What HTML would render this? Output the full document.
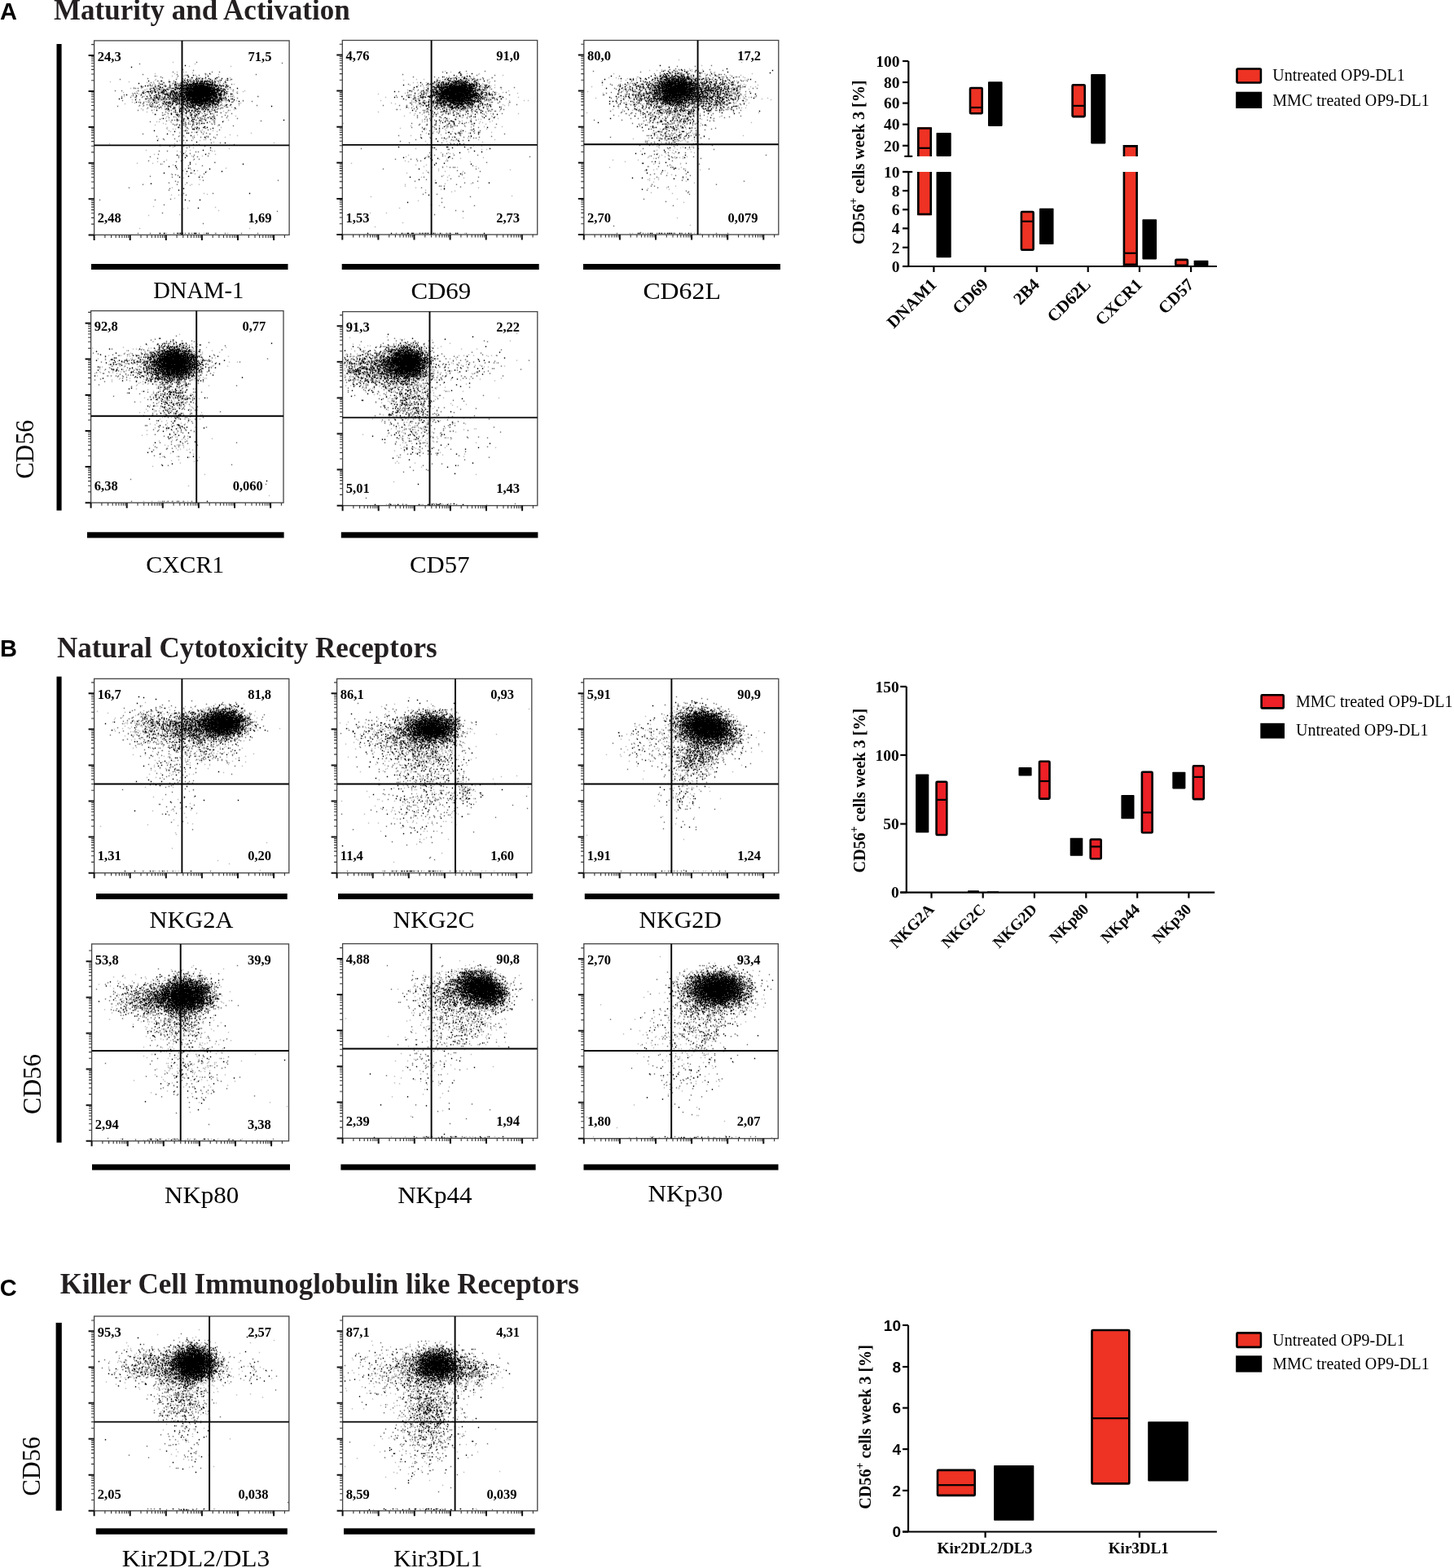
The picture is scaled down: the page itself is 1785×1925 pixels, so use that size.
<!DOCTYPE html>
<html><head><meta charset="utf-8"><title>NK cell phenotype</title>
<style>html,body{margin:0;padding:0;background:#fff;width:1785px;height:1925px;overflow:hidden}svg{display:block}</style>
</head><body>
<svg width="1785" height="1925" viewBox="0 0 1785 1925">
<rect width="1785" height="1925" fill="#fff"/>
<text x="0.0" y="24.1" font-family="'Liberation Sans', sans-serif" font-size="29" font-weight="bold" text-anchor="start" >A</text>
<text x="66.0" y="24.3" font-family="'Liberation Serif', serif" font-size="35" font-weight="bold" text-anchor="start" fill="#231F20">Maturity and Activation</text>
<rect x="69.5" y="54.0" width="6.1" height="572.7" fill="#000"/>
<text transform="translate(41.0,551.7) rotate(-90)" font-family="'Liberation Serif', serif" font-size="31.5" font-weight="normal" text-anchor="middle" textLength="72.2" lengthAdjust="spacingAndGlyphs">CD56</text>
<g transform="translate(116.5,50.5)" fill="none" stroke-linecap="square" stroke-width="1.4">
<path d="M96 26h0m27 2h0m-7 3h0m51 0h0m-66 7h0m8 0h0m3 0h0m8 1h0m-46 1h0m24 0h0m37 0h0m3 1h0m4 0h0m10 0h0m-42 1h0m13 0h1m-48 1h0m19 0h0m14 0h0m6 0h0m21 0h0m-22 1h0m-13 1h0m26 0h0m2 0h1m19 0h0m17 0h0m-49 1h0m16 0h0m2 0h0m27 0h0m-87 1h0m34 0h0m8 0h0m2 0h0m8 0h0m3 0h1m5 0h0m13 0h0m-75 1h0m17 0h0m34 0h0m2 0h0m22 0h0m17 0h0m-88 1h0m29 0h0m13 0h1m7 0h0m6 0h0m4 0h0m16 0h0m-135 1h0m23 0h0m30 0h0m39 0h0m17 0h0m2 0h0m9 0h0m4 0h2m9 0h0m-90 1h0m8 0h0m7 0h0m18 0h0m10 0h0m2 0h0m9 0h0m2 0h0m7 0h0m4 0h0m2 0h0m2 0h0m3 0h0m10 0h0m6 0h0m6 0h0m-93 1h0m6 0h0m22 0h0m7 0h0m2 0h0m4 0h0m2 0h1m6 0h1m4 0h0m5 0h0m7 0h0m17 0h2m-82 1h0m15 0h0m16 0h0m2 0h0m5 0h0m2 0h0m16 0h0m8 0h0m13 0h0m12 0h0m11 0h0m-105 1h0m5 0h0m24 0h0m7 0h0m2 0h0m36 0h0m-65 1h0m2 0h0m22 0h0m2 0h0m10 0h0m10 0h0m21 0h0m10 0h0m-84 1h0m7 0h0m3 0h0m23 0h0m9 0h1m33 0h0m7 0h0m9 0h0m-112 1h0m26 0h0m2 0h0m17 0h0m25 0h0m35 0h0m7 0h0m-116 1h0m13 0h0m11 0h1m13 0h0m2 0h0m9 0h0m4 0h0m3 0h0m46 0h0m6 0h0m4 0h0m5 0h0m-97 1h0m12 0h1m13 0h0m13 0h0m8 0h0m33 0h0m9 0h0m3 0h0m8 0h0m3 0h0m-106 1h1m14 0h0m2 0h0m15 0h1m7 0h0m2 0h0m12 0h0m3 0h0m34 0h0m5 0h0m-103 1h0m5 0h0m27 0h0m16 0h1m7 0h1m9 0h0m49 0h0m15 0h0m-133 1h0m18 0h1m9 0h0m2 0h0m15 0h0m5 0h0m2 0h0m2 0h0m5 0h0m4 0h0m35 0h0m3 0h0m12 0h0m6 0h0m5 0h0m7 0h0m-147 1h0m53 0h1m2 0h0m13 0h1m47 0h0m2 0h0m2 0h0m2 0h1m15 0h0m-128 1h0m13 0h0m7 0h0m14 0h2m20 0h0m6 0h0m41 0h0m12 0h0m6 0h0m-117 1h0m4 0h0m33 0h0m16 0h1m2 0h0m3 0h2m47 0h0m5 0h0m-101 1h0m7 0h0m9 0h0m8 0h0m6 0h0m3 0h0m53 0h0m2 0h1m6 0h0m10 0h0m-122 1h0m11 0h0m11 0h0m9 0h0m2 0h0m5 0h0m10 0h1m10 0h0m40 0h0m7 0h1m4 0h0m5 0h0m9 0h0m-134 1h0m25 0h0m18 0h0m3 0h0m17 0h0m2 0h1m9 0h0m31 0h0m3 0h0m7 0h0m6 0h0m43 0h0m-152 1h0m23 0h0m3 0h0m17 0h0m14 0h0m5 0h0m3 0h0m4 0h0m29 0h0m8 0h1m5 0h0m10 0h0m-120 1h0m17 0h0m22 0h0m5 0h0m8 0h0m15 0h0m28 0h0m5 0h0m-86 1h0m12 0h0m13 0h0m11 0h0m2 0h0m2 0h0m4 0h0m35 0h0m7 0h0m-105 1h0m37 0h0m6 0h0m2 0h0m52 0h1m14 0h0m3 0h0m-93 1h0m7 0h0m12 0h0m7 0h0m13 0h0m3 0h1m10 0h0m6 0h0m20 0h0m11 0h1m12 0h0m3 0h0m-112 1h0m2 0h0m3 0h0m10 0h0m3 0h0m3 0h0m7 0h0m3 0h0m7 0h0m2 0h3m6 0h0m6 0h0m23 0h0m2 0h0m40 0h0m-136 1h0m18 0h0m22 0h0m4 0h0m8 0h0m8 0h0m2 0h0m8 0h0m21 0h2m13 0h0m9 0h0m-112 1h0m52 0h0m5 0h1m8 0h0m15 0h0m13 0h1m3 0h0m3 0h0m29 0h0m-142 1h0m46 0h0m16 0h0m9 0h0m3 0h0m6 0h1m4 0h0m4 0h0m8 0h0m17 0h0m5 0h0m-70 1h0m15 0h0m4 0h0m7 0h0m3 0h1m23 0h0m21 0h0m-93 1h0m7 0h0m19 0h0m6 0h1m4 0h0m2 0h0m30 0h0m20 0h1m20 0h0m-123 1h0m5 0h0m15 0h0m23 0h0m6 0h0m16 0h0m5 0h0m7 0h0m9 0h0m11 0h0m-62 1h0m10 0h0m15 0h1m23 0h0m6 0h0m17 0h0m7 0h0m-92 1h0m10 0h0m13 0h0m4 0h0m2 0h0m4 0h0m14 0h1m9 0h0m8 0h0m10 0h0m5 0h0m-99 1h0m7 0h0m12 0h0m6 0h0m38 0h0m2 0h0m7 0h0m11 0h0m3 0h0m9 0h0m-93 1h0m14 0h0m13 0h0m12 0h0m9 0h0m6 0h0m2 0h0m9 0h0m3 0h1m15 0h0m28 0h0m-112 1h0m30 0h0m3 0h0m22 0h0m8 0h0m2 0h0m8 0h0m6 0h0m2 0h0m8 0h0m18 0h0m-45 1h0m5 0h0m32 0h0m-94 1h0m45 0h0m6 0h0m23 0h1m24 0h0m-92 1h0m18 0h0m5 0h0m5 0h0m11 0h1m10 0h0m10 0h0m23 0h0m-61 1h0m26 0h0m13 0h0m14 0h0m-71 1h0m29 0h0m14 0h0m6 0h0m3 0h0m10 0h0m5 0h0m-32 1h0m13 0h0m4 0h0m7 0h0m-44 1h0m14 0h0m12 0h0m10 0h0m19 0h0m28 0h0m-85 1h0m11 0h0m6 0h0m8 0h1m12 0h0m5 0h0m-31 1h0m13 0h0m17 0h0m12 0h0m4 0h0m-64 1h0m5 0h0m22 0h0m28 0h0m-27 1h0m4 0h0m18 0h0m16 0h0m-57 1h0m3 0h0m18 0h0m3 0h0m10 0h0m19 0h0m20 0h0m-70 1h0m8 0h0m14 0h0m20 0h0m22 0h0m-82 1h0m3 0h0m14 0h0m18 0h0m6 0h0m15 0h0m-38 1h0m12 0h0m6 0h0m11 0h0m23 0h0m-62 1h0m24 0h0m12 0h0m23 0h0m-56 1h0m42 0h0m-55 1h0m38 0h0m10 0h0m6 0h0m-21 1h0m5 0h0m39 0h0m-48 1h1m21 0h0m-36 1h0m18 0h0m12 0h0m36 0h0m-67 1h0m17 0h0m30 0h0m-46 1h0m7 0h0m3 0h0m13 0h0m3 0h0m7 1h0m5 0h1m4 0h0m-41 1h0m18 0h0m21 0h0m15 0h0m-52 1h0m33 0h0m4 0h0m4 0h0m16 0h0m-46 1h0m19 0h0m11 0h0m-30 1h0m88 0h0m-50 1h0m-16 1h0m40 0h0m-62 1h0m18 0h0m53 0h0m-66 1h0m11 0h0m-9 1h0m9 0h0m40 0h0m-40 1h0m-42 1h0m43 0h0m13 1h0m2 0h0m-32 1h0m25 0h0m17 2h0m-35 1h0m109 0h0m-202 1h0m80 0h0m27 1h0m-15 1h0m-14 2h0m25 1h0m44 1h0m-102 2h0m54 0h0m-16 1h0m11 0h0m32 0h0m3 0h0m-42 1h0m6 1h0m-38 2h0m75 0h0m-40 1h0m11 1h0m13 0h0m-44 5h0m20 0h0m13 0h0m-44 2h0m71 1h0m-96 1h0m19 0h0m12 1h0m41 0h0m-28 1h0m65 4h0m-50 1h0m7 1h0m8 1h0m11 1h0m-17 2h0m-26 1h0m18 0h0m11 0h0m6 2h0m-20 3h0m20 2h0m-18 6h0m8 0h0m9 0h0m-11 1h0m-22 3h0m39 7h0m4 1h0m-44 1h0m9 0h0m-5 4h0m-26 10h0m76 1h0m-34 1h0m-5 1h0m43 2h0m-48 5h0m-38 1h0m-11 16h0m135 0h0m-111 6h0m9 0h0m18 0h0m19 0h0m9 0h0m15 0h0m14 0h0" stroke="#bdbdbd"/>
<path d="M125 26h0m105 1h0m-175 1h0m53 7h0m13 1h0m-25 2h0m48 0h0m9 0h0m-17 2h0m-77 1h0m42 0h0m35 0h0m62 0h0m-86 1h0m16 0h0m-54 1h0m28 0h0m-21 1h0m44 0h0m27 0h0m-69 1h0m37 0h0m-55 1h0m43 0h0m3 0h0m-80 1h0m69 0h0m14 0h0m12 0h0m6 0h0m35 0h1m-55 1h0m3 0h2m3 0h0m11 0h0m6 0h0m3 0h0m3 0h0m3 0h0m6 0h0m8 0h0m-84 1h0m4 0h0m16 0h0m11 0h0m3 0h0m6 0h0m7 0h0m7 0h0m6 0h0m4 0h0m10 0h0m-42 1h0m11 0h1m5 0h0m3 0h0m5 0h0m4 0h0m2 0h0m2 0h0m10 0h0m-83 1h0m15 0h1m14 0h0m9 0h0m24 0h0m29 0h0m-82 1h0m17 0h0m3 0h0m2 0h0m4 0h1m8 0h0m2 0h0m31 0h0m11 0h0m-66 1h0m6 0h0m5 0h0m5 0h0m17 0h0m6 0h1m36 0h0m-94 1h0m5 0h0m28 0h1m2 0h0m4 0h0m14 0h0m26 0h0m3 0h0m4 0h0m-104 1h0m13 0h0m15 0h1m7 0h0m11 0h0m2 0h0m2 0h0m5 0h0m4 0h0m20 0h0m2 0h0m2 0h0m4 0h0m6 0h0m3 0h0m2 0h1m5 0h0m2 0h0m-105 1h0m28 0h0m11 0h0m2 0h0m20 0h0m7 0h0m21 0h0m4 0h0m3 0h0m-97 1h0m14 0h0m9 0h0m9 0h0m12 0h0m8 0h1m33 0h0m17 0h0m-113 1h0m2 0h0m3 0h0m17 0h0m6 0h0m2 0h0m16 0h1m9 0h0m3 0h0m47 0h0m-80 1h0m6 0h0m5 0h0m3 0h0m3 0h0m10 0h0m5 0h1m9 0h0m27 0h0m4 0h0m3 0h0m4 0h1m2 0h0m6 0h0m-89 1h0m6 0h0m2 0h0m3 0h0m2 0h0m3 0h0m64 0h0m16 0h0m-145 1h0m8 0h0m20 0h0m18 0h0m6 0h0m17 0h0m12 0h0m45 0h0m-91 1h0m11 0h0m4 0h0m7 0h0m6 0h0m5 0h0m2 0h0m5 0h0m9 0h0m37 0h0m2 0h0m-86 1h0m4 0h0m3 0h0m2 0h0m4 0h0m6 0h0m3 0h1m8 0h0m2 0h1m6 0h0m49 0h0m-102 1h0m3 0h0m6 0h0m21 0h0m9 0h0m2 0h0m2 0h0m3 0h0m14 0h0m4 0h0m62 0h0m-128 1h0m20 0h0m16 0h0m2 0h0m7 0h0m5 0h0m4 0h0m7 0h0m39 0h0m9 0h0m3 0h0m2 0h0m7 0h1m-133 1h0m40 0h0m15 0h0m62 0h0m5 0h0m-111 1h0m58 0h0m45 0h0m8 0h0m-125 1h0m18 0h0m8 0h0m17 0h0m4 0h0m16 0h2m5 0h0m12 0h0m29 0h0m11 0h0m9 0h0m3 0h0m2 0h0m31 0h0m-156 1h0m6 0h0m8 0h0m15 0h0m4 0h0m2 0h0m4 0h0m2 0h1m3 0h0m2 0h0m11 0h0m6 0h0m16 0h0m16 0h0m11 0h0m2 0h0m-88 1h0m4 0h0m12 0h0m3 0h0m10 0h0m8 0h0m2 0h0m31 0h0m26 0h0m14 0h0m-113 1h0m5 0h0m2 0h0m2 0h0m7 0h0m7 0h0m6 0h0m4 0h0m2 0h0m2 0h0m48 0h0m2 0h0m3 0h0m7 0h0m8 0h1m-113 1h0m16 0h0m2 0h1m6 0h0m5 0h0m2 0h0m10 0h1m2 0h1m2 0h1m6 0h0m2 0h0m5 0h0m32 0h1m-116 1h0m32 0h0m7 0h0m22 0h1m6 0h1m9 0h0m28 0h0m9 0h0m4 0h0m8 0h0m2 0h0m19 0h0m-107 1h0m17 0h0m52 0h0m3 0h0m4 0h0m3 0h0m16 0h0m23 0h0m-139 1h0m2 0h0m4 0h0m6 0h0m4 0h0m8 0h0m9 0h0m2 0h0m6 0h0m5 0h0m3 0h0m7 0h0m5 0h0m3 0h0m14 0h0m18 0h0m3 0h0m2 0h0m13 0h1m-113 1h0m4 0h0m8 0h0m6 0h0m9 0h0m4 0h0m4 0h0m13 0h0m7 0h1m4 0h0m18 0h0m5 0h0m10 0h0m2 0h0m-92 1h0m26 0h0m5 0h0m6 0h0m6 0h0m13 0h0m6 0h0m6 0h0m9 0h0m3 0h0m6 0h0m3 0h0m29 0h0m-113 1h0m3 0h0m2 0h0m10 0h0m28 0h1m2 0h0m3 0h0m12 0h0m2 0h0m2 0h1m4 0h0m4 0h0m7 0h0m2 0h0m8 0h0m-100 1h0m5 0h0m11 0h0m12 0h0m11 0h0m13 0h0m10 0h1m4 0h0m9 0h0m3 0h0m13 0h1m3 0h0m3 0h0m12 0h0m33 0h0m-171 1h0m40 0h0m3 0h0m15 0h0m18 0h0m3 0h0m16 0h0m10 0h0m2 0h0m4 0h0m13 0h0m7 0h0m-89 1h0m3 0h0m2 0h0m22 0h0m10 0h2m4 0h0m5 0h0m13 0h2m2 0h0m6 0h1m5 0h1m14 0h1m-98 1h0m25 0h0m14 0h0m6 0h0m4 0h0m7 0h0m7 0h0m2 0h2m16 0h0m7 0h0m2 0h0m-59 1h0m8 0h0m3 0h0m6 0h0m9 0h2m8 0h2m2 0h0m13 0h0m3 0h0m19 0h0m-86 1h0m4 0h0m15 0h0m3 0h0m7 0h0m15 0h0m7 0h0m2 0h0m4 0h0m3 0h0m3 0h0m-97 1h0m17 0h0m24 0h0m26 0h0m19 0h0m6 0h0m19 0h0m-73 1h0m18 0h0m4 0h0m3 0h0m13 0h0m5 0h0m7 0h0m2 0h0m-56 1h0m10 0h0m37 0h0m-51 1h0m18 0h0m17 0h0m37 0h0m6 0h0m-71 1h0m33 0h0m12 0h0m9 0h0m24 0h0m-82 1h0m22 0h0m9 0h0m21 0h0m-55 1h1m18 0h0m2 0h0m18 0h0m2 0h1m21 0h0m4 0h0m10 0h0m-58 1h0m10 0h0m6 0h1m5 0h0m11 0h0m28 0h0m-66 1h0m6 0h0m20 0h0m18 0h0m3 0h3m9 0h0m-65 1h0m30 0h0m2 0h0m3 0h0m3 0h0m6 0h0m27 0h0m-52 1h0m17 0h0m3 0h0m2 0h0m10 0h0m33 0h0m-95 1h0m51 0h0m3 0h1m10 0h0m-50 1h0m3 0h0m5 0h0m16 0h0m2 0h0m3 0h0m-36 1h0m13 0h0m5 0h0m22 0h0m2 0h1m15 0h1m57 0h0m-136 1h0m52 0h0m21 0h0m-30 1h0m4 0h0m10 0h0m3 0h0m19 0h0m-38 1h0m2 0h0m4 0h0m6 0h0m5 0h0m2 0h0m4 0h0m-36 1h0m5 0h0m11 0h0m3 0h0m2 0h0m4 0h0m23 0h0m3 0h0m-49 1h0m2 0h0m9 0h0m2 0h0m41 0h1m17 1h0m-59 1h0m8 0h0m-17 1h0m11 0h0m10 0h0m10 0h0m-19 1h0m22 0h0m-11 1h0m17 0h0m-3 1h0m14 0h0m-40 1h0m6 2h0m12 0h0m6 1h0m-78 1h0m74 0h0m8 0h0m-45 1h0m54 0h0m-41 1h0m-33 1h0m27 0h0m34 0h0m2 0h0m-17 1h0m8 0h0m9 0h0m7 0h0m-10 1h0m12 0h0m-64 1h0m14 0h0m-13 1h0m57 0h0m-33 1h0m10 0h0m-18 1h0m42 2h0m11 0h0m-33 2h0m7 0h0m43 0h0m-79 2h0m6 0h0m11 0h0m26 0h0m-19 1h0m-3 1h0m29 3h0m-63 1h0m10 0h0m35 1h0m3 0h0m-10 2h0m23 0h0m-62 1h0m34 1h0m10 0h0m-19 1h0m4 0h0m32 0h0m-71 1h0m53 0h0m5 0h0m-23 1h0m-26 1h0m45 1h0m6 0h0m-62 2h0m40 0h0m-21 1h0m15 0h0m47 1h0m-66 2h0m34 2h0m17 0h0m-15 3h0m-16 1h0m7 2h0m26 4h0m-39 1h0m4 0h0m3 1h0m-34 1h0m27 1h0m37 0h0m1 4h0m92 0h0m-126 1h0m3 1h0m-11 1h0m22 0h0m-54 2h0m42 0h0m-59 4h0m50 1h0m-1 2h0m18 4h0m36 0h0m-33 2h0m-19 5h0m-87 1h0m68 0h0m42 1h0m-31 5h0m139 8h0m-141 2h0m50 13h0m-80 12h0m15 0h0m18 0h0m11 0h0m4 0h0m3 0h0m4 0h0m3 0h0m4 0h1m3 0h0m9 0h0m20 0h0m12 0h0m20 0h0m20 0h0" stroke="#707070"/>
<path d="M111 30h0m-66 2h0m96 8h0m-27 2h0m7 0h0m18 1h0m-24 1h0m4 1h0m17 0h0m14 0h0m-25 1h0m3 0h0m4 0h0m8 0h0m8 0h0m8 0h0m7 0h0m-39 1h0m18 0h0m-32 1h0m4 0h0m41 0h0m8 0h0m-97 1h0m16 0h0m40 0h0m3 0h0m2 0h0m3 0h0m2 0h0m3 0h1m3 0h0m5 0h0m-53 1h1m7 0h0m9 0h0m6 0h1m3 0h0m13 0h1m3 0h0m2 0h0m4 0h0m6 0h1m12 0h0m-54 1h0m4 0h0m2 0h0m9 0h1m3 0h1m3 0h1m4 0h0m8 0h0m2 0h1m-91 1h0m59 0h0m7 0h1m2 0h3m2 0h5m2 0h0m2 0h2m5 0h0m-63 1h0m2 0h0m16 0h0m8 0h0m6 0h1m2 0h3m2 0h3m2 0h0m2 0h0m2 0h0m3 0h1m2 0h9m2 0h0m-79 1h0m30 0h0m2 0h0m5 0h1m3 0h0m2 0h2m2 0h6m2 0h2m2 0h0m2 0h5m4 0h1m2 0h3m3 0h1m2 0h0m3 0h0m9 0h0m-100 1h0m3 0h0m13 0h0m9 0h0m5 0h0m11 0h0m4 0h0m3 0h0m2 0h0m3 0h0m3 0h0m2 0h0m2 0h14m2 0h0m2 0h0m4 0h0m2 0h0m2 0h2m5 0h0m3 0h0m-101 1h0m17 0h0m6 0h0m26 0h0m2 0h1m3 0h0m2 0h0m2 0h3m2 0h5m2 0h11m2 0h0m2 0h0m6 0h0m12 0h0m2 0h0m-83 1h0m3 0h0m9 0h0m7 0h1m5 0h0m2 0h0m6 0h2m2 0h0m2 0h0m2 0h22m2 0h2m5 0h0m14 0h0m-94 1h0m24 0h0m5 0h2m2 0h1m2 0h37m2 0h0m3 0h1m4 0h0m20 0h0m-107 1h0m5 0h0m6 0h0m10 0h0m9 0h1m5 0h0m5 0h0m3 0h3m2 0h25m3 0h1m2 0h1m2 0h1m6 0h1m-75 1h0m2 0h0m13 0h0m7 0h2m2 0h4m2 0h1m2 0h32m2 0h0m7 0h0m-91 1h0m4 0h0m11 0h0m3 0h0m8 0h2m8 0h0m2 0h0m2 0h0m4 0h6m2 0h26m3 0h0m2 0h1m2 0h3m-94 1h2m2 0h0m6 0h0m9 0h0m2 0h0m9 0h0m3 0h0m7 0h0m7 0h2m2 0h30m2 0h0m3 0h1m5 0h0m3 0h0m3 0h0m-103 1h0m15 0h0m4 0h0m4 0h1m11 0h0m3 0h1m2 0h1m5 0h0m2 0h33m2 0h7m5 0h0m5 0h0m-100 1h0m10 0h0m14 0h0m9 0h0m5 0h2m4 0h3m3 0h2m2 0h34m4 0h0m2 0h0m5 0h0m3 0h0m-84 1h0m8 0h0m2 0h1m4 0h0m2 0h0m3 0h0m2 0h0m2 0h0m3 0h0m2 0h0m5 0h34m2 0h2m2 0h3m12 0h0m-128 1h0m18 0h0m18 0h0m12 0h0m2 0h1m3 0h0m3 0h0m3 0h0m4 0h0m2 0h4m2 0h36m2 0h0m3 0h0m2 0h1m4 0h0m-108 1h0m17 0h0m5 0h0m6 0h1m10 0h0m2 0h0m4 0h1m2 0h0m2 0h0m2 0h0m3 0h1m3 0h0m2 0h31m2 0h4m4 0h2m-91 1h0m11 0h0m11 0h0m6 0h0m8 0h0m4 0h6m2 0h2m2 0h25m2 0h0m3 0h4m-81 1h0m7 0h0m14 0h0m3 0h0m3 0h0m2 0h0m3 0h0m3 0h0m3 0h0m2 0h1m3 0h0m2 0h2m2 0h4m2 0h9m2 0h3m2 0h4m3 0h2m4 0h0m6 0h0m-127 1h0m40 0h0m2 0h0m2 0h0m2 0h0m7 0h0m10 0h0m3 0h2m6 0h0m2 0h0m2 0h6m2 0h15m2 0h9m2 0h0m2 0h1m3 0h1m2 0h0m2 0h0m-128 1h0m33 0h0m21 0h0m4 0h0m4 0h0m2 0h0m2 0h0m2 0h0m2 0h0m2 0h0m2 0h0m2 0h2m2 0h1m3 0h17m2 0h9m3 0h1m2 0h0m6 0h2m5 0h0m8 0h0m-119 1h0m22 0h0m6 0h0m4 0h0m20 0h0m4 0h0m2 0h1m2 0h0m2 0h3m2 0h24m3 0h2m4 0h2m2 0h1m8 0h0m7 0h0m-99 1h0m25 0h0m2 0h1m4 0h0m2 0h0m2 0h0m5 0h4m2 0h1m2 0h4m2 0h11m2 0h5m2 0h0m3 0h1m4 0h0m9 0h0m-80 1h0m11 0h2m11 0h1m2 0h1m5 0h21m2 0h0m2 0h0m2 0h1m2 0h2m2 0h0m13 0h0m12 0h0m-126 1h0m22 0h0m12 0h0m3 0h0m3 0h1m7 0h0m2 0h0m3 0h0m3 0h0m2 0h0m4 0h1m3 0h0m2 0h12m2 0h0m2 0h1m4 0h6m5 0h0m-75 1h0m14 0h0m3 0h0m3 0h0m12 0h0m6 0h0m4 0h11m2 0h2m2 0h3m2 0h0m5 0h1m6 0h0m-81 1h0m13 0h0m3 0h0m5 0h0m3 0h0m6 0h0m2 0h1m2 0h0m3 0h0m4 0h1m2 0h0m3 0h0m5 0h1m3 0h5m2 0h0m2 0h1m3 0h1m2 0h0m2 0h1m2 0h0m-61 1h0m7 0h0m5 0h0m6 0h0m3 0h0m2 0h0m6 0h0m3 0h1m2 0h1m2 0h0m5 0h1m3 0h0m5 0h2m6 0h0m2 0h1m11 0h0m5 0h0m-77 1h0m21 0h0m3 0h0m5 0h2m2 0h0m3 0h4m5 0h0m2 0h0m2 0h0m2 0h0m3 0h0m17 0h0m-92 1h0m8 0h0m13 0h0m2 0h0m16 0h0m4 0h1m2 0h0m2 0h0m3 0h1m7 0h2m4 0h0m7 0h0m4 0h0m72 0h0m-136 1h0m12 0h0m23 0h1m2 0h2m2 0h0m11 0h0m2 0h0m3 0h0m10 0h0m-70 1h0m18 0h1m8 0h0m2 0h0m5 0h0m5 0h0m4 0h0m5 0h0m7 0h0m3 0h0m8 0h0m27 0h0m-84 1h0m2 0h0m6 0h0m9 0h0m6 0h0m12 0h0m5 0h0m4 0h0m-42 1h0m14 0h0m7 0h0m14 0h1m7 0h0m3 0h0m3 0h0m-63 1h0m23 0h0m5 0h0m8 0h0m4 0h0m3 0h0m4 0h0m24 0h0m-43 1h2m9 0h0m4 0h0m5 0h0m3 0h0m8 0h0m-36 1h0m5 0h0m9 0h0m9 0h0m4 0h0m3 0h0m12 0h0m7 0h0m2 0h0m-43 1h0m5 0h0m5 0h0m-23 1h0m12 0h0m6 0h0m15 0h1m14 0h0m-68 1h0m20 0h0m6 0h0m2 0h0m17 0h0m6 0h0m-24 1h0m17 0h0m18 0h0m-13 1h0m10 0h0m-26 2h0m7 0h0m5 0h0m20 0h0m-55 1h0m30 0h1m28 0h0m4 0h0m-46 1h0m8 0h0m11 0h0m2 0h0m-21 1h0m28 0h0m7 0h0m96 0h0m-123 1h0m10 0h0m-12 1h0m14 0h0m36 0h0m-19 1h0m-7 1h0m3 0h0m-9 1h0m-21 1h0m16 0h0m15 2h0m-32 1h0m23 0h0m8 0h0m4 0h0m-13 1h0m3 0h0m17 0h0m-25 1h2m-49 2h0m38 0h0m-13 1h0m27 1h0m-12 1h0m2 0h0m-26 1h0m29 2h0m17 2h0m-58 4h0m36 0h0m12 2h0m35 1h0m-80 3h0m62 3h0m-9 3h0m-24 4h0m27 1h0m-35 1h0m12 1h0m-2 2h0m6 6h0m0 2h0m65 0h0m-83 2h0m-8 1h0m9 1h0m15 1h0m26 1h0m-19 2h0m-9 1h0m43 0h0m-20 1h0m-51 1h0m33 0h0m-3 4h0m-11 1h0m24 0h0m-59 8h0m40 6h0m-6 2h0m87 4h0m-83 2h0m4 6h0m18 0h0m-2 10h0m-47 31h0m5 0h0m17 0h0m3 0h0m2 0h0m15 0h2m13 0h0m2 0h0" stroke="#000"/>
</g>
<rect x="115.6" y="49.9" width="239.5" height="238.5" fill="none" stroke="#444" stroke-width="1.3"/>
<path d="M223.5 49.9V288.4M115.6 178.4H355.1" stroke="#000" stroke-width="1.9" fill="none"/>
<path d="M108.6 288.4H115.6M108.6 244.3H115.6M108.6 200.2H115.6M108.6 156.1H115.6M108.6 112.0H115.6M108.6 67.9H115.6M115.6 288.4V294.9M159.7 288.4V294.9M203.8 288.4V294.9M247.9 288.4V294.9M292.0 288.4V294.9M336.1 288.4V294.9" stroke="#111" stroke-width="2" fill="none"/>
<path d="M112.1 275.1H115.6M112.1 267.4H115.6M112.1 261.8H115.6M112.1 257.6H115.6M112.1 254.1H115.6M112.1 251.1H115.6M112.1 248.6H115.6M112.1 246.3H115.6M112.1 231.0H115.6M112.1 223.3H115.6M112.1 217.7H115.6M112.1 213.5H115.6M112.1 210.0H115.6M112.1 207.0H115.6M112.1 204.5H115.6M112.1 202.2H115.6M112.1 186.9H115.6M112.1 179.2H115.6M112.1 173.6H115.6M112.1 169.4H115.6M112.1 165.9H115.6M112.1 162.9H115.6M112.1 160.4H115.6M112.1 158.1H115.6M112.1 142.8H115.6M112.1 135.1H115.6M112.1 129.5H115.6M112.1 125.3H115.6M112.1 121.8H115.6M112.1 118.8H115.6M112.1 116.3H115.6M112.1 114.0H115.6M112.1 98.7H115.6M112.1 91.0H115.6M112.1 85.4H115.6M112.1 81.2H115.6M112.1 77.7H115.6M112.1 74.7H115.6M112.1 72.2H115.6M112.1 69.9H115.6M112.1 54.6H115.6M128.9 288.4V291.9M136.6 288.4V291.9M142.2 288.4V291.9M146.4 288.4V291.9M149.9 288.4V291.9M152.9 288.4V291.9M155.4 288.4V291.9M157.7 288.4V291.9M173.0 288.4V291.9M180.7 288.4V291.9M186.3 288.4V291.9M190.5 288.4V291.9M194.0 288.4V291.9M197.0 288.4V291.9M199.5 288.4V291.9M201.8 288.4V291.9M217.1 288.4V291.9M224.8 288.4V291.9M230.4 288.4V291.9M234.6 288.4V291.9M238.1 288.4V291.9M241.1 288.4V291.9M243.6 288.4V291.9M245.9 288.4V291.9M261.2 288.4V291.9M268.9 288.4V291.9M274.5 288.4V291.9M278.7 288.4V291.9M282.2 288.4V291.9M285.2 288.4V291.9M287.7 288.4V291.9M290.0 288.4V291.9M305.3 288.4V291.9M313.0 288.4V291.9M318.6 288.4V291.9M322.8 288.4V291.9M326.3 288.4V291.9M329.3 288.4V291.9M331.8 288.4V291.9M334.1 288.4V291.9M349.4 288.4V291.9" stroke="#333" stroke-width="1.1" fill="none"/>
<text x="119.8" y="74.7" font-family="'Liberation Serif', serif" font-size="16.5" font-weight="bold" text-anchor="start" >24,3</text>
<text x="333.4" y="74.7" font-family="'Liberation Serif', serif" font-size="16.5" font-weight="bold" text-anchor="end" >71,5</text>
<text x="119.8" y="273.1" font-family="'Liberation Serif', serif" font-size="16.5" font-weight="bold" text-anchor="start" >2,48</text>
<text x="333.4" y="273.1" font-family="'Liberation Serif', serif" font-size="16.5" font-weight="bold" text-anchor="end" >1,69</text>
<g transform="translate(420.5,50.5)" fill="none" stroke-linecap="square" stroke-width="1.4">
<path d="M126 37h0m7 1h0m20 2h0m15 0h0m-1 1h0m30 1h0m-66 1h0m10 1h0m8 0h0m4 0h0m8 0h0m-26 1h0m11 0h0m37 0h0m-56 1h0m7 0h1m19 0h0m2 0h0m-65 1h0m9 0h0m23 0h0m10 0h0m15 0h0m3 0h0m12 0h0m7 0h0m10 0h0m-105 1h0m45 0h0m5 0h0m3 0h0m8 0h0m31 0h0m-47 1h0m7 0h0m7 0h1m2 0h0m3 0h0m12 0h0m4 0h0m-41 1h0m6 0h0m4 0h1m3 0h0m8 0h1m16 0h1m3 0h0m5 0h0m2 0h0m2 0h0m11 0h0m3 0h0m-94 1h0m5 0h0m11 0h0m9 0h0m2 0h0m2 0h0m18 0h2m6 0h0m2 0h1m6 0h0m7 0h0m22 0h0m-68 1h1m10 0h0m6 0h0m2 0h0m12 0h0m10 0h0m10 0h0m9 0h0m8 0h0m-68 1h0m3 0h1m15 0h1m5 0h0m18 0h0m9 0h0m9 0h0m-90 1h0m10 0h0m13 0h0m6 0h0m4 0h0m13 0h1m9 0h0m2 0h0m30 0h0m16 0h0m-88 1h0m6 0h0m15 0h0m33 0h1m3 0h0m2 0h0m8 0h0m3 0h0m5 0h0m7 0h0m-77 1h0m17 0h0m3 0h0m29 0h0m9 0h0m8 0h1m2 0h0m-74 1h0m3 0h0m57 0h0m3 0h0m8 0h1m15 0h0m-75 1h0m2 0h0m12 0h0m26 0h0m13 0h0m-65 1h0m17 0h1m46 0h0m5 0h0m12 0h0m14 0h0m-115 1h0m8 0h0m22 0h0m2 0h0m4 0h0m2 0h0m14 0h0m30 0h0m13 0h0m2 0h0m-85 1h0m8 0h0m65 0h0m2 0h0m2 0h0m11 0h0m24 0h0m-103 1h0m2 0h0m2 0h0m13 0h0m46 0h0m4 0h2m8 0h0m-74 1h0m3 0h0m4 0h0m7 0h0m40 0h0m8 0h0m9 0h0m14 0h0m8 0h0m-120 1h0m17 0h0m3 0h0m8 0h0m55 0h0m9 0h0m15 0h0m31 0h0m-171 1h0m36 0h0m13 0h0m6 0h0m10 0h1m7 0h0m22 0h0m26 0h0m3 0h0m4 0h0m4 0h0m3 0h0m8 0h0m5 0h0m-103 1h0m9 0h0m10 0h1m46 0h0m12 0h0m4 0h0m-73 1h0m8 0h0m20 0h0m46 0h1m5 0h0m-89 1h0m24 0h1m16 0h0m21 0h0m4 0h0m9 0h0m6 0h0m8 0h0m18 0h0m-143 1h0m31 0h0m6 0h0m23 0h0m7 0h0m54 0h0m3 0h0m6 0h0m9 0h0m24 0h0m-122 1h0m22 0h0m2 0h0m43 0h0m2 0h0m3 0h0m13 0h0m2 0h0m6 0h0m3 0h0m5 0h0m-104 1h0m4 0h0m3 0h0m12 0h0m5 0h0m3 0h0m33 0h0m9 0h2m2 0h0m6 0h0m6 0h0m5 0h0m13 0h0m7 0h0m-107 1h0m25 0h0m4 0h2m28 0h0m3 0h0m5 0h0m-114 1h0m38 0h0m14 0h0m9 0h0m2 0h0m40 0h0m15 0h0m11 0h1m28 0h0m18 0h0m5 0h0m-143 1h0m15 0h0m13 0h0m5 0h0m20 0h0m16 0h0m3 0h0m17 0h0m5 0h0m-92 1h0m2 0h0m5 0h0m7 0h0m18 0h0m10 0h1m11 0h1m15 0h1m5 0h0m18 0h0m25 0h0m-146 1h0m25 0h0m5 0h0m35 0h1m4 0h0m10 0h0m8 0h0m25 0h0m-108 1h0m20 0h0m24 0h0m17 0h0m2 0h2m4 0h0m8 0h0m8 0h0m8 0h0m3 0h0m43 0h0m-111 1h0m23 0h0m11 0h0m3 0h0m4 0h0m16 0h0m4 0h0m2 0h0m8 0h0m14 0h1m4 0h0m14 0h0m-106 1h0m11 0h0m16 0h0m4 0h1m4 0h0m30 0h0m5 0h0m4 0h0m4 0h0m29 0h0m5 0h0m-126 1h0m9 0h0m8 0h1m14 0h1m5 0h1m15 0h0m12 0h0m13 0h1m-62 1h0m11 0h0m7 0h0m3 0h0m5 0h0m4 0h0m11 0h0m20 0h0m5 0h0m2 0h0m2 0h0m8 0h0m8 0h0m-104 1h0m3 0h0m33 0h0m12 0h0m5 0h0m8 0h1m7 0h0m7 0h0m12 0h0m11 0h0m2 0h0m-67 1h0m15 0h0m5 0h0m2 0h0m7 0h0m5 0h0m12 0h0m3 0h0m-95 1h0m5 0h0m20 0h0m12 0h0m2 0h1m17 0h0m17 0h1m8 0h0m5 0h0m-49 1h0m31 0h0m4 0h0m11 0h0m10 0h0m-61 1h0m22 0h0m5 0h0m25 0h0m28 0h0m13 0h0m-149 1h0m57 0h0m12 0h0m4 0h0m13 0h0m14 0h0m-61 1h0m23 0h0m35 0h0m24 0h0m-76 1h0m35 0h0m20 0h0m16 0h0m6 0h0m11 0h0m5 0h0m34 0h0m-118 1h0m39 0h0m5 0h0m16 0h0m-70 1h0m4 0h0m-16 1h0m25 0h0m42 0h0m11 0h0m17 0h0m12 0h0m-44 1h0m6 0h0m3 0h0m9 0h0m27 0h0m-82 1h0m45 0h0m-23 1h0m7 0h0m11 0h0m11 0h0m5 0h0m23 0h0m10 0h0m-24 1h0m3 0h0m-72 1h0m26 0h0m15 0h0m-12 1h0m8 0h0m8 0h0m4 0h0m37 0h0m-86 1h0m3 0h0m8 0h0m60 0h0m12 0h0m-66 1h0m40 0h0m17 0h0m-171 1h0m119 0h0m12 0h0m29 0h0m7 0h0m-40 1h0m21 0h0m9 0h0m3 0h0m15 0h0m-92 2h0m52 0h0m4 0h0m-10 1h0m3 0h1m17 0h0m7 0h0m16 0h0m22 0h0m-68 1h0m7 0h0m23 0h0m29 0h1m-117 1h0m27 0h0m30 0h0m-25 1h0m10 0h0m13 0h0m10 0h0m41 0h0m-76 1h0m45 0h0m11 0h1m-31 1h0m18 0h0m14 0h0m-47 1h0m4 0h0m19 0h0m11 0h0m5 0h0m-35 1h0m3 0h0m23 0h0m27 0h0m14 0h0m-80 1h0m43 0h1m8 0h0m-34 2h0m-37 1h0m53 1h0m-30 1h0m22 1h0m25 0h0m3 0h0m-14 1h0m24 1h0m20 0h0m-63 1h0m9 0h0m5 0h0m-36 1h0m26 0h0m44 1h0m-40 1h0m-28 1h0m25 0h0m1 1h0m51 0h0m-61 1h0m41 1h0m10 0h0m-41 1h0m-40 2h0m39 1h0m42 0h0m6 0h0m-22 3h0m-34 1h0m9 0h0m2 1h0m4 0h0m-55 2h0m24 0h0m3 0h0m18 1h0m-48 1h0m26 0h0m69 1h0m-28 1h0m-26 1h0m9 0h0m-51 2h0m50 0h0m-46 1h0m76 0h0m-146 2h0m102 1h0m-23 1h0m13 0h0m-3 2h0m23 0h0m5 0h0m36 0h0m-54 1h0m31 0h0m26 1h0m-49 1h0m88 1h0m-103 1h0m15 0h0m8 1h0m22 0h0m-69 2h0m20 0h0m7 0h0m41 0h0m-23 3h0m7 0h0m-34 2h0m32 0h0m20 1h0m-35 3h0m15 0h0m-3 4h0m32 0h0m-81 1h0m0 2h0m13 2h0m77 0h0m-46 2h0m-19 1h0m36 1h0m-4 1h0m74 5h0m-173 1h0m58 5h0m26 6h0m-49 3h0m-36 6h0m20 0h0m94 6h0m-74 6h0m-34 5h0m35 8h0m2 0h0m2 0h0m10 0h0m2 0h0m2 0h0m10 0h1m7 0h0m6 0h0m5 0h0m5 0h0m3 0h0m3 0h0m9 0h0m8 0h0" stroke="#bdbdbd"/>
<path d="M152 37h0m23 0h0m-52 1h0m-49 3h0m72 0h0m0 1h0m19 0h0m22 0h0m-47 1h0m-53 1h0m26 0h0m12 0h0m22 0h0m3 0h0m7 0h0m-39 1h0m10 0h0m3 0h0m6 0h0m6 0h0m6 0h0m23 0h0m12 0h0m-47 1h0m21 0h0m3 0h1m11 0h0m-57 1h0m37 0h0m13 0h0m3 0h0m4 0h0m-56 1h0m15 0h0m5 0h0m11 0h0m4 0h0m7 0h0m3 0h0m16 0h0m-59 1h0m14 0h0m14 0h1m2 0h0m3 0h0m34 0h0m-63 1h0m10 0h0m27 0h0m-48 1h0m14 0h1m18 0h1m3 0h0m4 0h1m10 0h0m-56 1h0m7 0h0m5 0h0m7 0h0m6 0h0m7 0h0m21 0h0m5 0h0m-86 1h0m17 0h0m6 0h1m2 0h1m12 0h0m5 0h0m28 0h0m10 0h0m-60 1h0m7 0h0m8 0h0m7 0h0m2 0h0m13 0h0m3 0h0m9 0h0m6 0h0m2 0h0m5 0h0m-69 1h0m27 0h0m2 0h0m3 0h1m7 0h0m40 0h0m-84 1h0m21 0h0m5 0h1m15 0h0m14 0h0m14 0h0m3 0h0m-55 1h0m4 0h0m40 0h0m15 0h0m5 0h1m2 0h0m4 0h0m13 0h1m16 0h0m-86 1h0m37 0h0m6 0h0m9 0h0m-90 1h0m24 0h0m3 0h1m9 0h1m33 0h0m4 0h0m4 0h1m5 0h0m11 0h0m-90 1h0m21 0h0m9 0h0m44 0h1m3 0h0m5 0h0m-94 1h0m3 0h0m12 0h0m7 0h1m3 0h0m4 0h0m3 0h0m5 0h0m2 0h0m41 0h0m-94 1h0m16 0h0m12 0h0m13 0h0m3 0h0m40 0h0m6 0h1m12 0h0m13 0h0m-105 1h0m16 0h0m13 0h1m34 0h0m29 0h1m6 0h0m21 0h0m-99 1h1m10 0h1m34 0h0m11 0h0m3 0h0m-50 1h0m51 0h0m3 0h0m11 0h0m4 0h0m2 0h0m5 0h0m-106 1h0m2 0h0m15 0h0m4 0h0m7 0h1m6 0h0m33 0h0m30 0h0m2 0h0m5 0h0m18 0h0m-139 1h0m13 0h0m2 0h0m7 0h0m7 0h0m22 0h0m2 0h1m5 0h0m4 0h1m28 0h0m2 0h0m16 0h0m8 0h0m-91 1h0m8 0h0m8 0h0m2 0h0m6 0h0m2 0h0m37 0h0m9 0h0m-98 1h0m21 0h0m9 0h0m2 0h1m8 0h0m10 0h0m5 0h0m3 0h0m20 0h0m2 0h0m17 0h1m7 0h0m12 0h0m-87 1h1m18 0h0m2 0h0m5 0h0m34 0h2m8 0h1m4 0h0m4 0h0m-84 1h0m30 0h0m22 0h0m8 0h0m5 0h1m6 0h1m23 0h0m-111 1h0m11 0h0m17 0h1m6 0h0m13 0h0m14 0h0m9 0h0m17 0h1m3 0h0m9 0h1m7 0h0m-92 1h0m5 0h1m11 0h0m3 0h0m2 0h0m13 0h0m39 0h0m6 0h0m5 0h0m-89 1h0m23 0h0m7 0h0m3 0h0m5 0h0m5 0h0m6 0h0m12 0h0m3 0h0m7 0h0m2 0h0m5 0h0m24 0h0m-90 1h0m2 0h0m4 0h0m7 0h1m3 0h2m9 0h0m22 0h0m12 0h0m5 0h0m13 0h1m9 0h0m12 0h0m-122 1h1m10 0h0m2 0h0m3 0h1m11 0h0m7 0h0m26 0h0m3 0h0m6 0h0m5 0h0m3 0h1m7 0h0m22 0h0m-85 1h0m4 0h0m8 0h0m6 0h0m3 0h0m24 0h0m-66 1h0m12 0h0m15 0h0m5 0h0m3 0h0m2 0h0m6 0h0m13 0h0m6 0h0m6 0h0m8 0h0m6 0h0m10 0h0m37 0h0m-164 1h0m20 0h0m9 0h0m27 0h0m5 0h0m4 0h0m4 0h0m5 0h1m4 0h0m2 0h0m4 0h1m2 0h0m2 0h0m8 0h0m6 0h0m13 0h0m5 0h0m-51 1h0m2 0h0m2 0h0m4 0h2m17 0h0m2 0h1m5 0h0m4 0h0m6 0h0m3 0h0m8 0h0m2 0h0m-70 1h0m7 0h0m5 0h0m3 0h0m6 0h1m11 0h1m6 0h2m2 0h0m3 0h0m11 0h0m6 0h0m22 0h0m-110 1h0m34 0h0m9 0h0m5 0h0m3 0h0m13 0h0m6 0h0m4 0h0m-71 1h0m4 0h0m13 0h0m12 0h0m19 0h0m6 0h1m2 0h0m4 0h0m2 0h0m2 0h0m25 0h0m17 0h0m-128 1h0m49 0h0m4 0h0m11 0h0m19 0h0m14 0h1m13 0h0m5 0h1m10 0h0m4 0h0m-99 1h0m2 0h0m31 0h0m9 0h0m3 0h0m4 0h0m5 0h0m5 0h0m22 0h0m-90 1h0m14 0h0m5 0h0m2 0h0m14 0h1m10 0h2m7 0h0m14 0h0m20 0h0m3 0h0m5 0h1m-85 1h0m2 0h0m18 0h0m3 0h0m2 0h0m4 0h0m27 0h0m11 0h0m6 0h0m-81 1h0m5 0h0m10 0h0m17 0h0m13 0h0m-30 1h0m7 0h0m10 0h0m5 0h0m40 0h0m13 0h0m11 0h0m-90 1h0m6 0h0m11 0h0m7 0h0m10 0h0m11 0h0m23 0h0m11 0h0m-63 1h0m14 0h0m8 0h0m-52 1h0m19 0h0m4 0h0m-12 1h0m8 0h0m8 0h1m20 0h0m16 0h0m5 0h0m11 0h0m15 0h0m-95 1h0m29 0h0m32 0h0m-46 1h0m-6 1h0m3 0h0m34 0h0m-30 1h0m5 0h0m14 0h0m2 0h0m29 0h0m6 0h0m-60 1h0m17 0h0m8 0h0m28 0h0m-42 1h0m5 0h0m11 0h0m4 0h0m2 0h0m7 0h0m-7 1h0m15 0h0m-67 1h0m30 0h0m28 0h0m7 0h0m-55 1h0m9 0h0m10 0h0m16 0h0m29 0h0m30 0h0m-95 1h0m9 0h1m9 0h2m14 0h0m4 0h0m5 0h0m-19 1h0m8 0h0m6 0h0m5 0h0m3 0h0m9 0h0m11 0h0m-50 1h0m18 0h0m6 0h0m-50 1h0m13 0h0m15 0h0m20 0h0m34 0h0m-66 1h0m22 0h0m-4 2h0m40 0h0m-52 1h0m55 0h0m7 0h0m-71 1h0m21 0h0m26 0h0m16 0h0m-18 1h0m25 0h0m-57 1h0m7 0h0m9 0h0m11 0h0m4 0h1m19 0h0m-53 1h0m36 0h0m54 0h0m-103 1h0m48 0h0m-75 1h0m76 0h0m13 0h0m-27 1h0m24 0h0m28 0h0m-87 1h0m35 0h0m4 0h0m14 0h0m19 0h0m-60 1h0m14 0h0m39 0h0m3 0h0m-37 1h0m13 0h0m-50 1h0m44 0h0m6 0h0m-4 1h0m12 0h0m-77 1h0m11 2h0m40 0h0m11 1h0m4 0h0m4 0h0m8 0h0m-8 2h0m-31 2h0m1 1h0m46 0h1m-135 1h0m92 1h0m15 0h1m23 0h0m-47 4h0m21 1h0m-5 1h0m-14 1h0m4 0h0m24 0h0m29 0h0m-43 1h0m9 1h0m98 0h0m-128 1h0m6 1h0m27 0h0m-70 1h0m19 0h0m7 0h0m1 2h0m4 0h0m33 0h0m48 2h0m-17 4h0m-37 2h0m9 0h0m4 0h0m2 0h0m-88 2h0m114 0h0m-23 2h0m28 1h0m-64 1h0m45 1h0m-3 2h0m-25 2h0m21 0h0m-43 1h0m67 0h0m-34 2h0m-30 1h0m-14 2h0m77 0h0m-52 2h0m36 0h0m10 0h0m-20 2h0m-21 2h0m2 0h0m4 0h0m20 1h0m-48 1h0m28 2h0m-23 4h0m-3 2h0m17 0h0m41 3h0m-35 2h0m0 5h0m-13 3h0m53 1h0m-37 2h0m14 4h0m9 1h0m-35 4h0m-47 23h0m34 0h0m14 0h0m14 0h0m24 0h0" stroke="#707070"/>
<path d="M144 38h0m-16 1h0m15 0h0m2 1h0m14 0h0m-22 2h0m8 0h0m8 1h0m3 0h0m-33 1h0m16 1h0m11 0h0m-20 1h0m3 0h0m7 0h0m9 0h1m2 0h0m-26 1h0m3 0h0m11 0h0m5 0h0m15 0h0m-30 1h0m13 0h0m2 0h1m9 0h0m10 0h0m-49 1h0m15 0h1m6 0h1m2 0h2m8 0h0m12 0h0m11 0h0m-61 1h0m10 0h0m12 0h1m3 0h3m2 0h2m2 0h0m2 0h1m2 0h0m9 0h0m-66 1h0m22 0h1m3 0h0m2 0h0m6 0h1m6 0h3m3 0h0m5 0h1m3 0h1m11 0h0m-59 1h0m6 0h0m13 0h0m3 0h0m3 0h0m3 0h0m3 0h0m2 0h0m2 0h0m2 0h0m2 0h3m2 0h2m5 0h0m3 0h0m6 0h0m-56 1h0m9 0h0m4 0h0m2 0h0m2 0h4m3 0h2m3 0h2m2 0h0m2 0h0m2 0h2m2 0h2m4 0h5m4 0h0m3 0h0m-93 1h0m40 0h0m2 0h0m4 0h0m3 0h0m4 0h0m3 0h3m2 0h2m6 0h0m2 0h5m2 0h4m4 0h1m2 0h0m11 0h0m2 0h0m-60 1h2m3 0h0m4 0h0m5 0h4m2 0h15m3 0h1m2 0h0m2 0h2m3 0h0m4 0h0m11 0h0m-89 1h0m20 0h1m4 0h1m4 0h0m3 0h0m2 0h7m2 0h12m2 0h4m2 0h4m2 0h0m7 0h0m8 0h0m3 0h0m-91 1h0m25 0h0m2 0h0m2 0h12m2 0h22m2 0h4m5 0h0m14 0h0m-73 1h0m10 0h0m4 0h0m2 0h3m4 0h23m2 0h8m2 0h0m12 0h0m-70 1h0m8 0h0m6 0h1m2 0h1m3 0h28m2 0h1m2 0h1m8 0h0m-65 1h0m8 0h0m4 0h0m4 0h3m3 0h6m2 0h26m4 0h1m2 0h0m3 0h0m4 0h1m-91 1h0m16 0h0m10 0h0m7 0h1m4 0h0m2 0h39m4 0h0m-102 1h0m47 0h1m3 0h2m2 0h0m2 0h31m2 0h4m3 0h0m2 0h0m8 0h0m-71 1h0m12 0h0m2 0h3m4 0h22m2 0h12m2 0h2m3 0h0m7 0h0m5 0h0m11 0h0m-98 1h0m23 0h0m3 0h0m2 0h30m2 0h8m4 0h0m2 0h3m4 0h0m2 0h0m5 0h0m3 0h0m-83 1h0m3 0h0m15 0h1m2 0h2m2 0h16m2 0h18m2 0h2m2 0h0m3 0h0m4 0h0m9 0h0m-68 1h2m2 0h0m2 0h31m2 0h3m2 0h9m3 0h0m2 0h0m5 0h0m2 0h0m4 0h0m3 0h0m-88 1h0m12 0h0m2 0h1m2 0h0m8 0h3m3 0h1m3 0h26m2 0h0m2 0h5m2 0h0m-95 1h0m26 0h0m6 0h2m8 0h1m2 0h0m2 0h9m2 0h19m2 0h2m3 0h5m5 0h0m2 0h0m3 0h0m21 0h1m-130 1h0m17 0h1m14 0h0m2 0h0m4 0h0m5 0h0m2 0h1m5 0h1m3 0h0m2 0h1m2 0h1m3 0h17m2 0h0m2 0h11m3 0h1m3 0h0m3 0h1m4 0h0m22 0h0m-108 1h0m20 0h0m5 0h0m6 0h3m2 0h32m5 0h0m2 0h1m6 0h0m13 0h0m2 0h0m-111 1h0m12 0h0m29 0h0m3 0h3m2 0h20m2 0h4m2 0h0m2 0h3m10 0h0m2 0h0m3 0h0m2 0h0m21 0h0m-79 1h2m2 0h1m7 0h3m2 0h0m2 0h4m2 0h7m2 0h2m2 0h1m2 0h2m4 0h0m14 0h0m5 0h0m8 0h0m-100 1h0m4 0h0m22 0h0m2 0h3m2 0h3m2 0h1m2 0h18m2 0h11m4 0h0m2 0h0m-62 1h0m3 0h0m2 0h1m5 0h0m2 0h0m4 0h0m2 0h0m2 0h0m3 0h3m2 0h2m2 0h0m2 0h9m3 0h0m5 0h0m2 0h1m2 0h0m2 0h2m3 0h0m-71 1h0m7 0h0m5 0h0m4 0h0m8 0h1m2 0h2m5 0h5m2 0h0m3 0h1m2 0h2m2 0h1m3 0h2m3 0h0m3 0h0m5 0h0m-66 1h0m11 0h0m2 0h0m2 0h1m2 0h3m2 0h0m3 0h0m5 0h7m2 0h2m2 0h1m4 0h2m2 0h3m2 0h0m12 0h0m-76 1h0m6 0h0m15 0h0m4 0h1m4 0h0m7 0h0m4 0h1m2 0h2m2 0h6m3 0h1m2 0h0m2 0h0m2 0h1m9 0h0m3 0h0m6 0h0m-72 1h0m18 0h2m3 0h0m2 0h2m4 0h2m3 0h1m2 0h1m2 0h0m7 0h0m2 0h1m2 0h0m12 0h0m3 0h0m6 0h0m-82 1h0m4 0h0m2 0h0m11 0h0m5 0h0m5 0h0m4 0h0m2 0h0m9 0h2m4 0h0m6 0h0m6 0h0m22 0h0m-78 1h0m12 0h0m7 0h0m12 0h1m5 0h1m4 0h1m3 0h0m6 0h0m8 0h0m4 0h0m15 0h0m-103 1h0m12 0h0m15 0h0m7 0h0m19 0h3m3 0h3m4 0h0m3 0h0m11 0h0m34 0h0m-75 1h0m7 0h0m9 0h1m2 0h0m5 0h1m7 0h1m6 0h0m10 0h0m6 0h0m-69 1h0m10 0h0m9 0h0m12 0h0m4 0h0m8 0h1m-20 1h0m6 0h0m12 0h0m13 0h0m9 0h0m-82 1h0m22 0h0m17 0h0m45 0h0m-46 1h0m4 0h0m26 0h0m9 0h0m9 0h0m-51 1h0m31 0h0m13 0h0m-52 1h0m23 0h0m34 0h0m-40 1h0m12 0h0m12 0h0m-39 1h0m48 0h0m27 0h0m-53 1h0m11 0h0m-4 1h0m14 0h0m18 0h0m-13 1h0m-37 1h0m48 0h0m12 0h0m-58 1h0m11 1h0m41 0h0m-61 1h0m-4 1h0m18 0h1m-8 1h0m10 0h0m22 0h0m-35 1h0m8 1h0m6 0h0m10 0h0m15 0h0m-25 1h0m-12 3h0m53 1h0m-59 1h0m-19 1h0m15 0h0m46 0h0m-13 2h0m-18 2h1m36 0h0m-23 1h0m13 0h0m-51 1h0m27 0h0m6 0h0m28 0h0m-9 3h0m-20 1h0m-41 1h0m28 0h0m-10 1h0m27 2h0m13 0h0m-38 1h0m26 0h0m1 3h0m-75 4h0m59 0h1m21 0h0m-37 1h0m22 0h0m46 1h0m-19 3h0m9 1h0m-27 1h0m-38 5h0m25 0h0m-56 1h0m55 0h0m-29 1h0m16 0h0m-7 2h0m5 4h0m10 0h0m33 1h0m-45 1h0m-19 5h0m51 6h0m-62 4h0m11 3h0m21 4h0m65 0h0m-55 7h0m-19 8h0m-26 9h0m-49 38h0m29 0h0m13 0h0m7 0h1m4 0h2m8 0h0m3 0h0m4 0h0m3 0h0m4 0h0m3 0h0m8 0h0m12 0h0m7 0h0m2 0h0m33 0h0" stroke="#000"/>
</g>
<rect x="420.3" y="49.5" width="239.4" height="238.5" fill="none" stroke="#444" stroke-width="1.3"/>
<path d="M529.6 49.5V288.0M420.3 177.9H659.7" stroke="#000" stroke-width="1.9" fill="none"/>
<path d="M413.3 288.0H420.3M413.3 243.9H420.3M413.3 199.8H420.3M413.3 155.7H420.3M413.3 111.6H420.3M413.3 67.5H420.3M420.3 288.0V294.5M464.4 288.0V294.5M508.5 288.0V294.5M552.6 288.0V294.5M596.7 288.0V294.5M640.8 288.0V294.5" stroke="#111" stroke-width="2" fill="none"/>
<path d="M416.8 274.7H420.3M416.8 267.0H420.3M416.8 261.4H420.3M416.8 257.2H420.3M416.8 253.7H420.3M416.8 250.7H420.3M416.8 248.2H420.3M416.8 245.9H420.3M416.8 230.6H420.3M416.8 222.9H420.3M416.8 217.3H420.3M416.8 213.1H420.3M416.8 209.6H420.3M416.8 206.6H420.3M416.8 204.1H420.3M416.8 201.8H420.3M416.8 186.5H420.3M416.8 178.8H420.3M416.8 173.2H420.3M416.8 169.0H420.3M416.8 165.5H420.3M416.8 162.5H420.3M416.8 160.0H420.3M416.8 157.7H420.3M416.8 142.4H420.3M416.8 134.7H420.3M416.8 129.1H420.3M416.8 124.9H420.3M416.8 121.4H420.3M416.8 118.4H420.3M416.8 115.9H420.3M416.8 113.6H420.3M416.8 98.3H420.3M416.8 90.6H420.3M416.8 85.0H420.3M416.8 80.8H420.3M416.8 77.3H420.3M416.8 74.3H420.3M416.8 71.8H420.3M416.8 69.5H420.3M416.8 54.2H420.3M433.6 288.0V291.5M441.3 288.0V291.5M446.9 288.0V291.5M451.1 288.0V291.5M454.6 288.0V291.5M457.6 288.0V291.5M460.1 288.0V291.5M462.4 288.0V291.5M477.7 288.0V291.5M485.4 288.0V291.5M491.0 288.0V291.5M495.2 288.0V291.5M498.7 288.0V291.5M501.7 288.0V291.5M504.2 288.0V291.5M506.5 288.0V291.5M521.8 288.0V291.5M529.5 288.0V291.5M535.1 288.0V291.5M539.3 288.0V291.5M542.8 288.0V291.5M545.8 288.0V291.5M548.3 288.0V291.5M550.6 288.0V291.5M565.9 288.0V291.5M573.6 288.0V291.5M579.2 288.0V291.5M583.4 288.0V291.5M586.9 288.0V291.5M589.9 288.0V291.5M592.4 288.0V291.5M594.7 288.0V291.5M610.0 288.0V291.5M617.7 288.0V291.5M623.3 288.0V291.5M627.5 288.0V291.5M631.0 288.0V291.5M634.0 288.0V291.5M636.5 288.0V291.5M638.8 288.0V291.5M654.1 288.0V291.5" stroke="#333" stroke-width="1.1" fill="none"/>
<text x="424.5" y="74.3" font-family="'Liberation Serif', serif" font-size="16.5" font-weight="bold" text-anchor="start" >4,76</text>
<text x="638.0" y="74.3" font-family="'Liberation Serif', serif" font-size="16.5" font-weight="bold" text-anchor="end" >91,0</text>
<text x="424.5" y="272.7" font-family="'Liberation Serif', serif" font-size="16.5" font-weight="bold" text-anchor="start" >1,53</text>
<text x="638.0" y="272.7" font-family="'Liberation Serif', serif" font-size="16.5" font-weight="bold" text-anchor="end" >2,73</text>
<g transform="translate(717.5,50.5)" fill="none" stroke-linecap="square" stroke-width="1.4">
<path d="M116 23h0m77 3h0m-49 4h0m-15 4h0m-34 1h0m9 0h0m28 0h0m13 0h0m-65 1h0m9 0h0m9 0h0m14 0h0m5 0h0m15 1h0m-22 1h0m50 0h0m-54 1h0m10 0h0m4 0h0m39 0h1m-124 1h0m69 0h0m3 0h0m12 0h0m4 0h0m2 0h0m22 0h0m58 0h0m-113 1h0m2 0h1m6 0h0m4 0h0m12 0h0m3 0h0m12 0h0m24 0h0m-53 1h0m18 0h1m26 0h0m11 0h0m19 0h0m13 0h0m-100 1h0m6 0h0m9 0h0m10 0h1m10 0h0m21 0h0m6 0h0m5 0h0m-95 1h1m22 0h2m4 0h0m8 0h0m4 0h0m12 0h1m6 0h0m7 0h0m11 0h0m23 0h0m19 0h1m9 0h0m-165 1h0m9 0h0m64 0h1m5 0h0m2 0h0m13 0h0m5 0h0m4 0h2m2 0h0m4 0h0m9 0h0m29 0h0m18 0h0m-155 1h0m11 0h0m3 0h0m8 0h0m24 0h0m8 0h0m19 0h0m7 0h0m2 0h0m10 0h0m8 0h0m3 0h0m2 0h0m-78 1h0m5 0h0m12 0h0m11 0h0m4 0h0m10 0h0m15 0h0m6 0h0m5 0h0m5 0h0m9 0h0m5 0h0m4 0h0m17 0h0m-126 1h0m13 0h0m22 0h0m16 0h0m5 0h0m4 0h0m15 0h1m6 0h0m2 0h0m5 0h0m2 0h0m16 0h0m9 0h0m6 0h0m3 0h0m21 0h0m2 0h0m-177 1h0m23 0h0m41 0h0m3 0h1m8 0h0m4 0h0m23 0h1m12 0h0m6 0h0m14 0h0m14 0h0m7 0h0m8 0h0m-110 1h0m6 0h0m8 0h0m18 0h0m29 0h1m3 0h2m25 0h1m9 0h1m-123 1h0m17 0h0m5 0h0m11 0h0m3 0h1m3 0h0m42 0h0m10 0h0m13 0h0m10 0h0m8 0h0m-126 1h0m2 0h0m15 0h0m9 0h0m6 0h0m5 0h0m6 0h0m3 0h0m45 0h0m8 0h0m20 0h1m14 0h0m-134 1h0m14 0h0m23 0h0m2 0h0m42 0h0m5 0h0m7 0h0m10 0h0m7 0h0m8 0h0m20 0h0m4 0h0m-174 1h0m25 0h0m8 0h0m7 0h0m4 0h0m3 0h0m4 0h0m12 0h0m13 0h0m11 0h1m29 0h1m3 0h0m11 0h0m3 0h1m11 0h0m3 0h0m3 0h0m23 0h0m15 0h0m-172 1h0m10 0h0m18 0h0m4 0h0m14 0h0m9 0h0m46 0h0m2 0h0m4 0h0m11 0h0m13 0h0m22 0h0m-185 1h0m48 0h0m6 0h0m3 0h1m16 0h1m4 0h0m6 0h0m5 0h0m34 0h0m11 0h1m3 0h0m3 0h0m13 0h0m2 0h0m8 0h1m2 0h0m9 0h0m2 0h0m16 0h0m6 0h0m-160 1h0m3 0h0m2 0h0m15 0h0m10 0h0m2 0h0m6 0h1m5 0h0m3 0h0m31 0h0m16 0h0m7 0h0m5 0h0m3 0h0m14 0h0m2 0h0m8 0h0m3 0h0m8 0h0m-139 1h0m16 0h1m7 0h0m3 0h0m7 0h0m50 0h0m21 0h0m11 0h0m5 0h0m9 0h0m-137 1h0m17 0h0m13 0h0m10 0h0m2 0h0m8 0h0m4 0h0m45 0h0m55 0h0m-127 1h0m7 0h1m2 0h0m6 0h0m35 0h0m23 0h0m12 0h0m9 0h0m4 0h0m17 0h0m-143 1h0m4 0h0m4 0h0m4 0h0m16 0h0m7 0h0m11 0h0m34 0h0m5 0h0m10 0h0m12 0h0m11 0h0m2 0h1m14 0h0m6 0h0m-185 1h0m59 0h0m5 0h0m20 0h0m2 0h0m2 0h0m60 0h1m18 0h0m15 0h1m4 0h0m-148 1h0m37 0h0m2 0h0m2 0h0m7 0h0m2 0h0m45 0h0m5 0h0m8 0h1m8 0h0m16 0h2m2 0h1m2 0h2m4 0h0m-166 1h0m41 0h0m8 0h0m3 0h0m16 0h0m3 0h2m18 0h0m3 0h0m10 0h0m19 0h0m3 0h0m8 0h0m8 0h0m3 0h0m6 0h1m3 0h0m3 0h0m3 0h0m-134 1h0m3 0h0m6 0h0m2 0h0m4 0h0m5 0h2m2 0h1m2 0h0m4 0h0m4 0h0m5 0h0m2 0h0m38 0h0m2 0h0m7 0h0m5 0h0m9 0h0m12 0h0m4 0h0m11 0h0m2 0h0m2 0h0m3 0h0m4 0h0m7 0h0m-134 1h0m6 0h0m8 0h0m2 0h0m7 0h0m4 0h0m5 0h0m11 0h0m28 0h0m5 0h0m3 0h2m4 0h0m5 0h0m5 0h1m4 0h0m9 0h1m12 0h0m6 0h1m4 0h0m-153 1h0m6 0h1m23 0h0m16 0h3m27 0h0m2 0h0m14 0h0m4 0h0m2 0h0m7 0h0m3 0h0m8 0h0m14 0h1m14 0h0m2 0h0m-149 1h0m27 0h0m8 0h0m17 0h0m18 0h0m11 0h1m16 0h0m12 0h0m26 0h0m6 0h0m11 0h0m14 0h0m2 0h0m-171 1h0m9 0h0m31 0h1m9 0h0m31 0h0m18 0h0m6 0h0m14 0h0m11 0h0m2 0h0m30 0h0m8 0h0m-196 1h0m26 0h0m5 0h0m5 0h0m8 0h0m7 0h0m2 0h0m10 0h0m2 0h0m3 0h0m33 0h0m6 0h0m13 0h1m11 0h0m3 0h0m4 0h1m7 0h0m30 0h0m34 0h0m-169 1h0m9 0h0m16 0h0m3 0h0m11 0h0m3 0h0m20 0h0m14 0h0m9 0h0m4 0h0m9 0h0m18 0h0m9 0h0m17 0h0m20 0h0m-170 1h1m16 0h1m8 0h0m10 0h0m7 0h0m5 0h0m6 0h0m3 0h0m4 0h0m24 0h0m3 0h0m20 0h1m14 0h0m14 0h0m14 0h1m29 0h0m-175 1h0m31 0h0m5 0h0m24 0h0m7 0h0m6 0h0m10 0h1m5 0h1m30 0h0m9 0h0m-118 1h0m12 0h0m9 0h0m3 0h0m6 0h1m7 0h0m18 0h0m3 0h1m3 0h0m2 0h0m9 0h0m2 0h0m4 0h0m7 0h0m3 0h0m7 0h0m11 0h0m14 0h0m11 0h0m-158 1h0m11 0h0m35 0h0m7 0h0m2 0h0m29 0h0m7 0h0m3 0h0m16 0h0m21 0h0m6 0h0m19 0h0m-148 1h0m4 0h0m32 0h0m2 0h0m7 0h0m15 0h1m12 0h0m7 0h0m12 0h0m3 0h0m3 0h0m7 0h0m2 0h0m3 0h1m9 0h0m12 0h0m4 0h0m2 0h0m16 0h0m-151 1h0m4 0h0m5 0h0m6 0h0m7 0h0m3 0h0m4 0h0m7 0h1m2 0h0m8 0h1m12 0h1m16 0h0m6 0h0m9 0h1m13 0h0m4 0h0m5 0h0m17 0h1m-113 1h0m6 0h1m5 0h0m6 0h1m12 0h0m4 0h0m4 0h2m6 0h0m10 0h0m9 0h0m5 0h0m7 0h0m13 0h0m3 0h0m7 0h0m-115 1h0m3 0h0m19 0h0m11 0h0m12 0h0m6 0h0m2 0h0m4 0h0m5 0h0m7 0h0m5 0h0m7 0h1m3 0h0m2 0h0m43 0h0m2 0h0m10 0h0m-132 1h0m20 0h0m3 0h1m3 0h1m6 0h0m14 0h0m10 0h0m3 0h1m2 0h0m8 0h0m7 0h1m3 0h0m2 0h0m6 0h0m7 0h0m21 0h0m3 0h0m-118 1h0m21 0h1m6 0h0m6 0h0m9 0h0m32 0h0m6 0h0m5 0h1m2 0h0m12 0h0m-130 1h0m19 0h0m4 0h0m20 0h0m4 0h0m6 0h0m10 0h0m7 0h0m5 0h0m15 0h0m2 0h0m2 0h1m3 0h0m11 0h0m21 0h0m21 0h0m5 0h0m-102 1h0m4 0h0m3 0h0m7 0h0m5 0h0m8 0h0m13 0h0m5 0h0m20 0h0m8 0h1m8 0h0m-143 1h0m12 0h0m14 0h0m6 0h0m36 0h0m3 0h0m5 0h0m11 0h0m7 0h0m22 0h0m-104 1h0m12 0h0m5 0h0m3 0h1m16 0h0m5 0h0m2 0h0m4 0h0m7 0h0m5 0h0m12 0h0m5 0h0m9 0h0m30 0h0m7 0h0m-93 1h0m6 0h0m4 0h0m4 0h0m8 0h0m4 0h0m6 0h0m6 0h0m14 0h0m8 0h0m18 0h0m-77 1h0m11 0h0m10 0h0m13 0h0m2 0h0m41 0h0m-152 1h0m56 0h0m21 0h0m16 0h0m12 0h0m7 0h1m3 0h0m2 0h0m3 0h1m9 0h0m4 0h0m15 0h0m61 0h0m-162 1h0m17 0h0m11 0h0m34 0h0m8 0h1m13 0h0m3 0h0m3 0h0m-32 1h0m10 0h0m10 0h0m4 0h0m-65 1h0m24 0h0m9 0h0m7 0h0m7 0h0m8 0h0m-82 1h0m36 0h0m24 0h0m10 0h0m3 0h0m8 0h0m3 0h0m2 0h0m4 0h0m36 0h1m-56 1h0m22 0h0m16 0h0m15 0h0m-91 1h0m15 0h0m10 0h0m2 0h0m7 0h0m2 0h0m3 0h0m11 0h0m-38 1h1m24 0h0m5 0h0m3 0h1m3 0h1m-40 1h0m2 0h0m13 0h0m29 0h0m3 0h0m12 0h0m-61 1h0m29 0h0m7 0h0m5 0h0m15 0h0m19 0h0m-78 1h0m13 0h0m12 0h0m5 0h0m13 0h0m8 0h0m-41 1h0m16 0h1m12 0h0m2 0h0m5 0h0m-48 1h0m10 0h0m4 0h0m11 0h0m4 0h0m7 0h0m2 0h2m87 0h0m-133 1h0m26 0h0m2 0h0m17 0h0m19 0h0m7 0h0m-53 1h0m18 0h0m21 0h0m-17 1h0m-12 1h0m14 0h0m5 0h0m23 0h0m8 0h0m-69 1h1m23 0h0m-6 1h0m7 0h0m6 0h0m2 0h0m15 0h0m10 0h0m-54 1h0m19 0h0m11 0h0m4 0h0m-26 1h0m5 0h0m13 0h0m3 0h2m9 0h0m-24 1h1m7 0h0m2 1h0m6 0h0m15 0h0m-19 1h0m3 1h0m9 0h0m-41 1h0m9 0h0m40 0h0m-35 1h0m37 0h0m4 0h0m-50 1h0m10 0h0m8 0h0m12 0h0m15 0h0m-37 1h0m8 0h0m9 0h1m32 0h0m48 0h0m-105 1h0m6 0h0m22 0h0m11 0h0m-23 1h0m-27 1h0m5 0h0m7 0h0m18 0h0m7 0h0m22 0h0m-78 1h0m42 0h0m11 0h0m22 0h0m-34 1h0m14 0h0m7 0h0m13 0h0m-60 1h0m4 0h0m12 0h0m29 0h0m4 0h0m8 0h0m-57 1h0m38 0h0m2 0h0m3 0h0m18 0h0m-42 1h0m31 0h0m-30 1h0m6 0h0m-14 1h0m29 0h0m-36 1h0m4 1h0m7 0h0m21 0h0m20 0h0m-43 1h0m45 0h0m-43 1h0m30 0h0m11 0h0m-40 1h0m19 0h0m7 0h0m-4 2h0m13 0h0m3 0h0m-41 1h0m16 0h0m4 0h0m-40 1h0m16 0h0m46 1h0m-23 1h0m27 0h0m-45 1h0m10 0h0m10 0h0m5 0h0m-20 2h0m-15 1h0m12 0h0m-13 1h0m20 0h0m12 0h0m10 0h0m5 0h0m-48 1h0m32 0h0m4 0h0m3 0h0m-32 1h0m18 0h0m9 0h0m9 0h0m-86 2h0m31 0h0m-16 2h0m42 0h0m-5 2h0m31 0h0m-33 1h0m33 0h0m-11 2h0m-28 1h0m-48 1h0m88 0h0m-30 2h0m27 0h0m8 0h0m-47 1h0m8 0h0m57 0h0m-68 1h0m25 0h0m3 3h0m5 2h0m18 3h0m-34 1h0m-11 1h0m6 0h0m35 0h0m6 0h0m-49 1h0m13 0h0m-11 1h0m45 1h0m-40 1h0m50 1h0m-23 4h0m-11 2h0m-23 1h0m26 1h0m-22 4h0m26 1h0m6 7h0m8 4h0m-8 19h0m16 9h0m-74 10h0m3 0h0m16 0h0m16 0h0m2 0h1m15 0h0m21 0h0m5 0h0m7 0h0" stroke="#bdbdbd"/>
<path d="M156 30h0m-42 1h0m22 0h0m-24 3h0m-7 1h0m11 0h0m7 0h0m31 0h0m-55 1h0m31 0h0m40 0h0m-159 1h0m84 0h0m17 0h0m2 0h0m13 0h0m9 0h0m4 0h0m-71 1h0m35 0h0m8 0h0m14 0h0m10 0h0m19 0h0m-62 1h0m11 0h0m13 0h0m2 0h0m22 0h0m3 0h0m-58 1h0m20 0h0m5 0h0m3 0h0m4 0h1m9 0h1m13 0h0m-25 1h0m2 0h1m31 0h0m9 0h0m5 0h1m2 0h0m4 0h0m-79 1h1m13 0h0m6 0h0m7 0h0m11 0h0m19 0h0m4 0h0m-111 1h0m51 0h0m3 0h0m2 0h1m10 0h0m2 0h1m7 0h0m11 0h0m10 0h1m20 0h0m2 0h0m10 0h0m7 0h0m-88 1h0m35 0h1m40 0h0m2 0h0m16 0h0m3 0h0m-122 1h0m18 0h1m2 0h0m8 0h0m5 0h0m16 0h0m7 0h1m5 0h0m18 0h0m3 0h0m6 0h0m-98 1h0m35 0h0m8 0h0m3 0h1m6 0h1m11 0h0m5 0h0m3 0h0m16 0h0m4 0h0m17 0h0m-45 1h0m2 0h0m2 0h1m4 0h1m10 0h0m4 0h1m7 0h0m12 0h0m7 0h0m25 0h0m-141 1h0m27 0h0m10 0h0m3 0h0m6 0h0m3 0h0m3 0h0m4 0h1m12 0h0m9 0h0m10 0h0m2 0h0m3 0h0m9 0h1m7 0h0m22 0h0m-134 1h0m14 0h0m23 0h2m2 0h1m9 0h0m5 0h0m10 0h0m5 0h0m30 0h0m15 0h0m10 0h0m9 0h0m2 0h0m5 0h0m-127 1h0m12 0h0m7 0h0m8 0h0m7 0h0m4 0h0m12 0h0m6 0h0m6 0h0m15 0h0m3 0h1m7 0h0m28 0h0m21 0h0m-146 1h0m27 0h0m8 0h0m28 0h1m7 0h0m2 0h0m3 0h0m13 0h0m24 0h0m6 0h0m5 0h1m-130 1h0m2 0h1m15 0h0m6 0h0m4 0h0m2 0h1m11 0h0m40 0h0m5 0h0m14 0h1m8 0h0m9 0h0m-146 1h0m12 0h0m26 0h0m15 0h0m28 0h1m18 0h1m6 0h0m16 0h0m13 0h0m2 0h0m5 0h0m5 0h0m3 0h0m-149 1h0m8 0h0m2 0h0m8 0h0m8 0h1m16 0h0m3 0h0m7 0h0m10 0h0m31 0h0m2 0h0m5 0h0m9 0h0m7 0h0m9 0h0m10 0h0m12 0h1m2 0h0m-120 1h0m7 0h0m19 0h0m3 0h0m30 0h0m2 0h2m11 0h0m6 0h0m18 0h1m9 0h0m-130 1h1m49 0h0m9 0h0m22 0h0m10 0h1m3 0h0m12 0h0m4 0h0m6 0h1m15 0h0m13 0h0m6 0h0m-148 1h0m12 0h0m12 0h0m5 0h0m5 0h0m2 0h0m2 0h0m28 0h0m27 0h0m3 0h0m2 0h0m7 0h0m9 0h1m12 0h0m8 0h0m6 0h0m3 0h1m-155 1h0m47 0h0m2 0h1m4 0h0m43 0h0m2 0h0m4 0h1m4 0h2m3 0h0m4 0h0m15 0h0m11 0h0m4 0h0m23 0h0m5 0h0m-173 1h0m44 0h0m6 0h0m8 0h0m48 0h0m3 0h0m7 0h0m6 0h0m4 0h0m13 0h0m3 0h0m4 0h0m3 0h0m3 0h0m-148 1h0m11 0h0m3 0h0m5 0h0m5 0h0m4 0h0m9 0h1m9 0h0m2 0h0m4 0h0m38 0h0m7 0h0m6 0h0m36 0h1m-133 1h0m8 0h0m11 0h0m5 0h0m10 0h0m3 0h0m37 0h0m11 0h0m17 0h0m3 0h0m7 0h0m18 0h0m7 0h0m-142 1h0m7 0h0m11 0h0m16 0h0m2 0h0m9 0h0m44 0h0m7 0h0m6 0h0m10 0h1m6 0h0m3 0h0m5 0h0m6 0h1m18 0h0m5 0h0m-170 1h0m9 0h0m3 0h0m7 0h0m14 0h0m10 0h0m3 0h0m4 0h0m11 0h0m4 0h0m3 0h0m27 0h0m17 0h1m8 0h0m13 0h0m6 0h1m16 0h0m-163 1h0m51 0h1m5 0h0m49 0h0m15 0h0m2 0h0m3 0h0m5 0h0m18 0h0m7 0h0m2 0h0m4 0h0m-147 1h0m10 0h0m8 0h0m7 0h2m14 0h0m15 0h0m27 0h0m12 0h0m11 0h0m2 0h2m2 0h0m6 0h0m6 0h0m9 0h0m3 0h0m7 0h0m7 0h0m-169 1h1m27 0h0m10 0h0m7 0h0m4 0h0m4 0h0m7 0h0m55 0h0m8 0h0m6 0h0m6 0h0m3 0h0m19 0h0m7 0h0m-132 1h0m5 0h0m9 0h3m24 0h0m58 0h1m17 0h1m14 0h0m24 0h0m-163 1h0m19 0h0m18 0h0m2 0h0m6 0h0m2 0h0m4 0h0m7 0h0m13 0h0m7 0h0m3 0h0m6 0h0m4 0h0m6 0h0m8 0h1m10 0h0m25 0h0m9 0h0m-156 1h0m23 0h0m2 0h0m2 0h0m27 0h0m10 0h0m30 0h0m8 0h0m5 0h0m4 0h0m12 0h0m8 0h0m2 0h0m2 0h0m8 0h1m19 0h0m-172 1h0m22 0h1m5 0h0m8 0h0m12 0h0m2 0h0m8 0h0m19 0h0m4 0h0m11 0h0m3 0h0m5 0h0m5 0h0m5 0h0m26 0h0m8 0h0m19 0h0m-156 1h0m21 0h0m7 0h0m3 0h1m2 0h0m3 0h0m3 0h0m3 0h0m4 0h0m2 0h0m16 0h0m7 0h0m12 0h0m3 0h0m9 0h1m6 0h0m13 0h0m8 0h0m22 0h0m-119 1h0m3 0h0m9 0h0m38 0h0m2 0h0m8 0h0m8 0h0m11 0h0m7 0h0m29 0h0m-143 1h0m27 0h0m11 0h0m16 0h0m2 0h2m14 0h0m21 0h0m4 0h0m6 0h0m5 0h0m9 0h0m4 0h1m6 0h0m11 0h0m10 0h0m6 0h0m-135 1h0m9 0h0m10 0h0m4 0h0m11 0h0m11 0h0m2 0h1m4 0h0m20 0h0m7 0h0m4 0h0m12 0h0m2 0h1m4 0h0m5 0h0m3 0h0m2 0h0m4 0h0m-130 1h0m15 0h1m3 0h0m3 0h0m21 0h0m2 0h0m8 0h0m9 0h0m5 0h0m30 0h0m4 0h0m14 0h1m2 0h0m6 0h0m14 0h0m-143 1h0m9 0h0m16 0h0m17 0h0m14 0h0m3 0h0m11 0h0m2 0h1m7 0h0m5 0h0m5 0h0m6 0h0m11 0h0m3 0h0m4 0h0m7 0h0m-99 1h0m7 0h0m16 0h0m12 0h0m16 0h1m3 0h0m2 0h0m2 0h0m19 0h0m10 0h0m12 0h0m2 0h0m7 0h1m3 0h0m2 0h0m14 0h0m-149 1h0m10 0h0m5 0h0m5 0h0m2 0h0m24 0h0m7 0h0m25 0h0m15 0h1m2 0h0m3 0h0m12 0h0m16 0h0m4 0h0m19 0h0m-121 1h0m5 0h0m18 0h0m3 0h0m14 0h0m5 0h1m3 0h0m7 0h0m8 0h0m6 0h0m6 0h0m12 0h1m7 0h1m7 0h0m-134 1h1m40 0h0m14 0h0m4 0h0m3 0h0m8 0h0m2 0h0m3 0h0m3 0h0m15 0h0m6 0h0m13 0h0m9 0h0m8 0h0m-90 1h0m24 0h0m14 0h0m15 0h0m2 0h0m9 0h0m9 0h1m13 0h0m10 0h0m-124 1h0m19 0h0m16 0h0m5 0h0m22 0h0m5 0h0m25 0h0m13 0h0m10 0h0m8 0h0m5 0h0m9 0h0m-115 1h0m5 0h0m6 0h0m25 0h1m36 0h0m4 0h0m16 0h0m12 0h0m7 0h0m-124 1h0m5 0h0m5 0h0m11 0h0m12 0h0m2 0h0m21 0h1m4 0h0m4 0h0m3 0h1m15 0h0m5 0h0m4 0h0m10 0h0m3 0h0m5 0h0m2 0h0m4 0h1m-115 1h0m27 0h0m11 0h1m17 0h0m18 0h0m21 0h1m6 0h0m3 0h0m21 0h0m-160 1h0m17 0h0m18 0h0m23 0h0m7 0h0m8 0h0m8 0h1m10 0h0m7 0h0m2 0h0m18 0h0m-105 1h0m54 0h1m7 0h0m2 0h0m8 0h0m15 0h1m32 0h0m17 0h0m-138 1h0m13 0h0m11 0h0m12 0h1m9 0h0m7 0h0m14 0h0m18 0h0m60 0h0m-139 1h0m6 0h0m6 0h0m18 0h0m8 0h0m6 0h1m9 0h0m10 0h0m14 0h0m3 0h2m24 0h0m-74 1h0m7 0h0m17 0h0m3 0h0m3 0h0m3 0h0m-81 1h0m19 0h0m20 0h0m6 0h0m2 0h0m12 0h0m9 0h0m10 0h0m20 0h0m8 0h0m5 0h0m9 0h0m-71 1h0m2 0h0m24 0h0m3 0h0m15 0h0m13 0h0m50 0h0m-109 1h0m5 0h0m11 0h0m3 0h0m7 0h1m6 0h0m15 0h0m47 0h0m-106 1h0m10 0h0m26 0h0m64 0h0m-115 1h0m9 0h0m15 0h0m10 0h0m5 0h0m17 0h0m10 0h0m4 0h0m15 0h0m17 0h0m-79 1h0m29 0h0m13 0h0m-110 1h0m34 0h0m30 0h0m9 0h0m9 0h0m4 0h1m18 0h0m6 0h0m7 0h0m21 0h0m-78 1h0m12 0h0m10 0h0m16 0h0m3 0h0m10 0h0m3 0h0m27 0h0m5 0h0m-66 1h0m23 0h1m17 0h0m6 0h0m-60 1h0m30 0h0m12 0h0m11 0h0m-74 1h0m44 0h0m5 0h0m2 0h0m13 0h0m3 0h0m7 0h0m5 0h0m-71 1h0m3 0h0m28 0h0m6 0h0m2 0h0m9 0h0m6 0h0m5 0h0m10 0h0m-59 1h0m25 0h0m13 0h0m18 0h0m12 0h0m4 0h0m-81 1h0m16 0h0m28 0h0m3 0h0m3 0h0m5 0h0m-22 1h0m2 0h0m15 0h0m2 0h0m-34 1h0m14 0h0m2 0h1m4 0h0m2 0h0m4 0h0m11 0h0m8 0h0m-33 1h0m9 0h1m12 0h0m9 0h0m2 0h0m4 0h0m25 0h0m-79 1h0m18 0h1m55 0h0m-60 1h0m15 0h0m37 0h0m-76 1h0m13 0h0m23 0h0m23 0h0m6 0h0m-47 1h0m2 0h1m2 0h0m6 0h0m-13 1h0m7 0h0m5 0h0m17 0h0m13 0h0m-44 1h0m21 0h0m4 0h0m17 0h0m9 0h0m-37 1h0m3 0h0m6 0h0m10 0h0m-33 1h0m19 0h0m8 0h0m5 0h0m23 0h0m-64 1h0m2 0h0m7 0h0m10 0h0m4 0h0m8 0h0m23 0h0m6 0h0m-36 1h1m2 0h1m18 0h1m-92 1h0m86 0h0m10 0h0m-39 1h0m4 0h0m24 0h1m4 0h0m5 0h0m16 0h0m-50 1h0m11 0h1m18 0h0m30 0h0m-54 1h0m15 0h0m-13 1h0m15 0h0m-39 1h0m-2 1h0m11 0h0m18 0h0m5 0h0m18 0h0m-50 1h0m5 0h0m18 0h0m4 0h0m3 0h0m-21 1h0m18 0h0m11 0h0m19 0h0m10 0h0m-5 1h0m-71 1h0m12 0h0m12 0h0m22 0h0m43 0h0m-47 1h0m19 1h0m-27 1h0m27 0h0m5 0h0m-62 1h0m31 0h0m37 0h0m19 1h0m-73 2h0m26 1h0m-9 1h0m21 0h0m-38 2h0m17 1h0m120 0h0m-141 1h0m22 0h0m3 1h0m27 0h0m-43 1h0m17 0h0m5 0h0m-25 1h0m55 0h0m-35 3h0m-25 1h0m-12 2h0m21 0h0m33 0h0m16 1h0m-36 1h0m-3 1h0m-24 1h0m13 0h0m15 1h0m2 0h1m2 1h0m11 1h0m31 0h0m-77 2h0m48 0h0m-29 2h0m-9 2h0m8 0h0m31 0h0m-44 1h0m20 1h0m11 0h0m18 0h0m-41 2h0m31 4h0m76 1h0m-113 4h0m79 0h0m-80 2h0m4 0h0m17 1h0m-13 1h0m-13 3h0m48 1h0m3 1h0m-1 1h0m2 2h0m-56 6h0m27 3h0m9 5h0m-73 25h0m33 8h0m-29 1h0m32 0h0m6 0h0m11 0h0m9 0h1m6 0h1m4 0h1m8 0h1m4 0h0m7 0h0m8 0h0m23 0h0m14 0h0" stroke="#707070"/>
<path d="M93 30h0m11 2h0m71 2h0m-56 1h0m-9 1h0m10 0h0m17 0h0m94 0h0m-134 1h0m6 0h0m20 0h0m23 0h0m-38 1h0m17 0h0m51 0h0m-71 1h0m10 0h0m11 0h0m16 0h0m86 0h0m-130 1h0m3 0h1m10 0h0m3 0h0m41 0h0m-57 1h0m23 0h0m5 0h0m-40 1h0m10 0h0m3 0h0m3 0h0m5 0h0m4 0h0m7 0h0m15 0h0m27 0h0m-128 1h0m49 0h0m11 0h0m8 0h0m3 0h0m7 0h0m3 0h1m4 0h0m2 0h1m5 0h0m7 0h0m-38 1h0m2 0h3m6 0h3m5 0h2m3 0h0m3 0h0m3 0h1m-48 1h0m16 0h0m5 0h1m4 0h1m6 0h0m3 0h0m2 0h0m3 0h0m2 0h1m4 0h1m37 0h1m9 0h0m8 0h0m-138 1h0m24 0h0m6 0h0m12 0h0m3 0h0m3 0h1m7 0h1m2 0h0m4 0h3m5 0h0m2 0h1m2 0h0m2 0h0m3 0h3m8 0h0m2 0h0m7 0h0m-121 1h0m31 0h1m3 0h0m16 0h0m8 0h0m9 0h0m2 0h0m3 0h2m2 0h0m2 0h0m3 0h3m2 0h4m2 0h0m2 0h2m2 0h0m4 0h0m3 0h0m5 0h0m5 0h0m3 0h0m10 0h0m7 0h0m6 0h0m37 0h0m-121 1h0m7 0h0m9 0h0m2 0h0m2 0h2m3 0h0m2 0h0m3 0h2m3 0h2m2 0h3m6 0h1m4 0h0m42 0h0m-109 1h0m22 0h0m2 0h1m7 0h0m2 0h2m2 0h1m2 0h3m2 0h1m2 0h5m9 0h0m4 0h1m13 0h0m20 0h0m3 0h0m-98 1h0m5 0h0m14 0h1m2 0h1m4 0h4m2 0h0m2 0h0m2 0h7m2 0h1m2 0h2m2 0h0m2 0h2m2 0h0m13 0h0m4 0h0m4 0h1m6 0h0m20 0h0m-160 1h0m31 0h0m12 0h0m12 0h0m10 0h0m2 0h0m3 0h0m3 0h1m2 0h0m2 0h12m3 0h11m3 0h2m3 0h0m9 0h0m2 0h0m5 0h0m6 0h0m11 0h0m3 0h0m11 0h0m-100 1h0m11 0h1m2 0h1m2 0h1m3 0h0m2 0h13m2 0h7m2 0h8m2 0h1m5 0h0m3 0h2m5 0h0m8 0h0m4 0h0m6 0h0m-122 1h0m13 0h0m8 0h1m4 0h0m3 0h0m4 0h0m9 0h0m2 0h0m2 0h16m3 0h16m5 0h2m7 0h0m14 0h1m9 0h0m2 0h0m11 0h0m-119 1h0m16 0h0m5 0h0m4 0h0m2 0h1m3 0h2m3 0h9m3 0h16m2 0h0m2 0h3m3 0h0m4 0h0m5 0h0m2 0h0m4 0h0m3 0h0m6 0h0m6 0h0m14 0h0m-137 1h0m22 0h1m11 0h0m4 0h0m3 0h1m3 0h0m3 0h0m3 0h0m2 0h10m2 0h14m2 0h0m4 0h1m2 0h1m2 0h2m4 0h0m9 0h0m2 0h0m8 0h0m5 0h0m12 0h0m12 0h0m2 0h0m-141 1h0m6 0h0m8 0h0m5 0h0m3 0h0m6 0h0m9 0h0m3 0h2m3 0h3m2 0h1m2 0h20m2 0h5m7 0h0m9 0h0m6 0h0m3 0h0m8 0h0m9 0h0m25 0h0m-129 1h0m5 0h0m5 0h1m7 0h1m3 0h1m2 0h0m2 0h1m2 0h5m2 0h7m2 0h13m2 0h0m2 0h5m2 0h0m3 0h1m7 0h1m3 0h0m5 0h0m6 0h2m2 0h0m9 0h0m-150 1h0m19 0h0m13 0h0m5 0h0m9 0h0m8 0h0m7 0h0m4 0h6m2 0h26m2 0h5m2 0h0m2 0h1m5 0h0m5 0h1m3 0h0m4 0h1m2 0h0m2 0h0m5 0h0m6 0h0m5 0h0m10 0h0m-144 1h0m7 0h1m5 0h0m12 0h0m7 0h0m5 0h0m11 0h1m4 0h0m3 0h2m2 0h32m2 0h0m2 0h0m3 0h2m5 0h0m3 0h1m10 0h1m4 0h0m5 0h0m2 0h1m7 0h1m-125 1h0m25 0h0m2 0h3m4 0h0m2 0h0m2 0h28m2 0h6m2 0h1m2 0h2m3 0h1m6 0h2m2 0h3m2 0h0m3 0h0m5 0h1m3 0h0m16 0h0m-145 1h0m27 0h0m15 0h0m2 0h0m3 0h0m2 0h2m2 0h29m2 0h1m2 0h3m2 0h1m3 0h0m6 0h0m3 0h2m2 0h1m2 0h0m3 0h1m3 0h0m9 0h0m6 0h0m11 0h0m-127 1h0m2 0h0m14 0h0m10 0h0m3 0h0m4 0h0m2 0h38m5 0h0m2 0h0m3 0h3m9 0h0m6 0h0m2 0h1m3 0h0m7 0h0m3 0h0m-109 1h0m13 0h0m5 0h2m2 0h0m2 0h0m3 0h1m3 0h1m2 0h25m2 0h2m2 0h4m2 0h2m3 0h0m4 0h2m6 0h0m7 0h0m-96 1h0m6 0h0m3 0h1m3 0h0m2 0h0m4 0h4m2 0h1m4 0h16m2 0h1m2 0h8m2 0h4m2 0h0m2 0h0m2 0h2m4 0h1m6 0h0m5 0h0m3 0h1m3 0h1m3 0h0m3 0h1m17 0h0m16 0h0m-163 1h0m14 0h0m23 0h0m8 0h2m3 0h0m3 0h0m2 0h1m2 0h3m2 0h20m2 0h3m2 0h0m2 0h3m2 0h0m2 0h0m2 0h1m2 0h1m13 0h0m4 0h0m9 0h0m2 0h0m36 0h0m-151 1h0m4 0h0m3 0h0m7 0h0m11 0h1m4 0h1m2 0h1m5 0h1m2 0h5m2 0h21m2 0h1m4 0h0m5 0h1m9 0h0m12 0h0m2 0h0m2 0h0m8 0h1m-131 1h0m18 0h0m3 0h0m7 0h0m7 0h0m7 0h0m2 0h0m5 0h0m3 0h22m2 0h0m2 0h12m2 0h0m2 0h0m2 0h0m4 0h1m2 0h0m3 0h0m8 0h0m6 0h0m13 0h1m2 0h0m9 0h0m-151 1h0m12 0h0m3 0h0m9 0h0m7 0h0m9 0h0m5 0h0m2 0h0m2 0h0m2 0h0m2 0h0m4 0h2m2 0h5m2 0h4m2 0h1m2 0h2m2 0h2m3 0h0m2 0h0m3 0h0m3 0h1m2 0h2m3 0h3m3 0h0m2 0h1m7 0h1m3 0h0m2 0h0m2 0h0m6 0h0m-140 1h0m24 0h0m8 0h0m11 0h0m2 0h0m3 0h0m6 0h1m6 0h0m3 0h0m2 0h8m2 0h13m2 0h1m2 0h7m2 0h0m3 0h0m4 0h1m4 0h2m2 0h0m4 0h3m6 0h0m3 0h1m2 0h0m5 0h0m15 0h0m-115 1h0m4 0h0m7 0h0m2 0h0m3 0h0m3 0h2m2 0h5m2 0h5m2 0h2m3 0h2m2 0h0m2 0h2m2 0h0m3 0h0m3 0h0m5 0h0m2 0h2m4 0h0m6 0h0m4 0h1m7 0h1m3 0h0m8 0h0m5 0h0m28 0h0m-160 1h0m16 0h0m5 0h1m12 0h0m3 0h1m2 0h0m2 0h4m2 0h1m2 0h5m2 0h1m2 0h0m2 0h0m2 0h4m2 0h1m2 0h1m3 0h0m2 0h3m2 0h0m2 0h0m4 0h1m2 0h0m5 0h0m2 0h2m2 0h0m4 0h0m4 0h0m5 0h0m3 0h2m9 0h0m2 0h0m3 0h0m4 0h0m-128 1h0m19 0h0m9 0h0m4 0h2m2 0h4m2 0h1m2 0h2m2 0h5m3 0h0m2 0h5m3 0h1m2 0h1m2 0h0m3 0h3m3 0h1m14 0h0m8 0h0m4 0h0m7 0h0m6 0h0m-138 1h0m23 0h0m2 0h0m5 0h0m4 0h0m3 0h0m4 0h0m2 0h0m4 0h0m6 0h12m2 0h1m3 0h2m2 0h0m3 0h3m2 0h0m5 0h0m6 0h0m2 0h0m9 0h0m4 0h0m8 0h1m6 0h0m6 0h0m20 0h0m-164 1h0m4 0h0m4 0h0m18 0h0m19 0h0m5 0h0m2 0h2m3 0h0m2 0h0m7 0h1m2 0h2m3 0h0m3 0h2m2 0h0m2 0h6m3 0h0m3 0h0m7 0h0m2 0h2m3 0h0m3 0h1m2 0h0m2 0h0m2 0h1m13 0h0m4 0h0m-89 1h0m4 0h0m13 0h0m3 0h1m2 0h0m2 0h1m3 0h1m2 0h0m2 0h3m2 0h3m4 0h0m3 0h0m4 0h1m7 0h0m16 0h0m6 0h0m3 0h0m7 0h0m-105 1h0m10 0h0m13 0h0m4 0h0m3 0h0m4 0h5m5 0h0m3 0h5m3 0h2m3 0h0m2 0h0m5 0h1m9 0h0m8 0h0m10 0h0m4 0h1m3 0h1m7 0h1m-148 1h0m13 0h0m33 0h0m2 0h0m10 0h0m6 0h1m4 0h0m2 0h0m2 0h2m2 0h0m2 0h0m5 0h0m7 0h0m9 0h2m9 0h0m4 0h0m3 0h0m4 0h1m42 0h0m-145 1h0m10 0h0m20 0h1m17 0h1m4 0h1m2 0h0m2 0h0m4 0h1m2 0h1m2 0h0m5 0h0m5 0h0m10 0h0m17 0h0m3 0h0m2 0h0m2 0h0m4 0h0m8 0h0m-93 1h0m4 0h0m20 0h0m3 0h0m3 0h0m3 0h0m6 0h1m2 0h0m4 0h0m12 0h0m6 0h0m17 0h0m-127 1h0m26 0h0m10 0h0m17 0h0m3 0h0m16 0h0m14 0h0m2 0h0m20 0h1m4 0h0m5 0h1m28 0h0m2 0h0m2 0h0m-136 1h0m25 0h0m9 0h0m3 0h0m3 0h0m3 0h0m19 0h0m4 0h0m2 0h0m5 0h0m2 0h1m9 0h0m2 0h0m33 0h0m10 0h0m-110 1h0m8 0h0m13 0h0m12 0h0m7 0h0m11 0h0m11 0h0m19 0h0m10 0h0m5 0h0m-105 1h0m42 0h0m3 0h0m6 0h0m6 0h0m3 0h0m18 0h0m6 0h0m3 0h0m7 0h0m-102 1h0m10 0h0m30 0h0m8 0h0m10 0h0m6 0h0m16 0h0m6 0h0m-50 1h0m2 0h0m8 0h0m10 0h0m4 0h0m3 0h0m3 0h0m3 0h0m3 0h0m5 0h0m4 0h0m15 0h0m2 0h0m2 0h1m11 0h0m17 0h0m-114 1h0m23 0h0m14 0h0m5 0h1m6 0h0m3 0h1m6 0h0m6 0h0m19 0h0m62 0h0m-138 1h0m16 0h0m9 0h0m2 0h0m7 0h0m17 0h1m2 0h0m16 0h0m-75 1h0m14 0h0m7 0h2m11 0h0m22 0h0m41 0h0m-95 1h0m27 0h0m3 0h0m23 0h1m2 0h0m22 0h0m32 0h0m-112 1h0m7 0h0m37 0h0m12 0h0m11 0h0m-21 1h0m-56 1h0m59 0h0m3 0h0m10 0h0m-59 1h0m12 0h0m5 0h0m38 0h0m-49 1h0m35 0h0m11 0h0m28 0h0m-123 1h0m54 0h0m14 0h0m9 0h0m17 0h0m-40 1h0m33 0h0m7 0h0m7 0h0m-25 1h0m6 0h0m14 0h0m-47 1h0m13 0h0m6 0h0m6 0h0m12 0h0m4 0h0m12 0h0m-40 1h1m27 0h0m2 0h0m-107 1h0m67 0h0m6 0h0m12 0h0m28 0h0m0 1h0m-34 1h0m4 0h0m-25 1h0m73 0h0m-83 2h0m19 0h0m16 0h0m6 0h0m3 0h0m-38 1h0m13 0h0m4 0h0m13 0h0m19 0h1m-11 1h0m19 0h0m-50 1h0m18 0h0m13 0h0m3 1h0m-9 1h0m-13 1h0m29 0h2m-23 2h0m-13 1h0m40 0h0m-32 1h0m23 0h0m20 0h0m-55 1h0m34 0h0m9 0h0m3 0h0m-28 1h0m16 0h0m31 0h0m-36 1h0m2 0h0m22 0h0m-52 1h0m16 0h0m8 0h0m3 0h0m-15 1h0m8 0h0m4 0h0m4 1h0m-19 1h0m17 0h0m30 1h0m-28 1h0m-21 2h0m23 0h0m24 0h0m-30 1h0m-2 4h0m19 0h0m-26 3h0m1 2h0m17 1h0m-53 1h0m11 0h0m-3 1h0m18 0h0m35 1h0m-1 3h0m-19 2h0m-17 3h0m13 1h0m-28 1h0m40 6h0m-2 1h0m-34 1h0m20 1h0m31 2h0m-50 1h0m44 5h0m-62 1h0m12 0h0m39 1h0m17 1h0m-56 12h0m-5 54h0m2 0h0m13 0h0m2 0h0m9 0h0m3 0h0m7 0h0m2 0h0m3 0h0m10 0h0m11 0h0" stroke="#000"/>
</g>
<rect x="716.8" y="49.5" width="239.0" height="238.5" fill="none" stroke="#444" stroke-width="1.3"/>
<path d="M856.6 49.5V288.0M716.8 177.2H955.8" stroke="#000" stroke-width="1.9" fill="none"/>
<path d="M709.8 288.0H716.8M709.8 243.9H716.8M709.8 199.8H716.8M709.8 155.7H716.8M709.8 111.6H716.8M709.8 67.5H716.8M716.8 288.0V294.5M760.9 288.0V294.5M805.0 288.0V294.5M849.1 288.0V294.5M893.2 288.0V294.5M937.3 288.0V294.5" stroke="#111" stroke-width="2" fill="none"/>
<path d="M713.3 274.7H716.8M713.3 267.0H716.8M713.3 261.4H716.8M713.3 257.2H716.8M713.3 253.7H716.8M713.3 250.7H716.8M713.3 248.2H716.8M713.3 245.9H716.8M713.3 230.6H716.8M713.3 222.9H716.8M713.3 217.3H716.8M713.3 213.1H716.8M713.3 209.6H716.8M713.3 206.6H716.8M713.3 204.1H716.8M713.3 201.8H716.8M713.3 186.5H716.8M713.3 178.8H716.8M713.3 173.2H716.8M713.3 169.0H716.8M713.3 165.5H716.8M713.3 162.5H716.8M713.3 160.0H716.8M713.3 157.7H716.8M713.3 142.4H716.8M713.3 134.7H716.8M713.3 129.1H716.8M713.3 124.9H716.8M713.3 121.4H716.8M713.3 118.4H716.8M713.3 115.9H716.8M713.3 113.6H716.8M713.3 98.3H716.8M713.3 90.6H716.8M713.3 85.0H716.8M713.3 80.8H716.8M713.3 77.3H716.8M713.3 74.3H716.8M713.3 71.8H716.8M713.3 69.5H716.8M713.3 54.2H716.8M730.1 288.0V291.5M737.8 288.0V291.5M743.4 288.0V291.5M747.6 288.0V291.5M751.1 288.0V291.5M754.1 288.0V291.5M756.6 288.0V291.5M758.9 288.0V291.5M774.2 288.0V291.5M781.9 288.0V291.5M787.5 288.0V291.5M791.7 288.0V291.5M795.2 288.0V291.5M798.2 288.0V291.5M800.7 288.0V291.5M803.0 288.0V291.5M818.3 288.0V291.5M826.0 288.0V291.5M831.6 288.0V291.5M835.8 288.0V291.5M839.3 288.0V291.5M842.3 288.0V291.5M844.8 288.0V291.5M847.1 288.0V291.5M862.4 288.0V291.5M870.1 288.0V291.5M875.7 288.0V291.5M879.9 288.0V291.5M883.4 288.0V291.5M886.4 288.0V291.5M888.9 288.0V291.5M891.2 288.0V291.5M906.5 288.0V291.5M914.2 288.0V291.5M919.8 288.0V291.5M924.0 288.0V291.5M927.5 288.0V291.5M930.5 288.0V291.5M933.0 288.0V291.5M935.3 288.0V291.5M950.6 288.0V291.5" stroke="#333" stroke-width="1.1" fill="none"/>
<text x="721.0" y="74.3" font-family="'Liberation Serif', serif" font-size="16.5" font-weight="bold" text-anchor="start" >80,0</text>
<text x="934.1" y="74.3" font-family="'Liberation Serif', serif" font-size="16.5" font-weight="bold" text-anchor="end" >17,2</text>
<text x="721.0" y="272.7" font-family="'Liberation Serif', serif" font-size="16.5" font-weight="bold" text-anchor="start" >2,70</text>
<text x="930.6" y="272.7" font-family="'Liberation Serif', serif" font-size="16.5" font-weight="bold" text-anchor="end" >0,079</text>
<rect x="112.0" y="324.0" width="241.5" height="7.0" fill="#000"/>
<rect x="419.7" y="324.0" width="242.0" height="7.0" fill="#000"/>
<rect x="716.0" y="324.0" width="242.0" height="7.0" fill="#000"/>
<text x="188.2" y="366.3" font-family="'Liberation Serif', serif" font-size="29.5" font-weight="normal" text-anchor="start"  textLength="111.0" lengthAdjust="spacingAndGlyphs">DNAM-1</text>
<text x="504.4" y="367.0" font-family="'Liberation Serif', serif" font-size="29.5" font-weight="normal" text-anchor="start"  textLength="73.9" lengthAdjust="spacingAndGlyphs">CD69</text>
<text x="789.4" y="367.0" font-family="'Liberation Serif', serif" font-size="29.5" font-weight="normal" text-anchor="start"  textLength="95.5" lengthAdjust="spacingAndGlyphs">CD62L</text>
<g transform="translate(112.5,382.5)" fill="none" stroke-linecap="square" stroke-width="1.4">
<path d="M108 28h0m-11 7h0m4 0h0m-9 1h0m-17 1h1m27 0h0m-7 2h0m-1 1h0m2 0h0m11 0h0m15 0h0m7 0h0m-62 1h0m12 0h1m19 0h0m14 0h1m5 0h0m-16 1h0m2 0h0m3 0h0m-49 1h0m25 0h0m16 0h0m16 0h0m6 0h0m7 0h0m-91 1h0m48 0h0m5 0h0m8 0h0m10 0h0m7 0h0m6 0h0m6 0h0m12 0h0m24 0h0m-164 1h0m69 0h0m3 0h0m21 0h0m3 0h0m2 0h0m7 0h2m2 0h0m9 0h0m6 0h0m-74 1h0m4 0h0m7 0h0m16 0h0m6 0h0m7 0h0m6 0h0m6 0h0m12 0h0m10 0h0m-67 1h0m11 0h0m12 0h0m4 0h0m7 0h0m10 0h0m4 0h0m2 0h0m5 0h0m9 0h1m-80 1h0m28 0h0m12 0h0m9 0h0m5 0h0m6 0h0m19 0h0m2 0h0m4 0h0m20 0h0m-83 1h1m12 0h0m3 0h0m3 0h0m4 0h1m19 0h0m5 0h0m5 0h0m7 0h0m6 0h0m-70 1h0m19 0h0m3 0h0m3 0h0m23 0h0m6 0h0m5 0h0m2 0h0m2 0h0m9 0h0m3 0h0m21 0h0m-116 1h0m7 0h0m23 0h2m2 0h0m4 0h0m6 0h1m22 0h1m13 0h0m8 0h0m-84 1h0m20 0h0m6 0h0m10 0h0m42 0h1m2 0h1m8 0h0m-90 1h0m8 0h0m7 0h0m9 0h0m18 0h1m13 0h0m19 0h0m2 0h0m3 0h1m-106 1h0m15 0h0m29 0h0m10 0h0m42 0h0m13 0h0m2 0h0m2 0h0m-90 1h0m3 0h0m12 0h0m36 0h0m21 0h0m6 0h0m9 0h0m37 0h0m-90 1h0m2 0h2m2 0h0m-67 1h0m33 0h0m10 0h0m25 0h0m36 0h0m31 0h0m-144 1h0m17 0h0m18 0h0m5 0h0m18 0h0m5 0h0m3 0h0m5 0h0m21 0h0m20 0h0m16 0h0m-82 1h0m5 0h0m3 0h0m13 0h0m42 0h0m3 0h0m14 0h0m-77 1h0m12 0h0m6 0h0m44 0h0m5 0h0m3 0h0m20 0h0m-125 1h0m10 0h0m27 0h0m2 0h0m10 0h1m6 0h0m44 0h0m9 0h0m3 0h0m4 0h0m-100 1h0m17 0h0m2 0h0m12 0h0m7 0h0m10 0h1m82 0h0m10 0h0m-153 1h0m18 0h0m20 0h0m14 0h0m-46 1h1m3 0h0m5 0h2m7 0h0m6 0h0m5 0h1m7 0h0m7 0h2m13 0h0m34 0h0m7 0h0m8 0h0m-119 1h0m10 0h0m5 0h0m10 0h0m15 0h0m23 0h0m32 0h0m2 0h0m13 0h0m2 0h0m4 0h0m-103 1h0m35 0h0m11 0h0m36 0h0m2 0h0m32 0h0m-124 1h0m9 0h0m32 0h0m6 0h1m48 0h0m6 0h0m4 0h0m16 0h1m18 0h0m-154 1h0m27 0h0m17 0h0m21 0h0m54 0h0m4 0h0m9 0h0m2 0h0m-80 1h0m5 0h0m2 0h0m5 0h0m12 0h0m26 0h1m10 0h0m-74 1h0m9 0h0m22 0h0m14 0h0m13 0h0m11 0h0m-113 1h0m16 0h0m13 0h0m18 0h0m10 0h0m4 0h0m48 0h0m10 0h0m-113 1h0m17 0h0m10 0h0m16 0h0m27 0h0m4 0h1m26 0h0m2 0h0m2 0h0m4 0h0m4 0h0m-103 1h0m13 0h0m3 0h0m19 0h0m4 0h1m15 0h0m2 0h0m4 0h0m8 0h0m8 0h0m16 0h0m3 0h1m-113 1h0m26 0h0m24 0h0m2 0h0m7 0h0m3 0h0m9 0h0m2 0h1m7 0h0m6 0h0m15 0h0m8 0h0m10 0h0m6 0h0m-125 1h0m11 0h0m4 0h0m27 0h0m14 0h1m6 0h0m3 0h0m9 0h0m34 0h0m2 0h0m2 0h0m8 0h1m17 0h0m-146 1h0m27 0h0m11 0h0m55 0h0m10 0h0m17 0h0m3 0h0m9 0h0m-64 1h0m2 0h0m6 0h0m23 0h0m11 0h0m4 0h0m-62 1h1m8 0h0m9 0h0m12 0h0m13 0h0m8 0h0m2 0h0m2 0h0m2 0h0m11 0h0m6 0h0m-123 1h0m12 0h0m24 0h0m24 0h0m21 0h0m5 0h0m3 0h0m5 0h0m12 0h0m4 0h1m7 0h0m6 0h0m-52 1h0m2 0h0m6 0h0m6 0h0m5 0h0m2 0h0m6 0h0m18 0h0m4 0h0m3 0h0m-49 1h0m8 0h0m7 0h0m2 0h0m7 0h0m15 0h0m4 0h0m8 0h0m4 0h0m-102 1h0m12 0h0m29 0h0m25 0h0m10 0h0m3 0h0m2 0h0m23 0h0m2 0h0m-107 1h0m30 0h0m16 0h0m8 0h0m15 0h0m4 0h0m17 0h0m-99 1h0m56 0h0m5 0h0m7 0h0m28 0h0m5 0h0m-79 1h0m30 0h0m19 0h0m5 0h0m2 0h0m4 0h0m2 0h0m11 0h0m-95 1h0m38 0h0m6 0h0m10 0h0m11 0h0m2 0h0m8 0h1m9 0h0m2 0h1m-53 1h0m17 0h0m35 0h0m2 0h1m-57 1h0m8 0h0m4 0h0m18 0h0m5 0h0m4 0h0m2 0h0m5 0h0m4 0h0m6 0h0m5 0h0m-56 1h0m6 0h0m10 0h0m6 0h0m4 0h0m8 0h0m18 0h0m-59 1h0m23 0h1m16 0h0m2 0h0m-43 1h0m33 0h0m56 0h0m-61 1h0m7 0h0m5 0h1m8 0h0m11 0h0m-32 1h0m4 0h0m9 0h0m4 0h0m15 0h1m-36 1h0m11 0h0m14 0h0m2 0h0m-52 1h0m29 0h0m6 0h0m18 0h0m19 0h0m-58 1h0m15 0h0m9 1h0m4 0h0m6 0h0m3 0h0m-44 1h0m14 0h0m23 0h1m7 0h0m-8 1h0m10 0h1m6 0h0m-17 1h0m6 0h0m-4 1h1m2 0h0m3 0h1m14 0h0m-48 1h0m5 0h0m3 0h0m5 0h0m4 0h0m3 0h0m15 0h0m-18 1h0m18 0h1m5 0h0m-43 1h0m11 0h0m15 0h1m4 0h0m19 0h0m3 0h0m1 1h0m-61 1h0m11 1h0m9 0h0m16 0h0m6 0h0m2 0h0m7 0h0m4 0h0m12 0h0m-51 1h0m20 0h0m9 0h0m-29 1h0m4 0h0m4 0h2m17 0h0m5 0h0m-11 1h0m8 0h0m-50 1h0m23 0h0m7 0h0m3 0h0m6 0h0m6 0h0m5 0h0m11 0h0m-39 1h0m9 0h0m21 0h0m-20 1h0m11 0h0m13 0h0m-13 1h0m8 0h0m17 0h0m-56 1h0m5 0h0m29 0h0m-27 1h0m2 0h0m5 0h0m20 0h0m3 0h0m12 0h0m-36 1h0m3 0h0m20 0h0m2 0h0m13 0h0m-31 1h0m3 0h0m5 0h0m2 0h0m5 0h0m17 0h0m-40 1h0m14 0h0m27 0h0m-58 1h0m26 0h0m27 0h0m-43 1h0m12 0h0m3 0h0m4 0h0m-27 1h0m14 0h0m11 0h0m5 0h0m-22 1h0m44 0h0m-62 1h0m6 0h0m19 0h0m6 0h0m11 0h0m5 0h0m29 0h0m-46 2h0m12 0h0m9 0h0m-19 1h0m43 0h0m2 0h0m-45 1h0m5 0h0m4 0h0m7 0h0m-2 1h0m7 0h0m-25 1h0m11 0h0m-14 2h0m20 0h0m3 0h0m7 0h1m18 0h0m-30 1h0m18 0h0m7 0h0m-36 1h0m-6 1h0m15 0h0m17 1h0m-38 1h0m13 0h0m17 0h0m-38 1h0m43 0h0m-37 1h0m20 0h0m-31 1h0m26 1h0m6 1h0m28 0h0m-49 1h0m28 0h0m-12 1h0m-11 1h0m33 0h0m-48 1h0m24 0h0m7 0h0m6 0h0m21 2h0m-25 1h0m4 0h0m-3 1h0m-34 1h0m-6 1h0m39 0h0m17 1h0m-15 1h0m2 0h0m9 0h0m4 2h0m30 0h0m-37 1h0m4 0h0m-16 1h0m-16 1h0m26 0h0m2 2h0m-35 3h0m14 0h0m15 0h0m3 0h1m3 0h0m-18 1h0m19 0h0m-10 1h0m10 1h0m-21 1h0m12 0h0m5 1h0m11 0h0m-14 1h0m11 0h0m7 0h0m-39 4h0m12 0h0m28 1h0m-38 3h0m18 0h0m-21 1h0m36 0h0m12 0h0m-25 3h0m-9 1h0m28 1h0m-17 2h0m-34 4h0m64 10h0m-20 14h0m99 12h0m-154 7h0m10 0h0m8 0h0m2 0h0m9 0h0m7 0h0m6 0h0m6 0h0m6 0h0m-26 1h0" stroke="#bdbdbd"/>
<path d="M104 30h0m-21 3h0m-5 1h0m-5 1h0m38 1h0m12 0h0m-31 1h0m8 0h0m26 0h0m18 1h0m-53 1h1m3 0h0m-13 1h0m8 0h0m4 0h0m10 0h0m8 0h0m-3 1h0m8 0h0m17 0h0m-39 1h0m10 0h0m6 0h0m9 0h0m44 0h0m-76 1h0m4 0h0m8 0h0m2 0h0m26 0h0m-44 1h0m2 0h0m8 0h0m7 0h0m4 0h1m5 0h0m13 0h0m-41 1h0m4 0h0m31 0h0m-93 1h0m67 0h0m9 0h1m-41 1h0m3 0h0m18 0h1m5 0h0m22 0h0m7 0h0m4 0h0m39 0h0m-115 1h0m24 0h0m9 0h0m6 0h0m21 0h1m4 0h0m5 0h0m-30 1h0m20 0h0m9 0h0m7 0h0m5 0h0m7 0h0m-15 1h0m5 0h0m-121 1h0m59 0h0m5 0h0m18 0h0m8 0h1m14 0h0m4 0h0m7 0h0m2 0h0m-112 1h0m32 0h0m10 0h0m18 0h0m6 0h0m11 0h0m2 0h0m27 0h0m3 0h0m3 0h2m4 0h0m-100 1h0m18 0h0m23 0h0m2 0h0m40 0h0m11 0h0m14 0h0m16 0h0m-117 1h1m22 0h2m11 0h0m3 0h0m15 0h1m10 0h0m30 0h0m23 0h0m-96 1h0m14 0h0m4 0h0m2 0h0m4 0h0m6 0h0m41 0h1m2 0h1m-69 1h0m6 0h1m8 0h1m2 0h0m7 0h0m37 0h0m3 0h0m2 0h0m5 0h0m-76 1h0m13 0h1m7 0h0m2 0h1m5 0h0m38 0h0m2 0h0m3 0h0m7 0h0m12 0h0m-71 1h0m3 0h0m34 0h0m7 0h0m6 0h0m2 0h0m87 0h0m-199 1h0m9 0h0m17 0h0m7 0h0m13 0h0m13 0h0m4 0h0m28 0h0m19 0h0m17 0h0m-98 1h0m3 0h0m11 0h0m5 0h0m6 0h1m16 0h0m43 0h0m10 0h0m2 0h0m2 0h0m-81 1h0m9 0h0m44 0h0m9 0h0m6 0h0m11 0h0m-131 1h0m25 0h0m27 0h0m2 0h0m52 0h0m4 0h0m9 0h0m4 0h0m13 0h0m34 0h0m-113 1h0m10 0h0m8 0h0m4 0h0m38 0h0m24 0h0m-119 1h0m11 0h1m5 0h0m14 0h1m17 0h0m45 0h0m13 0h0m-117 1h0m11 0h0m21 0h0m8 0h0m15 0h0m6 0h0m13 0h0m15 0h0m16 0h0m11 0h0m3 0h0m14 0h0m-93 1h0m17 0h0m44 0h0m-100 1h0m16 0h0m18 0h0m9 0h0m3 0h0m4 0h0m5 0h0m47 0h0m2 0h1m-120 1h0m50 0h1m8 0h0m5 0h0m3 0h0m2 0h2m5 0h0m37 0h0m-113 1h0m12 0h0m10 0h0m12 0h0m24 0h1m2 0h0m5 0h0m48 0h0m7 0h0m16 0h0m-123 1h0m26 0h0m14 0h0m3 0h0m54 0h0m14 0h0m2 0h0m-120 1h0m38 0h1m3 0h0m9 0h0m2 0h0m3 0h1m11 0h0m11 0h0m25 0h0m23 0h0m-117 1h0m19 0h0m6 0h0m4 0h0m13 0h0m2 0h0m3 0h0m6 0h0m17 0h0m18 0h0m18 0h0m11 0h0m-111 1h0m31 0h0m3 0h1m5 0h0m3 0h0m21 0h0m23 0h1m3 0h0m8 0h0m-111 1h0m19 0h0m26 0h0m5 0h0m8 0h0m11 0h0m19 0h0m12 0h0m2 0h0m3 0h0m8 0h0m8 0h0m-136 1h0m42 0h0m7 0h0m4 0h0m6 0h1m6 0h0m9 0h0m3 0h0m8 0h0m5 0h0m22 0h0m10 0h1m5 0h0m-121 1h1m53 0h0m6 0h0m17 0h0m10 0h0m8 0h0m14 0h0m2 0h0m21 0h0m-111 1h0m7 0h0m39 0h2m5 0h0m14 0h0m11 0h0m-68 1h0m3 0h0m19 0h0m18 0h0m4 0h0m9 0h0m19 0h0m24 0h0m-121 1h0m4 0h0m6 0h0m3 0h0m5 0h0m23 0h0m9 0h0m3 0h0m2 0h0m12 0h0m3 0h0m2 0h0m3 0h0m3 0h0m9 0h0m4 0h0m12 0h0m9 0h0m-100 1h0m7 0h0m20 0h0m24 0h0m6 0h0m14 0h0m7 0h0m2 0h3m2 0h0m-74 1h0m10 0h0m15 0h0m5 0h1m2 0h0m4 0h0m15 0h0m3 0h0m4 0h0m12 0h0m-76 1h0m33 0h0m9 0h0m17 0h0m3 0h0m2 0h0m8 0h0m2 0h0m8 0h1m6 0h0m-116 1h0m58 0h0m6 0h0m11 0h0m5 0h0m10 0h1m30 0h0m-128 1h0m39 0h0m25 0h0m28 0h0m19 0h0m8 0h0m7 0h0m-75 1h0m17 0h0m6 0h0m9 0h0m3 0h0m7 0h0m11 0h0m6 0h0m7 0h0m-105 1h0m64 0h0m6 0h0m8 0h0m12 0h2m7 0h0m22 0h0m-50 1h1m14 0h0m3 0h0m3 0h0m-14 1h0m12 0h0m3 0h0m22 0h0m-45 1h0m5 0h0m2 0h0m15 0h0m13 0h0m-112 1h0m75 0h0m3 0h0m18 0h0m2 0h0m6 0h0m2 0h0m-20 1h1m82 0h0m-129 1h0m33 0h0m7 0h0m9 0h0m10 0h0m2 0h0m8 0h0m-11 1h1m-19 1h0m23 0h0m-17 1h0m16 0h0m14 0h0m-26 1h0m-11 1h0m22 0h0m6 0h0m-32 1h0m11 0h0m6 0h0m2 0h0m9 0h0m-43 1h0m31 0h0m8 0h0m4 0h0m13 0h0m2 0h0m8 0h0m-91 1h0m32 0h0m4 0h0m32 0h0m-53 1h0m26 0h0m2 0h0m-9 1h0m2 0h0m10 0h0m10 0h0m24 0h0m-46 1h0m23 0h0m20 0h0m-94 1h0m82 0h0m2 0h0m2 0h0m4 0h0m11 0h0m-56 1h0m4 0h0m7 0h0m9 0h0m11 0h0m5 0h0m4 0h0m-36 1h0m14 0h0m10 0h0m5 0h0m6 0h0m5 0h0m2 0h0m2 0h0m4 0h0m18 0h0m-61 1h0m5 0h0m6 0h0m14 0h0m8 0h0m7 0h0m-52 1h0m10 0h0m14 0h0m31 0h0m-31 1h0m2 0h0m3 0h0m26 0h0m-71 2h0m35 0h1m9 0h0m19 0h0m-41 1h0m14 0h0m6 0h0m9 0h0m6 0h0m4 0h0m10 0h0m-45 1h0m20 0h1m3 0h0m24 0h0m-8 1h0m-26 1h0m11 0h0m5 0h0m-33 1h0m8 0h0m12 0h0m17 0h0m-43 1h0m59 0h0m-17 1h0m-23 1h0m22 0h0m-18 1h0m8 0h1m8 0h0m3 0h0m8 1h0m5 0h0m-48 1h0m19 0h0m-3 1h0m63 0h0m-69 1h0m5 0h0m-19 1h0m26 0h0m3 0h0m8 0h0m10 0h1m-43 1h0m11 0h0m12 0h0m5 0h0m13 0h0m-46 1h0m17 0h0m21 0h0m-39 1h0m19 0h0m30 0h0m-16 1h0m14 0h0m-27 1h0m8 0h0m5 0h0m8 0h0m2 0h0m20 0h0m-30 1h0m12 1h0m8 0h0m-47 2h0m18 1h0m4 0h0m21 0h0m1 2h0m-33 2h0m14 0h0m9 0h0m-48 1h0m2 0h0m33 0h0m7 0h0m-26 1h0m27 0h0m-26 1h0m5 0h0m20 0h0m4 0h0m29 0h0m-49 2h0m-16 1h0m34 0h0m5 0h0m-33 1h0m28 0h0m6 0h0m6 0h0m-41 1h0m25 0h0m20 0h0m-25 1h0m9 0h0m2 1h0m-16 1h0m-18 1h0m11 2h0m25 0h0m-15 1h0m21 0h0m-7 1h0m-8 2h0m-1 1h0m13 1h0m-19 1h0m17 0h0m-31 1h0m94 0h0m-66 1h0m6 0h0m-20 1h0m9 1h0m23 0h0m-28 1h0m-24 1h0m29 0h0m-27 1h0m-9 1h0m22 0h0m6 0h0m-7 1h0m-16 1h0m45 3h0m-44 4h0m12 1h0m18 0h0m-17 1h0m40 4h0m-44 5h0m86 0h0m-78 1h0m-46 17h0m166 6h0m-17 1h0m-148 20h0m38 0h0m2 0h0m5 0h0m5 0h0m6 0h0m2 0h0m6 0h0m10 0h0" stroke="#707070"/>
<path d="M84 33h0m16 2h0m-3 2h0m7 1h0m-15 1h0m12 0h0m10 0h1m4 0h0m105 0h0m-154 1h0m14 0h0m6 0h0m14 0h0m8 0h0m-1 1h0m25 0h0m-50 1h0m3 0h0m4 0h0m4 0h0m19 0h0m-24 1h0m5 0h0m3 0h0m2 0h0m5 0h1m3 0h0m8 0h0m-33 1h0m10 0h0m3 0h0m2 0h0m4 0h0m2 0h0m8 0h1m7 0h0m-43 1h0m11 0h0m5 0h0m2 0h0m6 0h1m11 0h0m2 0h0m-93 1h0m37 0h0m24 0h0m12 0h1m3 0h0m6 0h3m3 0h0m6 0h0m-28 1h1m6 0h5m2 0h2m2 0h0m13 0h0m13 0h0m-47 1h1m2 0h0m4 0h1m2 0h0m2 0h1m2 0h1m2 0h0m3 0h2m3 0h0m2 0h0m2 0h0m3 0h1m-114 1h0m74 0h0m3 0h0m4 0h0m3 0h7m3 0h2m2 0h0m2 0h1m2 0h0m2 0h1m3 0h2m2 0h1m2 0h0m10 0h0m-60 1h0m2 0h0m2 0h0m6 0h0m6 0h0m2 0h4m2 0h3m2 0h6m6 0h1m14 0h0m-98 1h0m47 0h0m4 0h0m2 0h0m4 0h1m2 0h0m4 0h1m2 0h1m2 0h6m4 0h0m2 0h0m2 0h2m3 0h0m-57 1h0m11 0h0m4 0h1m8 0h0m2 0h19m2 0h2m2 0h0m2 0h1m2 0h1m4 0h0m-112 1h0m54 0h0m10 0h0m4 0h0m2 0h1m2 0h3m3 0h0m2 0h9m2 0h5m2 0h1m2 0h2m2 0h1m4 0h0m2 0h0m4 0h0m-77 1h0m4 0h0m19 0h0m3 0h0m2 0h0m3 0h1m2 0h0m4 0h1m2 0h5m2 0h17m2 0h0m2 0h1m2 0h0m2 0h1m-109 1h0m57 0h0m2 0h1m3 0h0m3 0h1m2 0h8m2 0h17m2 0h0m2 0h1m2 0h0m3 0h2m7 0h0m13 0h0m10 0h0m-91 1h0m2 0h0m4 0h0m2 0h0m3 0h0m8 0h0m2 0h0m2 0h0m2 0h21m2 0h7m2 0h1m2 0h1m2 0h0m3 0h0m5 0h0m-107 1h0m2 0h0m28 0h0m11 0h0m3 0h1m3 0h0m6 0h0m2 0h0m3 0h28m2 0h3m2 0h1m2 0h0m2 0h0m-58 1h0m4 0h0m8 0h18m2 0h12m2 0h4m3 0h1m2 0h0m-101 1h1m35 0h0m11 0h2m4 0h1m3 0h0m2 0h24m2 0h7m2 0h1m2 0h2m2 0h1m2 0h0m9 0h0m-131 1h0m22 0h0m6 0h0m7 0h0m2 0h0m9 0h0m25 0h1m2 0h1m2 0h4m2 0h29m2 0h2m3 0h1m2 0h0m8 0h1m2 0h0m24 0h0m-126 1h0m7 0h0m12 0h0m11 0h0m2 0h0m6 0h2m2 0h1m2 0h34m2 0h3m2 0h0m4 0h0m3 0h0m15 0h0m-116 1h0m11 0h0m12 0h0m4 0h0m2 0h0m2 0h0m5 0h0m3 0h0m4 0h3m2 0h8m3 0h29m2 0h0m2 0h0m2 0h1m2 0h0m10 0h0m-118 1h0m9 0h0m22 0h0m4 0h0m10 0h0m5 0h0m4 0h0m4 0h1m3 0h1m2 0h3m2 0h2m2 0h29m3 0h1m2 0h1m4 0h0m3 0h0m-67 1h0m6 0h0m5 0h1m2 0h0m3 0h5m2 0h26m2 0h3m3 0h0m3 0h1m3 0h0m19 0h0m5 0h0m-134 1h0m4 0h0m3 0h0m36 0h0m5 0h0m3 0h4m2 0h3m3 0h11m2 0h2m2 0h9m2 0h1m2 0h0m2 0h3m2 0h4m6 0h0m2 0h0m-99 1h0m28 0h1m8 0h0m3 0h0m2 0h0m3 0h3m2 0h28m2 0h0m2 0h2m2 0h1m2 0h0m4 0h2m5 0h0m-67 1h0m2 0h0m4 0h2m3 0h40m2 0h1m2 0h0m-118 1h0m59 0h0m16 0h2m2 0h31m2 0h2m2 0h0m2 0h1m2 0h0m5 0h0m6 0h0m-90 1h0m14 0h0m6 0h0m3 0h0m7 0h1m2 0h5m2 0h0m2 0h24m3 0h2m2 0h0m2 0h2m17 0h0m8 0h0m-105 1h0m21 0h0m3 0h0m2 0h3m2 0h1m2 0h2m3 0h0m2 0h10m2 0h11m2 0h7m2 0h0m5 0h0m2 0h0m2 0h0m5 0h0m-111 1h0m2 0h0m4 0h0m6 0h0m27 0h0m12 0h0m2 0h1m3 0h2m2 0h1m2 0h6m2 0h11m2 0h8m2 0h0m2 0h1m2 0h1m4 0h0m4 0h0m-126 1h0m23 0h0m37 0h0m9 0h2m3 0h1m2 0h0m2 0h2m3 0h4m2 0h16m2 0h0m2 0h0m2 0h0m2 0h0m2 0h0m8 0h0m-102 1h0m48 0h2m2 0h0m2 0h0m2 0h0m2 0h1m2 0h3m2 0h0m2 0h4m2 0h14m8 0h0m9 0h0m9 0h0m-95 1h0m2 0h0m7 0h0m7 0h0m9 0h0m2 0h0m9 0h4m3 0h4m2 0h10m2 0h1m2 0h0m2 0h2m2 0h0m3 0h0m10 0h0m-83 1h0m11 0h1m8 0h0m2 0h0m5 0h0m2 0h2m2 0h1m4 0h0m2 0h2m2 0h3m2 0h4m2 0h3m2 0h9m3 0h0m2 0h0m3 0h0m2 0h0m-71 1h0m12 0h0m4 0h0m7 0h2m2 0h1m2 0h3m3 0h3m2 0h2m2 0h4m2 0h0m2 0h0m2 0h1m2 0h0m2 0h0m2 0h2m-62 1h0m10 0h0m6 0h0m2 0h2m8 0h0m2 0h0m2 0h10m3 0h8m3 0h1m3 0h1m5 0h0m-74 1h0m24 0h0m4 0h0m2 0h1m5 0h1m2 0h7m4 0h0m2 0h3m2 0h0m2 0h0m2 0h0m2 0h0m2 0h0m3 0h1m2 0h0m3 0h0m9 0h0m15 0h0m-145 1h0m58 0h1m17 0h1m13 0h0m3 0h0m2 0h1m2 0h0m3 0h1m3 0h1m2 0h0m8 0h0m4 0h0m2 0h0m-72 1h0m10 0h0m10 0h0m8 0h0m3 0h0m3 0h0m2 0h2m2 0h1m6 0h1m2 0h1m2 0h0m2 0h0m2 0h0m5 0h0m3 0h0m4 0h0m-67 1h0m4 0h0m19 0h0m4 0h0m3 0h1m6 0h0m3 0h0m4 0h1m3 0h1m2 0h1m2 0h0m2 0h0m4 0h1m2 0h0m66 0h0m-171 1h0m54 0h0m10 0h1m2 0h1m2 0h0m5 0h1m3 0h0m2 0h1m2 0h0m9 0h1m5 0h0m6 0h0m-47 1h0m2 0h0m4 0h0m3 0h0m2 0h0m2 0h0m2 0h0m3 0h0m5 0h1m3 0h0m6 0h0m3 0h1m2 0h0m3 0h0m2 0h0m-49 1h0m6 0h0m9 0h0m7 0h1m2 0h0m5 0h0m2 0h0m2 0h0m5 0h1m3 0h0m27 0h0m-99 1h0m32 0h0m3 0h0m20 0h0m2 0h0m4 0h0m6 0h0m26 0h0m3 0h0m-79 1h0m18 0h0m5 0h0m17 0h0m3 0h0m-32 1h0m18 0h0m7 0h2m4 0h0m7 0h0m3 0h0m-20 1h0m29 0h0m-41 1h0m24 0h0m7 0h0m13 0h0m-30 1h0m27 0h1m-6 1h0m5 0h0m-19 1h0m8 0h0m-20 1h0m5 0h0m3 0h0m2 0h0m-46 1h0m33 0h0m-36 1h0m45 0h0m2 0h0m10 0h0m-14 1h0m14 0h0m14 0h0m-13 1h0m5 0h0m-45 1h0m24 0h0m8 0h0m-14 1h0m13 0h0m2 0h1m3 0h0m2 0h0m12 0h0m-69 1h0m44 0h0m7 0h0m7 0h0m2 0h1m2 0h0m2 0h0m-18 1h0m3 0h0m-7 1h0m7 0h1m4 0h0m-22 1h0m6 0h0m19 0h0m3 0h0m6 0h0m9 0h0m-34 1h0m7 0h0m11 0h0m-27 1h0m9 0h0m5 0h0m3 0h0m10 0h0m3 0h0m-26 1h0m10 0h0m3 0h0m7 0h0m36 0h0m-46 1h0m18 0h1m6 0h0m8 0h0m-53 1h0m7 0h0m7 0h0m28 0h0m2 0h0m-10 1h0m-21 1h0m5 1h0m21 0h0m10 0h0m-30 1h0m6 0h0m9 0h0m3 0h0m-24 1h0m7 0h0m12 0h0m-15 1h0m10 0h0m8 0h0m5 0h0m-18 1h0m6 0h0m7 0h0m-39 1h0m7 0h0m11 1h0m3 0h0m9 0h0m-10 1h0m7 1h0m12 0h0m-33 1h0m25 0h0m-9 1h0m28 0h0m10 0h0m-41 1h0m5 0h0m12 0h0m-1 1h0m-7 1h0m-12 1h0m10 0h0m8 0h0m7 0h0m-3 2h0m2 0h0m-45 1h0m28 0h0m12 0h0m-14 1h0m15 1h0m-2 1h0m-32 1h0m38 0h0m-27 2h0m20 0h0m17 0h0m-19 3h0m6 2h1m-23 1h0m23 0h0m-8 1h0m12 0h0m6 1h0m-25 1h0m2 0h1m14 0h0m5 0h0m24 0h0m-34 1h0m-6 1h0m-10 2h0m31 2h0m-23 2h0m7 0h0m4 1h0m-13 2h0m27 0h0m-24 1h0m-2 1h0m14 4h0m18 0h0m-49 1h0m-4 11h0m26 0h0m-31 1h0m15 2h0m41 3h0m-7 1h0m-19 8h0m-12 2h0m128 19h0m-73 25h0" stroke="#000"/>
</g>
<rect x="111.6" y="381.6" width="236.4" height="235.6" fill="none" stroke="#444" stroke-width="1.3"/>
<path d="M241.2 381.6V617.2M111.6 510.7H348.0" stroke="#000" stroke-width="1.9" fill="none"/>
<path d="M104.6 617.2H111.6M104.6 573.1H111.6M104.6 529.0H111.6M104.6 484.9H111.6M104.6 440.8H111.6M104.6 396.7H111.6M111.6 617.2V623.7M155.7 617.2V623.7M199.8 617.2V623.7M243.9 617.2V623.7M288.0 617.2V623.7M332.1 617.2V623.7" stroke="#111" stroke-width="2" fill="none"/>
<path d="M108.1 603.9H111.6M108.1 596.2H111.6M108.1 590.6H111.6M108.1 586.4H111.6M108.1 582.9H111.6M108.1 579.9H111.6M108.1 577.4H111.6M108.1 575.1H111.6M108.1 559.8H111.6M108.1 552.1H111.6M108.1 546.5H111.6M108.1 542.3H111.6M108.1 538.8H111.6M108.1 535.8H111.6M108.1 533.3H111.6M108.1 531.0H111.6M108.1 515.7H111.6M108.1 508.0H111.6M108.1 502.4H111.6M108.1 498.2H111.6M108.1 494.7H111.6M108.1 491.7H111.6M108.1 489.2H111.6M108.1 486.9H111.6M108.1 471.6H111.6M108.1 463.9H111.6M108.1 458.3H111.6M108.1 454.1H111.6M108.1 450.6H111.6M108.1 447.6H111.6M108.1 445.1H111.6M108.1 442.8H111.6M108.1 427.5H111.6M108.1 419.8H111.6M108.1 414.2H111.6M108.1 410.0H111.6M108.1 406.5H111.6M108.1 403.5H111.6M108.1 401.0H111.6M108.1 398.7H111.6M108.1 383.4H111.6M124.9 617.2V620.7M132.6 617.2V620.7M138.2 617.2V620.7M142.4 617.2V620.7M145.9 617.2V620.7M148.9 617.2V620.7M151.4 617.2V620.7M153.7 617.2V620.7M169.0 617.2V620.7M176.7 617.2V620.7M182.3 617.2V620.7M186.5 617.2V620.7M190.0 617.2V620.7M193.0 617.2V620.7M195.5 617.2V620.7M197.8 617.2V620.7M213.1 617.2V620.7M220.8 617.2V620.7M226.4 617.2V620.7M230.6 617.2V620.7M234.1 617.2V620.7M237.1 617.2V620.7M239.6 617.2V620.7M241.9 617.2V620.7M257.2 617.2V620.7M264.9 617.2V620.7M270.5 617.2V620.7M274.7 617.2V620.7M278.2 617.2V620.7M281.2 617.2V620.7M283.7 617.2V620.7M286.0 617.2V620.7M301.3 617.2V620.7M309.0 617.2V620.7M314.6 617.2V620.7M318.8 617.2V620.7M322.3 617.2V620.7M325.3 617.2V620.7M327.8 617.2V620.7M330.1 617.2V620.7M345.4 617.2V620.7" stroke="#333" stroke-width="1.1" fill="none"/>
<text x="115.8" y="406.4" font-family="'Liberation Serif', serif" font-size="16.5" font-weight="bold" text-anchor="start" >92,8</text>
<text x="326.3" y="406.4" font-family="'Liberation Serif', serif" font-size="16.5" font-weight="bold" text-anchor="end" >0,77</text>
<text x="115.8" y="601.9" font-family="'Liberation Serif', serif" font-size="16.5" font-weight="bold" text-anchor="start" >6,38</text>
<text x="322.8" y="601.9" font-family="'Liberation Serif', serif" font-size="16.5" font-weight="bold" text-anchor="end" >0,060</text>
<g transform="translate(421.5,383.5)" fill="none" stroke-linecap="square" stroke-width="1.4">
<path d="M213 26h0m-159 4h0m-46 1h0m62 2h0m5 0h0m34 1h0m96 1h0m-133 1h0m-2 1h0m4 0h0m5 0h0m11 0h0m-25 1h0m19 0h0m16 0h0m31 0h0m-119 1h0m58 0h1m9 0h0m5 0h0m-65 1h0m45 0h0m7 0h0m2 0h0m4 0h0m10 0h0m-58 1h0m3 0h0m54 0h0m12 0h0m5 0h0m8 0h0m-71 1h0m29 0h1m17 0h0m3 0h0m4 0h0m25 0h0m-94 1h0m37 0h0m4 0h0m3 0h0m27 0h0m11 0h0m-48 1h0m7 0h0m7 0h0m3 0h0m18 0h0m4 0h0m17 0h0m-106 1h0m45 0h0m9 0h0m4 0h0m11 0h1m15 0h0m4 0h0m46 0h0m19 0h0m-126 1h0m17 0h0m21 0h0m-62 1h0m13 0h0m5 0h0m17 0h1m6 0h0m20 0h0m2 0h0m3 0h0m3 0h0m6 0h0m2 0h0m5 0h0m2 0h0m2 0h1m-88 1h0m26 0h0m10 0h0m11 0h0m6 0h0m4 0h0m25 0h1m3 0h1m-61 1h0m12 0h0m2 0h0m10 0h0m3 0h0m15 0h0m8 0h0m6 0h0m8 0h0m-66 1h0m2 0h0m3 0h0m10 0h0m6 0h0m12 0h0m15 0h0m6 0h0m10 0h0m-98 1h0m13 0h0m25 0h1m12 0h0m4 0h1m2 0h1m19 0h0m3 0h1m9 0h0m8 0h0m4 0h0m-104 1h0m6 0h0m21 0h0m13 0h0m3 0h0m2 0h0m6 0h0m16 0h0m4 0h0m27 0h0m53 0h0m-135 1h0m15 0h0m10 0h0m5 0h0m6 0h0m2 0h0m3 0h0m3 0h0m29 0h1m8 0h1m40 0h0m6 0h0m12 0h0m16 0h0m6 0h0m7 0h0m-181 1h0m3 0h0m7 0h0m9 0h0m10 0h0m14 0h0m5 0h0m3 0h0m4 0h1m38 0h0m13 0h0m63 0h0m-177 1h0m7 0h0m9 0h0m3 0h0m18 0h0m2 0h0m4 0h0m2 0h1m4 0h0m45 0h0m13 0h0m-97 1h0m126 0h0m-127 1h1m11 0h0m2 0h0m4 0h0m9 0h0m2 0h2m6 0h0m7 0h0m7 0h0m10 0h0m29 0h0m9 0h0m5 0h0m16 0h0m34 0h0m-164 1h0m8 0h0m2 0h0m6 0h0m10 0h0m3 0h0m9 0h1m2 0h1m49 0h0m14 0h0m33 0h0m-133 1h0m8 0h0m18 0h0m2 0h0m5 0h0m19 0h0m46 0h0m9 0h0m100 0h0m-198 1h0m7 0h0m7 0h1m10 0h0m6 0h0m6 0h0m6 0h0m11 0h0m25 0h0m2 0h0m12 0h0m2 0h0m43 0h0m-133 1h0m6 0h0m7 0h0m6 0h0m5 0h0m52 0h0m55 0h0m-145 1h1m7 0h0m14 0h0m5 0h0m8 0h0m3 0h0m13 0h0m76 0h0m55 0h0m-166 1h0m8 0h0m5 0h0m7 0h1m10 0h0m7 0h0m40 0h0m6 0h0m29 0h0m-130 1h0m2 0h0m4 0h0m7 0h1m9 0h0m3 0h0m3 0h0m9 0h0m19 0h0m28 0h0m12 0h0m6 0h0m31 0h0m12 0h0m-149 1h0m7 0h1m9 0h1m15 0h0m2 0h0m13 0h0m5 0h0m8 0h1m33 0h0m4 0h0m2 0h1m4 0h0m17 0h0m20 0h0m17 0h0m6 0h0m-160 1h0m9 0h0m5 0h0m9 0h0m10 0h0m4 0h0m3 0h0m7 0h2m3 0h0m9 0h0m25 0h0m6 0h1m5 0h0m92 0h0m-185 1h0m17 0h0m3 0h0m2 0h0m2 0h2m12 0h0m12 0h0m2 0h0m2 0h0m22 0h0m17 0h0m2 0h0m11 0h0m33 0h0m21 0h0m5 0h0m-164 1h0m5 0h0m8 0h0m2 0h0m16 0h0m-43 1h0m20 0h0m10 0h0m15 0h0m4 0h0m8 0h0m4 0h0m46 0h0m-104 1h0m4 0h0m13 0h0m4 0h0m5 0h0m6 0h0m2 0h0m2 0h0m11 0h0m5 0h0m2 0h0m11 0h0m23 0h0m9 0h1m4 0h1m3 0h0m-110 1h0m9 0h0m35 0h0m6 0h0m2 0h0m42 0h0m6 0h0m8 0h0m3 0h0m41 0h0m-150 1h0m4 0h0m3 0h0m15 0h0m4 0h0m6 0h0m72 0h0m4 0h0m5 0h0m12 0h0m5 0h0m-116 1h1m2 0h0m22 0h0m10 0h1m43 0h0m6 0h0m8 0h1m-99 1h0m5 0h1m7 0h0m2 0h0m7 0h0m5 0h0m11 0h0m12 0h0m12 0h0m2 0h0m4 0h0m8 0h0m11 0h0m21 0h0m6 0h0m5 0h0m10 0h0m22 0h0m-153 1h0m9 0h0m8 0h2m9 0h1m21 0h0m6 0h0m18 0h0m11 0h0m5 0h1m57 0h0m-152 1h0m7 0h0m2 0h0m8 0h0m10 0h0m2 0h0m3 0h0m5 0h0m5 0h0m5 0h0m9 0h0m2 0h0m3 0h0m22 0h0m4 0h0m4 0h0m30 0h0m32 0h0m-157 1h0m7 0h0m7 0h0m3 0h0m4 0h0m2 0h0m22 0h0m2 0h0m7 0h0m4 0h1m3 0h0m3 0h0m2 0h0m5 0h0m3 0h0m7 0h0m10 0h0m6 0h0m7 0h0m4 0h0m-109 1h0m13 0h0m10 0h0m17 0h0m3 0h0m4 0h0m6 0h0m21 0h0m3 0h0m3 0h1m6 0h0m27 0h0m-113 1h0m7 0h0m7 0h0m5 0h0m11 0h0m12 0h0m8 0h0m20 0h0m9 0h0m6 0h0m2 0h0m14 0h1m45 0h0m-136 1h0m11 0h0m7 0h0m3 0h0m8 0h1m6 0h0m2 0h0m2 0h0m6 0h1m12 0h1m22 0h0m2 0h0m6 0h0m6 0h0m-102 1h0m13 0h0m10 0h0m3 0h0m2 0h1m6 0h0m4 0h0m3 0h0m37 0h0m2 0h0m2 0h0m5 0h1m3 0h0m3 0h0m6 0h1m84 0h0m-187 1h0m8 0h0m3 0h0m10 0h0m12 0h0m4 0h0m5 0h0m4 0h3m5 0h0m3 0h1m4 0h0m5 0h2m8 0h0m3 0h0m7 0h0m5 0h0m3 0h0m5 0h0m48 0h0m13 0h0m-162 1h0m10 0h0m16 0h0m3 0h0m2 0h0m2 0h0m7 0h0m3 0h0m4 0h1m9 0h0m3 0h0m9 0h0m13 0h0m8 0h0m8 0h0m8 0h0m2 0h0m7 0h0m11 0h0m12 0h0m-136 1h1m17 0h0m43 0h0m5 0h0m4 0h0m2 0h0m8 0h0m3 0h0m5 0h0m90 0h0m-148 1h1m20 0h0m18 0h0m-39 1h0m2 0h0m17 0h0m5 0h0m10 0h1m7 0h0m10 0h0m13 0h0m-58 1h0m2 0h0m19 0h0m9 0h0m13 0h0m3 0h0m9 0h0m23 0h0m-93 1h0m24 0h0m3 0h0m13 0h0m21 0h0m3 0h0m5 0h0m52 0h0m-129 1h0m3 0h0m26 0h1m15 0h0m5 0h0m17 0h0m3 0h0m4 0h0m-93 1h0m6 0h0m6 0h0m15 0h0m15 0h0m5 0h0m11 0h0m2 0h0m2 0h0m2 0h0m12 0h0m8 0h0m5 0h1m3 0h0m3 0h0m-75 1h0m20 0h0m10 0h1m2 0h0m9 0h0m4 0h0m4 0h0m11 0h0m16 0h0m-51 1h0m5 0h0m27 0h0m14 0h1m2 0h0m16 0h0m10 0h0m-102 1h0m3 0h0m10 0h0m11 0h0m11 0h0m6 0h0m10 0h0m6 0h0m9 0h0m10 0h0m4 0h0m3 0h0m-73 1h0m5 0h0m15 0h0m2 0h0m25 0h0m2 0h0m32 0h0m-38 1h0m11 0h0m16 0h0m3 0h0m-51 1h0m2 0h0m2 0h0m4 0h0m15 0h0m3 0h0m7 0h0m13 0h0m6 0h0m3 0h0m14 0h0m-68 1h0m6 0h0m66 0h0m2 0h0m17 0h0m-119 1h0m15 0h1m9 0h0m8 0h0m12 0h0m10 0h1m7 0h0m-38 1h0m16 0h0m22 0h0m10 0h0m10 0h0m-15 1h0m-58 1h0m38 0h0m9 0h2m14 0h0m2 0h0m-58 1h0m17 0h0m20 0h0m16 0h0m6 0h0m7 0h0m-42 1h0m2 0h0m5 0h0m8 0h0m29 0h0m-43 1h0m4 0h0m7 0h1m8 0h0m8 0h0m17 0h0m-58 1h0m6 0h0m14 0h0m4 0h0m14 0h0m28 0h0m68 0h0m-136 1h0m7 0h0m17 0h0m12 0h0m7 0h0m-36 1h0m3 0h0m10 0h0m6 0h0m21 0h1m10 0h0m-41 1h0m22 0h0m-39 1h0m17 0h0m21 0h0m-36 1h0m5 0h0m10 0h0m24 0h0m4 0h1m8 0h0m-69 1h0m7 0h0m17 0h0m17 0h0m18 0h0m-38 1h0m13 0h1m57 0h0m-62 1h0m13 0h0m7 0h0m9 0h0m52 0h0m-102 1h0m2 0h0m18 0h0m10 0h0m2 0h0m5 0h0m5 0h1m4 0h0m38 0h0m-73 1h0m21 0h0m16 0h0m7 0h0m-36 1h0m18 0h0m5 0h0m20 0h0m28 0h0m-33 1h0m-28 1h0m8 0h0m4 0h0m19 0h0m-23 1h0m2 0h0m14 0h0m-48 1h0m30 0h0m15 0h0m-35 1h1m7 0h0m6 0h0m10 0h0m6 0h0m11 0h0m-1 1h0m-15 1h0m5 1h0m5 0h0m16 0h0m-33 1h0m3 0h0m-37 1h0m17 0h0m4 0h0m16 0h0m-30 1h0m5 0h0m24 0h0m19 0h0m-38 1h0m4 0h0m13 0h0m3 0h0m3 0h0m3 0h0m8 0h0m-27 1h0m39 0h0m-12 1h0m48 0h0m8 0h0m-120 1h0m40 0h0m4 0h0m8 0h0m6 0h0m15 0h0m-46 1h0m16 0h0m15 0h0m9 0h0m3 0h0m-2 1h0m15 0h0m-72 1h0m53 0h0m34 0h0m-59 1h0m3 0h0m14 0h0m22 0h0m-56 1h0m16 0h0m10 0h0m18 0h0m4 0h0m29 0h0m2 0h0m-70 1h0m14 0h0m69 0h0m-93 1h0m5 0h0m40 0h1m-35 1h0m8 0h0m4 0h0m2 0h0m6 0h0m2 0h0m11 1h0m-36 1h0m23 0h1m3 0h0m6 0h1m31 0h0m-61 1h0m6 0h0m9 0h0m9 0h0m12 0h0m20 0h0m-66 1h0m6 0h0m15 0h0m18 0h0m2 0h0m61 0h0m2 0h0m-86 1h0m9 0h0m2 0h0m14 0h0m46 0h0m-75 1h0m31 0h0m31 0h0m-37 1h0m34 0h0m-60 1h0m15 0h0m22 0h0m29 0h0m-64 1h0m2 0h0m43 0h0m-64 1h0m36 0h0m28 0h0m-95 1h0m66 0h0m-27 1h0m19 0h0m38 0h0m-66 1h0m39 0h0m13 0h0m2 0h0m-38 1h0m20 0h0m25 0h0m-43 1h0m7 0h0m18 0h0m14 0h0m16 0h0m2 0h0m-26 1h0m13 0h0m17 0h0m-61 1h0m19 0h0m41 0h0m-37 1h0m6 0h0m-27 1h0m36 0h0m-7 1h0m8 0h0m-38 1h0m3 0h1m86 0h0m-79 1h0m14 0h0m-8 1h0m4 0h0m12 0h0m-36 1h0m34 1h0m23 0h0m-52 1h0m29 0h0m-30 1h0m2 0h0m11 0h0m38 0h0m62 0h0m-116 1h0m18 0h0m3 1h0m-29 2h0m12 1h0m20 0h0m10 0h0m14 1h0m-30 1h0m60 1h0m-27 1h0m-56 1h0m82 1h0m-78 1h0m-4 5h0m-2 2h0m4 0h0m20 0h0m8 5h0m67 9h0m-101 9h0m11 27h0m48 0h0m8 0h0m6 0h0m-82 1h0m6 0h0m3 0h0m2 0h0m4 0h0m10 0h0m17 0h0m2 0h1m7 0h1m15 0h0m2 0h0m3 0h0m5 0h0m45 0h0" stroke="#bdbdbd"/>
<path d="M202 24h0m-139 8h0m-8 2h0m10 1h0m23 0h0m17 0h0m68 0h0m-151 1h0m57 0h0m9 0h0m89 0h0m-85 1h0m18 0h0m-61 1h0m28 0h1m5 0h0m-21 1h0m24 0h0m-40 1h0m30 0h0m-20 1h0m6 0h0m6 0h0m9 0h0m7 0h1m-36 1h0m2 0h0m7 0h0m2 0h0m4 0h0m3 0h0m6 0h0m9 0h0m18 0h0m-82 1h0m27 0h0m9 0h2m6 0h0m10 0h1m13 0h0m2 0h0m5 0h0m12 0h0m-85 1h0m35 0h0m10 0h0m10 0h0m13 0h0m6 0h0m-73 1h0m38 0h1m5 0h0m4 0h1m2 0h0m2 0h1m2 0h0m9 0h0m20 0h0m-55 1h0m5 0h0m2 0h1m5 0h2m4 0h0m7 0h0m3 0h0m26 0h0m88 0h0m-169 1h0m14 0h0m16 0h0m2 0h0m3 0h0m10 0h0m18 0h0m8 0h0m4 0h0m5 0h0m4 0h0m-86 1h0m2 0h0m26 0h0m5 0h0m4 0h0m2 0h1m17 0h0m3 0h0m-58 1h0m5 0h0m19 0h0m6 0h0m8 0h0m9 0h0m6 0h0m11 0h0m2 0h0m7 0h0m3 0h0m10 0h0m47 0h0m-130 1h0m13 0h0m4 0h0m3 0h0m3 0h0m25 0h0m28 0h0m65 0h0m-160 1h0m18 0h0m6 0h0m16 0h0m26 0h0m19 0h0m3 0h0m3 0h0m4 0h0m2 0h0m15 0h0m-116 1h0m18 0h0m8 0h0m3 0h0m7 0h0m3 0h0m15 0h0m27 0h0m20 0h0m65 0h0m-153 1h0m2 0h0m10 0h0m12 0h1m15 0h0m38 0h0m10 0h0m82 0h0m-179 1h0m4 0h0m26 0h0m9 0h1m13 0h0m31 0h0m3 0h0m7 0h0m9 0h0m12 0h0m12 0h0m-120 1h0m13 0h0m10 0h0m6 0h0m5 0h0m7 0h0m4 0h0m36 0h0m4 0h0m39 0h0m-116 1h0m12 0h0m9 0h0m2 0h0m49 0h0m3 0h0m8 0h1m2 0h0m-100 1h0m11 0h0m14 0h0m10 0h0m50 0h0m5 0h0m4 0h0m9 0h0m3 0h0m10 0h0m-120 1h0m20 0h0m15 0h0m4 0h1m2 0h0m3 0h0m8 0h0m35 0h0m7 0h0m7 0h0m42 0h0m-130 1h0m15 0h0m3 0h0m13 0h0m2 0h0m4 0h0m49 0h0m2 0h0m27 0h0m9 0h0m84 0h0m-224 1h0m2 0h0m3 0h0m9 0h0m19 0h0m6 0h0m6 0h0m55 0h0m14 0h1m16 0h0m17 0h0m34 0h0m-184 1h0m17 0h0m10 0h0m7 0h0m7 0h0m10 0h0m4 0h0m3 0h0m35 0h0m7 0h0m2 0h1m24 0h0m31 0h0m-155 1h0m16 0h0m9 0h0m12 0h0m5 0h0m2 0h0m4 0h1m42 0h0m5 0h0m2 0h0m4 0h0m35 0h0m13 0h0m19 0h0m11 0h0m5 0h0m-189 1h0m9 0h0m6 0h0m3 0h1m3 0h0m3 0h0m7 0h1m3 0h1m9 0h0m3 0h0m2 0h0m12 0h0m35 0h0m2 0h0m10 0h0m12 0h0m-113 1h0m6 0h0m32 0h0m4 0h0m3 0h0m2 0h0m38 0h1m3 0h2m4 0h0m17 0h0m8 0h0m10 0h0m-136 1h0m10 0h0m28 0h0m11 0h0m39 0h0m4 0h0m45 0h0m-131 1h0m4 0h0m26 0h0m6 0h0m5 0h1m2 0h0m4 0h0m6 0h0m32 0h0m7 0h0m44 0h0m23 0h0m24 0h0m-190 1h0m10 0h0m7 0h0m2 0h0m41 0h0m32 0h1m4 0h0m3 0h0m3 0h0m11 0h0m43 0h0m-138 1h3m7 0h2m3 0h0m3 0h1m5 0h0m2 0h1m7 0h0m4 0h0m29 0h0m8 0h0m8 0h0m8 0h0m10 0h0m5 0h0m11 0h0m13 0h0m-146 1h0m4 0h0m15 0h1m3 0h0m3 0h0m15 0h0m5 0h0m34 0h1m14 0h0m43 0h0m38 0h0m2 0h0m-173 1h0m8 0h0m10 0h0m15 0h1m3 0h0m5 0h1m43 0h0m120 0h0m-210 1h0m3 0h0m2 0h0m2 0h1m13 0h0m3 0h1m4 0h1m3 0h0m3 0h0m5 0h0m49 0h0m4 0h0m5 0h0m33 0h0m-127 1h0m5 0h0m15 0h0m6 0h0m8 0h0m5 0h0m4 0h0m3 0h0m16 0h0m9 0h0m47 0h0m47 0h0m-171 1h0m3 0h0m9 0h0m2 0h0m6 0h0m13 0h0m4 0h0m36 0h0m12 0h0m7 0h0m5 0h0m60 0h1m8 0h0m-162 1h0m12 0h0m5 0h0m9 0h1m4 0h1m11 0h1m2 0h0m2 0h1m21 0h0m3 0h0m8 0h0m4 0h2m18 0h0m49 0h0m-161 1h0m11 0h0m18 0h0m8 0h0m5 0h0m2 0h0m5 0h1m3 0h0m5 0h0m7 0h0m16 0h0m8 0h0m3 0h0m7 0h0m4 0h1m3 0h0m20 0h0m30 0h0m19 0h0m-155 1h1m2 0h0m28 0h0m4 0h1m7 0h0m4 0h0m6 0h0m12 0h0m2 0h0m6 0h2m7 0h0m12 0h0m-102 1h0m22 0h0m2 0h1m20 0h0m10 0h0m9 0h0m14 0h1m2 0h0m3 0h0m2 0h1m2 0h0m-90 1h0m12 0h0m5 0h0m11 0h0m3 0h0m4 0h0m9 0h0m14 0h0m11 0h0m2 0h1m5 0h0m15 0h0m14 0h0m23 0h0m19 0h0m32 0h0m-188 1h0m4 0h0m17 0h0m7 0h0m18 0h0m6 0h0m2 0h0m2 0h0m2 0h0m2 0h0m6 0h0m7 0h0m10 0h0m3 0h0m3 0h0m12 0h0m16 0h0m24 0h0m8 0h0m-155 1h0m22 0h0m5 0h0m5 0h0m3 0h1m4 0h0m5 0h0m6 0h0m6 0h0m5 0h0m16 0h0m2 0h0m6 0h0m2 0h1m4 0h0m16 0h0m4 0h0m5 0h0m-107 1h0m9 0h0m2 0h0m3 0h0m15 0h0m3 0h0m13 0h0m2 0h0m20 0h0m14 0h0m26 0h0m13 0h0m14 0h0m4 0h0m8 0h0m-137 1h0m24 0h0m22 0h0m3 0h0m12 0h0m38 0h0m-118 1h0m11 0h0m4 0h0m43 0h0m8 0h0m2 0h0m2 0h0m5 0h0m6 0h0m3 0h0m6 0h0m-53 1h1m3 0h0m11 0h0m8 0h0m10 0h0m14 0h0m15 0h0m-89 1h0m10 0h0m3 0h0m9 0h1m4 0h0m2 0h0m19 0h1m14 0h0m5 0h0m-77 1h0m8 0h0m7 0h1m25 0h0m14 0h0m10 0h0m8 0h0m8 0h0m7 0h0m15 0h0m-67 1h0m21 0h0m2 0h0m15 0h0m3 0h0m6 0h0m11 0h0m3 0h0m-85 1h0m12 0h0m22 0h0m5 0h0m7 0h0m4 0h0m11 0h0m3 0h0m24 0h0m-74 1h0m20 0h0m15 0h0m9 0h0m4 0h0m10 0h0m2 0h0m29 0h0m-98 1h0m7 0h0m23 0h0m6 0h0m34 0h0m4 0h0m7 0h0m-64 1h0m13 0h1m27 0h0m2 0h0m5 0h0m9 0h0m-71 1h0m4 0h0m35 0h0m5 0h1m3 0h0m18 0h0m2 0h0m63 0h0m-149 1h0m22 0h0m25 0h0m7 0h0m2 0h0m5 0h0m6 0h0m40 0h0m-56 1h1m9 0h0m20 0h0m5 0h0m7 0h0m-74 1h0m7 0h0m18 0h0m33 0h0m14 0h0m7 0h0m-98 1h0m21 0h0m16 1h0m14 0h0m13 0h1m16 0h1m38 0h0m-120 1h0m31 0h0m27 0h0m5 0h0m21 0h0m7 0h0m10 0h0m-30 1h0m11 0h0m10 0h0m-56 1h0m8 0h0m21 0h0m12 0h0m7 0h0m-38 1h0m31 0h0m-69 1h0m44 0h0m12 0h0m3 0h0m18 0h0m27 0h1m53 0h0m-119 1h0m12 0h0m8 0h0m5 0h0m16 0h0m-9 1h1m3 0h0m3 0h0m3 0h0m8 0h0m-39 1h0m9 0h0m7 0h0m2 0h0m4 0h0m3 0h0m9 0h0m6 0h0m2 0h0m-62 1h0m5 0h0m11 0h0m20 0h1m3 0h0m2 0h0m3 0h0m3 0h0m8 0h0m2 0h0m3 0h0m11 0h0m-39 1h0m11 0h0m6 0h0m5 0h0m-39 1h0m10 0h0m36 0h1m28 0h0m-75 1h0m22 0h0m23 0h0m6 0h0m37 0h0m-108 1h0m25 0h0m5 0h0m3 0h0m17 0h1m4 0h0m4 0h0m6 0h0m-23 1h0m7 0h1m-14 1h0m11 0h0m18 0h0m-32 1h0m3 0h0m4 0h0m18 0h0m-32 1h0m6 0h0m4 0h0m8 0h0m13 0h0m2 0h0m-48 1h0m28 0h0m-33 1h0m18 0h0m6 0h0m6 0h0m22 0h0m-43 1h0m19 0h0m12 0h0m14 0h0m17 0h0m7 0h0m-54 1h0m3 0h0m2 0h1m2 0h0m14 0h0m4 0h0m67 0h0m-110 1h0m16 0h0m7 0h0m8 0h0m13 0h0m47 0h0m-78 1h0m2 0h0m4 0h0m3 0h0m5 0h0m2 0h0m9 0h0m2 0h0m22 0h0m-45 1h0m4 0h0m2 0h0m14 0h0m9 0h0m16 0h0m-41 1h0m11 0h0m8 0h0m5 0h0m6 0h0m16 0h0m-56 1h0m5 0h0m14 0h0m53 0h0m-63 1h0m7 0h0m3 0h0m4 0h0m2 0h1m22 0h0m-67 1h0m11 0h0m5 0h0m26 0h0m6 0h0m8 0h0m9 0h0m4 0h0m-34 1h0m5 0h0m12 0h0m-58 1h0m18 0h0m8 0h0m26 0h0m7 0h0m17 0h0m46 0h0m-86 1h0m5 0h0m4 0h0m9 0h0m8 0h0m33 0h0m-72 1h0m10 0h0m-1 1h0m6 0h0m25 0h0m-39 1h0m23 0h0m21 0h0m72 0h0m-131 1h0m8 0h0m16 0h0m21 0h0m18 0h1m16 0h0m-34 1h0m13 0h0m9 0h0m-65 1h0m34 0h0m25 0h0m31 0h0m-83 1h0m24 0h0m22 0h0m9 0h0m-62 1h0m16 0h0m22 0h0m4 0h0m55 0h0m-56 1h0m42 0h0m-72 2h0m29 0h0m17 0h0m21 0h0m8 0h0m-37 1h0m24 0h0m-39 1h0m2 0h0m16 0h0m28 0h0m54 0h0m-90 1h0m-18 1h0m5 0h0m14 0h0m16 0h0m11 0h0m-48 1h0m7 0h0m3 0h0m15 0h0m-8 1h0m31 0h0m30 0h0m-86 1h0m2 0h0m37 0h0m25 0h0m4 0h0m-46 1h0m17 0h0m87 0h0m-137 1h0m12 0h0m21 0h0m7 0h0m9 0h0m6 0h0m9 0h0m-44 1h0m9 0h0m18 0h0m-17 1h0m-27 1h0m40 0h0m-26 1h0m15 0h0m32 0h0m-27 1h0m14 0h0m3 0h0m42 0h0m14 0h0m-56 1h0m15 0h0m7 0h0m21 0h0m24 0h0m-109 1h0m5 0h0m8 0h0m6 1h0m-14 1h0m10 1h0m10 0h0m-28 1h0m50 0h0m-64 1h0m43 0h0m4 0h0m2 0h0m-36 1h0m30 0h1m8 0h0m-39 1h0m14 1h0m23 1h0m76 1h0m-99 1h0m33 0h0m-27 1h0m13 0h0m35 1h0m-38 1h0m23 0h0m-10 2h0m43 0h0m-57 1h1m-3 1h0m7 0h0m16 0h0m-35 1h0m25 0h0m4 0h0m-38 1h0m45 0h0m-21 1h0m48 0h0m-74 2h0m111 0h0m-30 3h0m-40 5h0m12 0h0m-23 2h0m43 0h0m-59 2h0m20 3h0m-16 1h0m18 0h0m-30 2h0m-46 32h0m29 7h0m52 0h0m2 0h0m3 0h0m18 0h0m79 0h0m-155 1h0m17 0h0m4 0h0m35 0h0m6 0h0m21 0h0" stroke="#707070"/>
<path d="M55 27h0m104 3h0m-74 2h0m40 1h0m-53 1h0m4 3h0m10 0h0m-16 1h0m19 0h0m2 1h0m8 0h0m-44 1h0m13 0h0m12 0h2m-11 1h0m3 0h0m16 0h0m2 0h0m-80 1h0m34 0h0m17 0h0m12 0h0m3 0h1m5 0h0m3 0h0m88 0h0m-135 1h0m13 0h0m18 0h0m3 0h0m2 0h3m2 0h0m6 0h0m3 0h0m6 0h0m-27 1h0m3 0h1m3 0h0m3 0h0m3 0h1m10 0h0m3 0h0m6 0h0m8 0h0m-58 1h0m4 0h0m10 0h0m12 0h0m4 0h0m11 0h0m-72 1h0m39 0h3m5 0h0m3 0h0m2 0h2m4 0h0m2 0h4m2 0h0m3 0h0m4 0h0m2 0h0m-94 1h0m31 0h0m20 0h0m6 0h0m5 0h0m3 0h2m2 0h3m3 0h0m2 0h1m2 0h1m2 0h0m6 0h0m-60 1h0m15 0h0m9 0h0m2 0h2m9 0h2m4 0h0m2 0h3m5 0h0m2 0h0m2 0h0m2 0h0m2 0h1m2 0h0m12 0h0m-62 1h0m13 0h1m6 0h1m2 0h0m2 0h1m2 0h0m2 0h2m2 0h2m2 0h0m2 0h2m5 0h0m5 0h0m5 0h0m90 0h0m-153 1h0m22 0h9m2 0h0m2 0h1m2 0h0m2 0h3m2 0h1m3 0h3m2 0h0m2 0h3m-68 1h0m11 0h0m3 0h0m7 0h0m5 0h1m7 0h6m2 0h0m2 0h0m2 0h2m2 0h1m2 0h1m3 0h1m2 0h3m5 0h0m-74 1h0m36 0h0m2 0h7m2 0h2m2 0h10m2 0h5m2 0h1m2 0h0m3 0h0m3 0h0m-82 1h0m15 0h0m5 0h0m6 0h0m3 0h0m9 0h0m3 0h0m2 0h27m4 0h0m2 0h0m3 0h0m4 0h0m12 0h0m-111 1h0m23 0h0m18 0h0m4 0h0m4 0h1m6 0h0m4 0h2m2 0h23m2 0h1m57 0h0m-120 1h0m9 0h0m8 0h0m5 0h2m3 0h1m3 0h2m3 0h2m2 0h12m2 0h0m2 0h6m6 0h0m2 0h0m6 0h0m-106 1h0m24 0h0m7 0h0m6 0h0m7 0h0m6 0h1m3 0h2m2 0h33m2 0h0m3 0h0m2 0h1m2 0h0m95 0h0m-181 1h0m3 0h0m6 0h1m7 0h0m16 0h0m4 0h0m3 0h0m2 0h2m2 0h8m2 0h21m2 0h0m3 0h0m4 0h0m2 0h0m7 0h0m-109 1h0m10 0h0m7 0h0m4 0h0m25 0h1m2 0h0m3 0h2m3 0h31m2 0h0m2 0h2m2 0h1m2 0h1m63 0h0m-161 1h0m18 0h0m17 0h0m2 0h0m2 0h0m3 0h0m2 0h1m4 0h2m3 0h41m3 0h0m7 0h0m63 0h0m-157 1h0m7 0h0m2 0h0m6 0h0m4 0h0m6 0h0m4 0h0m2 0h0m3 0h1m2 0h0m2 0h2m3 0h8m2 0h23m2 0h0m2 0h0m2 0h2m6 0h0m60 0h0m-159 1h0m16 0h1m7 0h0m3 0h0m3 0h0m7 0h1m3 0h0m2 0h1m2 0h2m2 0h1m2 0h33m3 0h0m2 0h2m2 0h0m5 0h0m71 0h0m-177 1h0m6 0h0m2 0h0m12 0h0m3 0h0m2 0h0m8 0h0m4 0h0m9 0h0m2 0h0m2 0h0m3 0h1m2 0h36m3 0h3m4 0h0m-96 1h0m3 0h0m2 0h1m7 0h0m18 0h2m7 0h0m6 0h1m2 0h2m2 0h2m2 0h31m6 0h1m4 0h1m-87 1h0m8 0h1m8 0h1m5 0h0m2 0h1m3 0h1m2 0h1m2 0h0m2 0h3m2 0h26m2 0h3m3 0h1m16 0h0m12 0h0m28 0h0m-120 1h0m6 0h0m4 0h0m2 0h3m2 0h1m2 0h0m2 0h0m2 0h4m3 0h26m2 0h2m3 0h2m17 0h0m-94 1h0m13 0h0m6 0h2m9 0h0m6 0h0m2 0h2m2 0h3m2 0h6m2 0h15m4 0h2m3 0h0m3 0h0m-98 1h0m4 0h0m14 0h1m2 0h0m6 0h0m2 0h0m6 0h0m3 0h0m4 0h1m2 0h0m2 0h8m6 0h20m2 0h4m4 0h0m2 0h0m10 0h0m3 0h0m12 0h0m-105 1h1m16 0h0m9 0h0m5 0h0m5 0h0m2 0h0m2 0h0m2 0h0m2 0h25m3 0h5m2 0h1m3 0h0m41 0h0m-136 1h0m2 0h0m8 0h0m5 0h2m3 0h1m6 0h0m2 0h1m4 0h0m2 0h0m5 0h0m3 0h0m2 0h0m2 0h2m2 0h0m2 0h0m2 0h0m2 0h20m3 0h10m66 0h0m6 0h0m-156 1h0m2 0h1m10 0h1m3 0h1m2 0h0m8 0h1m7 0h0m2 0h0m3 0h0m2 0h0m2 0h0m2 0h7m2 0h20m3 0h1m5 0h0m-94 1h0m11 0h0m2 0h0m2 0h0m15 0h0m3 0h0m4 0h0m7 0h0m4 0h40m3 0h0m28 0h0m12 0h0m-129 1h0m4 0h0m2 0h0m2 0h1m2 0h0m2 0h0m13 0h0m6 0h0m3 0h0m2 0h0m5 0h1m2 0h0m4 0h1m2 0h1m2 0h4m2 0h4m3 0h7m2 0h10m2 0h1m4 0h0m28 0h0m21 0h0m16 0h0m-161 1h0m9 0h1m10 0h0m3 0h0m7 0h0m7 0h0m5 0h0m3 0h0m3 0h1m2 0h2m5 0h15m2 0h3m2 0h0m2 0h1m2 0h0m2 0h2m6 0h0m42 0h0m-135 1h1m4 0h0m6 0h0m5 0h0m6 0h0m3 0h0m3 0h0m11 0h1m5 0h0m3 0h0m5 0h0m2 0h3m2 0h0m2 0h3m2 0h0m2 0h2m3 0h0m3 0h2m2 0h2m2 0h1m6 0h0m2 0h0m-97 1h0m15 0h1m4 0h0m11 0h0m7 0h0m2 0h0m2 0h0m2 0h0m2 0h0m7 0h1m2 0h0m2 0h2m2 0h1m2 0h8m2 0h3m3 0h0m2 0h2m2 0h0m2 0h0m4 0h0m11 0h0m-95 1h0m2 0h0m3 0h1m10 0h1m14 0h0m2 0h0m2 0h1m2 0h0m2 0h0m4 0h1m4 0h0m2 0h1m3 0h2m2 0h1m2 0h0m3 0h3m2 0h4m3 0h0m3 0h1m6 0h0m70 0h0m-140 1h1m6 0h0m2 0h0m13 0h0m2 0h0m3 0h0m7 0h1m2 0h0m3 0h0m4 0h0m3 0h1m3 0h1m2 0h5m3 0h0m-64 1h0m3 0h0m4 0h0m10 0h0m8 0h0m2 0h0m2 0h1m4 0h0m2 0h1m2 0h0m2 0h3m2 0h0m2 0h1m2 0h1m3 0h0m2 0h0m4 0h1m4 0h0m3 0h0m3 0h1m8 0h0m16 0h0m-108 1h0m14 0h0m6 0h1m8 0h0m3 0h0m9 0h0m4 0h0m2 0h0m4 0h0m3 0h0m4 0h4m3 0h4m2 0h0m6 0h0m4 0h1m-81 1h0m3 0h0m17 0h0m12 0h0m4 0h0m7 0h1m5 0h0m7 0h4m55 0h0m-120 1h0m9 0h0m12 0h0m6 0h0m5 0h0m5 0h1m2 0h0m3 0h0m2 0h0m3 0h0m3 0h2m3 0h0m4 0h5m2 0h0m5 0h0m4 0h0m2 0h1m-66 1h0m9 0h0m15 0h0m12 0h0m4 0h0m14 0h0m10 0h1m17 0h0m31 0h0m-131 1h0m3 0h0m17 0h1m4 0h0m21 0h0m12 0h0m10 0h0m3 0h1m5 0h0m12 0h0m10 0h0m10 0h0m-111 1h0m14 0h0m6 0h1m8 0h0m13 0h0m4 0h0m6 0h0m7 0h1m9 0h0m5 0h0m8 0h0m-59 1h1m22 0h0m5 0h0m2 0h0m3 0h0m4 0h1m3 0h4m4 0h0m10 0h0m-58 1h0m4 0h0m2 0h0m7 0h0m7 0h0m3 0h0m11 0h0m19 0h0m2 0h0m29 0h0m9 0h0m-103 1h0m4 0h0m14 0h0m17 0h0m9 0h0m5 0h0m2 0h0m4 0h0m27 0h0m52 0h0m-143 1h0m5 0h0m30 0h1m10 0h0m3 0h0m10 0h0m3 0h0m4 0h1m5 0h0m21 0h0m-92 1h0m27 0h1m32 0h0m4 0h0m5 0h0m2 0h0m55 0h0m-83 1h0m-43 1h0m7 0h0m29 0h0m95 0h0m-106 1h0m14 0h0m12 0h0m15 0h0m30 0h0m-57 1h0m34 0h0m14 0h0m-40 1h0m31 0h0m-32 1h0m9 0h0m4 0h0m5 0h0m5 0h0m-71 1h0m20 0h0m4 0h0m21 0h0m23 0h1m7 0h0m5 0h0m41 0h0m-54 1h0m4 0h0m11 0h0m9 0h0m-67 1h0m23 0h0m41 0h1m-35 1h0m5 0h0m11 0h0m-52 1h0m39 0h0m3 0h0m4 0h1m27 0h0m-34 1h0m9 0h0m-16 1h0m18 0h0m12 0h0m10 0h0m-93 1h0m69 0h0m9 0h0m4 0h0m12 0h0m-51 1h0m34 0h0m-21 1h0m8 0h0m2 0h0m9 0h0m-20 1h0m12 0h0m19 0h1m49 0h0m-99 1h0m31 0h0m15 0h0m-70 1h1m47 0h0m2 0h0m2 0h1m-14 1h0m38 0h0m8 0h0m-31 1h0m10 0h0m-15 1h0m6 0h0m29 0h0m-48 1h0m13 0h1m11 0h0m8 0h0m4 0h0m3 0h0m-36 1h0m3 0h0m9 0h0m3 0h0m10 0h0m4 0h0m3 0h0m-24 1h0m6 0h0m5 0h0m-32 1h0m54 0h0m3 0h0m-42 1h0m-14 1h0m30 0h0m7 0h0m2 0h0m2 0h0m-31 1h0m3 0h0m3 0h0m13 0h0m6 0h0m3 0h0m12 1h0m-11 1h0m7 0h0m-30 1h0m-6 1h0m6 0h0m24 0h1m4 0h0m7 0h0m29 0h0m-67 1h1m12 0h0m10 0h0m10 0h0m-38 1h0m32 0h0m-35 1h0m20 0h0m4 0h0m17 0h0m-42 1h0m2 0h1m44 0h0m14 0h0m-47 1h0m11 0h0m7 1h0m6 0h0m-5 1h0m40 0h0m-36 1h0m-29 2h0m9 0h0m23 0h0m3 1h0m-16 1h0m34 0h0m-20 1h1m36 0h0m-75 2h0m45 0h0m-29 1h0m56 0h0m-66 2h0m7 1h0m29 0h0m-46 4h0m47 0h0m-19 1h0m1 1h0m16 0h0m-35 1h0m-2 2h0m19 0h0m39 0h0m3 0h0m-55 1h0m11 0h0m7 0h0m-51 1h0m62 0h0m-32 2h0m24 0h0m2 1h0m-44 1h0m3 0h0m38 0h0m-8 2h0m9 3h0m90 0h0m-51 1h0m-9 1h0m-35 2h0m9 0h0m72 1h0m-88 1h0m31 0h0m-31 1h0m7 0h0m65 0h0m-75 1h0m29 1h0m-19 2h0m31 1h0m-33 1h0m8 0h0m48 0h0m-78 5h0m20 2h0m78 4h0m-21 3h0m-10 2h0m9 8h0m-45 13h0m27 24h0m17 0h0m-97 1h0m19 0h0m9 0h0m26 0h0m11 0h0m5 0h0m6 0h0m2 0h0m11 0h0m19 0h0" stroke="#000"/>
</g>
<rect x="420.6" y="382.6" width="239.2" height="238.1" fill="none" stroke="#444" stroke-width="1.3"/>
<path d="M527.5 382.6V620.7M420.6 512.6H659.8" stroke="#000" stroke-width="1.9" fill="none"/>
<path d="M413.6 620.7H420.6M413.6 576.6H420.6M413.6 532.5H420.6M413.6 488.4H420.6M413.6 444.3H420.6M413.6 400.2H420.6M420.6 620.7V627.2M464.7 620.7V627.2M508.8 620.7V627.2M552.9 620.7V627.2M597.0 620.7V627.2M641.1 620.7V627.2" stroke="#111" stroke-width="2" fill="none"/>
<path d="M417.1 607.4H420.6M417.1 599.7H420.6M417.1 594.1H420.6M417.1 589.9H420.6M417.1 586.4H420.6M417.1 583.4H420.6M417.1 580.9H420.6M417.1 578.6H420.6M417.1 563.3H420.6M417.1 555.6H420.6M417.1 550.0H420.6M417.1 545.8H420.6M417.1 542.3H420.6M417.1 539.3H420.6M417.1 536.8H420.6M417.1 534.5H420.6M417.1 519.2H420.6M417.1 511.5H420.6M417.1 505.9H420.6M417.1 501.7H420.6M417.1 498.2H420.6M417.1 495.2H420.6M417.1 492.7H420.6M417.1 490.4H420.6M417.1 475.1H420.6M417.1 467.4H420.6M417.1 461.8H420.6M417.1 457.6H420.6M417.1 454.1H420.6M417.1 451.1H420.6M417.1 448.6H420.6M417.1 446.3H420.6M417.1 431.0H420.6M417.1 423.3H420.6M417.1 417.7H420.6M417.1 413.5H420.6M417.1 410.0H420.6M417.1 407.0H420.6M417.1 404.5H420.6M417.1 402.2H420.6M417.1 386.9H420.6M433.9 620.7V624.2M441.6 620.7V624.2M447.2 620.7V624.2M451.4 620.7V624.2M454.9 620.7V624.2M457.9 620.7V624.2M460.4 620.7V624.2M462.7 620.7V624.2M478.0 620.7V624.2M485.7 620.7V624.2M491.3 620.7V624.2M495.5 620.7V624.2M499.0 620.7V624.2M502.0 620.7V624.2M504.5 620.7V624.2M506.8 620.7V624.2M522.1 620.7V624.2M529.8 620.7V624.2M535.4 620.7V624.2M539.6 620.7V624.2M543.1 620.7V624.2M546.1 620.7V624.2M548.6 620.7V624.2M550.9 620.7V624.2M566.2 620.7V624.2M573.9 620.7V624.2M579.5 620.7V624.2M583.7 620.7V624.2M587.2 620.7V624.2M590.2 620.7V624.2M592.7 620.7V624.2M595.0 620.7V624.2M610.3 620.7V624.2M618.0 620.7V624.2M623.6 620.7V624.2M627.8 620.7V624.2M631.3 620.7V624.2M634.3 620.7V624.2M636.8 620.7V624.2M639.1 620.7V624.2M654.4 620.7V624.2" stroke="#333" stroke-width="1.1" fill="none"/>
<text x="424.8" y="407.4" font-family="'Liberation Serif', serif" font-size="16.5" font-weight="bold" text-anchor="start" >91,3</text>
<text x="638.1" y="407.4" font-family="'Liberation Serif', serif" font-size="16.5" font-weight="bold" text-anchor="end" >2,22</text>
<text x="424.8" y="605.4" font-family="'Liberation Serif', serif" font-size="16.5" font-weight="bold" text-anchor="start" >5,01</text>
<text x="638.1" y="605.4" font-family="'Liberation Serif', serif" font-size="16.5" font-weight="bold" text-anchor="end" >1,43</text>
<rect x="107.0" y="653.3" width="241.6" height="7.1" fill="#000"/>
<rect x="418.8" y="653.3" width="241.6" height="7.1" fill="#000"/>
<text x="179.2" y="703.0" font-family="'Liberation Serif', serif" font-size="29.5" font-weight="normal" text-anchor="start"  textLength="96.1" lengthAdjust="spacingAndGlyphs">CXCR1</text>
<text x="503.1" y="703.0" font-family="'Liberation Serif', serif" font-size="29.5" font-weight="normal" text-anchor="start"  textLength="73.4" lengthAdjust="spacingAndGlyphs">CD57</text>
<path d="M1115.3 75.0L1115.3 191.9" stroke="#000" stroke-width="2.2" fill="none"/>
<path d="M1110.3 191.9L1120.2 191.9" stroke="#000" stroke-width="2.2" fill="none"/>
<path d="M1115.3 211.0L1115.3 327.0" stroke="#000" stroke-width="2.2" fill="none"/>
<path d="M1108.0 211.0L1120.2 211.0" stroke="#000" stroke-width="2.2" fill="none"/>
<path d="M1108.0 327.0L1493.9 327.0" stroke="#000" stroke-width="2.2" fill="none"/>
<path d="M1108.0 75.0L1115.3 75.0" stroke="#000" stroke-width="2.2" fill="none"/>
<text x="1104.5" y="81.7" font-family="'Liberation Serif', serif" font-size="19.5" font-weight="bold" text-anchor="end" >100</text>
<path d="M1108.0 101.0L1115.3 101.0" stroke="#000" stroke-width="2.2" fill="none"/>
<text x="1104.5" y="107.7" font-family="'Liberation Serif', serif" font-size="19.5" font-weight="bold" text-anchor="end" >80</text>
<path d="M1108.0 126.6L1115.3 126.6" stroke="#000" stroke-width="2.2" fill="none"/>
<text x="1104.5" y="133.3" font-family="'Liberation Serif', serif" font-size="19.5" font-weight="bold" text-anchor="end" >60</text>
<path d="M1108.0 152.7L1115.3 152.7" stroke="#000" stroke-width="2.2" fill="none"/>
<text x="1104.5" y="159.4" font-family="'Liberation Serif', serif" font-size="19.5" font-weight="bold" text-anchor="end" >40</text>
<path d="M1108.0 178.8L1115.3 178.8" stroke="#000" stroke-width="2.2" fill="none"/>
<text x="1104.5" y="185.5" font-family="'Liberation Serif', serif" font-size="19.5" font-weight="bold" text-anchor="end" >20</text>
<path d="M1108.0 211.0L1115.3 211.0" stroke="#000" stroke-width="2.2" fill="none"/>
<text x="1104.5" y="217.7" font-family="'Liberation Serif', serif" font-size="19.5" font-weight="bold" text-anchor="end" >10</text>
<path d="M1108.0 234.2L1115.3 234.2" stroke="#000" stroke-width="2.2" fill="none"/>
<text x="1104.5" y="240.9" font-family="'Liberation Serif', serif" font-size="19.5" font-weight="bold" text-anchor="end" >8</text>
<path d="M1108.0 257.3L1115.3 257.3" stroke="#000" stroke-width="2.2" fill="none"/>
<text x="1104.5" y="264.0" font-family="'Liberation Serif', serif" font-size="19.5" font-weight="bold" text-anchor="end" >6</text>
<path d="M1108.0 280.4L1115.3 280.4" stroke="#000" stroke-width="2.2" fill="none"/>
<text x="1104.5" y="287.1" font-family="'Liberation Serif', serif" font-size="19.5" font-weight="bold" text-anchor="end" >4</text>
<path d="M1108.0 303.8L1115.3 303.8" stroke="#000" stroke-width="2.2" fill="none"/>
<text x="1104.5" y="310.5" font-family="'Liberation Serif', serif" font-size="19.5" font-weight="bold" text-anchor="end" >2</text>
<path d="M1108.0 327.0L1115.3 327.0" stroke="#000" stroke-width="2.2" fill="none"/>
<text x="1104.5" y="333.7" font-family="'Liberation Serif', serif" font-size="19.5" font-weight="bold" text-anchor="end" >0</text>
<path d="M1146.4 327.0L1146.4 334.0" stroke="#000" stroke-width="2.2" fill="none"/>
<text transform="translate(1150.9,350.5) rotate(-45)" font-family="'Liberation Serif', serif" font-size="21" font-weight="bold" text-anchor="end" >DNAM1</text>
<path d="M1209.6 327.0L1209.6 334.0" stroke="#000" stroke-width="2.2" fill="none"/>
<text transform="translate(1214.1,350.5) rotate(-45)" font-family="'Liberation Serif', serif" font-size="21" font-weight="bold" text-anchor="end" >CD69</text>
<path d="M1272.8 327.0L1272.8 334.0" stroke="#000" stroke-width="2.2" fill="none"/>
<text transform="translate(1277.3,350.5) rotate(-45)" font-family="'Liberation Serif', serif" font-size="21" font-weight="bold" text-anchor="end" >2B4</text>
<path d="M1335.7 327.0L1335.7 334.0" stroke="#000" stroke-width="2.2" fill="none"/>
<text transform="translate(1340.2,350.5) rotate(-45)" font-family="'Liberation Serif', serif" font-size="21" font-weight="bold" text-anchor="end" >CD62L</text>
<path d="M1398.9 327.0L1398.9 334.0" stroke="#000" stroke-width="2.2" fill="none"/>
<text transform="translate(1403.4,350.5) rotate(-45)" font-family="'Liberation Serif', serif" font-size="21" font-weight="bold" text-anchor="end" >CXCR1</text>
<path d="M1462.1 327.0L1462.1 334.0" stroke="#000" stroke-width="2.2" fill="none"/>
<text transform="translate(1466.6,350.5) rotate(-45)" font-family="'Liberation Serif', serif" font-size="21" font-weight="bold" text-anchor="end" >CD57</text>
<text transform="translate(1060.5,300.0) rotate(-90)" font-family="'Liberation Serif', serif" font-size="22" font-weight="bold" textLength="201.6" lengthAdjust="spacingAndGlyphs">CD56<tspan dy="-8.8" font-size="15.4">+</tspan><tspan dy="8.8"> cells week 3 [%]</tspan></text>
<rect x="1127.3" y="156.2" width="15.4" height="35.7" fill="#EE3224" />
<path d="M1127.3 191.9V157.5H1142.7V191.9" fill="none" stroke="#000" stroke-width="2.6"/>
<rect x="1127.0" y="180.7" width="16.0" height="2.2" fill="#000" />
<rect x="1127.3" y="211.0" width="15.4" height="53.3" fill="#EE3224" />
<path d="M1127.3 211.0V263.0H1142.7V211.0" fill="none" stroke="#000" stroke-width="2.6"/>
<rect x="1149.5" y="163.0" width="18.2" height="28.9" fill="#000" rx="0.8"/>
<rect x="1149.5" y="211.0" width="18.2" height="105.2" fill="#000" rx="0.8"/>
<rect x="1191.0" y="108.0" width="14.7" height="31.3" fill="#EE3224" stroke="#000" stroke-width="2.6" rx="1"/>
<rect x="1190.7" y="130.9" width="15.3" height="2.2" fill="#000" />
<rect x="1213.0" y="100.3" width="17.6" height="54.6" fill="#000" rx="0.8"/>
<rect x="1253.9" y="260.0" width="14.7" height="46.8" fill="#EE3224" stroke="#000" stroke-width="2.6" rx="1"/>
<rect x="1253.6" y="270.7" width="15.3" height="2.2" fill="#000" />
<rect x="1276.0" y="255.7" width="17.5" height="44.3" fill="#000" rx="0.8"/>
<rect x="1316.6" y="104.3" width="15.1" height="38.8" fill="#EE3224" stroke="#000" stroke-width="2.6" rx="1"/>
<rect x="1316.3" y="128.8" width="15.7" height="2.2" fill="#000" />
<rect x="1339.2" y="91.1" width="18.1" height="85.3" fill="#000" rx="0.8"/>
<rect x="1379.9" y="178.1" width="15.7" height="13.8" fill="#EE3224" />
<path d="M1379.9 191.9V179.4H1395.6V191.9" fill="none" stroke="#000" stroke-width="2.6"/>
<rect x="1379.9" y="211.0" width="15.7" height="115.2" fill="#EE3224" />
<path d="M1379.9 211.0V324.9H1395.6V211.0" fill="none" stroke="#000" stroke-width="2.6"/>
<rect x="1379.6" y="309.7" width="16.3" height="2.2" fill="#000" />
<rect x="1402.4" y="269.2" width="17.6" height="49.2" fill="#000" rx="0.8"/>
<rect x="1443.3" y="318.9" width="14.6" height="6.8" fill="#EE3224" stroke="#000" stroke-width="2.6" rx="1"/>
<rect x="1465.6" y="319.7" width="17.8" height="7.3" fill="#000" rx="0.8"/>
<rect x="1518.5" y="84.5" width="29.4" height="17.0" fill="#EE3224" stroke="#000" stroke-width="2.6" rx="1"/>
<rect x="1517.2" y="112.7" width="32.0" height="20.3" fill="#000" />
<text x="1562.3" y="99.4" font-family="'Liberation Serif', serif" font-size="21" font-weight="normal" text-anchor="start"  textLength="162.5" lengthAdjust="spacingAndGlyphs">Untreated OP9-DL1</text>
<text x="1562.3" y="129.5" font-family="'Liberation Serif', serif" font-size="21" font-weight="normal" text-anchor="start"  textLength="192.4" lengthAdjust="spacingAndGlyphs">MMC treated OP9-DL1</text>
<text x="0.0" y="806.0" font-family="'Liberation Sans', sans-serif" font-size="29" font-weight="bold" text-anchor="start" >B</text>
<text x="70.0" y="806.6" font-family="'Liberation Serif', serif" font-size="35" font-weight="bold" text-anchor="start" fill="#231F20">Natural Cytotoxicity Receptors</text>
<rect x="69.5" y="830.6" width="6.1" height="572.1" fill="#000"/>
<text transform="translate(49.5,1331.0) rotate(-90)" font-family="'Liberation Serif', serif" font-size="31.5" font-weight="normal" text-anchor="middle" textLength="74" lengthAdjust="spacingAndGlyphs">CD56</text>
<g transform="translate(116.5,833.5)" fill="none" stroke-linecap="square" stroke-width="1.4">
<path d="M62 29h0m86 2h0m35 0h0m-28 1h0m5 0h0m-102 1h0m66 0h0m37 0h0m16 0h0m-66 1h0m32 0h0m17 0h1m-70 1h0m47 0h0m28 0h0m4 0h0m-90 1h0m5 0h0m51 0h0m5 0h0m15 0h0m2 0h0m4 0h0m5 0h0m15 0h0m-74 1h0m2 0h0m10 0h0m13 0h0m12 0h0m27 0h1m-81 1h0m42 0h0m2 0h0m2 0h0m4 0h0m42 0h0m-124 1h0m50 0h0m8 0h0m11 0h0m3 0h0m2 0h0m11 0h0m3 0h0m6 0h1m5 0h1m2 0h0m4 0h0m5 0h0m6 0h0m5 0h0m-180 1h0m68 0h0m12 0h0m51 0h0m10 0h0m7 0h0m2 0h0m10 0h0m21 0h0m13 0h0m-160 1h0m100 0h0m15 0h0m3 0h0m2 0h0m3 0h1m14 0h0m7 0h0m-166 1h0m43 0h0m32 0h0m33 0h0m11 0h0m9 0h2m3 0h0m7 0h0m5 0h0m8 0h0m6 0h0m2 0h1m-115 1h0m16 0h0m6 0h0m9 0h0m2 0h0m6 0h0m13 0h0m7 0h0m28 0h0m9 0h0m14 0h1m2 0h0m-111 1h0m17 0h0m8 0h0m11 0h0m4 0h1m14 0h0m16 0h0m26 0h0m3 0h1m21 0h0m-137 1h0m13 0h0m16 0h0m3 0h0m12 0h0m10 0h0m26 0h0m36 0h0m5 0h0m2 0h0m3 0h0m4 0h0m7 0h1m8 0h0m-86 1h0m4 0h0m23 0h0m27 0h0m4 0h0m2 0h0m2 0h0m3 0h0m11 0h1m-153 1h0m22 0h0m3 0h0m4 0h0m2 0h0m31 0h1m6 0h0m4 0h1m2 0h0m4 0h0m9 0h0m4 0h0m8 0h1m4 0h0m14 0h0m17 0h0m5 0h0m6 0h0m5 0h0m-162 1h0m20 0h0m31 0h0m2 0h0m20 0h0m3 0h0m9 0h0m2 0h0m4 0h0m2 0h0m10 0h0m8 0h0m3 0h0m44 0h1m4 0h0m11 0h0m-126 1h0m10 0h0m8 0h0m17 0h0m10 0h0m7 0h0m3 0h0m3 0h0m3 0h0m3 0h0m4 0h0m34 0h0m7 0h0m4 0h0m-162 1h0m37 0h0m11 0h0m6 0h1m23 0h1m3 0h1m3 0h0m20 0h0m50 0h0m5 0h0m4 0h0m4 0h0m-128 1h0m2 0h0m25 0h0m2 0h0m5 0h2m20 0h0m6 0h0m52 0h0m5 0h1m-136 1h0m33 0h0m27 0h0m6 0h0m6 0h0m5 0h0m15 0h0m43 0h0m12 0h0m-174 1h0m18 0h0m22 0h0m4 0h0m7 0h0m6 0h0m19 0h0m5 0h0m8 0h0m3 0h0m2 0h0m3 0h0m18 0h0m44 0h0m9 0h0m-152 1h0m11 0h0m3 0h0m2 0h0m10 0h0m7 0h0m2 0h0m12 0h0m2 0h0m7 0h0m3 0h1m6 0h1m3 0h1m2 0h0m21 0h0m6 0h0m13 0h0m32 0h1m2 0h0m6 0h0m-156 1h0m4 0h0m15 0h0m5 0h0m3 0h0m6 0h0m3 0h2m2 0h0m4 0h0m9 0h0m15 0h0m10 0h1m8 0h0m4 0h0m52 0h0m-114 1h0m3 0h0m17 0h1m15 0h1m5 0h0m5 0h2m5 0h0m6 0h0m12 0h1m4 0h0m38 0h0m16 0h0m-144 1h0m6 0h0m7 0h0m5 0h0m12 0h0m6 0h0m8 0h0m5 0h0m4 0h0m5 0h0m4 0h0m7 0h0m11 0h0m47 0h0m7 0h0m7 0h0m5 0h0m-161 1h0m19 0h0m15 0h0m5 0h0m6 0h0m8 0h0m5 0h0m7 0h0m22 0h0m9 0h0m9 0h0m39 0h0m6 0h0m7 0h0m-149 1h0m13 0h0m4 0h0m2 0h0m4 0h0m13 0h0m9 0h0m5 0h0m6 0h0m7 0h0m3 0h0m11 0h0m14 0h0m39 0h0m8 0h0m-142 1h0m35 0h1m4 0h0m4 0h0m10 0h0m2 0h0m3 0h0m13 0h1m6 0h2m4 0h1m2 0h1m2 0h0m2 0h0m6 0h0m31 0h0m14 0h0m4 0h0m3 0h0m4 0h0m6 0h0m-168 1h0m9 0h0m25 0h0m3 0h1m15 0h0m4 0h0m10 0h0m6 0h0m7 0h0m6 0h0m4 0h0m3 0h0m2 0h0m4 0h0m27 0h0m6 0h0m21 0h0m2 0h0m38 0h0m-203 1h0m44 0h0m9 0h0m2 0h0m3 0h0m9 0h0m13 0h0m13 0h1m3 0h0m12 0h0m8 0h0m27 0h1m17 0h0m7 0h0m-140 1h0m6 0h0m24 0h0m5 0h0m3 0h0m11 0h0m26 0h0m3 0h0m4 0h0m19 0h0m12 0h0m9 0h0m14 0h0m11 0h0m-175 1h0m30 0h0m11 0h0m13 0h0m16 0h0m2 0h0m6 0h0m4 0h0m13 0h0m6 0h0m6 0h0m11 0h0m25 0h0m17 0h0m3 0h0m-144 1h0m3 0h0m3 0h0m16 0h0m4 0h0m2 0h0m25 0h0m10 0h1m2 0h0m8 0h1m2 0h1m5 0h1m6 0h0m20 0h0m18 0h0m5 0h0m7 0h0m-135 1h1m24 0h0m4 0h0m11 0h0m4 0h0m2 0h0m3 0h0m11 0h0m8 0h0m2 0h0m4 0h0m9 0h0m9 0h0m3 0h0m21 0h0m6 0h0m2 0h0m4 0h0m3 0h0m-124 1h0m6 0h0m4 0h0m11 0h0m9 0h0m8 0h0m6 0h0m2 0h1m8 0h0m4 0h0m10 0h0m13 0h0m12 0h0m5 0h0m10 0h0m9 0h0m15 0h0m-148 1h0m10 0h0m9 0h0m16 0h0m9 0h0m18 0h1m3 0h0m4 0h0m3 0h0m2 0h0m5 0h0m14 0h1m2 0h0m19 0h0m3 0h0m14 0h0m-126 1h0m7 0h0m15 0h0m9 0h0m6 0h1m3 0h0m7 0h0m13 0h1m7 0h0m14 0h1m3 0h1m3 0h0m20 0h1m2 0h0m5 0h0m19 0h0m-149 1h0m9 0h0m32 0h0m5 0h0m8 0h0m13 0h0m14 0h0m5 0h0m2 0h0m7 0h0m11 0h0m7 0h0m3 0h0m4 0h1m6 0h0m17 0h0m-95 1h0m6 0h0m2 0h0m2 0h1m12 0h1m2 0h0m14 0h0m11 0h0m23 0h0m3 0h1m4 0h1m10 0h0m-120 1h0m5 0h0m35 0h0m13 0h0m8 0h0m17 0h0m15 0h0m2 0h0m6 0h3m5 0h0m4 0h0m2 0h0m2 0h0m-122 1h0m19 0h0m3 0h0m15 0h0m8 0h0m12 0h0m2 0h0m11 0h0m5 0h0m3 0h0m2 0h0m5 0h1m2 0h1m4 0h0m9 0h0m3 0h0m4 0h0m3 0h0m-117 1h0m7 0h0m4 0h0m26 0h0m7 0h0m16 0h0m23 0h0m5 0h0m5 0h0m-108 1h0m11 0h0m45 0h0m10 0h0m28 0h1m11 0h0m11 0h0m3 0h0m-37 1h0m2 0h0m7 0h0m4 0h0m9 0h0m3 0h0m3 0h0m4 0h0m2 0h1m2 0h0m5 0h1m3 0h1m5 0h0m14 0h0m-119 1h0m14 0h0m3 0h0m19 0h0m16 0h0m8 0h0m-59 1h0m51 0h0m8 0h0m12 0h0m-76 1h0m5 0h0m2 0h0m13 0h0m11 0h0m7 0h0m31 0h0m7 0h0m6 0h0m7 0h0m-31 1h0m-22 1h0m7 0h0m2 0h0m8 0h1m31 0h0m5 0h0m10 0h0m4 0h0m-32 1h0m10 0h0m-58 1h0m14 0h0m17 0h0m2 0h0m10 0h0m3 0h0m9 0h0m7 0h0m15 0h0m-110 1h0m17 0h0m58 0h0m19 0h0m3 0h0m6 0h0m5 0h0m-112 1h0m21 0h0m10 0h0m54 0h0m4 0h0m45 0h0m-62 1h1m8 0h0m6 0h0m-36 1h1m2 0h1m8 0h0m3 0h0m14 0h0m50 0h0m-95 1h0m25 0h0m24 0h0m5 0h0m9 0h0m-74 1h0m34 0h0m20 0h0m4 0h0m15 0h0m7 0h0m17 0h0m-56 1h0m20 0h0m27 0h0m-81 1h0m35 0h0m3 0h1m29 0h0m12 0h0m6 0h0m7 0h0m-95 1h0m36 0h1m4 0h0m13 0h0m20 0h0m7 0h0m14 0h0m24 0h0m-148 1h0m15 0h0m31 0h0m20 0h0m11 0h0m11 0h0m9 0h0m-38 1h0m12 0h0m-33 1h0m6 0h0m17 0h0m9 0h0m8 0h0m4 0h0m56 0h0m-95 1h0m14 0h0m45 0h0m13 0h0m-83 1h0m66 0h0m-51 1h0m17 0h0m33 0h1m28 0h0m-67 1h0m8 0h0m2 0h0m11 0h0m13 0h0m-66 1h0m37 0h0m13 0h0m37 0h0m-65 1h0m2 0h0m71 0h0m-86 1h0m8 0h0m40 0h0m54 0h0m-109 1h0m41 0h0m45 0h0m3 0h0m-75 1h0m25 1h0m20 0h0m6 0h0m23 0h0m-91 1h0m44 0h0m24 0h0m40 1h0m-108 1h0m22 0h0m-2 1h0m-13 1h0m7 0h0m52 0h0m-51 1h0m-19 1h0m5 1h0m14 0h0m3 0h0m8 2h0m59 0h0m-77 1h0m11 0h0m-25 1h0m29 0h0m20 0h0m5 0h0m-27 1h0m-30 3h0m11 0h0m8 0h0m22 0h0m2 2h0m8 5h0m-58 1h0m25 1h0m-20 3h0m34 0h0m25 4h0m-5 1h0m-44 7h0m50 0h0m-39 3h0m19 0h0m15 5h0m-10 3h0m10 1h0m-12 2h0m-11 2h0m24 0h0m-47 1h0m26 0h0m13 3h0m15 0h0m-13 5h0m-15 3h0m17 4h0m6 1h0m-55 1h0m37 1h0m-95 1h0m92 8h0m1 2h0m111 10h0m-116 7h0m56 15h0m14 4h0m38 8h0m-143 1h0m14 0h0m21 0h0m4 0h0m4 0h0" stroke="#bdbdbd"/>
<path d="M91 27h0m28 0h0m38 2h0m16 0h0m-36 2h0m28 0h0m-82 1h0m75 0h0m9 0h0m-111 1h0m38 0h0m52 0h0m20 0h0m-110 1h0m24 0h0m43 0h0m29 0h0m-77 1h0m7 0h0m17 0h0m19 0h0m22 0h0m12 0h0m8 0h0m15 0h0m-139 1h0m39 0h0m34 0h0m36 0h0m3 0h0m15 0h0m5 0h0m-26 1h0m4 0h0m14 0h1m10 0h0m9 0h0m-131 1h0m26 0h0m51 0h0m4 0h0m9 0h0m4 0h0m6 0h0m5 0h1m2 0h0m4 0h0m5 0h0m3 0h0m2 0h0m-125 1h0m24 0h0m6 0h0m22 0h0m33 0h0m8 0h0m2 0h0m8 0h0m3 0h0m4 0h1m8 0h0m10 0h0m9 0h0m-118 1h0m3 0h0m58 0h0m22 0h0m10 0h0m9 0h0m2 0h0m6 0h0m5 0h0m-125 1h0m21 0h0m2 0h0m2 0h0m22 0h0m8 0h0m4 0h0m4 0h0m3 0h0m11 0h2m16 0h0m15 0h1m12 0h1m-77 1h1m8 0h0m5 0h0m4 0h0m2 0h0m6 0h0m2 0h0m7 0h0m5 0h0m10 0h0m10 0h0m17 0h2m8 0h0m-136 1h0m3 0h0m3 0h0m9 0h0m29 0h0m9 0h0m3 0h0m14 0h0m3 0h1m3 0h0m3 0h0m5 0h2m4 0h0m2 0h0m17 0h0m8 0h0m18 0h0m2 0h0m-139 1h0m6 0h0m20 0h0m29 0h0m5 0h0m9 0h0m11 0h1m8 0h0m3 0h0m4 0h0m10 0h0m8 0h0m24 0h0m17 0h0m-173 1h0m31 0h0m7 0h0m34 0h0m6 0h0m19 0h0m2 0h0m7 0h1m2 0h0m2 0h1m4 0h0m2 0h1m-97 1h0m6 0h0m5 0h0m5 0h0m4 0h1m21 0h0m9 0h1m15 0h0m8 0h0m10 0h0m8 0h0m13 0h0m6 0h0m13 0h0m8 0h0m-143 1h0m11 0h0m11 0h0m2 0h0m12 0h0m39 0h0m10 0h1m10 0h0m6 0h0m40 0h0m17 0h0m-174 1h0m14 0h0m60 0h0m11 0h0m13 0h0m10 0h0m2 0h0m18 0h0m20 0h1m9 0h0m-148 1h0m20 0h0m17 0h0m21 0h0m3 0h0m18 0h0m5 0h0m9 0h0m35 0h1m13 0h0m-90 1h0m10 0h0m16 0h0m12 0h0m8 0h0m30 0h1m8 0h0m2 0h0m9 0h0m15 0h0m-165 1h0m7 0h0m7 0h0m4 0h1m12 0h0m19 0h0m21 0h0m18 0h1m14 0h1m42 0h0m2 0h0m-154 1h0m18 0h0m4 0h0m15 0h0m12 0h0m3 0h1m4 0h0m2 0h0m5 0h0m12 0h2m7 0h0m22 0h0m4 0h0m4 0h0m23 0h0m-103 1h0m5 0h0m14 0h0m4 0h0m6 0h0m3 0h0m10 0h0m10 0h1m7 0h2m48 0h0m15 0h0m3 0h0m-154 1h1m14 0h0m17 0h0m12 0h0m7 0h1m16 0h0m4 0h0m3 0h0m5 0h0m7 0h0m6 0h0m43 0h0m2 0h0m11 0h0m-159 1h0m17 0h0m19 0h0m28 0h0m21 0h1m9 0h1m10 0h0m41 0h1m9 0h0m-139 1h0m2 0h0m13 0h0m7 0h0m5 0h0m8 0h0m6 0h0m6 0h1m8 0h0m9 0h0m3 0h0m6 0h0m9 0h0m35 0h0m19 0h0m2 0h0m9 0h0m-150 1h0m7 0h0m17 0h0m6 0h0m3 0h1m8 0h0m3 0h0m16 0h0m2 0h0m3 0h0m2 0h0m4 0h0m4 0h0m20 0h0m32 0h0m2 0h0m2 0h0m7 0h0m-127 1h0m7 0h0m5 0h1m12 0h0m6 0h0m4 0h0m9 0h1m3 0h1m2 0h0m2 0h0m2 0h0m5 0h0m24 0h0m5 0h0m27 0h1m3 0h0m25 0h0m-156 1h0m12 0h0m3 0h0m18 0h0m15 0h1m16 0h0m4 0h1m16 0h0m47 0h0m-156 1h0m39 0h0m7 0h0m4 0h0m4 0h0m14 0h0m7 0h0m3 0h1m17 0h1m17 0h0m9 0h0m22 0h0m3 0h1m6 0h0m3 0h0m12 0h0m-129 1h0m12 0h1m6 0h0m10 0h0m5 0h1m26 0h1m4 0h0m3 0h0m31 0h0m6 0h0m4 0h1m5 0h0m-135 1h0m11 0h1m2 0h0m7 0h0m12 0h0m5 0h2m2 0h0m2 0h0m8 0h0m11 0h0m7 0h0m2 0h0m6 0h0m42 0h0m7 0h0m2 0h0m2 0h0m-114 1h0m3 0h0m20 0h0m2 0h0m4 0h0m11 0h0m2 0h0m4 0h0m3 0h1m6 0h1m5 0h0m11 0h0m24 0h0m7 0h0m2 0h0m6 0h0m5 0h0m-149 1h0m14 0h0m10 0h0m43 0h0m6 0h0m2 0h0m4 0h0m4 0h0m9 0h0m33 0h0m4 0h0m5 0h0m5 0h0m3 0h0m10 0h0m25 0h0m-161 1h0m8 0h1m13 0h0m10 0h0m6 0h0m6 0h0m5 0h0m2 0h0m9 0h0m9 0h0m16 0h0m3 0h0m4 0h0m3 0h1m4 0h0m18 0h2m8 0h0m2 0h0m4 0h0m3 0h0m-158 1h0m23 0h0m8 0h0m4 0h0m35 0h1m2 0h0m9 0h0m10 0h0m5 0h0m3 0h0m4 0h0m2 0h2m2 0h0m2 0h0m16 0h0m14 0h0m3 0h0m3 0h0m8 0h0m-145 1h0m31 0h0m11 0h0m9 0h0m3 0h1m5 0h0m6 0h1m2 0h0m2 0h0m5 0h0m2 0h0m15 0h0m2 0h0m8 0h1m12 0h0m4 0h0m7 0h0m-97 1h0m7 0h0m9 0h0m11 0h0m3 0h1m7 0h1m8 0h0m4 0h0m5 0h0m2 0h1m2 0h0m14 0h0m2 0h0m4 0h0m12 0h0m2 0h0m10 0h0m2 0h0m10 0h0m-169 1h0m33 0h0m19 0h0m30 0h0m5 0h0m5 0h1m13 0h0m4 0h0m5 0h0m8 0h0m2 0h0m8 0h0m9 0h0m4 0h0m3 0h0m9 0h0m4 0h0m-117 1h0m3 0h0m9 0h0m20 0h1m8 0h0m2 0h0m2 0h1m12 0h0m2 0h0m3 0h0m6 0h0m21 0h0m9 0h0m17 0h0m-133 1h0m17 0h0m25 0h0m9 0h0m5 0h0m2 0h1m8 0h0m6 0h1m3 0h0m10 0h0m7 0h1m8 0h0m4 0h0m3 0h0m2 0h0m6 0h0m13 0h0m3 0h0m-124 1h1m23 0h0m16 0h0m4 0h1m2 0h0m7 0h0m6 0h0m7 0h0m3 0h0m6 0h0m34 0h0m18 0h0m8 0h0m-138 1h0m17 0h0m3 0h0m18 0h0m15 0h0m12 0h0m5 0h0m10 0h0m25 0h0m9 0h0m6 0h0m-135 1h0m43 0h0m20 0h0m13 0h0m13 0h0m2 0h0m3 0h0m9 0h0m12 0h0m4 0h0m6 0h0m9 0h0m-139 1h0m26 0h0m16 0h0m8 0h0m13 0h0m7 0h0m2 0h0m12 0h0m8 0h0m4 0h2m2 0h0m4 0h0m20 0h0m2 0h0m10 0h0m6 0h0m13 0h0m-125 1h0m76 0h0m3 0h0m9 0h0m4 0h0m4 0h0m18 0h0m-119 1h0m8 0h0m5 0h0m9 0h0m21 0h0m18 0h1m5 0h1m4 0h0m21 0h0m14 0h0m-95 1h0m3 0h0m19 0h1m3 0h0m3 0h0m24 0h0m4 0h0m35 0h0m11 0h0m-118 1h0m26 0h0m6 0h0m22 0h0m17 0h0m4 0h0m-89 1h0m10 0h0m2 0h0m21 0h0m2 0h0m4 0h0m43 0h1m13 0h0m7 0h0m14 0h0m-102 1h0m26 0h1m10 0h0m3 0h0m6 0h0m22 0h0m3 0h0m5 0h0m18 0h0m17 0h0m5 0h0m-124 1h0m41 0h0m21 0h0m8 0h1m2 0h0m27 0h0m26 0h0m-77 1h0m10 0h0m11 0h0m4 0h0m19 0h0m2 0h0m-55 1h1m5 0h0m11 0h0m27 0h0m-63 1h0m9 0h0m19 0h0m9 0h0m8 0h0m3 0h0m15 0h0m3 0h0m29 0h0m-94 1h0m66 0h0m16 0h0m-93 1h0m47 0h0m7 0h0m27 0h0m3 0h0m24 0h0m9 0h0m-95 1h0m31 0h1m-24 1h0m9 0h0m18 0h0m14 0h0m3 0h1m31 0h0m-89 1h0m22 0h0m2 0h0m21 1h0m20 0h0m11 0h0m-63 1h0m20 0h0m11 0h0m12 0h0m2 0h1m4 0h0m-64 1h0m59 0h0m4 0h0m29 0h0m-87 1h0m31 0h0m4 0h0m14 0h0m14 0h0m24 0h0m-113 1h0m15 0h0m57 0h0m14 0h0m-50 1h0m42 0h1m5 0h0m6 0h0m8 0h0m-87 1h0m25 0h0m13 0h0m28 0h0m15 0h0m29 0h0m-46 1h0m2 0h0m3 0h0m15 0h0m-26 1h0m9 0h0m22 0h0m-54 1h0m27 0h0m22 0h0m5 0h0m-77 1h0m35 0h0m48 0h0m-50 1h0m-24 1h0m75 0h0m-86 1h0m-11 1h0m34 0h1m3 0h0m9 0h0m-24 1h0m9 0h0m-5 1h0m79 0h0m-76 1h0m9 0h0m-25 1h0m12 0h0m-23 1h0m30 0h0m25 0h0m-13 1h0m-23 1h0m10 1h0m7 0h0m-9 1h0m15 0h0m-8 1h0m21 0h0m-48 1h0m92 1h0m-60 1h0m-17 1h0m22 0h0m-25 1h0m-8 2h0m5 1h0m16 1h0m3 1h0m17 0h0m-10 1h0m5 0h0m-14 1h0m-10 1h0m6 0h0m16 0h0m6 0h0m-41 1h0m-11 1h0m28 0h0m-2 1h0m-3 1h0m-4 1h0m24 2h0m-77 1h0m87 0h0m-26 3h0m-8 3h0m23 4h0m-16 6h0m-15 2h1m42 1h0m-34 2h0m10 0h0m9 1h0m-11 2h0m-7 3h0m11 2h0m-17 1h0m8 1h0m17 8h0m-14 1h0m26 9h0m-61 51h0m12 0h1m7 0h0m6 0h0m4 0h0m7 0h0m46 0h0" stroke="#707070"/>
<path d="M54 22h0m6 1h0m15 2h0m-23 5h0m104 1h0m18 0h0m-21 1h0m13 0h0m-13 1h0m18 0h0m5 0h0m-8 1h0m5 0h0m3 0h0m-25 1h0m-65 1h0m60 0h0m3 0h0m2 0h0m10 0h0m4 0h0m15 0h1m-41 1h0m10 0h0m7 0h1m5 0h0m2 0h1m-97 1h0m77 0h0m6 0h0m4 0h0m3 0h1m14 0h0m-47 1h0m15 0h0m8 0h0m19 0h1m3 0h0m-57 1h0m15 0h1m10 0h0m3 0h0m2 0h0m5 0h0m2 0h1m2 0h1m2 0h1m4 0h0m2 0h0m4 0h2m-130 1h0m21 0h0m14 0h0m11 0h0m31 0h1m20 0h3m2 0h0m2 0h1m4 0h1m4 0h1m3 0h3m3 0h3m2 0h1m-93 1h0m17 0h2m18 0h0m18 0h0m3 0h0m8 0h1m2 0h2m2 0h1m2 0h1m4 0h0m2 0h4m2 0h0m2 0h0m-64 1h1m11 0h0m3 0h0m12 0h0m3 0h0m5 0h0m3 0h0m2 0h1m2 0h0m2 0h5m2 0h3m3 0h1m3 0h1m6 0h0m-115 1h0m57 0h0m9 0h0m3 0h0m4 0h0m3 0h1m2 0h0m2 0h1m2 0h0m2 0h0m2 0h6m2 0h0m2 0h1m2 0h1m4 0h4m4 0h0m3 0h1m-102 1h0m15 0h0m16 0h0m17 0h0m2 0h0m9 0h2m6 0h0m3 0h2m2 0h0m3 0h10m2 0h3m2 0h0m2 0h0m3 0h2m5 0h0m-83 1h0m3 0h0m3 0h0m4 0h0m2 0h0m2 0h0m6 0h0m5 0h0m2 0h0m5 0h2m3 0h2m3 0h6m2 0h11m3 0h2m4 0h0m2 0h0m3 0h2m2 0h1m-120 1h1m30 0h0m6 0h0m14 0h0m7 0h0m7 0h0m5 0h0m6 0h0m2 0h0m2 0h1m2 0h4m2 0h3m2 0h15m3 0h2m3 0h3m4 0h0m-103 1h0m3 0h0m18 0h0m2 0h0m4 0h0m5 0h0m8 0h0m2 0h0m2 0h0m8 0h1m2 0h1m5 0h3m2 0h11m2 0h14m2 0h2m8 0h0m2 0h0m-130 1h0m2 0h0m3 0h0m5 0h0m16 0h0m3 0h0m21 0h1m4 0h1m2 0h0m3 0h0m2 0h0m8 0h0m2 0h0m4 0h0m2 0h2m2 0h27m3 0h2m2 0h1m2 0h0m2 0h0m2 0h0m2 0h0m3 0h0m-118 1h1m9 0h0m5 0h0m6 0h0m17 0h0m3 0h2m3 0h2m4 0h1m5 0h1m2 0h0m2 0h6m2 0h20m2 0h6m3 0h6m4 0h2m7 0h0m-123 1h0m39 0h0m11 0h0m2 0h0m4 0h2m5 0h6m2 0h4m3 0h32m2 0h1m2 0h0m-137 1h0m6 0h0m11 0h0m3 0h0m10 0h0m3 0h0m14 0h0m2 0h0m2 0h1m9 0h0m3 0h0m4 0h0m2 0h0m3 0h0m4 0h0m2 0h0m2 0h1m2 0h0m3 0h4m2 0h1m3 0h2m2 0h2m2 0h21m2 0h9m2 0h0m2 0h0m-163 1h0m45 0h0m2 0h0m6 0h0m7 0h0m16 0h0m4 0h1m5 0h0m3 0h0m7 0h0m6 0h3m4 0h1m2 0h0m2 0h40m13 0h0m2 0h0m-132 1h0m4 0h0m4 0h0m9 0h0m14 0h1m6 0h0m2 0h0m2 0h0m3 0h1m7 0h0m3 0h1m3 0h0m2 0h0m3 0h3m4 0h2m4 0h11m2 0h26m7 0h0m3 0h0m-175 1h0m58 0h0m6 0h0m2 0h0m5 0h0m2 0h0m7 0h0m3 0h0m3 0h1m2 0h0m5 0h0m2 0h0m3 0h1m11 0h0m4 0h0m4 0h7m2 0h30m2 0h2m2 0h0m8 0h0m5 0h0m-130 1h0m23 0h0m6 0h0m3 0h0m6 0h0m8 0h0m3 0h0m2 0h0m5 0h0m2 0h0m5 0h1m3 0h6m3 0h0m3 0h2m2 0h26m2 0h7m4 0h0m6 0h0m-117 1h1m7 0h0m10 0h1m7 0h0m2 0h0m4 0h1m8 0h0m3 0h0m2 0h0m3 0h0m3 0h1m4 0h2m3 0h12m2 0h23m2 0h5m4 0h0m4 0h0m2 0h0m10 0h0m-127 1h0m14 0h0m7 0h1m4 0h0m4 0h0m3 0h1m4 0h1m3 0h0m6 0h1m2 0h0m2 0h0m4 0h5m2 0h7m2 0h2m2 0h3m2 0h25m3 0h0m4 0h0m14 0h0m-116 1h0m22 0h0m2 0h0m12 0h1m5 0h1m3 0h0m3 0h2m2 0h0m3 0h36m2 0h1m2 0h0m2 0h1m-133 1h0m24 0h0m11 0h0m4 0h0m4 0h0m7 0h0m2 0h0m8 0h0m2 0h1m3 0h4m9 0h0m3 0h0m2 0h0m2 0h3m3 0h0m2 0h7m2 0h18m2 0h0m2 0h1m3 0h1m3 0h0m21 0h0m-141 1h0m22 0h0m25 0h3m3 0h1m2 0h1m4 0h0m2 0h1m2 0h0m8 0h1m2 0h9m2 0h9m2 0h4m2 0h1m2 0h4m2 0h1m4 0h1m9 0h0m-107 1h1m10 0h0m4 0h1m5 0h3m2 0h0m2 0h0m2 0h1m4 0h0m4 0h2m2 0h0m2 0h0m3 0h0m2 0h6m2 0h25m4 0h0m2 0h1m2 0h0m4 0h0m2 0h0m2 0h0m-163 1h0m55 0h0m10 0h0m12 0h0m3 0h0m4 0h0m5 0h1m4 0h0m3 0h1m3 0h0m3 0h2m3 0h0m3 0h0m3 0h3m2 0h1m2 0h0m2 0h7m2 0h1m2 0h5m2 0h0m2 0h3m2 0h0m2 0h0m2 0h1m3 0h1m10 0h0m4 0h0m14 0h0m-147 1h0m6 0h0m2 0h0m3 0h0m13 0h0m4 0h0m3 0h0m8 0h0m10 0h0m2 0h0m3 0h0m5 0h1m2 0h1m3 0h0m2 0h1m3 0h0m3 0h0m2 0h1m2 0h0m2 0h15m2 0h2m2 0h2m4 0h2m3 0h0m8 0h0m12 0h0m-134 1h1m6 0h0m19 0h0m13 0h0m3 0h0m2 0h0m11 0h0m7 0h1m4 0h0m2 0h0m2 0h0m4 0h1m2 0h2m2 0h1m3 0h2m2 0h1m2 0h4m2 0h2m2 0h3m5 0h2m3 0h0m-115 1h0m34 0h0m8 0h0m6 0h0m4 0h0m3 0h0m6 0h0m9 0h0m10 0h0m3 0h0m2 0h0m2 0h7m2 0h1m2 0h2m2 0h4m6 0h0m3 0h0m-101 1h0m11 0h0m8 0h0m2 0h0m5 0h0m10 0h0m2 0h0m5 0h1m7 0h0m2 0h1m5 0h0m3 0h0m2 0h0m5 0h2m2 0h3m2 0h0m2 0h0m2 0h0m2 0h2m2 0h1m2 0h0m2 0h1m4 0h3m5 0h0m-117 1h0m5 0h0m2 0h0m26 0h0m8 0h0m12 0h0m5 0h0m3 0h0m11 0h0m2 0h0m4 0h0m6 0h0m2 0h1m2 0h0m2 0h1m2 0h2m2 0h0m5 0h1m4 0h0m6 0h0m-136 1h0m36 0h0m3 0h0m10 0h0m5 0h0m3 0h0m3 0h0m11 0h0m2 0h0m2 0h4m4 0h0m9 0h1m3 0h0m2 0h0m2 0h1m2 0h1m2 0h0m2 0h0m2 0h3m6 0h0m2 0h0m5 0h0m-117 1h0m11 0h0m17 0h0m3 0h0m4 0h0m4 0h0m6 0h0m4 0h0m12 0h1m3 0h0m2 0h0m5 0h0m9 0h0m3 0h0m2 0h2m3 0h0m2 0h1m3 0h1m8 0h0m2 0h0m8 0h1m5 0h0m-89 1h0m20 0h0m6 0h0m4 0h0m8 0h0m3 0h0m2 0h0m6 0h0m4 0h0m3 0h2m6 0h0m10 0h1m4 0h0m11 0h0m14 0h0m-124 1h0m5 0h0m24 0h0m26 0h0m4 0h0m2 0h0m11 0h0m4 0h0m2 0h1m2 0h1m8 0h0m9 0h0m-96 1h0m4 0h0m11 0h0m24 0h0m10 0h0m3 0h1m5 0h0m5 0h0m5 0h0m8 0h0m12 0h0m3 0h0m7 0h0m-76 1h0m12 0h0m4 0h0m2 0h1m13 0h0m22 0h0m2 0h1m3 0h0m4 0h0m6 0h0m2 0h0m8 0h0m-102 1h0m17 0h0m17 0h0m17 0h0m5 0h0m4 0h0m4 0h0m12 0h0m16 0h0m-96 1h0m40 0h0m9 0h1m12 0h0m7 0h0m20 0h0m12 0h0m5 0h0m-123 1h0m3 0h0m36 0h0m4 0h0m4 0h0m8 0h0m5 0h0m21 0h0m16 0h0m3 0h0m11 0h0m-98 1h0m38 0h0m4 0h0m17 0h0m10 0h0m4 0h0m8 0h0m12 0h0m-45 1h0m11 0h1m5 0h0m3 0h0m24 0h0m3 1h0m16 0h0m-74 1h0m33 0h0m11 0h0m-47 1h0m8 1h0m7 0h0m27 0h0m-72 1h0m28 0h0m10 0h0m5 0h0m4 0h0m15 0h0m-54 1h0m18 0h0m10 0h1m61 0h0m-67 1h0m6 0h1m35 0h0m18 0h0m-60 1h0m32 0h0m12 0h0m5 0h0m-48 1h0m3 0h0m71 0h0m-42 1h0m7 0h0m-26 1h0m23 0h0m-72 1h0m112 0h0m-18 1h0m6 1h0m-93 1h0m54 1h0m26 0h0m-33 1h0m23 0h0m-40 1h0m2 0h0m-7 3h0m37 0h0m10 0h0m36 0h0m-91 1h0m-5 2h0m45 1h0m-33 1h0m-11 1h0m-22 1h0m18 0h0m32 2h0m7 0h0m-19 2h0m-7 1h0m10 0h0m2 0h0m49 2h0m-69 4h0m17 0h0m11 3h0m-15 2h0m-30 1h0m-15 2h0m18 0h0m13 0h0m-10 3h0m3 1h0m5 1h0m33 1h0m10 12h0m-13 1h0m24 4h0m42 0h0m-83 2h0m12 1h0m7 5h0m7 2h0m-70 3h0m38 4h0m-50 70h0m12 0h0m19 0h0m15 0h0m35 0h0" stroke="#000"/>
</g>
<rect x="115.6" y="833.3" width="239.2" height="238.4" fill="none" stroke="#444" stroke-width="1.3"/>
<path d="M223.4 833.3V1071.7M115.6 962.5H354.8" stroke="#000" stroke-width="1.9" fill="none"/>
<path d="M108.6 1071.7H115.6M108.6 1027.6H115.6M108.6 983.5H115.6M108.6 939.4H115.6M108.6 895.3H115.6M108.6 851.2H115.6M115.6 1071.7V1078.2M159.7 1071.7V1078.2M203.8 1071.7V1078.2M247.9 1071.7V1078.2M292.0 1071.7V1078.2M336.1 1071.7V1078.2" stroke="#111" stroke-width="2" fill="none"/>
<path d="M112.1 1058.4H115.6M112.1 1050.7H115.6M112.1 1045.1H115.6M112.1 1040.9H115.6M112.1 1037.4H115.6M112.1 1034.4H115.6M112.1 1031.9H115.6M112.1 1029.6H115.6M112.1 1014.3H115.6M112.1 1006.6H115.6M112.1 1001.0H115.6M112.1 996.8H115.6M112.1 993.3H115.6M112.1 990.3H115.6M112.1 987.8H115.6M112.1 985.5H115.6M112.1 970.2H115.6M112.1 962.5H115.6M112.1 956.9H115.6M112.1 952.7H115.6M112.1 949.2H115.6M112.1 946.2H115.6M112.1 943.7H115.6M112.1 941.4H115.6M112.1 926.1H115.6M112.1 918.4H115.6M112.1 912.8H115.6M112.1 908.6H115.6M112.1 905.1H115.6M112.1 902.1H115.6M112.1 899.6H115.6M112.1 897.3H115.6M112.1 882.0H115.6M112.1 874.3H115.6M112.1 868.7H115.6M112.1 864.5H115.6M112.1 861.0H115.6M112.1 858.0H115.6M112.1 855.5H115.6M112.1 853.2H115.6M112.1 837.9H115.6M128.9 1071.7V1075.2M136.6 1071.7V1075.2M142.2 1071.7V1075.2M146.4 1071.7V1075.2M149.9 1071.7V1075.2M152.9 1071.7V1075.2M155.4 1071.7V1075.2M157.7 1071.7V1075.2M173.0 1071.7V1075.2M180.7 1071.7V1075.2M186.3 1071.7V1075.2M190.5 1071.7V1075.2M194.0 1071.7V1075.2M197.0 1071.7V1075.2M199.5 1071.7V1075.2M201.8 1071.7V1075.2M217.1 1071.7V1075.2M224.8 1071.7V1075.2M230.4 1071.7V1075.2M234.6 1071.7V1075.2M238.1 1071.7V1075.2M241.1 1071.7V1075.2M243.6 1071.7V1075.2M245.9 1071.7V1075.2M261.2 1071.7V1075.2M268.9 1071.7V1075.2M274.5 1071.7V1075.2M278.7 1071.7V1075.2M282.2 1071.7V1075.2M285.2 1071.7V1075.2M287.7 1071.7V1075.2M290.0 1071.7V1075.2M305.3 1071.7V1075.2M313.0 1071.7V1075.2M318.6 1071.7V1075.2M322.8 1071.7V1075.2M326.3 1071.7V1075.2M329.3 1071.7V1075.2M331.8 1071.7V1075.2M334.1 1071.7V1075.2M349.4 1071.7V1075.2" stroke="#333" stroke-width="1.1" fill="none"/>
<text x="119.8" y="858.1" font-family="'Liberation Serif', serif" font-size="16.5" font-weight="bold" text-anchor="start" >16,7</text>
<text x="333.1" y="858.1" font-family="'Liberation Serif', serif" font-size="16.5" font-weight="bold" text-anchor="end" >81,8</text>
<text x="119.8" y="1056.4" font-family="'Liberation Serif', serif" font-size="16.5" font-weight="bold" text-anchor="start" >1,31</text>
<text x="333.1" y="1056.4" font-family="'Liberation Serif', serif" font-size="16.5" font-weight="bold" text-anchor="end" >0,20</text>
<g transform="translate(414.5,833.5)" fill="none" stroke-linecap="square" stroke-width="1.4">
<path d="M88 23h0m-18 8h0m45 0h0m-61 3h0m65 0h0m-33 1h0m25 0h0m-11 1h0m13 1h0m5 0h0m117 0h0m-144 1h0m20 0h0m5 0h0m23 0h0m-29 1h1m16 0h1m12 0h0m-77 1h0m41 0h0m6 0h0m3 0h0m10 0h0m7 0h0m-14 1h0m-45 1h0m31 0h0m13 0h0m33 0h0m-89 1h0m38 0h0m16 0h0m8 0h2m18 0h0m-83 1h0m36 0h0m4 0h0m12 0h0m13 0h0m7 0h0m-70 1h0m34 0h0m30 0h2m12 0h0m-56 1h0m4 0h0m3 0h0m2 0h0m25 0h0m5 0h0m6 0h0m10 0h0m-52 1h0m12 0h0m10 0h0m3 0h0m8 0h0m5 0h2m16 0h0m7 0h0m-87 1h0m26 0h0m9 0h0m2 0h1m7 0h0m5 0h0m2 0h0m4 0h0m8 0h0m6 0h0m3 0h0m-84 1h0m42 0h0m4 0h1m2 0h0m6 0h0m4 0h0m8 0h0m2 0h0m3 0h0m6 0h0m5 0h0m3 0h0m3 0h0m-65 1h1m19 0h0m3 0h1m17 0h0m3 0h0m31 0h0m-110 1h0m21 0h0m38 0h0m28 0h0m9 0h0m11 0h0m-76 1h0m12 0h0m5 0h0m4 0h0m41 0h0m14 0h0m-133 1h0m58 0h0m4 0h0m8 0h0m8 0h0m23 0h0m15 0h0m8 0h1m3 0h0m5 0h0m3 0h0m15 0h0m-161 1h0m31 0h0m44 0h0m2 0h0m18 0h1m10 0h0m16 0h0m20 0h2m-59 1h0m2 0h0m36 0h1m13 0h0m6 0h0m9 0h0m-144 1h0m38 0h0m15 0h1m9 0h0m2 0h0m6 0h0m30 0h0m8 0h0m16 0h0m3 0h0m-45 1h0m10 0h0m5 0h0m15 0h0m14 0h0m6 0h0m-120 1h0m2 0h0m5 0h0m17 0h0m31 0h0m15 0h0m28 0h1m15 0h0m3 0h0m-107 1h0m21 0h0m28 0h0m48 0h0m6 0h0m8 0h0m5 0h0m-115 1h0m18 0h0m14 0h0m13 0h0m2 0h0m10 0h0m43 0h0m3 0h0m2 0h0m8 0h0m-135 1h0m29 0h0m11 0h0m5 0h0m10 0h0m15 0h0m5 0h1m54 0h0m17 0h0m-108 1h0m14 0h0m18 0h0m6 0h0m5 0h0m34 0h0m7 0h0m3 0h0m26 0h0m-120 1h0m4 0h0m13 0h0m2 0h0m5 0h0m2 0h0m7 0h0m11 0h1m2 0h2m2 0h1m21 0h0m23 0h0m4 0h0m6 0h0m-96 1h0m14 0h0m6 0h0m4 0h0m14 0h0m5 0h0m6 0h0m-60 1h0m2 0h0m20 0h0m18 0h0m5 0h0m8 0h0m2 0h0m32 0h0m14 0h0m14 0h0m4 0h0m-131 1h0m6 0h0m14 0h0m13 0h0m2 0h0m21 0h0m5 0h0m41 0h0m15 0h0m-112 1h0m35 0h0m12 0h0m7 0h0m6 0h0m30 0h0m7 0h0m4 0h0m6 0h0m2 0h0m22 0h0m-140 1h0m33 0h0m15 0h0m21 0h0m6 0h0m15 0h0m2 0h0m17 0h0m9 0h0m6 0h0m43 0h0m-129 1h0m11 0h0m2 0h0m2 0h0m11 0h0m6 0h0m28 0h0m4 0h0m2 0h1m4 0h0m3 0h0m2 0h0m2 0h0m-123 1h0m24 0h0m21 0h0m10 0h0m4 0h0m5 0h0m19 0h0m23 0h0m17 0h0m-83 1h0m5 0h0m10 0h1m19 0h0m2 0h0m3 0h0m2 0h0m2 0h0m18 0h0m5 0h0m5 0h0m3 0h0m2 0h0m4 0h0m4 0h0m3 0h1m3 0h0m-87 1h0m2 0h0m10 0h0m18 0h1m8 0h0m19 0h1m3 0h0m17 0h0m2 0h0m-116 1h0m9 0h0m14 0h0m16 0h0m14 0h0m4 0h0m4 0h0m4 0h0m6 0h0m2 0h1m14 0h0m6 0h0m7 0h0m4 0h0m7 0h0m-120 1h0m30 0h0m5 0h0m4 0h0m2 0h0m7 0h0m16 0h0m6 0h0m5 0h1m3 0h0m4 0h1m10 0h0m2 0h0m5 0h0m5 0h1m3 0h0m5 0h0m2 0h0m4 0h0m-119 1h0m26 0h0m32 0h0m9 0h0m21 0h0m6 0h0m3 0h0m7 0h0m5 0h0m8 0h0m-94 1h0m15 0h0m9 0h0m9 0h0m7 0h1m4 0h0m2 0h0m4 0h0m3 0h0m14 0h1m6 0h1m3 0h0m5 0h1m17 0h0m-87 1h0m3 0h0m7 0h0m7 0h0m3 0h0m4 0h0m2 0h0m8 0h0m11 0h0m2 0h1m9 0h0m2 0h0m6 0h0m-108 1h0m31 0h0m2 0h0m29 0h0m6 0h0m5 0h1m11 0h0m9 0h0m3 0h0m11 0h0m3 0h1m-78 1h0m20 0h0m3 0h0m10 0h0m2 0h0m20 0h0m4 0h0m5 0h0m3 0h0m9 0h1m8 0h0m17 0h0m-146 1h0m29 0h0m4 0h0m37 0h0m3 0h1m10 0h0m2 0h0m11 0h0m23 0h1m4 0h0m3 0h0m9 0h0m3 0h0m-94 1h0m12 0h0m3 0h0m12 0h0m6 0h0m5 0h1m16 0h0m4 0h1m3 0h0m4 0h0m8 0h0m20 0h0m-117 1h0m22 0h0m2 0h0m19 0h2m11 0h3m5 0h0m2 0h0m9 0h0m4 0h0m5 0h0m8 0h0m8 0h0m2 0h0m-109 1h0m27 0h0m13 0h0m9 0h0m5 0h0m21 0h0m2 0h0m9 0h0m7 0h0m8 0h0m42 0h0m-120 1h0m34 0h0m24 0h0m3 0h0m9 0h0m20 0h0m13 0h0m-107 1h0m10 0h0m30 0h0m9 0h0m2 0h0m26 0h0m9 0h0m-110 1h0m20 0h0m17 0h0m7 0h0m7 0h0m20 0h0m3 0h0m4 0h0m16 0h0m13 0h0m13 0h0m-80 1h0m12 0h0m23 0h0m15 0h0m7 0h0m10 0h0m-88 1h0m24 0h0m14 0h0m2 0h0m22 0h0m8 0h0m6 0h0m8 0h0m3 0h0m4 0h0m4 0h0m5 0h0m-99 1h0m23 0h2m18 0h0m5 0h0m8 0h0m7 0h0m13 0h0m5 0h0m5 0h0m9 0h0m-92 1h0m29 0h0m30 0h0m3 0h0m12 0h0m4 0h0m-24 1h0m15 0h0m15 0h0m-60 1h1m9 0h0m8 0h0m8 0h0m12 0h0m5 0h0m10 0h2m5 0h0m6 0h0m6 0h0m-80 1h0m15 0h0m23 0h0m15 0h0m11 0h1m-67 1h0m15 0h0m2 0h1m5 0h1m9 0h0m11 0h0m5 0h0m2 0h0m5 0h0m7 0h0m13 0h0m3 0h0m5 0h0m6 0h0m-78 1h0m28 0h0m2 0h0m5 0h0m18 0h0m-111 1h0m65 0h0m2 0h0m13 0h0m30 0h0m2 0h1m29 0h0m-54 1h0m2 0h0m12 0h0m8 0h0m47 0h0m-111 1h1m27 0h1m16 0h0m17 0h0m-48 1h0m5 0h0m10 0h0m5 0h0m3 0h0m3 0h0m5 0h0m2 0h0m5 0h0m37 0h0m16 0h0m-64 1h0m7 0h0m11 0h0m8 0h1m4 0h0m-73 1h0m5 0h0m30 0h0m20 0h0m5 0h0m-70 1h0m51 0h0m9 0h0m4 0h0m3 0h0m3 0h0m2 0h1m8 0h0m8 0h0m7 0h0m8 0h0m-57 1h0m17 0h0m-39 1h0m29 0h1m11 0h0m13 0h0m-80 1h0m29 0h0m6 0h0m72 0h0m-96 1h0m21 0h0m6 0h1m21 0h1m17 0h0m34 0h0m-70 1h0m10 0h0m19 0h0m-30 1h1m6 0h0m9 0h0m7 0h0m-38 1h0m25 0h0m41 0h0m-78 1h0m21 0h0m-23 1h0m38 0h0m31 0h0m9 0h0m7 0h0m-60 1h0m23 0h0m13 0h0m-64 1h0m17 0h0m10 0h0m6 0h0m2 0h0m24 0h0m40 0h0m-127 1h0m44 0h0m6 0h0m4 0h0m57 0h0m3 0h0m-60 1h0m8 0h0m26 0h0m-18 1h0m57 0h0m-69 1h0m15 0h0m8 0h0m13 0h0m-37 1h0m43 0h0m22 0h0m-73 1h0m8 0h0m25 0h0m5 0h0m11 0h0m94 0h0m-118 1h0m6 0h0m8 0h0m4 0h0m16 0h0m65 0h0m-124 1h0m14 0h0m20 0h0m12 0h0m4 0h1m-38 1h0m13 0h0m51 0h0m-71 1h0m28 0h0m38 0h0m42 0h0m-140 1h0m51 0h0m14 1h0m-39 1h0m17 0h1m52 0h0m3 0h0m2 0h0m6 0h0m-81 1h0m7 0h0m52 0h0m10 0h0m8 0h0m-62 1h0m24 0h0m30 1h0m-66 1h0m5 0h0m33 0h1m25 0h0m10 0h0m-73 1h0m11 0h0m77 0h0m-52 1h0m10 0h0m26 0h0m2 0h0m4 0h0m-47 1h0m3 0h0m37 0h0m7 0h0m75 0h0m-165 1h0m13 0h0m68 0h0m5 0h0m7 0h1m-10 1h0m-58 1h0m2 0h0m21 0h0m36 0h0m10 0h0m-73 1h0m75 0h0m-130 1h0m72 0h0m61 0h0m-50 1h0m34 0h0m2 0h0m2 0h0m-41 1h0m18 0h0m6 0h0m20 0h0m-63 1h0m20 0h0m4 0h0m5 0h0m15 0h0m3 0h0m-20 1h0m34 0h0m-2 1h0m5 0h0m3 0h0m-7 1h0m-118 1h0m53 0h0m4 0h0m12 0h0m11 0h0m6 0h0m19 0h0m15 0h0m-82 1h0m14 0h0m8 0h0m4 0h0m9 0h0m5 0h0m22 0h0m15 0h0m-56 1h0m69 0h0m-118 1h0m2 0h0m50 0h0m56 0h0m-66 1h0m31 0h1m29 0h1m2 0h0m-150 1h0m50 0h0m15 0h0m38 0h0m35 0h0m-61 1h0m88 0h0m-45 1h0m16 0h0m-58 1h0m27 0h0m-30 2h0m17 0h0m10 0h0m18 0h0m-79 1h0m31 1h0m11 0h0m10 0h0m23 0h0m10 0h0m-32 1h0m14 0h0m-60 1h0m90 0h0m-22 1h0m-61 1h0m7 0h0m3 1h0m27 0h0m-31 1h0m9 0h0m66 0h0m-46 1h0m2 0h0m43 1h0m-107 1h0m61 0h0m17 0h0m37 0h0m14 0h0m-80 1h0m28 0h0m42 2h0m-59 1h0m47 0h0m-71 1h0m29 0h0m-25 1h0m39 0h0m-7 1h0m-20 1h0m8 0h0m0 1h0m23 0h0m14 0h0m3 0h0m-47 1h0m6 0h0m48 0h0m-102 1h0m12 0h0m16 0h0m31 0h0m14 0h0m6 2h0m-37 3h0m-2 1h0m-25 4h0m53 0h0m4 0h0m12 0h0m-13 8h0m6 0h0m-14 2h0m5 0h0m30 0h0m-33 4h0m-6 2h0m31 11h0m-59 11h0m-14 11h2m17 0h0m6 0h0m8 0h0m7 0h0m2 0h0m9 0h0m10 0h0m5 0h0m6 0h0m2 0h0m48 0h0m5 0h0m10 0h0" stroke="#bdbdbd"/>
<path d="M110 27h0m87 0h0m-172 3h0m35 2h0m57 1h0m-59 3h0m86 0h0m-85 1h0m9 0h0m58 0h0m14 0h0m-68 1h0m36 0h0m2 0h0m15 0h0m9 0h0m-47 1h0m6 0h0m20 0h0m-43 1h0m22 0h0m13 0h0m12 0h0m16 0h0m-93 1h0m43 0h0m8 0h0m5 0h0m6 0h0m11 0h0m16 0h0m4 0h1m12 0h0m-51 1h0m2 0h0m17 0h0m5 0h0m10 0h0m-33 1h0m4 0h0m2 0h0m2 0h0m6 0h0m18 0h0m7 0h0m3 0h0m-37 1h0m4 0h0m4 0h0m6 0h0m13 0h0m11 0h0m-52 1h0m18 0h0m5 0h0m4 0h0m15 0h0m-44 1h0m13 0h1m3 0h0m2 0h0m11 0h0m3 0h0m11 0h1m8 0h1m-91 1h0m10 0h0m20 0h0m11 0h1m3 0h0m2 0h0m8 0h0m2 0h0m3 0h0m5 0h0m3 0h0m5 0h1m28 0h0m-77 1h0m4 0h0m2 0h0m2 0h0m4 0h0m4 0h0m4 0h0m7 0h0m10 0h0m29 0h0m10 0h0m-128 1h0m66 0h0m2 0h0m2 0h0m11 0h0m5 0h0m30 0h0m-102 1h0m45 0h0m9 0h0m12 0h0m8 0h0m3 0h0m9 0h0m3 0h0m4 0h2m3 0h0m4 0h0m11 0h0m-110 1h0m4 0h0m22 0h0m10 0h0m9 0h0m11 0h1m21 0h0m14 0h1m5 0h0m2 0h0m18 0h0m-108 1h0m36 0h0m11 0h0m3 0h1m18 0h0m8 0h0m3 0h1m7 0h0m8 0h0m3 0h0m2 0h0m-123 1h0m53 0h0m5 0h0m3 0h0m6 0h0m7 0h0m2 0h1m14 0h0m2 0h1m7 0h0m20 0h0m-65 1h0m12 0h0m16 0h0m12 0h0m21 0h0m22 0h0m-120 1h0m31 0h0m3 0h0m3 0h0m7 0h0m8 0h0m27 0h0m5 0h0m12 0h0m3 0h0m5 0h1m-112 1h0m4 0h0m3 0h0m12 0h0m21 0h0m6 0h0m6 0h0m19 0h0m40 0h0m3 0h0m18 0h0m-120 1h0m22 0h0m13 0h0m3 0h0m2 0h0m13 0h0m4 0h0m21 0h0m9 0h0m4 0h1m9 0h0m-102 1h0m32 0h0m12 0h0m5 0h1m3 0h0m3 0h0m9 0h0m14 0h0m8 0h0m7 0h0m8 0h0m-124 1h0m4 0h0m36 0h0m2 0h0m4 0h0m19 0h0m4 0h0m6 0h0m24 0h0m15 0h0m2 0h0m4 0h0m-109 1h0m4 0h0m31 0h0m13 0h0m56 0h0m7 0h0m-109 1h0m3 0h0m31 0h0m24 0h0m42 0h0m5 0h0m18 0h0m-121 1h0m13 0h1m18 0h1m2 0h0m22 0h0m-85 1h0m37 0h0m30 0h0m3 0h0m4 0h0m50 0h1m-106 1h0m25 0h0m14 0h0m2 0h0m58 0h0m-79 1h0m18 0h1m2 0h0m7 0h0m10 0h0m3 0h0m2 0h0m36 0h0m3 0h0m6 0h0m-93 1h0m16 0h0m7 0h0m3 0h0m3 0h0m4 0h0m2 0h0m7 0h1m48 0h0m4 0h1m12 0h0m-152 1h0m44 0h0m17 0h0m12 0h0m6 0h0m9 0h0m2 0h0m8 0h0m31 0h0m21 0h0m5 0h0m-116 1h0m3 0h0m10 0h0m36 0h0m12 0h0m3 0h0m32 0h0m4 0h0m4 0h1m-99 1h0m20 0h0m15 0h0m3 0h0m6 0h0m7 0h0m6 0h0m4 0h0m17 0h0m11 0h0m-109 1h0m20 0h0m11 0h0m7 0h0m6 0h0m4 0h0m5 0h0m2 0h0m15 0h0m6 0h0m19 0h0m2 0h0m7 0h0m9 0h0m10 0h1m-132 1h0m13 0h0m6 0h0m5 0h0m4 0h0m23 0h0m7 0h0m5 0h0m7 0h1m12 0h0m9 0h0m18 0h0m26 0h0m-123 1h0m6 0h0m10 0h0m13 0h1m6 0h0m2 0h0m5 0h0m8 0h0m6 0h0m4 0h0m11 0h0m11 0h0m6 0h0m8 0h0m3 0h0m3 0h0m11 0h0m-107 1h0m8 0h0m17 0h0m5 0h0m5 0h0m5 0h0m8 0h0m4 0h0m5 0h0m9 0h0m6 0h0m3 0h0m2 0h0m6 0h0m2 0h0m2 0h0m6 0h0m3 0h0m-64 1h0m15 0h1m3 0h0m49 0h0m-71 1h0m16 0h0m3 0h0m6 0h0m7 0h1m6 0h0m11 0h1m6 0h0m12 0h0m-70 1h0m4 0h0m9 0h0m12 0h0m3 0h0m6 0h0m41 0h0m2 0h0m-105 1h0m16 0h0m13 0h0m7 0h0m24 0h1m2 0h0m9 0h0m8 0h0m8 0h0m3 0h0m19 0h0m-91 1h0m6 0h0m4 0h1m2 0h0m3 0h1m12 0h0m8 0h0m6 0h0m4 0h0m3 0h0m5 0h0m5 0h0m9 0h0m5 0h0m8 0h0m3 0h0m9 0h0m-121 1h0m6 0h0m12 0h0m17 0h2m22 0h0m2 0h0m21 0h0m5 0h0m9 0h0m-102 1h0m20 0h0m13 0h0m17 0h0m8 0h0m2 0h0m8 0h0m8 0h1m12 0h0m4 0h0m-80 1h0m30 0h0m6 0h0m11 0h0m3 0h0m8 0h0m3 0h1m3 0h0m4 0h0m3 0h0m9 0h1m19 0h0m2 0h0m7 0h0m-93 1h0m3 0h0m6 0h0m4 0h0m3 0h0m12 0h0m3 0h0m15 0h1m3 0h0m9 0h0m14 0h1m4 0h0m10 0h1m6 0h0m-91 1h0m2 0h0m2 0h0m24 0h0m7 0h0m4 0h0m23 0h0m8 0h0m-103 1h0m31 0h0m29 0h0m3 0h0m11 0h0m2 0h0m2 0h0m7 0h0m5 0h0m10 0h0m6 0h1m-43 1h0m11 0h0m18 0h0m40 0h0m-108 1h0m12 0h0m27 0h0m2 0h0m11 0h0m3 0h0m9 0h1m9 0h0m35 0h0m-85 1h0m25 0h0m9 0h0m10 0h0m17 0h0m-96 1h0m38 0h0m12 0h2m20 0h0m2 0h0m4 0h0m19 0h0m15 0h0m2 0h0m-99 1h0m32 0h0m13 0h0m51 0h0m-78 1h0m12 0h0m5 0h0m4 0h0m4 0h0m5 0h0m10 0h1m17 0h0m7 0h0m-56 1h0m11 0h0m21 0h2m39 0h0m-121 1h0m7 0h0m33 0h0m23 0h1m3 0h0m-39 1h0m5 0h0m8 0h0m4 0h0m4 0h0m22 0h0m-14 1h0m2 0h0m5 0h0m6 0h0m-14 1h0m4 0h0m25 0h0m5 0h0m2 0h0m3 0h0m7 0h0m-115 1h0m51 0h0m22 0h0m7 0h0m3 0h0m13 0h0m2 0h0m11 0h0m-72 1h0m18 0h0m15 0h0m5 0h0m4 0h0m8 0h0m2 0h0m5 0h0m3 0h0m17 0h0m-82 1h0m10 0h0m7 0h0m10 0h1m29 0h0m2 0h0m26 0h0m-66 1h0m15 0h0m35 0h0m11 0h0m11 0h0m-62 1h0m8 0h0m21 0h0m26 0h0m-38 1h0m21 0h0m6 0h0m2 0h0m2 0h0m-57 1h0m26 0h0m5 0h0m26 0h0m4 0h0m-87 1h0m51 0h0m10 0h0m48 0h0m-102 1h0m14 0h0m20 0h0m9 0h0m7 0h0m35 0h0m-47 1h0m2 0h0m4 0h0m16 0h1m19 0h0m-68 1h0m9 0h0m13 0h1m10 0h0m33 0h0m19 0h0m-91 1h0m29 0h0m13 0h0m3 0h0m16 0h0m6 0h0m11 0h0m8 0h0m-124 1h0m43 0h0m27 0h0m-15 1h2m12 0h0m13 0h0m9 0h0m-43 1h0m19 0h0m4 0h0m9 0h0m10 0h0m14 0h1m-78 1h0m62 0h0m5 0h0m23 0h0m-55 1h0m18 0h0m-30 1h0m63 0h0m-86 1h0m7 0h0m36 0h0m20 0h0m10 0h0m31 0h0m-78 2h0m9 0h0m29 0h0m4 0h0m20 0h0m10 0h0m-50 1h0m25 0h0m-51 1h0m14 0h0m23 0h0m23 0h0m2 0h1m-55 1h0m20 0h0m4 0h0m49 0h0m-56 1h0m13 0h0m8 0h0m3 1h0m36 0h0m-73 1h0m20 0h0m5 0h0m13 0h0m25 0h0m-74 1h0m18 0h0m9 0h0m20 0h0m9 0h0m17 0h0m14 0h0m-65 1h0m8 0h0m11 0h0m3 0h0m36 0h0m7 0h0m-75 1h0m3 0h0m8 0h0m10 0h0m30 0h0m8 0h0m-64 1h0m31 0h0m2 0h0m3 0h0m15 0h0m-59 1h0m2 0h0m21 0h0m11 0h0m19 0h0m6 0h0m-25 1h0m6 0h0m8 0h0m26 0h0m-97 1h0m2 0h0m32 0h0m38 0h0m35 0h0m-106 1h0m74 0h0m21 0h0m-60 1h0m16 0h0m2 0h0m2 0h0m8 0h1m-19 1h0m34 0h0m19 0h0m-62 1h0m4 0h0m4 0h0m39 0h0m19 0h0m-51 1h0m-24 1h0m13 0h0m65 0h0m4 0h0m-103 1h0m93 0h0m5 0h0m12 0h0m-60 1h0m7 0h1m11 0h0m2 0h0m2 0h0m23 0h0m8 0h0m-55 1h0m3 0h0m46 0h0m4 0h0m-32 1h0m10 0h0m8 0h0m-9 1h0m7 0h0m33 0h0m-120 1h0m35 0h0m-33 1h0m5 0h0m53 0h0m17 0h0m21 0h0m22 0h0m-108 1h0m35 0h0m6 0h0m38 0h0m10 0h0m-59 1h0m44 0h0m12 0h0m78 0h0m-139 1h0m9 0h1m14 0h0m36 0h0m-75 1h0m11 0h0m37 0h0m4 0h0m11 0h0m17 0h1m-77 1h0m38 0h0m7 0h0m8 0h0m11 0h0m4 0h0m19 0h0m-107 1h0m15 0h0m8 0h0m37 0h0m2 0h0m16 0h0m20 0h0m-77 1h0m11 0h0m16 0h0m3 0h0m6 0h1m16 0h0m7 0h0m-29 1h0m6 0h0m34 0h0m-74 1h0m6 0h0m16 0h0m8 0h0m4 0h0m-26 1h0m10 0h0m9 1h0m8 0h0m47 0h0m-36 1h0m41 0h0m-74 1h0m2 0h0m34 0h0m86 0h0m-129 1h0m2 0h0m71 0h0m-69 1h0m-22 1h0m17 0h0m62 0h0m17 0h0m-79 1h0m24 0h0m12 0h0m112 0h0m-178 1h0m31 0h0m-45 1h0m47 0h0m11 0h0m5 0h0m31 0h0m-43 1h0m31 0h0m20 0h0m-95 1h0m28 1h0m8 0h0m15 0h0m32 0h0m3 0h0m-129 2h0m66 0h0m8 0h0m5 0h0m43 0h0m33 0h0m-24 1h0m2 0h0m-44 1h0m9 0h0m15 0h0m13 0h0m-23 1h0m11 0h0m7 0h0m-36 1h0m23 0h0m6 0h0m75 0h0m-104 1h0m-13 1h0m0 5h0m39 0h0m6 0h0m-56 1h0m4 0h0m75 1h0m-85 2h0m21 0h0m46 0h0m-38 1h0m2 1h0m11 1h0m5 0h0m-88 1h0m76 1h0m23 1h0m49 1h0m-39 1h0m-26 2h0m13 3h0m-48 6h0m34 0h0m15 1h0m-31 3h0m29 15h0m-1 1h0m6 2h0m-107 14h0m46 0h0m11 0h0m9 0h0m15 0h1m9 0h0m11 0h0m6 0h0m3 0h0m3 0h0m12 0h0m6 0h2m4 0h0m4 0h0m9 0h1" stroke="#707070"/>
<path d="M98 26h0m-11 1h0m14 3h0m42 0h0m-38 7h0m-5 1h0m29 0h0m3 0h0m-24 1h0m12 0h0m5 0h0m-27 1h0m20 0h0m2 0h0m-12 1h1m2 0h0m11 0h0m5 0h0m-37 1h0m22 0h0m5 0h0m8 0h0m-108 1h0m82 0h0m2 0h0m8 0h0m2 0h1m3 0h0m19 0h0m10 0h0m-62 1h0m20 0h1m4 0h0m6 0h0m8 0h0m10 0h0m2 0h0m-70 1h0m29 0h0m14 0h0m7 0h0m3 0h0m2 0h0m3 0h1m8 0h0m10 0h0m-79 1h0m33 0h0m3 0h0m6 0h0m2 0h0m3 0h1m3 0h2m3 0h0m3 0h0m2 0h0m2 0h0m4 0h0m3 0h0m10 0h0m-68 1h0m10 0h0m3 0h1m17 0h0m2 0h0m9 0h0m2 0h0m2 0h0m7 0h0m2 0h0m3 0h0m7 0h0m2 0h0m-43 1h0m4 0h0m2 0h0m2 0h0m2 0h0m2 0h0m5 0h2m2 0h3m3 0h0m2 0h2m2 0h0m2 0h0m5 0h0m5 0h0m3 0h0m-77 1h0m15 0h0m3 0h0m17 0h1m4 0h0m2 0h1m2 0h3m2 0h0m2 0h1m2 0h4m2 0h0m5 0h0m13 0h0m-79 1h0m3 0h0m15 0h0m5 0h0m2 0h0m2 0h0m4 0h1m4 0h4m3 0h0m2 0h1m3 0h0m2 0h1m3 0h0m2 0h2m4 0h1m2 0h2m2 0h2m2 0h0m4 0h0m-75 1h0m15 0h1m3 0h1m5 0h1m5 0h1m2 0h5m2 0h3m2 0h7m3 0h2m3 0h0m2 0h0m5 0h1m4 0h0m6 0h0m-67 1h0m2 0h0m4 0h0m4 0h0m4 0h0m3 0h4m2 0h3m2 0h0m2 0h3m2 0h6m2 0h0m7 0h2m2 0h1m2 0h0m3 0h0m5 0h0m-78 1h0m22 0h0m3 0h4m2 0h0m3 0h0m3 0h6m2 0h1m2 0h0m3 0h4m3 0h0m3 0h0m2 0h2m7 0h0m3 0h0m25 0h0m-117 1h1m16 0h0m6 0h0m11 0h1m2 0h0m2 0h0m4 0h0m4 0h8m3 0h10m2 0h1m2 0h6m2 0h3m2 0h0m2 0h1m-84 1h0m27 0h0m8 0h1m2 0h0m2 0h6m2 0h17m2 0h0m3 0h0m3 0h3m2 0h1m2 0h0m3 0h0m6 0h0m-125 1h0m40 0h0m14 0h0m6 0h0m3 0h1m2 0h0m3 0h6m2 0h8m2 0h1m2 0h6m2 0h9m2 0h2m3 0h1m2 0h1m2 0h0m3 0h0m-104 1h0m11 0h0m33 0h0m5 0h1m3 0h7m3 0h1m2 0h0m2 0h13m2 0h2m2 0h1m2 0h2m2 0h0m10 0h0m-87 1h0m5 0h0m20 0h1m2 0h0m3 0h0m2 0h0m4 0h1m3 0h1m2 0h1m2 0h7m2 0h6m3 0h3m2 0h6m2 0h0m2 0h1m9 0h0m5 0h0m-94 1h0m15 0h0m12 0h0m2 0h2m3 0h0m3 0h4m2 0h22m2 0h3m2 0h4m2 0h2m-115 1h0m37 0h0m3 0h0m7 0h0m6 0h0m5 0h1m4 0h0m2 0h1m2 0h2m2 0h37m2 0h1m6 0h1m-133 1h0m59 0h1m4 0h2m5 0h0m4 0h1m3 0h0m3 0h4m2 0h1m2 0h29m2 0h6m2 0h0m6 0h0m3 0h0m-77 1h0m5 0h0m3 0h0m4 0h0m2 0h1m3 0h0m2 0h1m3 0h1m2 0h27m3 0h5m2 0h0m3 0h1m2 0h0m5 0h0m-74 1h0m2 0h0m3 0h0m6 0h2m4 0h0m4 0h0m3 0h3m2 0h14m2 0h13m3 0h2m5 0h1m-124 1h0m19 0h1m14 0h0m28 0h0m5 0h0m2 0h1m3 0h0m2 0h3m2 0h4m2 0h26m2 0h1m3 0h0m2 0h2m3 0h0m2 0h0m-127 1h0m16 0h0m19 0h0m25 0h0m3 0h1m7 0h0m2 0h1m2 0h0m3 0h0m2 0h30m3 0h1m2 0h1m2 0h0m5 0h0m3 0h0m7 0h0m-104 1h0m28 0h0m2 0h0m4 0h0m5 0h0m5 0h9m2 0h28m3 0h0m2 0h0m2 0h1m-120 1h0m53 0h0m4 0h0m3 0h0m6 0h0m3 0h0m3 0h0m2 0h0m3 0h3m2 0h23m2 0h4m3 0h1m3 0h0m-107 1h0m27 0h0m15 0h0m8 0h0m2 0h0m2 0h0m2 0h2m3 0h3m2 0h4m3 0h1m2 0h9m2 0h0m2 0h15m4 0h0m5 0h0m-98 1h0m7 0h0m8 0h0m6 0h0m8 0h0m4 0h0m3 0h0m5 0h1m2 0h0m3 0h3m2 0h0m2 0h1m2 0h1m2 0h0m2 0h0m2 0h14m4 0h0m2 0h0m4 0h1m7 0h0m5 0h0m-118 1h0m39 0h0m12 0h0m5 0h1m5 0h1m2 0h0m2 0h1m2 0h1m2 0h0m3 0h3m2 0h1m2 0h2m2 0h5m2 0h0m3 0h4m2 0h0m3 0h0m2 0h0m2 0h0m2 0h0m-84 1h0m6 0h0m4 0h1m18 0h0m5 0h0m9 0h0m5 0h5m2 0h8m2 0h3m2 0h1m2 0h0m12 0h1m2 0h0m-74 1h0m3 0h0m14 0h0m3 0h1m4 0h3m3 0h0m3 0h1m2 0h5m4 0h3m7 0h1m3 0h0m6 0h0m4 0h0m-114 1h0m32 0h1m2 0h0m4 0h0m5 0h0m2 0h0m11 0h0m4 0h0m4 0h1m2 0h0m9 0h0m2 0h2m2 0h0m2 0h0m6 0h3m4 0h0m2 0h0m4 0h0m2 0h0m-92 1h0m16 0h0m35 0h3m3 0h0m3 0h2m3 0h2m2 0h3m5 0h0m5 0h0m6 0h0m3 0h1m2 0h0m-69 1h0m3 0h0m17 0h0m2 0h0m3 0h0m3 0h1m4 0h0m3 0h1m3 0h0m3 0h1m4 0h2m8 0h0m2 0h0m5 0h0m4 0h1m-101 1h1m17 0h0m6 0h0m17 0h0m2 0h0m12 0h0m12 0h2m4 0h5m3 0h2m8 0h1m2 0h0m4 0h0m2 0h1m3 0h0m-60 1h0m10 0h0m3 0h0m2 0h0m3 0h1m5 0h0m2 0h0m7 0h0m10 0h0m6 0h0m3 0h0m5 0h0m2 0h0m-112 1h0m33 0h0m11 0h0m6 0h0m3 0h0m5 0h0m9 0h1m5 0h1m10 0h1m5 0h1m2 0h0m4 0h1m4 0h0m13 0h0m-90 1h0m29 0h1m7 0h0m13 0h0m8 0h0m5 0h0m3 0h0m8 0h0m8 0h0m-86 1h0m29 0h1m18 0h1m8 0h0m21 0h0m2 0h0m14 0h0m-71 1h0m12 0h0m20 0h0m4 0h0m2 0h0m3 0h0m4 0h0m-78 1h0m7 0h0m7 0h0m42 0h0m6 0h0m7 0h0m4 0h0m-34 1h0m9 0h0m16 0h0m4 0h1m4 0h0m6 0h0m6 0h0m10 0h0m-80 1h0m11 0h0m18 0h0m11 0h0m4 0h1m4 0h0m9 0h0m9 0h0m3 0h0m15 0h0m-62 1h1m2 0h0m4 0h0m18 0h0m3 0h0m4 0h1m2 0h0m22 0h0m-64 1h1m15 0h0m12 0h0m4 0h0m13 0h0m-25 1h2m-37 1h0m33 0h0m10 0h0m-26 1h0m7 0h0m16 0h0m5 0h0m9 0h0m8 0h0m3 0h0m2 0h0m-87 1h0m27 0h0m5 0h0m53 0h0m-52 1h0m11 0h0m31 0h0m11 0h0m44 0h0m-110 1h0m25 0h0m12 0h1m11 0h0m5 0h0m7 0h0m-23 1h0m7 0h0m17 0h0m22 0h0m-19 1h0m-64 1h0m19 0h0m8 0h0m11 0h0m4 0h0m12 0h0m2 0h0m2 0h0m-70 1h0m73 0h0m14 0h0m-6 1h0m15 0h0m-90 1h0m21 0h0m3 0h0m21 0h0m38 0h0m-67 1h0m17 0h0m4 0h0m34 0h0m2 0h0m4 0h0m28 0h0m-68 1h0m10 0h1m26 0h0m11 0h0m26 0h0m-56 1h0m4 0h0m16 0h0m-85 1h0m63 0h0m6 0h0m-13 1h0m28 0h0m17 0h0m-54 1h0m31 0h0m8 1h0m4 0h0m-47 1h0m17 0h0m4 0h0m-20 1h0m14 0h0m2 0h0m44 0h0m5 0h0m-110 1h0m70 0h0m-25 1h0m11 0h0m32 1h0m-36 1h0m17 0h0m14 0h0m9 0h0m4 0h0m17 0h0m-5 1h0m-44 1h0m3 0h0m7 0h0m17 0h0m12 0h0m-46 1h0m24 0h0m-33 3h0m24 0h0m-41 1h0m6 0h0m39 0h0m16 1h0m-70 1h0m22 0h0m10 0h0m37 1h0m24 0h0m-107 1h0m37 0h0m9 0h0m31 0h0m12 0h0m9 0h0m-30 1h0m-8 1h0m27 0h0m2 1h0m-34 1h0m8 0h0m38 0h0m-26 2h0m-21 1h0m7 0h0m22 0h0m22 0h0m41 0h0m-87 1h0m59 0h0m10 0h0m-101 1h0m34 0h0m19 0h0m25 0h0m-59 1h0m16 0h0m48 1h0m-42 1h0m26 0h0m-75 1h0m9 0h0m31 1h0m56 0h0m40 0h0m-42 1h0m-80 1h0m64 0h0m13 0h0m-48 1h0m18 1h0m23 0h0m9 0h0m3 0h0m13 0h0m-47 1h0m26 0h0m-110 1h0m66 0h0m9 0h0m20 1h0m39 0h0m-105 1h0m9 0h0m94 1h0m-65 1h0m-39 1h0m66 0h0m13 0h0m7 0h0m3 0h1m-80 1h0m-5 1h0m23 0h0m4 1h0m-11 1h0m23 0h0m43 0h0m-25 1h0m9 0h0m11 1h0m-41 1h0m5 0h0m46 0h0m-58 3h0m31 0h0m-81 1h0m52 1h0m-30 1h0m34 1h0m-18 2h0m17 0h0m-26 1h0m20 1h0m40 0h0m-84 1h0m35 2h0m57 1h0m-72 2h0m46 0h0m-47 9h0m29 1h0m-5 1h0m-10 1h0m4 5h0m-8 1h0m-9 1h0m-22 3h0m-53 12h0m61 31h0m5 0h0m7 0h0m3 0h0m3 0h1m3 0h2m8 0h0m13 0h1m4 0h1" stroke="#000"/>
</g>
<rect x="413.6" y="833.3" width="239.2" height="238.4" fill="none" stroke="#444" stroke-width="1.3"/>
<path d="M559.0 833.3V1071.7M413.6 962.5H652.8" stroke="#000" stroke-width="1.9" fill="none"/>
<path d="M406.6 1071.7H413.6M406.6 1027.6H413.6M406.6 983.5H413.6M406.6 939.4H413.6M406.6 895.3H413.6M406.6 851.2H413.6M413.6 1071.7V1078.2M457.7 1071.7V1078.2M501.8 1071.7V1078.2M545.9 1071.7V1078.2M590.0 1071.7V1078.2M634.1 1071.7V1078.2" stroke="#111" stroke-width="2" fill="none"/>
<path d="M410.1 1058.4H413.6M410.1 1050.7H413.6M410.1 1045.1H413.6M410.1 1040.9H413.6M410.1 1037.4H413.6M410.1 1034.4H413.6M410.1 1031.9H413.6M410.1 1029.6H413.6M410.1 1014.3H413.6M410.1 1006.6H413.6M410.1 1001.0H413.6M410.1 996.8H413.6M410.1 993.3H413.6M410.1 990.3H413.6M410.1 987.8H413.6M410.1 985.5H413.6M410.1 970.2H413.6M410.1 962.5H413.6M410.1 956.9H413.6M410.1 952.7H413.6M410.1 949.2H413.6M410.1 946.2H413.6M410.1 943.7H413.6M410.1 941.4H413.6M410.1 926.1H413.6M410.1 918.4H413.6M410.1 912.8H413.6M410.1 908.6H413.6M410.1 905.1H413.6M410.1 902.1H413.6M410.1 899.6H413.6M410.1 897.3H413.6M410.1 882.0H413.6M410.1 874.3H413.6M410.1 868.7H413.6M410.1 864.5H413.6M410.1 861.0H413.6M410.1 858.0H413.6M410.1 855.5H413.6M410.1 853.2H413.6M410.1 837.9H413.6M426.9 1071.7V1075.2M434.6 1071.7V1075.2M440.2 1071.7V1075.2M444.4 1071.7V1075.2M447.9 1071.7V1075.2M450.9 1071.7V1075.2M453.4 1071.7V1075.2M455.7 1071.7V1075.2M471.0 1071.7V1075.2M478.7 1071.7V1075.2M484.3 1071.7V1075.2M488.5 1071.7V1075.2M492.0 1071.7V1075.2M495.0 1071.7V1075.2M497.5 1071.7V1075.2M499.8 1071.7V1075.2M515.1 1071.7V1075.2M522.8 1071.7V1075.2M528.4 1071.7V1075.2M532.6 1071.7V1075.2M536.1 1071.7V1075.2M539.1 1071.7V1075.2M541.6 1071.7V1075.2M543.9 1071.7V1075.2M559.2 1071.7V1075.2M566.9 1071.7V1075.2M572.5 1071.7V1075.2M576.7 1071.7V1075.2M580.2 1071.7V1075.2M583.2 1071.7V1075.2M585.7 1071.7V1075.2M588.0 1071.7V1075.2M603.3 1071.7V1075.2M611.0 1071.7V1075.2M616.6 1071.7V1075.2M620.8 1071.7V1075.2M624.3 1071.7V1075.2M627.3 1071.7V1075.2M629.8 1071.7V1075.2M632.1 1071.7V1075.2M647.4 1071.7V1075.2" stroke="#333" stroke-width="1.1" fill="none"/>
<text x="417.8" y="858.1" font-family="'Liberation Serif', serif" font-size="16.5" font-weight="bold" text-anchor="start" >86,1</text>
<text x="631.1" y="858.1" font-family="'Liberation Serif', serif" font-size="16.5" font-weight="bold" text-anchor="end" >0,93</text>
<text x="417.8" y="1056.4" font-family="'Liberation Serif', serif" font-size="16.5" font-weight="bold" text-anchor="start" >11,4</text>
<text x="631.1" y="1056.4" font-family="'Liberation Serif', serif" font-size="16.5" font-weight="bold" text-anchor="end" >1,60</text>
<g transform="translate(717.5,833.5)" fill="none" stroke-linecap="square" stroke-width="1.4">
<path d="M122 29h1m-6 4h0m-7 1h0m6 0h0m5 0h0m2 0h0m2 0h0m4 0h0m-15 1h0m9 0h0m11 0h0m4 0h0m14 0h0m-24 1h0m3 0h0m22 0h0m6 0h0m-31 1h0m5 0h0m6 0h0m21 0h0m5 0h0m-39 1h0m7 0h0m3 0h1m6 0h0m27 0h0m-60 1h0m6 0h1m8 0h0m23 0h0m10 0h0m4 0h0m-49 1h1m11 0h0m4 0h1m7 0h0m23 0h0m-52 1h0m3 0h0m8 0h0m4 0h0m2 0h0m4 0h1m10 0h0m3 0h0m15 0h0m8 0h0m-61 1h0m9 0h0m8 0h2m22 0h0m8 0h1m14 0h0m-29 1h0m4 0h1m3 0h0m15 0h0m6 0h0m5 0h1m-77 1h0m32 0h0m6 0h0m5 0h1m11 0h0m5 0h0m3 0h0m3 0h0m11 0h0m8 0h0m-74 1h0m8 0h0m6 0h0m53 0h0m-101 1h0m36 0h0m2 0h0m2 0h0m8 0h0m2 0h0m15 0h0m3 0h0m4 0h0m25 0h0m2 0h0m13 0h0m-87 1h0m16 0h0m3 0h3m13 0h0m4 0h0m11 0h0m4 0h0m7 0h0m7 0h1m4 0h0m-76 1h0m15 0h0m8 0h0m11 0h0m3 0h0m8 0h0m10 0h0m5 0h1m7 0h0m-58 1h0m12 0h0m6 0h0m2 0h0m30 0h0m5 0h0m4 0h0m9 0h0m12 0h0m-64 1h0m3 0h0m18 0h0m29 0h0m-63 1h0m3 0h1m11 0h0m36 0h0m9 0h0m5 0h0m-52 1h0m5 0h0m6 0h0m14 0h0m15 0h0m6 0h0m4 0h0m2 0h0m7 0h0m-72 1h0m23 0h0m29 0h0m14 0h0m10 0h0m5 0h0m-85 1h0m9 0h0m10 0h0m47 0h0m3 0h1m5 0h0m-66 1h0m2 0h1m2 0h1m2 0h0m57 0h0m2 0h0m9 0h0m-123 1h0m13 0h0m29 0h0m53 0h0m21 0h0m5 0h0m3 0h0m-125 1h0m32 0h0m7 0h0m68 0h0m2 0h0m3 0h0m7 0h0m4 0h0m-128 1h0m42 0h0m11 0h0m4 0h0m53 0h1m4 0h0m5 0h0m13 0h1m-132 1h0m46 0h0m4 0h0m9 0h0m8 0h0m38 0h1m6 0h0m-70 1h1m16 0h0m54 0h0m8 0h0m3 0h0m8 0h0m-80 1h0m2 0h1m6 0h0m8 0h0m46 0h0m3 0h0m11 0h1m2 0h0m-114 1h0m13 0h0m10 0h0m3 0h0m6 0h0m7 0h0m5 0h0m4 0h0m2 0h0m-57 1h0m3 0h0m33 0h0m6 0h0m2 0h1m8 0h0m39 0h0m23 0h0m-83 1h0m5 0h0m4 0h0m15 0h0m83 0h0m-122 1h1m11 0h0m12 0h0m13 0h0m30 0h0m10 0h0m3 0h0m8 0h0m12 0h0m-149 1h0m51 0h0m23 0h0m9 0h0m6 0h0m2 0h0m17 0h0m22 0h0m5 0h0m3 0h0m2 0h0m-87 1h0m86 0h1m6 0h0m6 0h0m-143 1h0m33 0h0m10 0h0m13 0h0m13 0h0m4 0h0m3 0h0m46 0h0m9 0h0m3 0h0m5 0h0m-134 1h0m39 0h0m7 0h0m10 0h0m10 0h0m9 0h0m4 0h0m23 0h0m11 0h0m5 0h0m3 0h0m13 0h0m6 0h0m-124 1h1m36 0h0m4 0h0m3 0h0m5 0h0m2 0h0m2 0h0m3 0h1m5 0h0m7 0h0m13 0h0m17 0h0m5 0h0m13 0h0m-107 1h0m6 0h0m15 0h0m18 0h0m15 0h1m35 0h0m4 0h1m-69 1h0m33 0h0m13 0h0m19 0h0m29 0h0m8 0h0m-147 1h0m31 0h0m7 0h0m13 0h0m2 0h0m3 0h0m13 0h0m11 0h0m27 0h0m17 0h0m14 0h0m-157 1h0m37 0h0m35 0h0m2 0h0m11 0h0m7 0h0m8 0h0m11 0h0m16 0h0m10 0h1m16 0h0m-144 1h0m24 0h0m36 0h0m4 0h0m24 0h0m7 0h0m8 0h0m2 0h0m-69 1h0m27 0h0m8 0h0m13 0h0m6 0h0m12 0h0m2 0h0m6 0h0m7 0h0m9 0h0m2 0h0m5 0h1m-91 1h0m9 0h0m7 0h0m6 0h0m18 0h0m16 0h0m5 0h0m7 0h0m2 0h2m2 0h0m9 0h0m3 0h0m3 0h0m-107 1h1m23 0h0m23 0h1m9 0h0m2 0h0m3 0h1m9 0h0m8 0h0m3 0h0m4 0h0m8 0h0m17 0h0m-105 1h0m8 0h0m41 0h0m8 0h0m10 0h0m12 0h0m12 0h0m3 0h0m6 0h0m-125 1h0m68 0h0m2 0h0m10 0h0m20 0h0m3 0h0m-68 1h0m10 0h0m11 0h0m8 0h1m6 0h0m4 0h0m8 0h0m6 0h0m8 0h0m5 0h0m8 0h1m16 0h0m-88 1h0m9 0h0m10 0h0m24 0h0m8 0h0m6 0h0m3 0h2m3 0h0m6 0h1m41 0h0m-163 1h0m54 0h0m11 0h0m3 0h0m43 0h0m4 0h0m6 0h0m3 0h0m9 0h0m-113 1h0m52 0h0m2 0h0m2 0h0m10 0h0m4 0h0m15 0h0m16 0h0m5 0h0m4 0h0m-91 1h0m22 0h0m5 0h0m12 0h0m8 0h0m6 0h0m5 0h0m28 0h1m-98 1h0m9 0h0m4 0h0m37 0h0m13 0h0m20 0h0m16 0h0m16 0h0m-141 1h0m60 0h0m5 0h0m13 0h0m6 0h0m19 0h0m6 0h1m3 0h0m-59 1h0m25 0h0m2 0h0m3 0h0m6 0h1m5 0h0m18 0h0m27 0h0m-111 1h0m45 0h0m14 0h0m3 0h0m12 0h0m19 0h0m4 0h0m38 0h0m-169 1h0m62 0h0m3 0h0m7 0h0m3 0h0m4 0h0m6 0h0m12 0h0m25 0h0m6 0h0m28 0h0m-91 1h0m9 0h1m2 0h1m5 0h0m9 0h0m2 0h0m5 0h1m-38 1h0m5 0h0m18 0h0m2 0h0m16 0h0m8 0h0m5 0h0m-138 1h0m17 0h0m25 0h0m11 0h0m3 0h0m25 0h0m19 0h1m3 0h0m5 0h0m20 0h0m13 0h0m23 0h0m-101 1h0m27 0h0m20 0h0m5 0h0m6 0h0m5 0h0m-109 1h0m38 0h0m12 0h0m39 0h0m5 0h0m7 0h0m-61 1h0m19 0h0m9 0h0m5 0h0m8 0h0m4 0h0m4 0h0m21 0h0m8 0h0m5 0h0m-40 1h0m-32 1h0m37 0h0m2 0h0m5 0h0m7 0h1m17 0h0m-86 1h0m39 0h0m6 0h0m4 0h0m8 0h0m19 0h0m5 0h0m4 0h0m-45 1h1m3 0h0m9 0h0m2 0h0m2 0h0m3 0h0m6 0h0m11 0h1m-102 1h0m29 0h0m28 0h0m12 0h1m21 0h0m12 0h0m-46 1h0m5 0h0m5 0h0m2 0h0m11 0h0m13 0h0m2 0h0m6 0h0m-26 1h0m2 0h0m2 0h1m2 0h0m5 0h0m9 0h0m-32 1h1m12 0h0m10 0h0m4 0h0m13 0h0m-30 1h1m4 0h0m12 0h0m2 0h0m2 0h0m3 0h0m6 0h1m-37 1h0m10 0h0m8 0h0m5 0h0m47 0h0m-128 1h0m39 0h0m15 0h1m9 0h0m12 0h0m10 0h0m-38 1h0m4 0h0m16 0h1m6 0h0m8 0h1m4 0h0m-35 1h0m16 0h0m7 0h0m2 0h0m4 0h1m-42 1h0m9 0h0m11 0h0m2 0h0m6 0h0m18 0h0m-25 1h0m11 0h0m17 0h0m3 0h0m-42 1h0m3 0h0m6 0h0m14 0h0m9 0h0m-75 1h0m31 0h0m40 1h0m38 0h0m-58 1h3m8 0h0m17 0h0m8 0h0m-25 1h0m18 0h0m-35 1h0m6 0h0m7 0h0m6 0h0m4 0h0m14 0h0m-37 1h0m13 0h0m11 0h0m4 0h0m-39 1h0m9 0h0m23 2h0m6 0h0m-18 1h0m-55 1h0m75 0h0m-2 1h0m-35 1h0m4 0h0m18 0h0m-10 1h0m11 0h0m5 0h0m-16 2h0m7 0h0m-34 1h0m12 1h0m17 0h0m-3 1h0m1 1h0m10 1h0m21 0h0m-43 1h0m18 0h0m6 0h0m-17 2h0m24 0h0m13 2h0m-47 1h0m15 0h0m-30 1h0m33 0h0m-16 1h0m21 0h0m5 0h0m-3 2h0m-23 1h0m3 0h0m2 0h0m8 1h0m5 0h0m-15 1h0m18 1h0m37 0h0m-77 1h0m24 1h0m5 0h0m10 3h0m5 0h0m-19 3h0m19 0h0m-48 1h0m25 5h0m2 2h0m-17 6h0m39 1h0m-23 8h0m-5 5h0m-104 9h0m119 5h0m-24 39h1m5 0h0m20 0h0m13 0h0m3 0h0m6 0h0m3 0h0" stroke="#bdbdbd"/>
<path d="M113 22h0m31 2h0m7 1h0m-16 3h0m-3 1h0m-8 1h0m2 0h0m11 0h0m5 0h0m17 0h0m-44 1h0m47 0h0m-63 1h0m35 1h0m12 1h0m22 0h0m-47 1h0m15 0h0m11 0h3m-29 1h1m4 0h0m19 0h0m21 0h0m-40 1h0m16 0h0m3 0h0m2 0h0m30 0h0m-58 1h0m8 0h0m13 0h0m5 0h0m10 0h0m5 0h0m6 0h0m-48 1h0m5 0h0m3 0h0m4 0h1m5 0h0m9 0h0m12 0h0m2 0h0m14 0h0m-39 1h0m7 0h0m2 0h0m3 0h0m3 0h1m3 0h0m6 0h0m8 0h0m5 0h0m2 0h0m4 0h0m-57 1h1m20 0h0m15 0h0m5 0h0m-54 1h0m9 0h0m24 0h0m6 0h0m9 0h0m2 0h0m9 0h0m-72 1h0m23 0h0m13 0h0m2 0h0m21 0h0m3 0h0m4 0h0m16 0h0m-55 1h0m6 0h0m3 0h0m4 0h0m27 0h0m6 0h1m7 0h0m5 0h0m-73 1h0m13 0h0m3 0h0m3 0h0m7 0h0m2 0h0m3 0h0m4 0h0m2 0h2m25 0h0m-60 1h0m8 0h0m6 0h0m7 0h0m4 0h0m29 0h0m7 0h0m2 0h0m3 0h0m2 0h0m-71 1h0m2 0h2m5 0h0m6 0h0m6 0h0m3 0h0m18 0h0m7 0h0m7 0h0m11 0h0m7 0h0m-21 1h0m2 0h0m-63 1h0m47 0h0m7 0h0m8 0h0m6 0h0m7 0h0m-91 1h0m20 0h0m20 0h0m11 0h0m12 0h0m6 0h0m10 0h0m-66 1h0m17 0h0m3 0h0m14 0h0m8 0h0m25 0h0m4 0h0m4 0h0m5 0h0m5 0h0m-73 1h0m10 0h0m4 0h0m5 0h0m2 0h0m24 0h0m15 0h0m10 0h0m-66 1h0m13 0h1m47 0h0m8 0h0m-72 1h0m16 0h0m34 0h0m3 0h0m16 0h0m-118 1h0m43 0h0m3 0h0m3 0h0m2 0h1m18 0h0m20 0h0m-49 1h0m9 0h0m7 0h0m52 0h2m2 0h0m12 0h0m3 0h0m-83 1h0m2 0h0m5 0h0m2 0h0m2 0h0m2 0h0m2 0h0m6 0h0m54 0h0m10 0h0m-86 1h0m3 0h0m4 0h0m19 0h0m36 0h0m3 0h0m4 0h1m2 0h0m5 0h0m-66 1h0m9 0h0m46 0h0m-72 1h0m11 0h0m-31 1h0m2 0h0m24 0h0m6 0h0m8 0h0m3 0h1m16 0h0m38 0h0m8 0h1m3 0h0m5 0h0m-86 1h0m9 0h0m11 0h0m2 0h0m57 0h0m-91 1h0m6 0h0m11 0h0m4 0h0m6 0h1m51 0h0m2 0h0m8 0h0m-101 1h0m32 0h0m35 0h0m24 0h0m10 0h0m5 0h1m-112 1h0m2 0h0m36 0h0m2 0h0m5 0h0m5 0h0m5 0h0m2 0h0m25 0h0m3 0h0m6 0h0m3 0h0m-68 1h0m4 0h0m5 0h0m62 0h0m44 0h0m-163 1h0m6 0h0m28 0h0m24 0h1m2 0h0m5 0h0m2 0h1m2 0h0m40 0h0m11 0h0m-120 1h0m73 0h0m3 0h0m7 0h0m3 0h0m8 0h0m23 0h0m5 0h0m19 0h0m-135 1h0m8 0h0m8 0h0m32 0h0m5 0h0m3 0h0m2 0h0m2 0h0m45 0h0m6 0h0m4 0h0m-135 1h0m67 0h0m10 0h0m8 0h0m3 0h0m2 0h0m8 0h0m39 0h0m8 0h0m-117 1h0m37 0h0m4 0h0m3 0h1m8 0h1m37 0h1m3 0h0m3 0h0m19 0h0m-93 1h0m3 0h0m18 0h0m3 0h0m16 0h0m7 0h1m2 0h0m4 0h0m9 0h1m8 0h0m12 0h0m8 0h0m11 0h0m-120 1h0m4 0h0m14 0h0m13 0h0m24 0h0m5 0h1m12 0h0m2 0h0m12 0h1m9 0h0m6 0h0m3 0h0m2 0h0m-101 1h0m9 0h0m9 0h0m12 0h0m5 0h0m5 0h0m3 0h1m2 0h0m9 0h0m6 0h1m5 0h0m13 0h0m6 0h0m20 0h0m-101 1h0m30 0h0m6 0h0m7 0h0m10 0h1m7 0h0m5 0h0m2 0h0m7 0h0m4 0h0m2 0h0m12 0h0m9 0h0m-85 1h0m9 0h0m8 0h0m2 0h0m6 0h1m2 0h0m12 0h0m5 0h0m5 0h0m6 0h1m3 0h0m5 0h0m5 0h0m2 0h0m5 0h0m-96 1h0m10 0h0m14 0h0m7 0h0m2 0h0m3 0h0m9 0h0m6 0h0m2 0h0m7 0h0m6 0h0m3 0h1m10 0h0m4 0h0m10 0h0m4 0h0m-80 1h0m9 0h0m31 0h0m12 0h0m7 0h0m10 0h0m4 0h2m2 0h0m2 0h1m12 0h0m-166 1h0m26 0h0m8 0h0m56 0h0m4 0h1m2 0h0m2 0h1m11 0h0m6 0h0m5 0h0m4 0h0m3 0h0m5 0h0m6 0h0m4 0h0m12 0h0m-133 1h0m67 0h0m12 0h0m6 0h1m3 0h1m4 0h0m16 0h0m10 0h0m4 0h0m32 0h0m-132 1h0m47 0h1m4 0h2m2 0h0m3 0h0m3 0h0m10 0h0m2 0h0m10 0h0m11 0h0m-104 1h0m7 0h0m23 0h0m27 0h0m3 0h0m16 0h2m16 0h0m7 0h0m9 0h0m-97 1h0m18 0h0m30 0h2m3 0h1m6 0h0m17 0h0m11 0h0m21 0h0m-134 1h0m72 0h0m2 0h1m4 0h0m4 0h0m2 0h0m3 0h0m3 0h0m6 0h0m4 0h0m25 0h0m-85 1h1m20 0h0m4 0h0m12 0h0m5 0h0m5 0h0m2 0h1m11 0h0m3 0h0m15 0h0m24 0h0m-160 1h0m27 0h0m29 0h0m21 0h0m33 0h0m2 0h0m10 0h0m-99 1h0m40 0h0m13 0h0m26 0h0m14 0h0m11 0h0m9 0h0m-110 1h0m13 0h0m7 0h0m20 0h0m6 0h0m2 0h0m11 0h0m3 0h0m12 0h1m11 0h0m5 0h0m4 0h0m8 0h0m2 0h0m-49 1h0m10 0h0m4 0h0m15 0h0m9 0h0m2 0h0m18 0h0m13 0h0m-136 1h0m35 0h0m13 0h0m5 0h0m3 0h0m11 0h0m4 0h0m2 0h0m9 0h0m4 0h1m3 0h0m5 0h0m3 0h0m7 0h0m3 0h0m22 0h0m-133 1h0m45 0h0m4 0h0m13 0h0m14 0h0m10 0h0m6 0h0m2 0h1m3 0h0m2 0h0m5 0h0m10 0h0m-94 1h0m12 0h0m7 0h0m24 0h0m6 0h0m8 0h0m2 0h0m2 0h0m13 0h0m17 0h0m4 0h0m6 0h0m-125 1h0m37 0h0m4 0h0m14 0h0m37 0h0m13 0h0m21 0h0m-127 1h0m10 0h0m18 0h0m42 0h0m19 0h0m-28 1h0m4 0h0m28 0h0m2 0h0m4 0h0m-90 1h0m44 0h0m13 0h0m10 0h0m6 0h0m21 0h0m-72 1h0m41 0h0m16 0h0m9 0h0m18 0h0m-83 1h0m36 0h0m22 0h0m13 0h0m4 0h0m23 0h0m-114 1h0m52 0h0m4 0h0m16 0h0m4 0h0m2 0h0m9 0h0m3 0h0m2 0h0m8 0h0m-50 1h0m7 0h1m41 0h0m-89 1h0m27 0h0m5 0h0m21 0h0m7 0h0m3 0h0m6 0h0m6 0h0m-92 1h0m83 0h0m5 0h0m10 0h0m9 0h0m-76 1h0m34 0h0m29 0h0m-41 1h0m6 0h0m2 0h0m11 0h0m8 0h0m3 0h0m13 0h0m44 0h0m-104 1h0m15 0h0m37 0h0m21 0h0m-54 1h0m8 0h0m3 0h0m6 0h0m2 0h0m4 0h0m-59 1h0m18 0h0m32 0h0m13 0h0m9 0h0m-65 1h0m10 0h0m24 0h0m3 0h0m11 0h0m-27 1h0m14 0h0m3 0h0m4 0h0m12 0h0m13 0h0m-25 1h0m6 0h0m-85 1h0m82 0h0m14 0h1m-37 1h0m8 0h0m2 0h0m15 0h0m-18 1h0m6 0h0m13 0h0m11 0h1m-43 1h0m52 0h0m-48 2h0m21 0h0m12 0h0m-36 1h0m5 0h0m12 0h0m21 0h0m2 0h0m-50 1h0m28 0h0m13 0h0m13 0h0m-35 1h0m5 0h0m4 0h0m-29 1h0m13 0h0m10 0h0m21 0h1m2 0h0m15 0h0m0 1h0m-42 1h0m5 0h0m25 0h0m-26 1h0m-14 2h0m16 0h0m14 0h0m-10 1h0m22 1h0m-12 1h0m-35 1h0m18 1h0m5 1h0m-6 1h0m18 0h0m-33 3h0m12 0h0m9 0h0m6 0h0m0 1h0m-23 1h0m16 1h0m18 0h0m-17 1h1m-14 2h0m-22 1h0m25 0h0m-22 1h0m15 3h0m25 1h0m-20 1h0m-10 1h0m-12 1h0m22 1h0m6 3h0m-19 1h0m15 0h0m10 1h0m-10 1h0m25 1h0m-23 1h0m12 0h0m-6 1h0m2 0h0m34 0h0m-45 1h0m-21 9h0m19 1h0m21 1h0m-13 3h0m-23 1h0m25 3h0m14 3h0m-40 2h0m40 1h0m-15 50h0m-77 1h0m58 0h0m3 0h0m4 0h0m4 0h0m5 0h0m15 0h0m22 0h0m10 0h0m7 0h0" stroke="#707070"/>
<path d="M132 27h0m-20 2h0m24 0h0m2 0h0m-2 1h0m9 0h0m-15 2h0m19 0h0m-65 1h0m31 0h0m29 1h0m-16 1h0m3 0h0m-24 1h0m20 0h0m6 0h0m7 0h0m4 0h0m7 0h0m13 0h0m-50 1h0m11 0h0m7 1h0m10 0h0m2 0h0m4 0h0m8 0h0m-27 1h0m3 0h0m12 0h0m2 0h0m9 0h0m-24 1h0m5 0h0m2 0h0m7 0h0m2 0h0m4 0h1m5 0h0m11 0h0m-50 1h0m17 0h2m4 0h0m3 0h0m2 0h3m3 0h0m18 0h0m-54 1h0m4 0h0m5 0h1m4 0h0m4 0h4m2 0h0m2 0h2m5 0h0m2 0h0m11 0h0m3 0h0m-50 1h0m13 0h1m6 0h4m2 0h1m4 0h0m3 0h0m2 0h2m2 0h1m2 0h0m2 0h0m2 0h0m2 0h4m-55 1h0m8 0h0m3 0h0m3 0h0m6 0h1m3 0h2m4 0h1m2 0h4m2 0h0m4 0h0m3 0h1m14 0h0m-72 1h0m24 0h0m3 0h0m3 0h0m3 0h0m3 0h0m2 0h1m3 0h0m4 0h5m2 0h8m6 0h0m-63 1h0m10 0h0m2 0h1m2 0h0m3 0h0m3 0h5m2 0h2m2 0h1m2 0h1m2 0h2m2 0h12m2 0h0m2 0h1m2 0h0m-42 1h4m2 0h1m2 0h0m2 0h2m2 0h9m3 0h1m2 0h2m2 0h0m3 0h0m2 0h0m-78 1h0m28 0h0m4 0h1m2 0h2m3 0h0m2 0h1m6 0h6m2 0h8m2 0h3m3 0h1m3 0h0m4 0h0m7 0h0m-65 1h0m3 0h1m2 0h0m5 0h2m2 0h0m2 0h0m4 0h3m2 0h12m2 0h5m2 0h0m2 0h1m2 0h0m3 0h1m2 0h1m3 0h0m2 0h0m-52 1h0m3 0h0m3 0h2m2 0h4m2 0h6m2 0h2m2 0h4m2 0h8m2 0h2m3 0h1m-90 1h0m24 0h0m14 0h0m4 0h1m2 0h4m3 0h6m2 0h19m2 0h2m2 0h1m4 0h1m4 0h0m4 0h0m5 0h0m-86 1h1m5 0h0m11 0h1m2 0h0m3 0h0m3 0h0m5 0h0m2 0h1m3 0h11m2 0h5m2 0h2m2 0h2m2 0h2m2 0h0m4 0h0m2 0h0m3 0h0m2 0h0m4 0h0m5 0h0m-77 1h0m4 0h0m3 0h0m3 0h1m3 0h1m3 0h1m2 0h0m2 0h27m2 0h6m2 0h0m3 0h0m3 0h1m-71 1h0m3 0h0m10 0h0m2 0h2m2 0h0m2 0h32m2 0h1m2 0h6m2 0h1m4 0h0m5 0h0m-105 1h0m31 0h0m13 0h0m3 0h6m2 0h18m2 0h24m-63 1h0m4 0h0m2 0h4m2 0h0m2 0h1m2 0h31m2 0h4m2 0h0m4 0h0m3 0h1m3 0h0m-69 1h0m5 0h0m4 0h0m2 0h4m3 0h38m2 0h3m2 0h0m2 0h1m7 0h0m-73 1h0m6 0h0m2 0h1m2 0h8m2 0h34m2 0h1m4 0h0m6 0h0m19 0h0m-87 1h0m3 0h0m7 0h0m3 0h0m2 0h1m2 0h0m2 0h36m3 0h0m2 0h2m4 0h0m-109 1h0m47 0h1m2 0h0m2 0h0m3 0h17m2 0h18m2 0h8m3 0h0m4 0h1m3 0h0m3 0h0m-114 1h0m49 0h0m5 0h3m2 0h1m2 0h5m2 0h35m7 0h0m-120 1h0m26 0h0m28 0h0m3 0h0m4 0h0m4 0h0m5 0h7m2 0h30m2 0h0m2 0h0m2 0h1m2 0h0m3 0h2m4 0h1m-86 1h0m2 0h1m15 0h0m3 0h1m2 0h37m2 0h6m3 0h0m2 0h0m14 0h0m-133 1h0m50 0h0m10 0h2m2 0h3m2 0h1m2 0h19m2 0h19m2 0h1m2 0h0m2 0h1m7 0h0m9 0h0m-130 1h0m46 0h0m11 0h0m3 0h0m5 0h2m3 0h0m2 0h20m2 0h1m2 0h1m2 0h2m2 0h0m3 0h0m2 0h1m5 0h1m-140 1h0m40 0h0m37 0h1m3 0h2m2 0h4m2 0h0m2 0h15m2 0h19m3 0h2m3 0h0m6 0h1m2 0h0m-90 1h0m16 0h0m7 0h1m3 0h0m5 0h0m2 0h0m3 0h33m3 0h3m3 0h2m2 0h0m4 0h0m6 0h0m-74 1h0m2 0h1m6 0h0m3 0h3m2 0h1m3 0h4m2 0h1m2 0h6m2 0h18m2 0h1m3 0h1m7 0h0m-71 1h0m2 0h0m3 0h0m6 0h1m2 0h0m3 0h2m2 0h0m2 0h19m2 0h9m3 0h2m2 0h0m3 0h1m3 0h0m10 0h0m12 0h0m-162 1h0m69 0h0m13 0h0m2 0h1m4 0h1m4 0h1m2 0h1m2 0h0m2 0h9m2 0h9m2 0h4m3 0h1m3 0h0m3 0h1m3 0h0m7 0h0m-121 1h0m41 0h0m5 0h0m6 0h1m6 0h1m2 0h1m2 0h0m3 0h0m2 0h4m2 0h17m3 0h1m2 0h1m4 0h0m5 0h0m3 0h1m-77 1h0m5 0h1m10 0h0m3 0h0m3 0h0m2 0h4m2 0h0m2 0h2m2 0h1m3 0h0m2 0h2m2 0h1m2 0h4m3 0h1m2 0h3m2 0h1m3 0h0m4 0h1m-103 1h0m44 0h1m8 0h1m3 0h1m3 0h2m3 0h0m3 0h4m2 0h1m4 0h1m3 0h4m2 0h0m6 0h0m2 0h0m4 0h0m7 0h0m-121 1h0m18 0h0m29 0h0m12 0h0m2 0h0m9 0h0m4 0h2m3 0h0m2 0h2m3 0h0m3 0h0m3 0h7m3 0h0m6 0h0m2 0h1m2 0h0m2 0h1m3 0h0m8 0h0m-74 1h0m4 0h0m8 0h0m2 0h0m2 0h0m4 0h4m3 0h0m6 0h0m2 0h0m2 0h1m6 0h3m2 0h0m2 0h2m2 0h0m8 0h0m2 0h0m-63 1h0m11 0h0m9 0h0m2 0h0m4 0h1m4 0h1m9 0h0m3 0h0m5 0h0m9 0h0m13 0h0m-66 1h0m8 0h2m2 0h0m2 0h1m3 0h0m3 0h4m2 0h0m4 0h0m2 0h0m5 0h0m2 0h0m2 0h0m7 0h0m17 0h1m-124 1h0m66 0h1m3 0h0m2 0h0m4 0h0m3 0h1m2 0h1m2 0h5m4 0h0m2 0h2m3 0h0m3 0h0m2 0h0m3 0h0m-49 1h0m3 0h0m6 0h1m3 0h2m4 0h2m4 0h0m2 0h0m3 0h0m2 0h0m3 0h0m2 0h0m3 0h0m3 0h2m4 0h0m7 0h0m5 0h0m4 0h0m-105 1h0m40 0h0m11 0h0m11 0h1m2 0h1m2 0h0m3 0h1m7 0h0m4 0h1m2 0h1m8 0h0m-51 1h0m7 0h0m4 0h0m3 0h0m3 0h0m4 0h0m14 0h1m-102 1h0m69 0h0m3 0h0m2 0h0m5 0h2m10 0h0m2 0h0m5 0h1m12 0h0m4 0h0m-82 1h0m28 0h0m3 0h0m8 0h0m5 0h0m9 0h0m3 0h1m4 0h1m21 0h0m-72 1h0m5 0h0m5 0h0m12 0h0m7 0h0m4 0h0m18 0h0m4 0h1m2 0h0m11 0h0m-120 1h0m76 0h0m3 0h0m2 0h0m10 0h0m4 0h0m5 0h0m3 0h0m10 0h0m22 0h0m-89 1h0m25 0h0m6 0h1m3 0h0m8 0h0m3 0h0m7 0h0m7 0h0m14 0h0m-112 1h0m49 0h0m4 0h0m5 0h0m2 0h0m2 0h0m15 0h0m11 0h0m4 0h0m17 0h0m2 0h0m-52 1h1m8 0h1m3 0h0m2 0h0m12 0h0m15 0h1m-95 1h0m37 0h0m20 0h0m3 0h0m5 0h1m8 0h1m2 0h0m-25 1h0m4 0h0m8 0h1m3 0h0m3 0h0m-15 1h0m3 0h0m32 0h0m28 0h0m-129 1h0m61 0h0m18 0h0m2 0h1m3 0h0m-50 1h0m14 0h0m2 0h0m20 0h0m2 0h0m5 0h0m2 0h1m6 0h0m2 0h0m11 0h0m-50 1h0m13 0h0m2 0h0m2 0h1m3 0h1m3 0h0m6 0h0m16 0h0m-53 1h0m19 0h0m2 0h0m9 0h0m4 0h0m2 0h0m11 0h0m8 0h0m-41 1h1m12 0h0m7 0h0m2 0h0m2 0h0m7 0h0m4 0h0m-43 1h0m2 0h0m7 0h0m3 0h0m3 0h1m7 0h0m8 0h0m5 0h0m5 0h0m-35 1h0m5 0h0m9 0h0m2 0h1m4 0h1m4 0h0m11 0h0m33 0h0m-60 1h0m3 0h0m19 0h1m-78 1h0m55 0h1m9 0h1m5 0h0m-32 1h0m2 0h0m3 0h0m3 0h0m7 0h0m3 0h0m3 0h0m5 0h0m2 0h0m11 0h0m-23 1h1m12 0h1m2 0h0m3 0h0m-30 1h0m4 0h1m2 0h0m19 0h0m19 0h0m-98 1h0m62 0h0m5 0h0m2 0h0m4 0h0m-15 1h0m8 0h0m15 0h0m9 0h0m-30 1h0m5 0h0m12 0h0m-25 1h0m4 0h0m8 0h0m-14 1h0m9 0h1m11 0h0m61 0h0m-74 1h0m7 0h0m32 0h0m-53 1h0m-15 1h0m41 0h0m5 0h0m-37 1h0m24 0h0m6 0h0m-7 1h0m16 1h0m19 0h0m-24 1h0m-4 2h0m11 0h0m-14 2h0m19 0h0m-29 2h0m-1 1h0m18 0h0m-27 1h0m9 0h0m25 0h0m-28 1h0m3 0h0m10 4h0m-10 1h0m-4 3h0m32 0h0m-55 1h0m14 2h0m-9 1h0m21 2h0m-2 2h0m7 1h0m-2 3h0m12 0h0m-13 2h0m-3 1h0m18 0h0m-21 1h0m2 2h0m-16 1h0m16 0h0m3 0h0m13 0h0m0 2h0m-16 5h0m2 24h0m10 0h0m-34 54h0m12 0h0m18 0h0" stroke="#000"/>
</g>
<rect x="716.6" y="833.3" width="239.2" height="238.4" fill="none" stroke="#444" stroke-width="1.3"/>
<path d="M824.4 833.3V1071.7M716.6 962.5H955.8" stroke="#000" stroke-width="1.9" fill="none"/>
<path d="M709.6 1071.7H716.6M709.6 1027.6H716.6M709.6 983.5H716.6M709.6 939.4H716.6M709.6 895.3H716.6M709.6 851.2H716.6M716.6 1071.7V1078.2M760.7 1071.7V1078.2M804.8 1071.7V1078.2M848.9 1071.7V1078.2M893.0 1071.7V1078.2M937.1 1071.7V1078.2" stroke="#111" stroke-width="2" fill="none"/>
<path d="M713.1 1058.4H716.6M713.1 1050.7H716.6M713.1 1045.1H716.6M713.1 1040.9H716.6M713.1 1037.4H716.6M713.1 1034.4H716.6M713.1 1031.9H716.6M713.1 1029.6H716.6M713.1 1014.3H716.6M713.1 1006.6H716.6M713.1 1001.0H716.6M713.1 996.8H716.6M713.1 993.3H716.6M713.1 990.3H716.6M713.1 987.8H716.6M713.1 985.5H716.6M713.1 970.2H716.6M713.1 962.5H716.6M713.1 956.9H716.6M713.1 952.7H716.6M713.1 949.2H716.6M713.1 946.2H716.6M713.1 943.7H716.6M713.1 941.4H716.6M713.1 926.1H716.6M713.1 918.4H716.6M713.1 912.8H716.6M713.1 908.6H716.6M713.1 905.1H716.6M713.1 902.1H716.6M713.1 899.6H716.6M713.1 897.3H716.6M713.1 882.0H716.6M713.1 874.3H716.6M713.1 868.7H716.6M713.1 864.5H716.6M713.1 861.0H716.6M713.1 858.0H716.6M713.1 855.5H716.6M713.1 853.2H716.6M713.1 837.9H716.6M729.9 1071.7V1075.2M737.6 1071.7V1075.2M743.2 1071.7V1075.2M747.4 1071.7V1075.2M750.9 1071.7V1075.2M753.9 1071.7V1075.2M756.4 1071.7V1075.2M758.7 1071.7V1075.2M774.0 1071.7V1075.2M781.7 1071.7V1075.2M787.3 1071.7V1075.2M791.5 1071.7V1075.2M795.0 1071.7V1075.2M798.0 1071.7V1075.2M800.5 1071.7V1075.2M802.8 1071.7V1075.2M818.1 1071.7V1075.2M825.8 1071.7V1075.2M831.4 1071.7V1075.2M835.6 1071.7V1075.2M839.1 1071.7V1075.2M842.1 1071.7V1075.2M844.6 1071.7V1075.2M846.9 1071.7V1075.2M862.2 1071.7V1075.2M869.9 1071.7V1075.2M875.5 1071.7V1075.2M879.7 1071.7V1075.2M883.2 1071.7V1075.2M886.2 1071.7V1075.2M888.7 1071.7V1075.2M891.0 1071.7V1075.2M906.3 1071.7V1075.2M914.0 1071.7V1075.2M919.6 1071.7V1075.2M923.8 1071.7V1075.2M927.3 1071.7V1075.2M930.3 1071.7V1075.2M932.8 1071.7V1075.2M935.1 1071.7V1075.2M950.4 1071.7V1075.2" stroke="#333" stroke-width="1.1" fill="none"/>
<text x="720.8" y="858.1" font-family="'Liberation Serif', serif" font-size="16.5" font-weight="bold" text-anchor="start" >5,91</text>
<text x="934.1" y="858.1" font-family="'Liberation Serif', serif" font-size="16.5" font-weight="bold" text-anchor="end" >90,9</text>
<text x="720.8" y="1056.4" font-family="'Liberation Serif', serif" font-size="16.5" font-weight="bold" text-anchor="start" >1,91</text>
<text x="934.1" y="1056.4" font-family="'Liberation Serif', serif" font-size="16.5" font-weight="bold" text-anchor="end" >1,24</text>
<rect x="118.0" y="1097.0" width="234.7" height="7.0" fill="#000"/>
<rect x="415.0" y="1097.0" width="239.3" height="7.0" fill="#000"/>
<rect x="717.8" y="1097.0" width="239.0" height="7.0" fill="#000"/>
<text x="183.5" y="1138.7" font-family="'Liberation Serif', serif" font-size="29.5" font-weight="normal" text-anchor="start"  textLength="102.8" lengthAdjust="spacingAndGlyphs">NKG2A</text>
<text x="482.5" y="1139.4" font-family="'Liberation Serif', serif" font-size="29.5" font-weight="normal" text-anchor="start"  textLength="99.9" lengthAdjust="spacingAndGlyphs">NKG2C</text>
<text x="784.4" y="1139.4" font-family="'Liberation Serif', serif" font-size="29.5" font-weight="normal" text-anchor="start"  textLength="101.5" lengthAdjust="spacingAndGlyphs">NKG2D</text>
<g transform="translate(113.5,1159.5)" fill="none" stroke-linecap="square" stroke-width="1.4">
<path d="M124 26h0m-2 2h0m39 2h0m-64 1h0m14 0h0m-10 2h0m16 1h0m8 0h0m20 2h0m-92 1h0m51 0h0m-66 1h0m75 0h0m7 0h0m-26 1h0m5 0h0m13 0h0m7 0h0m6 0h0m13 0h0m-112 1h0m39 0h0m33 0h0m12 0h0m11 0h0m-81 1h0m71 0h0m2 0h0m6 0h0m10 0h1m2 0h0m7 0h0m7 0h0m-80 1h0m12 0h0m15 0h0m5 0h0m4 0h0m2 0h0m11 0h0m15 0h1m-57 1h0m20 0h0m7 0h0m5 0h0m2 0h0m5 0h0m3 0h0m4 0h0m7 0h0m18 0h0m-44 1h0m5 0h0m9 0h0m4 0h0m-88 1h0m18 0h0m29 0h0m3 0h0m6 0h0m6 0h0m5 0h0m11 0h0m2 0h0m2 0h0m11 0h0m4 0h1m5 0h0m4 0h0m-104 1h0m38 0h0m8 0h0m2 0h0m29 0h0m6 0h0m16 0h0m-39 1h0m6 0h0m15 0h0m22 0h0m-81 1h0m29 0h0m4 0h1m3 0h0m2 0h0m25 0h1m10 0h0m5 0h0m8 0h0m-136 1h0m57 0h1m40 0h0m3 0h0m9 0h0m7 0h1m10 0h0m2 0h0m5 0h0m6 0h0m-110 1h0m6 0h0m20 0h0m13 0h0m8 0h0m6 0h1m7 0h0m20 0h0m10 0h0m5 0h0m6 0h0m9 0h0m3 0h0m-131 1h0m58 0h0m15 0h0m5 0h0m19 0h0m2 0h1m6 0h0m9 0h0m10 0h0m-72 1h0m5 0h0m12 0h0m8 0h1m17 0h0m7 0h0m14 0h0m2 0h0m17 0h0m-76 1h0m7 0h0m5 0h0m11 0h1m2 0h0m30 0h0m12 0h0m-124 1h0m9 0h0m9 0h0m4 0h0m27 0h0m5 0h0m2 0h0m12 0h0m20 0h0m2 0h0m15 0h1m8 0h0m6 0h0m3 0h0m-89 1h0m9 0h0m5 0h0m15 0h0m9 0h0m4 0h0m21 0h0m2 0h0m13 0h1m-80 1h0m10 0h0m16 0h0m22 0h0m15 0h3m-99 1h0m16 0h0m5 0h1m13 0h0m13 0h0m2 0h0m9 0h1m49 0h0m4 0h0m3 0h0m8 0h0m-101 1h0m5 0h0m9 0h0m7 0h1m12 0h0m3 0h0m83 0h0m-88 1h0m2 0h0m7 0h0m2 0h0m2 0h0m2 0h0m18 0h0m18 0h0m8 0h0m-97 1h0m2 0h0m8 0h0m15 0h0m11 0h0m8 0h0m48 0h0m7 0h0m-111 1h0m13 0h0m11 0h0m2 0h0m14 0h0m7 0h1m2 0h0m49 0h1m17 0h0m5 0h0m5 0h0m-125 1h0m15 0h0m4 0h0m11 0h0m11 0h0m2 0h0m4 0h0m2 0h0m9 0h0m5 0h0m37 0h0m4 0h1m3 0h0m3 0h0m4 0h0m3 0h1m-114 1h0m29 0h0m6 0h2m30 0h0m34 0h0m2 0h0m2 0h0m11 0h1m4 0h0m-136 1h0m18 0h0m8 0h0m5 0h0m8 0h0m19 0h0m5 0h0m6 0h0m35 0h0m6 0h1m3 0h0m8 0h1m-114 1h0m33 0h0m13 0h0m3 0h0m4 0h0m4 0h0m5 0h1m43 0h1m10 0h0m3 0h0m-115 1h0m9 0h0m5 0h1m27 0h0m16 0h0m35 0h0m2 0h0m16 0h0m-90 1h0m2 0h0m10 0h0m11 0h0m8 0h0m26 0h0m26 0h0m7 0h0m-103 1h1m13 0h0m9 0h0m2 0h0m2 0h2m5 0h0m7 0h0m6 0h0m58 0h0m-121 1h0m9 0h1m5 0h0m4 0h1m6 0h0m12 0h0m24 0h0m36 0h0m11 0h0m2 0h0m28 0h0m-126 1h0m13 0h0m8 0h0m2 0h0m5 0h0m12 0h0m4 0h0m32 0h0m8 0h0m4 0h0m9 0h0m2 0h1m6 0h0m2 0h0m8 0h0m-122 1h0m9 0h0m11 0h0m15 0h1m22 0h0m39 0h0m6 0h1m6 0h0m13 0h0m-128 1h0m6 0h0m12 0h0m3 0h0m5 0h0m3 0h0m3 0h0m7 0h0m12 0h0m6 0h1m7 0h0m3 0h0m6 0h0m14 0h0m42 0h0m-138 1h0m12 0h0m5 0h1m13 0h0m11 0h0m10 0h0m4 0h0m2 0h0m4 0h0m3 0h0m2 0h0m5 0h0m5 0h0m32 0h1m2 0h0m2 0h0m2 0h0m-107 1h0m11 0h0m3 0h0m22 0h0m5 0h0m10 0h1m3 0h0m6 0h0m23 0h0m11 0h0m10 0h0m4 0h0m-112 1h0m38 0h0m11 0h0m2 0h0m2 0h0m7 0h0m7 0h0m13 0h0m13 0h0m11 0h0m-82 1h0m10 0h0m7 0h0m2 0h1m3 0h0m9 0h0m6 0h0m6 0h0m7 0h0m3 0h0m24 0h0m10 0h0m2 0h0m2 0h0m-119 1h0m51 0h0m3 0h0m9 0h0m2 0h0m9 0h0m5 0h0m5 0h1m15 0h0m20 0h1m-101 1h0m21 0h0m3 0h0m4 0h0m3 0h0m4 0h0m35 0h0m12 0h0m3 0h0m4 0h0m4 0h0m-101 1h0m3 0h0m8 0h0m21 0h1m6 0h0m6 0h0m3 0h0m6 0h0m5 0h0m10 0h0m2 0h0m8 0h0m5 0h0m12 0h0m11 0h0m12 0h0m-140 1h0m39 0h0m8 0h0m7 0h0m7 0h0m4 0h0m16 0h0m16 0h0m4 0h0m6 0h0m13 0h0m4 0h2m-108 1h0m30 0h1m15 0h0m10 0h0m9 0h0m2 0h0m10 0h0m2 0h0m7 0h2m11 0h0m6 0h0m-104 1h0m6 0h0m24 0h0m26 0h0m18 0h1m9 0h0m7 0h0m-83 1h0m29 0h0m17 0h0m8 0h0m3 0h1m11 0h0m7 0h2m7 0h0m6 0h0m-109 1h0m21 0h0m5 0h0m65 0h0m11 0h0m5 0h0m8 0h0m-68 1h0m3 0h0m12 0h0m13 0h0m5 0h0m6 0h0m9 0h0m4 0h0m4 0h0m11 0h0m-75 1h1m3 0h0m2 0h0m2 0h0m3 0h0m33 0h0m13 0h0m9 0h0m-67 1h0m12 0h0m8 0h0m6 0h0m14 0h0m3 0h0m14 0h0m5 0h0m3 0h0m5 0h0m17 0h0m-81 1h0m12 0h0m30 0h0m3 0h0m13 0h0m5 0h0m-28 1h0m2 0h0m6 0h0m5 0h0m6 0h0m4 0h0m-37 1h0m6 0h0m53 0h0m-60 1h0m20 0h0m3 0h0m-90 1h0m73 0h0m9 0h0m10 0h0m22 0h0m-67 1h0m20 0h0m3 0h0m3 0h0m3 0h1m6 0h0m6 0h0m6 0h0m33 0h0m-60 1h0m24 0h0m2 0h0m11 0h0m-66 1h0m8 0h0m2 0h0m3 0h0m5 0h0m6 0h0m8 0h0m16 0h0m5 0h0m15 0h0m-40 1h0m11 0h0m2 0h0m5 0h0m8 0h0m21 0h0m23 0h0m-67 1h0m13 0h0m8 0h0m24 0h0m-86 1h0m19 0h0m18 0h1m2 0h0m2 0h0m4 0h0m14 0h0m19 0h0m-47 1h0m40 0h0m-28 1h0m15 0h0m15 0h1m-60 1h0m35 0h0m5 0h0m21 0h0m4 0h0m-63 1h0m31 0h0m5 0h0m4 0h0m2 0h0m-17 1h0m7 0h0m3 0h0m11 0h0m5 0h0m-52 1h0m19 0h0m5 0h0m15 0h0m10 0h0m2 0h0m29 0h0m-51 1h0m13 0h0m4 0h0m6 0h0m-48 1h0m2 0h0m16 0h0m3 0h0m9 0h0m16 0h1m32 0h0m-60 1h0m10 0h0m19 0h0m6 0h0m-42 1h0m6 0h0m10 0h0m5 0h0m3 0h0m7 0h0m14 0h0m11 0h0m29 0h0m-40 1h0m-42 1h0m7 0h0m3 0h0m23 1h0m4 0h0m11 0h0m-44 1h0m8 0h0m3 0h0m4 0h0m11 0h0m-49 1h0m34 0h0m27 0h0m-25 1h0m40 0h0m-71 1h0m57 0h0m12 0h0m-56 1h0m31 0h0m-38 1h0m10 0h0m4 0h0m66 0h0m-61 1h0m74 0h0m-67 3h0m29 0h0m3 0h0m6 0h0m-42 1h0m15 0h0m24 0h0m13 0h0m-33 1h0m37 0h0m-21 1h0m-55 1h0m-16 1h0m32 0h0m3 0h0m20 0h0m13 0h0m-45 1h0m58 0h0m-51 1h0m7 0h0m20 0h0m40 0h0m-45 1h0m18 0h0m3 0h0m-5 1h0m-43 2h0m3 0h0m28 0h0m19 0h0m16 0h0m-2 2h0m-79 1h0m54 0h1m72 0h0m-137 2h0m32 0h0m10 0h0m23 0h0m3 0h0m-23 1h0m21 0h0m-62 1h0m34 0h0m2 0h0m-10 1h0m42 0h0m21 0h0m5 0h0m-49 1h0m19 0h0m-22 1h0m21 0h0m-19 1h0m24 0h0m48 0h0m-64 1h0m24 0h0m19 0h0m-65 1h0m39 0h0m6 0h0m8 0h0m2 0h0m-61 1h0m2 0h0m18 0h0m11 0h0m13 0h0m6 0h0m-16 1h0m25 0h0m-46 1h0m16 0h0m3 0h0m-30 1h0m48 0h1m2 0h0m3 0h0m-50 1h0m-4 1h1m45 0h0m3 0h0m-47 1h1m2 0h0m7 0h0m13 0h0m18 0h1m-58 1h0m16 0h0m13 0h0m14 0h0m16 0h0m-49 2h0m5 0h0m50 0h0m-40 1h0m29 0h0m5 0h0m-47 1h0m35 0h0m-17 1h0m-11 1h0m27 0h0m-48 1h0m66 0h0m20 0h0m-62 1h0m3 0h0m12 0h0m-31 2h0m47 0h0m21 1h0m-66 2h0m47 0h0m19 0h0m-102 1h0m70 0h0m10 0h0m10 0h0m-52 1h0m86 0h0m-47 1h0m-36 1h0m6 0h0m-6 3h0m23 0h0m28 0h0m23 0h0m-66 1h0m8 1h0m4 0h0m33 0h0m2 4h0m-55 1h0m42 0h0m-62 2h0m50 1h0m20 0h0m-16 6h0m5 5h0m87 0h0m21 5h0m-96 3h0m-23 4h0m-85 33h0m18 0h0m17 0h0m3 0h0m12 0h0m8 0h1m9 0h0m2 0h0m3 0h0m12 0h0m26 0h0m8 0h0m13 0h0m17 0h0m-121 1h0m28 0h0m11 0h0m12 0h0m5 0h0m6 0h0m3 0h0m7 0h0m8 0h0m25 0h0m35 0h0m11 0h0" stroke="#bdbdbd"/>
<path d="M178 26h0m-97 4h0m52 2h0m-35 1h0m4 0h0m7 1h0m9 0h0m-14 1h0m4 0h0m24 0h0m-32 1h0m55 0h0m-50 1h0m8 0h0m-11 1h0m3 0h0m30 0h0m-98 1h0m66 0h0m10 0h0m9 0h0m7 0h0m2 0h0m-30 1h1m4 0h0m3 0h0m-49 1h0m29 0h0m14 0h0m13 0h0m2 0h0m16 0h0m2 0h0m4 0h0m-44 1h0m5 0h0m18 0h0m13 0h0m2 0h0m-41 1h0m2 0h0m9 0h0m13 0h0m9 0h0m7 0h0m8 0h0m19 0h0m-85 1h0m14 0h0m11 0h0m5 0h0m4 0h0m2 0h0m11 0h0m-40 1h0m12 0h0m5 0h0m5 0h0m3 0h0m8 0h0m6 0h1m-27 1h0m12 0h0m13 0h0m2 0h1m9 0h0m10 0h0m-123 1h0m32 0h0m14 0h0m31 0h3m2 0h0m6 0h0m7 0h0m6 0h0m4 0h1m5 0h1m3 0h0m21 0h0m-123 1h0m36 0h0m9 0h0m15 0h0m10 0h1m3 0h0m8 0h0m2 0h0m3 0h0m3 0h1m4 0h0m3 0h0m3 0h0m6 0h1m-124 1h0m22 0h0m34 0h0m22 0h1m5 0h0m4 0h0m4 0h0m5 0h0m2 0h0m4 0h0m5 0h0m7 0h1m9 0h1m3 0h0m-89 1h0m10 0h0m7 0h0m2 0h0m47 0h0m7 0h0m3 0h1m23 0h0m-107 1h0m21 0h0m17 0h0m5 0h0m5 0h0m23 0h0m16 0h0m2 0h0m2 0h0m6 0h0m-106 1h0m21 0h0m11 0h0m21 0h0m6 0h0m12 0h0m13 0h0m7 0h0m2 0h0m3 0h0m14 0h0m-90 1h0m3 0h0m9 0h0m3 0h0m5 0h0m4 0h3m3 0h0m6 0h0m46 0h1m2 0h0m-92 1h0m10 0h0m10 0h0m4 0h1m5 0h0m17 0h0m41 0h0m-136 1h0m37 0h0m24 0h0m7 0h0m2 0h0m3 0h0m13 0h0m2 0h0m2 0h0m10 0h0m41 0h0m4 0h0m-89 1h1m4 0h1m12 0h0m9 0h1m42 0h1m4 0h0m8 0h0m-91 1h0m5 0h0m20 0h0m10 0h0m2 0h0m57 0h0m5 0h0m-126 1h0m42 0h0m4 0h0m19 0h0m8 0h0m6 0h0m33 0h0m7 0h0m5 0h0m-122 1h0m25 0h0m10 0h0m3 0h0m5 0h0m3 0h0m5 0h0m14 0h0m10 0h0m34 0h0m4 0h0m4 0h0m3 0h1m-107 1h0m17 0h0m2 0h0m5 0h0m5 0h0m3 0h0m14 0h0m7 0h0m55 0h0m-124 1h0m12 0h0m3 0h0m8 0h0m5 0h0m9 0h0m3 0h0m2 0h0m12 0h0m11 0h0m34 0h0m13 0h1m2 0h0m6 0h0m5 0h0m-116 1h0m9 0h0m4 0h0m4 0h0m25 0h0m48 0h0m10 0h0m-56 1h1m4 0h0m24 0h0m13 0h0m11 0h0m4 0h0m15 0h1m-131 1h0m22 0h0m24 0h0m6 0h1m5 0h0m3 0h0m2 0h0m54 0h1m9 0h0m-101 1h0m3 0h0m6 0h0m9 0h0m3 0h0m4 0h0m2 0h0m2 0h0m2 0h0m4 0h0m54 0h0m7 0h0m3 0h0m4 0h0m-123 1h0m13 0h0m18 0h0m22 0h0m4 0h0m6 0h0m2 0h0m13 0h0m45 0h0m3 0h0m-138 1h0m19 0h0m11 0h2m5 0h0m9 0h0m5 0h1m8 0h0m4 0h0m3 0h0m49 0h0m22 0h0m-120 1h1m7 0h0m8 0h0m6 0h0m9 0h0m12 0h0m6 0h0m5 0h0m43 0h0m17 0h0m-127 1h0m32 0h0m9 0h0m3 0h0m4 0h0m4 0h0m2 0h0m10 0h1m42 0h0m43 0h0m-120 1h0m13 0h0m3 0h0m6 0h1m3 0h0m11 0h0m11 0h0m8 0h0m21 0h0m21 0h0m4 0h0m-115 1h0m10 0h0m25 0h0m10 0h0m2 0h0m6 0h0m36 0h0m15 0h1m2 0h0m2 0h0m-114 1h0m11 0h0m2 0h0m2 0h0m8 0h0m15 0h0m2 0h0m2 0h1m2 0h0m9 0h0m4 0h0m30 0h0m7 0h0m10 0h0m-114 1h0m7 0h0m18 0h0m19 0h0m3 0h0m69 0h0m4 0h0m2 0h0m-111 1h0m6 0h0m14 0h0m5 0h0m5 0h0m21 0h0m4 0h0m8 0h0m38 0h0m7 0h0m-101 1h0m12 0h0m4 0h0m7 0h0m4 0h0m6 0h0m6 0h0m5 0h0m2 0h0m3 0h0m11 0h0m16 0h0m7 0h0m6 0h1m13 0h0m5 0h0m2 0h0m12 0h0m15 0h0m-125 1h0m9 0h0m9 0h0m6 0h0m8 0h0m10 0h0m10 0h0m12 0h0m19 0h0m11 0h0m-84 1h0m3 0h0m18 0h0m7 0h0m3 0h0m2 0h0m26 0h0m4 0h0m6 0h2m19 0h1m-99 1h0m2 0h0m4 0h0m21 0h0m20 0h0m10 0h0m7 0h0m15 0h1m3 0h0m19 0h0m-128 1h0m16 0h0m6 0h0m12 0h1m5 0h0m2 0h0m2 0h0m9 0h0m23 0h0m3 0h0m5 0h0m14 0h0m2 0h0m11 0h0m8 0h0m2 0h0m-128 1h0m29 0h1m21 0h0m15 0h0m17 0h1m4 0h0m10 0h0m6 0h0m7 0h0m8 0h0m-116 1h0m3 0h0m9 0h0m14 0h0m14 0h0m3 0h0m4 0h0m15 0h0m4 0h0m2 0h0m9 0h0m5 0h0m3 0h0m3 0h4m26 0h0m-88 1h0m12 0h0m13 0h0m7 0h0m3 0h0m12 0h0m7 0h0m7 0h0m3 0h0m6 0h0m5 0h0m-97 1h0m35 0h0m5 0h1m20 0h0m12 0h0m9 0h0m8 0h1m15 0h0m-105 1h0m37 0h0m11 0h0m10 0h0m6 0h0m4 0h0m5 0h0m5 0h0m10 0h0m11 0h0m-90 1h0m35 0h0m5 0h0m12 0h0m6 0h1m2 0h0m2 0h0m6 0h0m16 0h0m-50 1h0m24 0h0m3 0h0m2 0h0m3 0h0m12 0h0m-88 1h0m3 0h0m25 0h0m12 0h0m2 0h0m16 0h0m3 0h0m7 0h0m-49 1h1m4 0h0m35 0h0m8 0h0m4 0h2m6 0h0m2 0h0m17 0h0m-71 1h0m2 0h0m36 0h0m13 0h0m2 0h0m15 0h0m2 0h0m-66 1h0m6 0h0m5 0h0m20 0h0m7 0h0m13 0h0m9 0h1m-90 1h0m20 0h0m32 0h1m4 0h0m5 0h0m21 0h0m11 0h0m6 0h0m-69 1h0m8 0h0m13 0h0m4 0h0m3 0h0m8 0h0m2 0h0m4 0h0m7 0h0m2 0h0m-63 1h0m28 0h0m11 0h0m16 0h0m6 0h0m-39 1h0m10 0h0m5 0h0m15 0h0m2 0h0m9 0h0m-31 1h0m8 0h0m22 0h0m4 0h0m4 0h0m10 0h0m-55 1h0m14 0h0m5 0h0m5 0h0m20 0h0m-49 1h0m5 0h1m25 0h0m8 0h0m3 0h0m13 0h0m-53 1h0m25 0h0m3 0h0m-14 1h0m16 0h0m6 0h0m30 0h0m-43 1h0m7 0h0m5 0h0m2 0h0m7 0h0m32 0h0m-57 1h0m6 0h0m9 1h0m5 0h0m2 0h0m5 0h0m-51 1h0m7 0h0m16 0h0m26 0h0m10 0h0m2 0h0m-47 1h1m40 0h0m3 0h0m-55 1h0m44 0h0m-37 1h0m7 0h0m5 0h0m11 0h0m2 0h0m4 0h0m10 0h0m2 0h0m-29 1h0m7 0h0m17 0h0m4 0h0m-46 1h0m4 0h0m16 0h0m5 0h0m6 0h0m-40 1h0m16 0h0m47 0h0m3 0h0m-36 1h0m5 0h0m9 0h0m8 0h0m-32 1h0m15 0h0m22 0h0m4 0h0m-17 1h1m15 0h0m-39 1h0m12 0h0m25 0h0m16 0h0m-65 1h0m56 0h0m-32 1h0m42 0h0m-51 1h0m15 0h0m21 0h0m37 0h0m-66 1h0m5 0h0m7 0h0m-38 1h0m50 0h0m21 0h0m17 0h0m-61 1h0m2 0h0m6 0h0m18 0h0m26 0h0m-58 2h0m16 0h0m7 1h0m-25 1h0m18 0h0m6 0h0m16 0h0m-61 1h0m9 0h0m4 2h0m29 0h0m9 0h0m25 0h0m-12 1h0m2 1h0m4 0h0m-1 1h0m-47 1h0m28 0h0m14 0h0m-22 1h0m12 0h0m-41 1h0m61 0h0m-39 1h0m53 0h0m-64 1h0m22 1h0m-9 1h0m28 0h0m0 1h0m-20 1h0m21 0h0m30 0h0m-87 2h0m27 0h0m4 0h0m47 0h0m-53 1h0m38 0h0m-70 2h0m58 0h0m35 0h0m-46 1h0m10 0h0m5 0h0m-23 1h0m53 0h0m-149 1h0m84 0h0m34 0h0m-63 1h0m43 0h0m3 0h0m49 0h0m-57 1h0m3 1h0m33 0h0m8 0h0m-39 1h0m15 1h0m21 0h0m13 0h0m-4 1h0m-82 2h0m40 0h0m-10 1h0m16 0h0m8 0h0m-23 1h1m14 1h0m-31 1h0m13 0h0m-16 1h0m26 0h0m38 1h0m-53 1h0m9 0h0m-43 1h0m13 0h0m25 0h0m4 0h0m15 0h0m5 0h0m18 0h0m-35 1h0m24 0h0m3 0h0m10 0h0m33 0h0m-80 1h0m12 0h0m4 0h0m9 1h0m20 0h0m-36 2h0m44 0h0m4 1h0m-42 3h0m6 0h0m-29 2h0m7 0h0m19 2h0m4 0h0m2 0h0m12 0h0m-50 1h0m-3 1h0m81 0h0m-32 2h0m9 0h0m6 0h0m-47 1h0m39 1h0m-5 2h0m11 0h0m-68 1h0m22 0h0m5 0h0m-1 1h0m95 1h0m-114 1h0m38 0h0m-6 1h0m17 0h0m5 0h0m-3 2h0m-17 4h0m0 6h0m-16 7h0m40 14h0m-124 17h0m52 1h0m7 0h0m21 0h0m5 0h0m13 0h0m8 0h1m16 0h0m26 0h0m54 0h0m-169 1h0m15 0h0m4 0h0m18 0h0m16 0h0m44 0h0m17 0h0m5 0h1m9 0h0" stroke="#707070"/>
<path d="M127 30h0m-18 2h0m-3 2h0m6 2h0m3 0h0m2 0h0m7 0h0m-41 1h0m25 0h0m-14 1h0m25 0h0m12 0h0m2 0h0m-48 1h0m17 0h0m13 0h0m17 0h0m-53 1h0m4 0h0m17 0h0m13 0h0m-12 1h1m4 0h0m1 1h0m2 0h0m3 0h0m2 0h0m6 0h0m18 0h0m8 0h0m-66 1h0m20 0h0m2 0h0m10 0h0m3 0h0m3 0h0m3 0h0m3 0h0m11 0h0m3 0h0m-45 1h0m6 0h0m9 0h0m2 0h0m2 0h0m8 0h1m2 0h0m8 0h0m24 0h0m-60 1h0m6 0h0m2 0h0m7 0h0m2 0h0m5 0h3m6 0h1m3 0h0m2 0h1m2 0h0m-113 1h0m74 0h0m9 0h0m3 0h1m3 0h0m2 0h2m3 0h0m2 0h0m4 0h0m3 0h1m8 0h0m9 0h0m-53 1h0m2 0h0m8 0h2m3 0h2m3 0h0m3 0h1m2 0h0m2 0h2m4 0h2m4 0h0m18 0h0m-76 1h0m7 0h0m4 0h0m5 0h0m6 0h1m2 0h1m3 0h0m4 0h0m3 0h2m2 0h0m2 0h0m8 0h0m3 0h0m4 0h0m15 0h0m-83 1h0m14 0h0m15 0h0m6 0h0m2 0h1m3 0h0m2 0h0m3 0h2m2 0h0m2 0h1m3 0h3m4 0h0m2 0h0m6 0h0m5 0h0m7 0h0m-84 1h0m8 0h0m14 0h0m3 0h0m3 0h0m4 0h0m3 0h1m2 0h11m2 0h4m3 0h0m2 0h0m2 0h3m6 0h0m2 0h0m2 0h2m-123 1h0m14 0h0m16 0h0m34 0h0m2 0h0m5 0h0m5 0h1m4 0h1m2 0h3m3 0h11m5 0h1m3 0h0m3 0h4m7 0h0m2 0h0m-109 1h0m8 0h0m13 0h0m16 0h0m13 0h2m3 0h1m4 0h0m3 0h0m5 0h0m2 0h6m2 0h5m2 0h4m3 0h2m2 0h0m4 0h1m3 0h0m5 0h0m3 0h0m6 0h0m-104 1h0m28 0h0m15 0h2m2 0h0m2 0h7m3 0h0m2 0h12m2 0h14m2 0h2m3 0h0m10 0h0m-116 1h0m4 0h0m16 0h1m13 0h0m15 0h0m2 0h1m2 0h0m4 0h1m2 0h0m2 0h11m3 0h0m2 0h2m2 0h6m2 0h1m3 0h1m2 0h3m3 0h1m-75 1h0m8 0h0m10 0h0m2 0h0m2 0h0m2 0h0m2 0h0m2 0h0m3 0h1m3 0h1m2 0h16m2 0h0m2 0h8m2 0h1m3 0h1m-97 1h0m10 0h0m28 0h2m2 0h1m3 0h1m2 0h0m4 0h1m2 0h6m2 0h13m5 0h4m3 0h2m3 0h1m2 0h2m-92 1h0m13 0h0m6 0h0m9 0h0m8 0h0m4 0h4m3 0h9m2 0h23m2 0h0m2 0h1m6 0h0m-95 1h0m8 0h0m11 0h0m2 0h0m4 0h0m4 0h0m2 0h2m3 0h1m3 0h2m2 0h3m2 0h1m2 0h4m2 0h29m2 0h0m2 0h2m2 0h0m-100 1h0m11 0h0m11 0h0m10 0h1m4 0h0m5 0h1m2 0h1m2 0h0m4 0h0m2 0h5m3 0h8m2 0h16m2 0h3m2 0h1m3 0h0m2 0h0m-104 1h0m12 0h0m4 0h0m2 0h0m14 0h0m8 0h0m2 0h0m3 0h1m3 0h5m3 0h19m2 0h8m2 0h6m2 0h0m2 0h0m2 0h0m5 0h0m-108 1h0m10 0h0m15 0h0m8 0h0m2 0h0m3 0h2m6 0h1m2 0h4m2 0h32m2 0h3m3 0h5m19 0h1m-101 1h0m12 0h0m5 0h0m4 0h0m2 0h0m2 0h0m2 0h0m2 0h5m2 0h1m4 0h26m2 0h0m2 0h5m2 0h1m5 0h0m-110 1h0m21 0h0m11 0h0m3 0h0m3 0h0m3 0h0m5 0h2m4 0h0m4 0h0m2 0h16m2 0h2m2 0h11m2 0h9m2 0h1m3 0h0m6 0h1m5 0h0m-92 1h0m11 0h1m7 0h2m5 0h0m3 0h0m2 0h1m3 0h30m2 0h1m2 0h4m3 0h1m2 0h0m3 0h0m2 0h0m5 0h0m-94 1h0m2 0h0m24 0h0m2 0h0m4 0h2m2 0h3m4 0h39m4 0h1m4 0h0m3 0h0m-94 1h0m2 0h0m5 0h0m5 0h0m2 0h0m2 0h0m3 0h2m2 0h1m2 0h0m2 0h0m2 0h0m2 0h4m2 0h0m2 0h0m3 0h8m2 0h22m2 0h0m2 0h3m3 0h0m2 0h0m2 0h0m2 0h0m8 0h0m-111 1h0m21 0h1m8 0h1m4 0h2m5 0h4m2 0h1m2 0h21m2 0h15m2 0h1m2 0h2m2 0h0m4 0h1m6 0h0m2 0h0m2 0h0m-129 1h0m25 0h0m7 0h0m4 0h2m2 0h0m3 0h0m2 0h0m4 0h0m5 0h2m3 0h0m2 0h0m2 0h1m3 0h3m2 0h32m2 0h3m2 0h0m3 0h1m4 0h1m-92 1h0m10 0h0m7 0h1m5 0h0m2 0h0m2 0h0m3 0h0m3 0h3m3 0h7m2 0h24m3 0h8m4 0h1m2 0h0m2 0h0m-138 1h0m28 0h0m16 0h0m7 0h1m11 0h0m9 0h1m2 0h0m2 0h0m2 0h0m2 0h0m3 0h3m3 0h0m2 0h6m2 0h9m2 0h6m2 0h0m2 0h0m2 0h6m8 0h0m-103 1h0m7 0h0m9 0h0m3 0h0m8 0h1m6 0h1m2 0h3m2 0h0m2 0h1m2 0h0m4 0h0m2 0h2m2 0h17m2 0h8m2 0h4m2 0h0m2 0h1m7 0h0m4 0h0m-101 1h0m12 0h0m6 0h1m3 0h0m3 0h0m9 0h0m2 0h3m4 0h0m2 0h1m2 0h0m2 0h1m2 0h4m2 0h12m2 0h0m2 0h5m2 0h8m2 0h3m3 0h0m3 0h0m-102 1h0m20 0h1m16 0h1m3 0h0m5 0h1m4 0h2m2 0h23m2 0h0m3 0h2m3 0h0m2 0h0m2 0h0m3 0h0m4 0h0m2 0h0m-85 1h2m6 0h0m4 0h0m3 0h0m2 0h0m12 0h1m2 0h3m2 0h0m2 0h10m2 0h2m2 0h9m3 0h0m4 0h0m2 0h0m7 0h0m-92 1h0m2 0h1m11 0h0m2 0h0m7 0h1m5 0h0m4 0h2m2 0h0m3 0h0m3 0h2m2 0h4m2 0h5m2 0h7m2 0h2m2 0h1m2 0h0m2 0h2m5 0h1m4 0h0m9 0h0m-110 1h0m17 0h0m3 0h0m10 0h0m10 0h0m2 0h1m3 0h0m3 0h0m2 0h1m2 0h1m4 0h3m2 0h1m3 0h1m2 0h3m3 0h1m2 0h8m4 0h4m-94 1h0m8 0h0m3 0h0m20 0h0m4 0h0m3 0h2m7 0h0m2 0h1m3 0h0m2 0h0m3 0h3m2 0h2m4 0h1m2 0h9m3 0h1m2 0h3m15 0h0m2 0h0m-113 1h0m19 0h0m5 0h2m10 0h0m10 0h0m8 0h0m2 0h0m2 0h0m2 0h0m2 0h0m3 0h2m2 0h4m2 0h2m4 0h2m3 0h1m2 0h1m6 0h1m2 0h0m-93 1h0m26 0h0m9 0h0m12 0h0m6 0h0m3 0h3m2 0h2m4 0h0m2 0h2m4 0h3m2 0h1m2 0h3m2 0h0m6 0h0m5 0h0m-102 1h0m23 0h0m24 0h0m7 0h1m5 0h0m4 0h3m4 0h1m3 0h0m2 0h0m3 0h2m4 0h1m8 0h0m-91 1h0m8 0h0m27 0h0m4 0h0m9 0h1m4 0h2m2 0h0m3 0h0m2 0h1m2 0h0m2 0h0m4 0h0m9 0h0m2 0h0m7 0h0m3 0h0m-102 1h0m34 0h0m6 0h0m17 0h0m4 0h0m4 0h0m2 0h0m5 0h0m3 0h0m4 0h0m2 0h0m2 0h0m6 0h1m7 0h1m2 0h0m6 0h0m4 0h0m-103 1h0m29 0h0m9 0h0m14 0h0m2 0h0m8 0h0m2 0h0m3 0h0m6 0h3m7 0h0m4 0h0m-78 1h0m16 0h0m5 0h0m27 0h0m4 0h0m4 0h0m3 0h0m3 0h0m8 0h0m2 0h0m2 0h0m6 0h0m14 0h0m-79 1h0m4 0h0m14 0h0m4 0h0m9 0h0m3 0h0m9 0h0m2 0h1m2 0h1m2 0h1m-74 1h0m15 0h0m34 0h0m8 0h1m10 0h0m4 0h0m5 0h0m7 0h1m10 0h0m-29 1h0m6 0h0m38 0h0m-99 1h0m44 0h1m3 0h0m9 0h0m2 0h1m7 0h2m6 0h0m-29 1h0m12 0h0m-28 1h0m20 0h1m4 0h1m5 0h0m3 0h0m3 0h0m20 0h0m6 0h0m-31 1h0m2 0h0m6 0h0m4 0h0m-12 1h0m18 0h0m-25 1h1m6 0h0m14 0h0m-65 1h0m48 0h0m3 0h0m-20 1h0m7 0h0m-22 1h0m33 0h0m10 0h0m8 0h0m14 0h0m-65 1h0m10 0h0m14 0h0m13 0h0m-37 1h0m22 0h0m3 0h0m3 0h0m5 0h0m5 0h0m4 0h0m-33 1h0m7 0h0m24 0h0m6 0h0m2 0h0m-41 1h0m24 0h0m4 0h0m49 0h0m-113 1h0m27 0h0m45 0h0m-40 1h0m11 0h0m15 0h0m3 1h0m2 1h0m17 0h0m-32 1h0m16 0h0m1 1h0m-47 1h0m4 0h0m7 0h0m12 0h0m15 0h0m24 1h0m-28 1h0m2 0h0m-20 2h0m8 0h0m-18 1h1m43 0h0m5 0h0m4 0h0m-51 1h0m18 1h0m11 3h0m14 1h0m-16 2h0m6 0h0m12 1h0m-2 5h0m4 0h0m39 1h0m-20 1h0m-46 1h0m13 1h0m-12 1h0m15 1h0m29 0h0m-31 1h0m-33 2h0m24 1h0m30 0h0m-15 1h0m29 1h0m-4 2h0m-43 1h0m138 1h0m-102 1h0m27 1h0m-60 1h0m10 0h0m10 2h0m-24 2h0m16 0h0m5 0h0m-3 2h0m-5 3h0m11 2h0m23 2h0m-33 1h0m-1 1h0m-7 2h0m0 1h0m41 0h0m-26 1h0m56 0h0m-49 2h0m5 2h0m-26 1h0m-20 2h0m10 0h0m55 0h0m-45 4h0m22 2h0m-9 3h0m-17 1h0m27 0h0m22 0h0m-21 8h0m9 2h0m-72 2h0m69 2h0m-4 8h0m-93 36h0m35 0h0m11 0h0m18 0h0m36 0h1m-58 1h0m17 0h0m52 0h0" stroke="#000"/>
</g>
<rect x="112.6" y="1158.9" width="241.9" height="241.9" fill="none" stroke="#444" stroke-width="1.3"/>
<path d="M221.7 1158.9V1400.8M112.6 1290.0H354.5" stroke="#000" stroke-width="1.9" fill="none"/>
<path d="M105.6 1400.8H112.6M105.6 1356.7H112.6M105.6 1312.6H112.6M105.6 1268.5H112.6M105.6 1224.4H112.6M105.6 1180.3H112.6M112.6 1400.8V1407.3M156.7 1400.8V1407.3M200.8 1400.8V1407.3M244.9 1400.8V1407.3M289.0 1400.8V1407.3M333.1 1400.8V1407.3" stroke="#111" stroke-width="2" fill="none"/>
<path d="M109.1 1387.5H112.6M109.1 1379.8H112.6M109.1 1374.2H112.6M109.1 1370.0H112.6M109.1 1366.5H112.6M109.1 1363.5H112.6M109.1 1361.0H112.6M109.1 1358.7H112.6M109.1 1343.4H112.6M109.1 1335.7H112.6M109.1 1330.1H112.6M109.1 1325.9H112.6M109.1 1322.4H112.6M109.1 1319.4H112.6M109.1 1316.9H112.6M109.1 1314.6H112.6M109.1 1299.3H112.6M109.1 1291.6H112.6M109.1 1286.0H112.6M109.1 1281.8H112.6M109.1 1278.3H112.6M109.1 1275.3H112.6M109.1 1272.8H112.6M109.1 1270.5H112.6M109.1 1255.2H112.6M109.1 1247.5H112.6M109.1 1241.9H112.6M109.1 1237.7H112.6M109.1 1234.2H112.6M109.1 1231.2H112.6M109.1 1228.7H112.6M109.1 1226.4H112.6M109.1 1211.1H112.6M109.1 1203.4H112.6M109.1 1197.8H112.6M109.1 1193.6H112.6M109.1 1190.1H112.6M109.1 1187.1H112.6M109.1 1184.6H112.6M109.1 1182.3H112.6M109.1 1167.0H112.6M125.9 1400.8V1404.3M133.6 1400.8V1404.3M139.2 1400.8V1404.3M143.4 1400.8V1404.3M146.9 1400.8V1404.3M149.9 1400.8V1404.3M152.4 1400.8V1404.3M154.7 1400.8V1404.3M170.0 1400.8V1404.3M177.7 1400.8V1404.3M183.3 1400.8V1404.3M187.5 1400.8V1404.3M191.0 1400.8V1404.3M194.0 1400.8V1404.3M196.5 1400.8V1404.3M198.8 1400.8V1404.3M214.1 1400.8V1404.3M221.8 1400.8V1404.3M227.4 1400.8V1404.3M231.6 1400.8V1404.3M235.1 1400.8V1404.3M238.1 1400.8V1404.3M240.6 1400.8V1404.3M242.9 1400.8V1404.3M258.2 1400.8V1404.3M265.9 1400.8V1404.3M271.5 1400.8V1404.3M275.7 1400.8V1404.3M279.2 1400.8V1404.3M282.2 1400.8V1404.3M284.7 1400.8V1404.3M287.0 1400.8V1404.3M302.3 1400.8V1404.3M310.0 1400.8V1404.3M315.6 1400.8V1404.3M319.8 1400.8V1404.3M323.3 1400.8V1404.3M326.3 1400.8V1404.3M328.8 1400.8V1404.3M331.1 1400.8V1404.3M346.4 1400.8V1404.3" stroke="#333" stroke-width="1.1" fill="none"/>
<text x="116.8" y="1183.7" font-family="'Liberation Serif', serif" font-size="16.5" font-weight="bold" text-anchor="start" >53,8</text>
<text x="332.8" y="1183.7" font-family="'Liberation Serif', serif" font-size="16.5" font-weight="bold" text-anchor="end" >39,9</text>
<text x="116.8" y="1385.5" font-family="'Liberation Serif', serif" font-size="16.5" font-weight="bold" text-anchor="start" >2,94</text>
<text x="332.8" y="1385.5" font-family="'Liberation Serif', serif" font-size="16.5" font-weight="bold" text-anchor="end" >3,38</text>
<g transform="translate(421.5,1159.5)" fill="none" stroke-linecap="square" stroke-width="1.4">
<path d="M143 20h0m17 1h0m-5 4h0m-5 1h0m12 1h0m19 0h0m-6 1h1m-7 1h0m-28 1h0m4 0h0m4 0h0m21 0h0m17 0h0m-23 1h0m3 0h0m-30 1h0m22 0h0m2 0h0m5 0h0m2 0h0m7 0h0m2 0h0m2 0h0m-58 1h0m21 0h0m13 0h0m16 0h0m9 0h0m-54 1h0m11 0h0m16 0h0m2 0h0m2 0h0m3 0h0m5 0h2m4 0h0m10 0h1m-49 1h0m9 0h0m13 0h1m5 0h0m8 0h0m6 0h0m5 0h0m6 0h0m-69 1h0m15 0h0m3 0h0m5 0h0m17 0h0m16 0h0m15 0h0m5 0h0m-74 1h0m18 0h0m15 0h1m9 0h0m-63 1h0m2 0h0m45 0h0m2 0h0m3 0h1m5 0h0m4 0h0m2 0h0m14 0h0m3 0h0m36 0h0m-103 1h0m41 0h0m6 0h1m4 0h1m5 0h0m15 0h1m-76 1h0m15 0h1m4 0h0m4 0h0m10 0h0m12 0h0m7 0h0m7 0h0m13 0h0m4 0h1m6 0h0m-60 1h0m8 0h0m5 0h0m4 0h0m7 0h0m5 0h0m6 0h0m4 0h1m2 0h0m6 0h0m5 0h0m2 0h0m-83 1h0m32 0h0m7 0h0m2 0h0m8 0h0m6 0h0m12 0h0m15 0h0m-72 1h0m4 0h1m4 0h0m4 0h0m15 0h0m3 0h1m26 0h0m14 0h0m5 0h0m-96 1h0m38 0h0m3 0h0m10 0h0m3 0h0m7 0h0m15 0h0m6 0h0m30 0h0m-88 1h0m6 0h0m6 0h0m7 0h0m2 0h2m15 0h0m10 0h0m9 0h0m4 0h1m-72 1h0m35 0h0m7 0h0m24 0h1m10 0h0m-75 1h0m20 0h0m8 0h0m5 0h1m47 0h1m13 0h0m-121 1h0m10 0h1m35 0h0m2 0h0m8 0h0m28 0h0m14 0h1m15 0h0m-94 1h0m34 0h0m22 0h0m34 0h0m7 0h0m-118 1h0m22 0h0m19 0h0m2 0h1m7 0h0m3 0h2m5 0h0m42 0h0m6 0h0m-91 1h0m19 0h1m4 0h0m15 0h0m48 0h0m13 0h0m-119 1h0m27 0h0m23 0h0m14 0h0m43 0h1m3 0h0m-73 1h0m25 0h0m45 0h0m7 0h0m-82 1h0m8 0h0m70 0h2m5 0h0m-137 1h0m53 0h0m3 0h1m9 0h0m11 0h0m8 0h0m36 0h0m2 0h0m-108 1h0m49 0h1m59 0h0m8 0h0m-103 1h0m15 0h0m14 0h1m12 0h0m3 0h0m5 0h0m5 0h0m41 0h0m23 0h0m-107 1h0m13 0h0m27 0h0m3 0h1m12 0h0m13 0h0m22 0h0m-111 1h0m18 0h0m17 0h0m58 0h0m7 0h0m-86 1h1m4 0h0m2 0h0m17 0h1m4 0h0m3 0h0m7 0h0m2 0h0m4 0h0m6 0h0m3 0h0m16 0h0m23 0h1m5 0h0m3 0h0m-112 1h0m39 0h0m3 0h0m5 0h1m5 0h0m8 0h0m4 0h1m35 0h0m6 0h0m6 0h0m6 0h0m-102 1h0m2 0h0m13 0h0m3 0h0m6 0h0m2 0h0m4 0h0m12 0h0m8 0h0m32 0h0m3 0h0m11 0h0m-84 1h0m4 0h1m12 0h1m3 0h0m12 0h0m23 0h0m21 0h0m5 0h0m-115 1h0m11 0h0m2 0h0m8 0h0m17 0h0m7 0h1m3 0h1m2 0h1m2 0h0m4 0h0m33 0h0m11 0h0m3 0h0m6 0h0m-84 1h0m3 0h0m14 0h0m7 0h0m26 0h0m22 0h0m7 0h0m-90 1h0m15 0h0m2 0h0m5 0h0m4 0h0m9 0h0m5 0h0m6 0h0m17 0h1m21 0h0m3 0h0m-79 1h0m8 0h0m2 0h0m8 0h0m3 0h0m9 0h0m3 0h0m3 0h0m17 0h0m12 0h0m13 0h0m-101 1h0m3 0h0m24 0h0m7 0h0m24 0h1m2 0h0m2 0h0m19 0h0m4 0h0m-71 1h0m7 0h0m40 0h0m3 0h0m5 0h0m2 0h0m6 0h0m19 0h0m-83 1h0m10 0h0m17 0h0m2 0h0m6 0h0m31 0h0m4 0h0m5 0h0m10 0h0m-92 1h0m17 0h0m5 0h0m2 0h0m2 0h0m14 0h0m17 0h0m6 0h0m4 0h0m6 0h0m6 0h0m4 0h0m17 0h1m-107 1h0m10 0h0m22 0h0m27 0h0m9 0h0m23 0h0m2 0h0m5 0h0m4 0h0m6 0h0m-60 1h0m13 0h0m13 0h0m23 0h0m3 0h0m10 0h1m-106 1h0m5 0h0m57 0h1m10 0h0m-73 1h0m15 0h0m10 0h0m11 0h0m10 0h0m9 0h0m7 0h0m17 0h0m12 0h0m4 0h0m13 0h0m-92 1h0m2 0h0m4 0h0m8 0h0m6 0h0m2 0h0m5 0h0m10 0h0m15 0h0m8 0h0m3 0h0m7 0h2m5 0h0m5 0h0m-90 1h0m23 0h0m4 0h0m2 0h0m2 0h0m44 0h1m2 0h0m10 0h0m-92 1h0m4 0h0m3 0h0m48 0h0m2 0h0m16 0h0m2 0h0m22 0h0m4 0h0m-68 1h0m13 0h0m30 0h0m19 0h0m-61 1h0m4 0h0m31 0h0m8 0h0m4 0h0m3 0h0m5 0h0m-79 1h0m14 0h0m19 0h0m6 0h0m17 0h0m10 0h0m2 0h0m4 0h0m3 0h0m15 0h0m-94 1h0m9 0h0m2 0h0m18 0h0m32 0h0m7 0h0m13 0h0m6 0h0m-42 1h0m4 0h0m12 0h0m15 0h0m-99 1h0m3 0h0m14 0h0m19 0h0m19 0h0m8 0h0m4 0h0m7 0h1m5 0h0m-51 1h0m19 0h0m21 0h0m15 0h0m18 0h0m-85 1h0m5 0h0m8 0h0m39 0h0m2 0h0m-32 1h0m41 0h0m3 0h0m-48 1h0m17 0h1m10 0h0m17 0h0m3 0h0m-62 1h0m40 0h0m11 0h0m18 0h0m6 0h0m-46 1h1m18 0h0m2 0h0m5 0h1m7 0h0m-165 1h0m148 0h0m21 0h0m26 0h0m-75 1h0m12 0h0m10 0h1m5 0h0m30 0h0m14 0h0m4 0h0m-117 1h0m56 0h0m29 0h0m-89 1h0m96 0h0m-36 1h0m8 0h0m-50 1h0m16 0h0m7 0h0m2 0h0m7 0h0m21 0h0m12 0h0m15 0h0m3 0h0m-48 1h0m3 0h0m3 0h0m20 0h0m2 0h0m2 0h0m8 0h0m-45 1h0m76 0h0m-105 1h0m49 0h0m3 0h0m5 0h0m25 0h0m-73 1h0m2 0h0m55 0h0m3 0h0m-62 1h0m39 0h0m11 0h0m4 0h0m7 0h0m14 0h0m10 0h0m-69 1h0m8 0h0m5 0h0m14 0h0m23 0h0m-38 1h0m7 0h0m-36 1h0m12 0h0m36 0h0m6 0h0m8 0h0m3 0h0m-81 1h0m44 0h0m11 0h0m5 0h0m21 0h0m4 0h0m12 0h0m6 0h0m-86 1h0m12 0h0m21 0h0m17 0h0m2 0h0m5 0h0m10 0h0m-59 1h0m32 0h0m6 0h0m22 0h0m-19 1h0m-62 1h0m27 0h0m33 0h0m14 0h0m35 0h0m2 0h0m-79 2h0m31 0h0m8 0h0m10 0h0m11 0h0m-61 1h0m56 0h0m-121 1h0m57 0h0m6 0h0m10 0h0m5 0h0m-57 1h0m42 0h0m57 0h0m-58 1h0m-38 1h0m97 0h0m-39 1h0m9 0h0m42 0h0m-85 2h0m44 0h0m8 0h0m44 1h0m-72 1h0m16 0h0m-18 1h0m26 0h0m-11 1h0m25 0h0m10 0h0m-60 1h0m42 0h0m-77 1h0m27 0h0m84 0h0m-73 2h0m-36 1h0m31 0h0m-5 1h0m8 0h0m9 0h0m7 0h0m17 0h0m-33 1h0m6 0h0m-30 1h0m-2 2h0m-19 1h0m61 1h0m25 0h0m-55 2h0m-7 3h0m-8 1h0m18 0h0m-41 2h0m15 0h0m47 0h0m-6 1h0m4 1h0m-12 1h0m-10 2h0m8 0h0m9 0h0m13 0h0m-55 2h0m107 0h0m-63 3h0m16 0h0m15 0h0m-79 2h0m21 0h0m18 0h0m-17 4h0m33 0h0m-65 3h0m8 2h0m17 2h0m13 1h0m-6 1h0m22 0h0m-54 2h0m54 0h0m-48 1h0m34 1h0m14 1h0m13 2h0m-30 3h0m22 5h0m-24 1h0m-38 3h0m59 1h0m3 16h0m-39 7h0m-24 25h0m17 0h0m22 0h0m2 0h0m4 0h0m2 0h0m28 0h1m16 0h0m4 0h0m4 0h0m27 0h0m-86 1h0m28 0h0m20 0h0m8 0h0m35 0h0" stroke="#bdbdbd"/>
<path d="M119 16h0m-65 10h0m68 0h0m43 0h1m3 0h0m-48 1h0m53 1h0m-17 1h1m3 0h0m-15 1h0m4 0h0m2 0h0m14 0h0m-33 1h0m16 0h0m6 0h0m15 0h0m16 0h0m-36 1h1m3 0h0m10 0h0m17 0h0m-95 1h0m53 0h0m18 0h0m3 0h0m3 0h0m4 0h0m5 0h0m9 0h0m-33 1h0m4 0h0m11 0h0m12 0h0m-60 1h0m3 0h0m27 0h1m6 0h0m5 0h0m30 0h0m-35 1h0m8 0h0m4 0h1m6 0h0m5 0h0m4 0h0m6 0h0m-60 1h0m18 0h0m2 0h0m18 0h2m3 0h0m5 0h0m3 0h1m5 0h0m7 0h0m-105 1h0m48 0h0m16 0h0m6 0h0m4 0h0m5 0h0m17 0h0m11 0h0m-41 1h0m12 0h0m9 0h0m3 0h0m2 0h1m4 0h0m14 0h0m-91 1h0m13 0h0m22 0h0m3 0h0m18 0h0m4 0h1m-68 1h0m22 0h0m6 0h0m19 0h1m3 0h0m9 0h0m37 0h0m4 0h0m12 0h0m-122 1h0m27 0h0m49 0h0m13 0h0m3 0h0m-96 1h0m15 0h0m39 0h0m5 0h0m9 0h0m29 0h0m2 0h2m4 0h0m5 0h0m-111 1h0m35 0h0m18 0h0m10 0h0m28 0h0m3 0h0m5 0h0m-83 1h0m12 0h0m15 0h0m24 0h0m3 0h0m23 0h0m11 0h0m4 0h0m-69 1h0m7 0h0m7 0h0m51 0h0m10 0h0m11 0h0m-100 1h0m23 0h0m4 0h2m23 0h0m23 0h0m3 0h0m4 0h0m2 0h0m8 0h0m-89 1h0m4 0h0m2 0h0m9 0h1m2 0h0m5 0h0m13 0h0m41 0h0m12 0h0m5 0h0m12 0h0m-101 1h1m7 0h1m9 0h0m4 0h1m5 0h0m42 0h0m4 0h0m5 0h1m-100 1h0m6 0h0m48 0h0m37 0h0m11 0h1m10 0h0m-122 1h0m19 0h0m21 0h0m13 0h0m11 0h0m34 0h0m3 0h1m3 0h0m2 0h0m4 0h0m-108 1h0m17 0h0m10 0h0m20 0h0m5 0h1m23 0h0m23 0h0m9 0h0m-94 1h0m7 0h0m4 0h0m2 0h0m10 0h0m10 0h0m2 0h1m14 0h0m41 0h0m3 0h0m3 0h0m-108 1h0m5 0h0m7 0h0m6 0h0m4 0h0m6 0h0m13 0h0m3 0h0m4 0h0m52 0h0m2 0h0m5 0h0m18 0h0m-160 1h0m30 0h0m6 0h0m22 0h0m14 0h0m5 0h1m5 0h0m8 0h0m39 0h0m14 0h0m-101 1h0m4 0h0m17 0h0m4 0h0m8 0h0m8 0h0m11 0h0m5 0h0m35 0h0m3 0h0m-98 1h0m34 0h0m19 0h0m8 0h0m-78 1h0m24 0h0m13 0h0m15 0h0m4 0h0m64 0h0m-87 1h0m11 0h1m5 0h0m4 0h0m53 0h0m15 0h0m-131 1h0m13 0h0m27 0h0m20 0h0m2 0h0m9 0h0m2 0h0m43 0h0m8 0h0m5 0h0m-124 1h0m29 0h0m13 0h0m12 0h0m3 0h0m12 0h0m8 0h0m31 0h0m16 0h0m-103 1h0m6 0h0m31 0h0m7 0h1m9 0h0m4 0h0m3 0h0m4 0h0m31 0h0m3 0h0m3 0h0m3 0h0m-106 1h0m4 0h0m13 0h0m15 0h0m4 0h0m7 0h0m46 0h3m3 0h0m-83 1h0m7 0h1m2 0h0m4 0h0m21 0h1m5 0h0m37 0h0m11 0h0m9 0h0m-81 1h0m9 0h0m3 0h0m16 0h0m5 0h0m4 0h1m3 0h0m24 0h1m11 0h0m-110 1h0m12 0h0m18 0h0m24 0h0m14 0h0m22 0h2m14 0h0m4 0h0m-91 1h0m4 0h0m2 0h0m2 0h0m9 0h0m10 0h0m6 0h0m3 0h0m2 0h1m3 0h0m34 0h0m10 0h0m5 0h0m-126 1h0m22 0h0m51 0h0m4 0h0m28 0h0m20 0h0m29 0h0m-144 1h1m19 0h0m8 0h0m23 0h1m25 0h0m8 0h0m9 0h0m11 0h1m2 0h1m13 0h0m-97 1h0m6 0h0m3 0h0m5 0h0m10 0h0m2 0h0m8 0h0m6 0h0m2 0h0m11 0h0m3 0h0m4 0h0m13 0h0m3 0h0m5 0h0m3 0h0m-129 1h0m2 0h0m38 0h0m15 0h0m12 0h0m6 0h0m3 0h0m19 0h0m9 0h1m6 0h0m22 0h0m-82 1h0m3 0h0m4 0h0m14 0h0m7 0h0m6 0h0m2 0h0m6 0h0m4 0h0m8 0h0m14 0h0m9 0h0m11 0h0m-108 1h0m38 0h0m8 0h0m5 0h2m2 0h0m2 0h0m16 0h0m9 0h0m2 0h0m3 0h0m4 0h0m-58 1h0m3 0h0m10 0h0m8 0h0m5 0h0m9 0h0m6 0h1m16 0h0m-72 1h0m10 0h0m8 0h0m2 0h0m12 0h0m6 0h0m4 0h1m2 0h0m2 0h2m7 0h1m2 0h0m8 0h0m2 0h0m6 0h0m2 0h0m2 0h0m-117 1h0m24 0h0m60 0h0m3 0h0m2 0h0m5 0h0m5 0h0m-73 1h0m12 0h1m10 0h0m17 0h0m7 0h0m15 0h0m2 0h0m7 0h0m13 0h0m10 0h0m-119 1h0m64 0h0m4 0h0m11 0h0m3 0h0m8 0h0m18 0h0m-101 1h0m27 0h0m34 0h0m7 0h1m6 0h0m5 0h0m-35 1h0m3 0h0m8 0h0m5 0h1m24 0h0m7 0h0m3 0h0m2 0h0m-100 1h0m23 0h0m26 0h0m35 0h0m25 0h0m7 0h0m-103 1h0m34 0h0m6 0h0m9 0h0m25 0h0m9 0h0m13 0h0m-73 1h0m6 0h0m19 0h0m14 0h1m5 0h0m-70 1h0m27 0h0m2 0h1m8 0h0m10 0h0m9 0h0m8 0h0m-68 1h0m32 0h0m13 0h0m10 0h0m8 0h0m2 0h0m25 0h0m3 0h0m-44 1h0m18 0h0m2 0h0m12 0h0m-89 1h0m46 0h0m23 0h0m3 0h0m12 0h0m-50 1h0m19 0h0m11 0h0m2 0h0m10 0h0m4 0h0m-54 1h0m3 0h0m6 0h1m5 0h0m54 0h0m-77 1h0m6 0h0m5 0h0m32 0h0m10 0h0m13 0h0m8 0h0m-34 1h0m21 0h0m12 0h0m-79 1h0m6 0h0m12 0h0m23 0h0m2 0h0m3 0h0m10 0h0m7 0h0m4 0h0m-46 1h0m3 0h0m30 0h0m6 1h0m6 0h0m-42 1h0m37 0h0m3 0h0m7 0h2m-61 1h0m29 0h0m-20 1h0m5 0h0m3 0h0m3 0h0m24 0h0m20 0h0m7 0h0m10 0h0m-62 1h0m12 0h0m4 0h0m19 0h0m23 0h0m-74 1h0m10 0h0m45 0h0m6 0h0m-51 1h0m12 0h0m39 0h0m11 0h0m-101 1h0m55 0h0m42 0h0m12 0h0m-94 1h0m49 0h0m44 0h0m2 0h0m-88 1h0m13 0h0m17 0h0m8 0h0m2 0h0m14 0h0m21 0h0m-59 1h0m17 0h0m3 0h0m14 0h1m12 0h0m-35 1h0m10 0h0m13 0h0m8 0h0m-50 1h0m31 0h0m5 0h0m-68 1h0m60 0h0m29 0h0m-88 1h0m48 0h0m35 0h0m-12 1h0m-5 1h0m5 0h0m23 0h0m-28 1h0m-49 1h0m14 0h0m26 0h0m2 0h0m3 0h0m6 0h0m13 0h0m-3 1h0m-29 1h0m31 0h0m-32 1h0m27 0h0m-39 1h0m7 0h0m25 0h0m-63 1h1m17 0h0m40 0h0m-37 1h0m31 0h1m1 1h0m-46 1h0m22 0h0m18 0h0m40 0h0m11 0h0m-64 1h0m49 0h0m-31 1h0m5 0h0m8 0h0m13 0h0m-101 1h0m22 0h0m32 0h0m14 0h0m32 0h0m-40 2h0m18 0h0m2 0h0m-43 1h0m10 0h0m-27 2h0m84 0h0m-84 2h0m11 0h0m13 1h0m25 2h0m2 0h0m-50 1h0m2 0h0m39 0h0m-34 1h0m6 0h0m-19 1h0m43 1h0m-31 1h0m50 1h0m-47 1h0m-6 1h0m5 0h0m-7 1h0m19 0h0m31 0h0m-37 1h0m17 0h0m-5 2h0m-29 1h0m14 0h0m8 0h0m1 1h0m-23 1h0m16 1h0m10 0h0m-7 1h0m-2 1h0m8 0h0m-9 1h0m-19 2h0m61 0h0m-45 2h0m5 3h0m14 1h0m3 0h0m-67 1h0m55 0h0m28 6h0m-26 1h0m9 3h0m10 9h0m1 15h0m28 1h0m-69 1h0m91 6h0m-64 2h0m-31 7h0m66 2h0m-124 6h0m104 0h0m-22 16h0m28 0h0m2 0h0m7 0h0m31 0h0m-87 1h0m9 0h0m18 0h0m7 0h0m9 0h0m16 0h0m13 0h0m12 0h0" stroke="#707070"/>
<path d="M168 25h0m5 6h0m-11 1h0m7 0h1m-37 1h0m18 0h0m3 0h0m2 0h0m2 0h0m6 0h0m2 0h0m4 0h0m4 0h0m-45 1h0m15 0h0m2 0h0m3 0h0m7 0h0m2 0h0m3 0h1m6 0h1m3 0h0m5 0h0m2 0h0m5 0h0m-41 1h0m4 0h4m2 0h0m5 0h1m4 0h0m5 0h0m3 0h2m-27 1h0m2 0h1m4 0h2m3 0h0m3 0h0m2 0h0m6 0h1m4 0h0m7 0h0m2 0h0m-35 1h1m2 0h0m4 0h2m2 0h1m12 0h0m7 0h0m2 0h0m-41 1h0m14 0h0m2 0h0m4 0h0m5 0h2m2 0h0m2 0h0m3 0h0m2 0h0m2 0h0m-49 1h0m16 0h0m2 0h1m2 0h0m2 0h1m3 0h2m11 0h1m3 0h0m7 0h1m2 0h0m10 0h0m-92 1h0m29 0h0m11 0h1m4 0h3m3 0h4m2 0h2m2 0h0m5 0h0m2 0h1m2 0h1m2 0h3m3 0h0m16 0h0m-56 1h0m9 0h1m3 0h3m3 0h3m2 0h4m2 0h2m3 0h0m2 0h2m2 0h0m4 0h1m-96 1h0m51 0h1m6 0h0m4 0h2m2 0h4m2 0h1m2 0h0m2 0h3m2 0h0m2 0h2m2 0h0m3 0h0m-50 1h0m2 0h1m2 0h0m4 0h2m3 0h1m3 0h2m2 0h0m2 0h0m2 0h12m2 0h2m2 0h5m2 0h0m5 0h0m8 0h0m-58 1h0m2 0h1m3 0h1m3 0h0m2 0h1m2 0h2m2 0h1m2 0h13m3 0h1m2 0h0m2 0h1m3 0h0m2 0h1m4 0h0m-61 1h0m2 0h0m2 0h1m2 0h0m2 0h0m7 0h3m2 0h1m2 0h0m2 0h2m2 0h8m2 0h5m2 0h0m2 0h2m17 0h0m-81 1h0m15 0h0m6 0h0m2 0h5m2 0h2m2 0h1m3 0h15m2 0h4m3 0h1m2 0h0m2 0h1m-67 1h0m21 0h0m3 0h3m4 0h10m2 0h21m2 0h1m3 0h0m-79 1h0m19 0h0m2 0h0m10 0h2m2 0h0m2 0h0m2 0h22m2 0h5m2 0h5m3 0h0m2 0h2m3 0h0m-99 1h0m31 0h0m5 0h0m2 0h0m3 0h0m7 0h0m3 0h16m2 0h19m2 0h0m2 0h0m2 0h0m2 0h0m2 0h0m-68 1h0m6 0h0m2 0h0m2 0h0m3 0h1m6 0h1m2 0h1m2 0h1m2 0h32m2 0h0m3 0h0m-78 1h2m24 0h0m5 0h2m2 0h2m3 0h31m2 0h0m4 0h0m-52 1h2m6 0h2m2 0h15m2 0h20m3 0h1m3 0h0m-92 1h1m3 0h1m22 0h2m10 0h3m2 0h1m2 0h4m2 0h37m2 0h0m3 0h0m-77 1h0m2 0h0m11 0h0m6 0h0m3 0h2m2 0h4m2 0h0m2 0h31m2 0h2m3 0h0m7 0h0m-74 1h0m3 0h0m9 0h3m4 0h1m2 0h1m2 0h0m2 0h8m2 0h23m5 0h0m4 0h0m3 0h0m14 0h0m5 0h0m-102 1h0m9 0h1m4 0h1m7 0h0m2 0h0m2 0h1m4 0h0m2 0h5m2 0h3m2 0h28m2 0h0m2 0h1m2 0h1m12 0h0m-128 1h0m9 0h0m25 0h0m14 0h0m3 0h0m4 0h0m7 0h0m2 0h1m3 0h2m3 0h6m2 0h30m2 0h0m2 0h3m2 0h0m-111 1h0m11 0h0m17 0h0m10 0h0m3 0h0m5 0h2m2 0h0m3 0h2m2 0h1m2 0h1m3 0h10m2 0h11m2 0h16m7 0h0m-90 1h1m12 0h0m4 0h0m6 0h0m6 0h0m2 0h0m3 0h35m2 0h5m3 0h5m2 0h1m-86 1h0m10 0h1m6 0h0m3 0h0m4 0h1m13 0h2m2 0h0m3 0h14m2 0h15m2 0h4m4 0h0m2 0h0m3 0h0m-79 1h0m13 0h0m7 0h0m2 0h0m2 0h0m3 0h0m3 0h0m5 0h26m2 0h5m2 0h4m2 0h0m-102 1h0m3 0h0m24 0h0m3 0h1m9 0h0m3 0h1m3 0h0m2 0h2m3 0h0m2 0h2m5 0h2m2 0h21m2 0h0m4 0h1m3 0h0m3 0h0m-72 1h0m5 0h1m12 0h7m3 0h0m2 0h8m2 0h9m2 0h8m5 0h1m2 0h1m6 0h0m-126 1h0m36 0h0m11 0h0m7 0h0m2 0h1m16 0h2m2 0h1m2 0h3m2 0h0m2 0h17m2 0h0m2 0h4m2 0h1m2 0h1m2 0h0m3 0h0m15 0h0m-100 1h0m15 0h0m7 0h0m6 0h0m5 0h0m2 0h0m4 0h1m3 0h3m2 0h2m4 0h0m2 0h12m2 0h4m2 0h2m3 0h0m2 0h0m-77 1h0m4 0h0m12 0h0m4 0h0m5 0h0m3 0h0m3 0h0m2 0h0m4 0h0m2 0h3m2 0h3m4 0h13m4 0h2m2 0h0m3 0h2m-92 1h0m22 0h0m17 0h0m10 0h0m3 0h1m3 0h1m3 0h2m3 0h1m2 0h6m2 0h6m2 0h0m6 0h0m4 0h0m-82 1h0m15 0h0m2 0h0m3 0h0m7 0h0m2 0h0m2 0h0m9 0h0m2 0h0m3 0h5m2 0h4m2 0h0m2 0h0m2 0h3m3 0h4m2 0h0m5 0h0m2 0h0m-111 1h0m34 0h0m8 0h0m8 0h0m9 0h0m9 0h1m2 0h0m2 0h1m4 0h0m2 0h2m3 0h1m2 0h7m3 0h0m2 0h1m3 0h1m4 0h0m3 0h0m-97 1h0m7 0h0m23 0h0m20 0h1m5 0h0m3 0h1m3 0h0m6 0h0m4 0h0m2 0h3m2 0h4m6 0h2m3 0h0m8 0h0m-107 1h0m16 0h0m6 0h0m7 0h0m2 0h0m3 0h0m3 0h0m2 0h0m4 0h0m8 0h3m5 0h0m8 0h0m2 0h2m2 0h0m4 0h2m2 0h0m2 0h0m2 0h2m2 0h1m3 0h0m2 0h0m4 0h0m-83 1h0m12 0h0m12 0h0m7 0h0m10 0h0m2 0h0m6 0h1m3 0h1m2 0h3m2 0h0m4 0h0m2 0h2m4 0h0m2 0h0m5 0h0m2 0h0m-76 1h0m11 0h0m6 0h0m2 0h0m11 0h0m6 0h0m3 0h1m5 0h1m2 0h2m2 0h0m2 0h0m2 0h1m3 0h1m4 0h1m3 0h0m5 0h0m3 0h0m-74 1h0m2 0h0m12 0h0m3 0h0m10 0h1m2 0h0m3 0h0m6 0h0m2 0h1m8 0h0m3 0h2m3 0h0m2 0h2m2 0h0m2 0h1m8 0h0m13 0h0m-117 1h0m21 0h0m17 0h0m6 0h0m14 0h0m2 0h1m8 0h0m10 0h0m9 0h0m5 0h0m8 0h0m-100 1h0m7 0h0m37 0h0m24 0h0m9 0h0m4 0h0m6 0h0m5 0h0m15 0h0m-103 1h0m10 0h0m15 0h0m33 0h0m3 0h0m7 0h0m-67 1h0m25 0h0m20 0h0m3 0h0m14 0h0m9 0h0m2 0h0m3 0h0m2 0h0m7 0h0m3 0h0m-80 1h0m22 0h2m12 0h0m9 0h0m6 0h0m8 0h0m10 0h0m17 0h0m12 0h0m2 0h0m-93 1h0m7 0h0m5 0h0m22 0h0m35 0h0m15 0h0m9 0h0m-102 1h0m25 0h0m3 0h0m64 0h0m-54 1h0m4 0h0m37 0h0m-43 1h0m16 0h0m30 0h0m7 0h0m-69 1h0m65 0h0m-36 1h0m6 0h0m7 0h0m8 0h0m12 1h0m-93 1h0m32 0h0m8 0h0m28 0h0m17 0h0m-50 1h0m12 1h0m21 0h0m-50 1h0m7 0h0m26 0h0m-24 1h0m-2 1h0m8 0h0m33 0h0m9 0h0m-34 2h0m8 0h0m10 0h0m-10 1h0m23 0h0m-31 1h0m3 0h0m8 0h0m24 0h0m-44 1h0m45 1h1m-22 1h0m7 0h0m-10 1h0m-29 1h0m12 0h0m15 0h0m19 0h0m3 0h0m-22 2h0m-40 1h0m46 0h0m-3 1h0m-37 1h0m55 0h0m-9 1h0m-24 1h0m13 0h0m-26 1h0m42 1h0m-28 1h0m15 0h0m-10 1h0m6 0h0m-8 1h0m21 0h0m-38 1h0m10 0h0m68 0h0m-19 1h0m-34 1h0m6 0h0m-74 1h0m38 1h0m20 1h0m2 0h0m14 1h0m-11 1h0m31 0h0m-55 1h0m33 0h0m-59 1h0m42 0h0m71 3h0m-79 5h0m-20 6h0m29 3h0m-28 2h0m38 1h0m-19 4h0m-34 3h0m34 0h0m-45 1h0m82 0h0m-128 8h0m71 5h0m-18 1h0m9 0h0m26 3h0m-19 2h0m32 0h0m-31 8h0m-24 9h0m-33 10h0m56 1h0m28 4h0m85 9h0m-91 22h0m-37 3h0m15 0h0m19 0h0m11 0h0m6 0h0m30 0h0m11 0h0m17 0h0m-158 1h0m66 0h0m17 0h0m48 0h0" stroke="#000"/>
</g>
<rect x="420.6" y="1158.6" width="239.2" height="238.8" fill="none" stroke="#444" stroke-width="1.3"/>
<path d="M529.6 1158.6V1397.4M420.6 1287.5H659.8" stroke="#000" stroke-width="1.9" fill="none"/>
<path d="M413.6 1397.4H420.6M413.6 1353.3H420.6M413.6 1309.2H420.6M413.6 1265.1H420.6M413.6 1221.0H420.6M413.6 1176.9H420.6M420.6 1397.4V1403.9M464.7 1397.4V1403.9M508.8 1397.4V1403.9M552.9 1397.4V1403.9M597.0 1397.4V1403.9M641.1 1397.4V1403.9" stroke="#111" stroke-width="2" fill="none"/>
<path d="M417.1 1384.1H420.6M417.1 1376.4H420.6M417.1 1370.8H420.6M417.1 1366.6H420.6M417.1 1363.1H420.6M417.1 1360.1H420.6M417.1 1357.6H420.6M417.1 1355.3H420.6M417.1 1340.0H420.6M417.1 1332.3H420.6M417.1 1326.7H420.6M417.1 1322.5H420.6M417.1 1319.0H420.6M417.1 1316.0H420.6M417.1 1313.5H420.6M417.1 1311.2H420.6M417.1 1295.9H420.6M417.1 1288.2H420.6M417.1 1282.6H420.6M417.1 1278.4H420.6M417.1 1274.9H420.6M417.1 1271.9H420.6M417.1 1269.4H420.6M417.1 1267.1H420.6M417.1 1251.8H420.6M417.1 1244.1H420.6M417.1 1238.5H420.6M417.1 1234.3H420.6M417.1 1230.8H420.6M417.1 1227.8H420.6M417.1 1225.3H420.6M417.1 1223.0H420.6M417.1 1207.7H420.6M417.1 1200.0H420.6M417.1 1194.4H420.6M417.1 1190.2H420.6M417.1 1186.7H420.6M417.1 1183.7H420.6M417.1 1181.2H420.6M417.1 1178.9H420.6M417.1 1163.6H420.6M433.9 1397.4V1400.9M441.6 1397.4V1400.9M447.2 1397.4V1400.9M451.4 1397.4V1400.9M454.9 1397.4V1400.9M457.9 1397.4V1400.9M460.4 1397.4V1400.9M462.7 1397.4V1400.9M478.0 1397.4V1400.9M485.7 1397.4V1400.9M491.3 1397.4V1400.9M495.5 1397.4V1400.9M499.0 1397.4V1400.9M502.0 1397.4V1400.9M504.5 1397.4V1400.9M506.8 1397.4V1400.9M522.1 1397.4V1400.9M529.8 1397.4V1400.9M535.4 1397.4V1400.9M539.6 1397.4V1400.9M543.1 1397.4V1400.9M546.1 1397.4V1400.9M548.6 1397.4V1400.9M550.9 1397.4V1400.9M566.2 1397.4V1400.9M573.9 1397.4V1400.9M579.5 1397.4V1400.9M583.7 1397.4V1400.9M587.2 1397.4V1400.9M590.2 1397.4V1400.9M592.7 1397.4V1400.9M595.0 1397.4V1400.9M610.3 1397.4V1400.9M618.0 1397.4V1400.9M623.6 1397.4V1400.9M627.8 1397.4V1400.9M631.3 1397.4V1400.9M634.3 1397.4V1400.9M636.8 1397.4V1400.9M639.1 1397.4V1400.9M654.4 1397.4V1400.9" stroke="#333" stroke-width="1.1" fill="none"/>
<text x="424.8" y="1183.4" font-family="'Liberation Serif', serif" font-size="16.5" font-weight="bold" text-anchor="start" >4,88</text>
<text x="638.1" y="1183.4" font-family="'Liberation Serif', serif" font-size="16.5" font-weight="bold" text-anchor="end" >90,8</text>
<text x="424.8" y="1382.1" font-family="'Liberation Serif', serif" font-size="16.5" font-weight="bold" text-anchor="start" >2,39</text>
<text x="638.1" y="1382.1" font-family="'Liberation Serif', serif" font-size="16.5" font-weight="bold" text-anchor="end" >1,94</text>
<g transform="translate(717.5,1159.5)" fill="none" stroke-linecap="square" stroke-width="1.4">
<path d="M93 15h0m67 8h0m30 0h0m-49 3h0m9 0h0m18 1h0m-18 1h0m-1 1h1m8 0h0m19 0h0m-51 1h0m-3 1h0m19 0h0m30 0h0m-35 1h0m34 0h0m36 0h0m-75 1h0m12 0h0m11 0h0m10 0h0m21 0h0m2 0h0m-58 1h1m13 0h0m2 0h2m2 0h1m7 0h0m5 0h0m19 0h0m-43 1h0m2 0h0m10 0h0m18 0h0m4 0h0m6 0h0m-35 1h0m16 0h0m6 0h1m9 0h0m6 0h0m-65 1h0m4 0h0m32 0h0m7 0h0m2 0h0m10 0h1m2 0h0m4 0h0m23 0h0m-82 1h0m6 0h0m4 0h0m16 0h0m11 0h0m20 0h0m2 0h0m2 0h0m2 0h0m31 0h0m-84 1h0m3 0h0m3 0h0m2 0h0m12 0h0m10 0h0m9 0h0m2 0h0m7 0h0m2 0h0m11 0h0m13 0h0m-91 1h0m2 0h0m31 0h0m6 0h0m2 0h0m13 0h0m2 0h0m10 0h0m2 0h0m7 0h0m12 0h0m6 0h0m-63 1h0m2 0h0m4 0h0m10 0h0m2 0h0m6 0h0m18 0h1m-72 1h0m16 0h0m7 0h1m7 0h0m6 0h0m15 0h0m10 0h0m-42 1h0m2 0h0m10 0h0m10 0h0m21 0h0m12 0h0m-65 1h0m5 0h0m8 0h0m2 0h0m5 0h0m19 0h0m7 0h0m15 0h0m2 0h0m2 0h0m7 0h0m5 0h0m-89 1h0m8 0h0m5 0h1m11 0h0m30 0h0m26 0h0m11 0h0m20 0h0m-117 1h0m37 0h0m14 0h0m-47 1h0m16 0h0m3 0h0m53 0h0m7 0h0m11 0h0m2 0h0m7 0h0m-89 1h0m7 0h0m4 0h0m14 0h0m46 0h1m7 0h0m-84 1h0m3 0h1m10 0h0m7 0h0m3 0h0m18 0h0m29 0h0m16 0h1m-100 1h0m7 0h0m4 0h0m14 0h0m5 0h0m34 0h0m12 0h0m9 0h0m-65 1h0m18 0h0m2 0h0m8 0h0m36 0h0m13 0h0m7 0h0m-85 1h0m9 0h0m5 0h0m47 0h1m4 0h0m4 0h1m4 0h0m7 0h1m4 0h0m-82 1h0m51 0h0m14 0h0m2 0h1m5 0h0m-74 1h0m4 0h0m67 0h0m-92 1h0m25 0h0m43 0h0m11 0h0m9 0h0m12 0h0m-88 1h0m6 0h0m4 0h0m6 0h0m9 0h0m40 0h0m3 0h0m10 0h0m6 0h0m3 0h0m-84 1h0m2 0h1m4 0h0m14 0h0m60 0h0m8 0h0m-132 1h0m32 0h0m17 0h0m4 0h0m4 0h0m26 0h0m23 0h0m4 0h0m10 0h0m5 0h0m2 0h1m-107 1h0m18 0h0m2 0h0m3 0h1m6 0h0m4 0h0m8 0h0m6 0h0m29 0h0m11 0h0m3 0h0m7 0h0m2 0h0m-107 1h0m24 0h1m7 0h0m2 0h0m12 0h0m12 0h0m26 0h0m14 0h0m4 0h0m2 0h0m-66 1h2m8 0h0m10 0h0m36 0h1m16 0h0m-83 1h0m3 0h0m5 0h0m4 0h0m2 0h1m15 0h0m39 0h0m3 0h0m3 0h0m25 0h0m-79 1h0m40 0h0m8 0h0m5 0h0m7 0h0m-84 1h0m2 0h0m11 0h0m5 0h0m3 0h0m2 0h0m3 0h0m39 0h0m16 0h0m-125 1h0m33 0h0m11 0h1m14 0h0m2 0h1m15 0h0m2 0h0m29 0h0m2 0h1m4 0h0m8 0h0m-75 1h0m7 0h0m6 0h1m2 0h0m3 0h0m4 0h0m4 0h0m21 0h0m25 0h0m3 0h0m3 0h0m3 0h0m-67 1h0m2 0h0m24 0h0m11 0h0m8 0h1m36 0h0m3 0h0m-96 1h1m3 0h0m11 0h0m5 0h0m21 0h0m12 0h0m6 0h0m13 0h0m7 0h0m-80 1h0m8 0h0m10 0h0m4 0h0m5 0h0m3 0h0m17 0h1m6 0h0m2 0h0m4 0h0m-67 1h0m9 0h0m2 0h0m4 0h1m8 0h0m9 0h0m5 0h0m2 0h0m21 0h0m3 0h0m6 0h1m7 0h0m7 0h1m-105 1h0m18 0h0m4 0h0m9 0h0m7 0h1m26 0h0m2 0h0m9 0h0m5 0h0m19 0h2m-45 1h0m17 0h0m4 0h0m8 0h0m5 0h0m2 0h0m19 0h0m2 0h0m-76 1h0m3 0h0m8 0h0m2 0h1m2 0h0m4 0h1m14 0h0m2 0h0m3 0h0m9 0h0m15 0h0m-180 1h0m103 0h1m6 0h0m5 0h0m7 0h0m12 0h0m5 0h0m5 0h0m6 0h0m9 0h0m9 0h0m5 0h0m-69 1h0m15 0h0m2 0h0m2 0h0m32 0h0m2 0h0m11 0h4m3 0h0m17 0h0m-98 1h0m4 0h0m13 0h0m7 0h0m27 0h0m3 0h1m2 0h2m11 0h0m7 0h0m11 0h0m-67 1h0m4 0h0m3 0h0m14 0h1m3 0h0m7 0h0m2 0h2m21 0h0m5 0h0m8 0h0m15 0h0m-101 1h0m23 0h0m22 0h0m13 0h0m-71 1h1m12 0h0m6 0h0m6 0h0m30 0h0m2 0h3m4 0h0m5 0h0m-82 1h0m44 0h0m25 0h0m6 0h0m-74 1h0m11 0h0m47 0h0m34 0h0m13 0h0m4 0h0m-95 1h0m21 0h0m8 0h0m2 0h0m7 0h0m15 0h0m18 0h0m12 0h0m6 0h0m8 0h0m-69 1h0m24 0h0m16 0h0m-91 1h0m36 0h0m69 0h0m3 0h0m-88 1h0m53 0h0m40 0h0m-56 1h0m5 0h0m38 0h0m5 0h0m-86 2h0m6 0h0m12 0h0m35 0h0m2 0h0m9 0h0m20 0h0m-117 1h0m15 0h0m43 0h1m9 0h1m13 0h0m18 0h0m-55 1h0m20 0h0m4 0h1m19 0h0m-14 1h0m8 0h2m12 0h0m16 0h0m-122 1h0m74 0h0m7 0h0m11 0h0m5 0h0m12 0h0m-22 1h0m-68 1h0m47 0h0m7 0h0m16 0h0m-32 1h0m12 0h0m67 0h0m-96 1h0m13 0h0m7 0h0m24 0h0m6 0h0m12 0h0m-22 1h0m26 0h0m4 0h0m15 0h0m-72 1h0m46 0h0m31 0h0m-99 1h0m37 0h0m31 0h0m26 0h0m-102 1h0m42 0h0m7 0h0m24 0h1m3 0h0m-72 1h1m29 0h0m36 0h0m10 0h0m-40 1h0m2 0h0m19 0h0m2 0h0m22 0h0m-54 1h0m18 0h0m-35 2h0m30 0h0m-62 1h0m68 0h0m5 0h0m8 0h0m3 0h0m-22 1h0m20 0h0m2 0h1m-77 1h0m7 0h0m53 0h1m-34 1h0m13 0h0m-68 1h0m112 0h0m-88 1h0m41 0h0m7 0h0m18 0h0m11 0h0m2 0h0m36 0h0m-76 1h0m22 0h0m4 0h0m4 0h0m-53 1h0m7 0h0m9 0h0m43 0h0m7 0h0m-67 1h0m18 0h0m7 0h0m8 0h0m16 0h0m8 0h0m-17 1h0m10 0h0m-45 1h0m24 0h0m9 0h0m15 0h0m-15 1h0m28 0h0m7 0h0m-51 1h0m35 0h0m2 0h0m13 0h0m2 0h0m-23 1h0m6 0h0m13 0h0m-81 2h0m6 0h0m85 0h0m-101 1h0m30 0h0m29 0h0m-35 1h0m15 0h0m13 0h0m-49 1h0m14 0h0m58 0h0m1 1h1m9 0h0m-67 2h0m46 0h0m6 0h0m-21 1h0m3 0h0m24 0h0m14 0h0m-28 1h0m9 0h0m3 1h0m-13 1h0m-4 1h0m10 0h1m36 0h0m-19 1h0m-87 1h0m47 0h0m14 0h0m21 0h0m3 1h0m2 0h0m-25 1h0m5 0h0m14 0h0m-45 1h0m-28 1h0m41 0h0m3 0h0m12 0h0m-18 1h0m32 0h0m5 0h0m-31 1h0m-1 1h0m4 1h0m35 0h0m-52 1h0m-4 2h0m47 0h0m37 0h0m-75 1h0m-29 1h0m43 0h0m31 0h0m-44 2h0m48 0h0m-29 1h0m30 2h0m-34 1h0m18 0h0m-1 2h0m-11 3h0m-49 1h0m72 0h0m-37 1h0m32 2h0m-51 1h0m38 1h0m2 4h0m25 0h0m4 0h0m-21 1h0m-45 1h0m5 1h1m31 0h0m14 1h0m14 2h0m-60 1h0m-7 1h0m10 0h0m8 0h0m0 1h0m4 3h0m-17 4h0m-42 13h0m77 3h0m0 10h0m2 0h0m-137 2h0m169 5h0m-132 8h0m133 10h0m-162 1h0m70 0h0m3 0h1m55 0h0m4 0h0m42 0h0m-131 1h0m37 0h0m38 0h0m18 0h0m3 0h2m8 0h0m5 0h0m64 0h0" stroke="#bdbdbd"/>
<path d="M197 21h0m-44 2h0m31 2h0m-42 1h0m3 0h0m2 0h0m11 0h0m20 0h0m-24 1h0m22 0h0m-21 1h0m30 0h0m-33 1h0m11 0h0m8 0h0m16 0h0m-37 1h0m17 0h0m-21 1h0m34 0h0m-36 1h0m25 0h0m3 0h0m6 0h0m3 0h0m-59 1h1m15 0h0m12 0h0m2 0h0m12 0h0m2 0h0m6 0h0m2 0h0m2 0h0m9 0h0m4 0h0m26 0h0m-113 1h0m37 0h0m16 0h0m10 0h0m10 0h0m2 0h0m6 0h0m-66 1h0m16 0h0m5 0h0m7 0h0m10 0h0m7 0h2m20 0h0m3 0h0m-58 1h0m19 0h0m10 0h0m3 0h1m3 0h0m3 0h0m4 0h0m3 0h0m6 0h0m4 0h0m12 0h0m-69 1h0m22 0h0m2 0h0m6 0h0m11 0h0m5 0h0m2 0h2m5 0h1m19 0h0m24 0h0m-80 1h0m4 0h0m2 0h0m11 0h0m9 0h0m2 0h1m8 0h1m5 0h0m14 0h0m-78 1h0m13 0h0m3 0h0m2 0h0m8 0h0m6 0h0m7 0h1m16 0h0m11 0h0m3 0h0m10 0h0m-70 1h0m2 0h0m2 0h0m2 0h1m7 0h0m13 0h0m2 0h0m11 0h0m8 0h0m2 0h0m9 0h0m-71 1h0m3 0h0m15 0h0m2 0h0m22 0h0m10 0h0m2 0h0m9 0h0m4 0h0m3 0h0m-60 1h0m5 0h0m9 0h0m2 0h0m30 0h0m5 0h0m10 0h0m5 0h0m2 0h0m-113 1h0m26 0h0m17 0h0m5 0h0m18 0h0m10 0h1m2 0h0m4 0h0m8 0h0m3 0h0m2 0h0m3 0h0m3 0h0m2 0h0m6 0h0m-68 1h1m23 0h0m20 0h0m6 0h0m21 0h0m2 0h1m-76 1h0m3 0h0m6 0h0m4 0h0m2 0h0m12 0h0m23 0h0m6 0h0m6 0h1m10 0h0m-94 1h0m2 0h0m3 0h1m9 0h0m6 0h0m12 0h0m4 0h1m9 0h0m29 0h0m4 0h0m2 0h0m3 0h0m3 0h2m5 0h0m-68 1h0m5 0h0m32 0h0m13 0h0m10 0h0m2 0h0m12 0h0m-91 1h0m6 0h0m16 0h0m11 0h0m24 0h0m21 0h0m22 0h0m-91 1h1m6 0h0m5 0h0m44 0h0m6 0h1m9 0h0m6 0h0m-105 1h0m31 0h0m5 0h0m52 0h0m3 0h0m4 0h0m2 0h0m10 0h0m-97 1h0m4 0h0m8 0h0m6 0h1m7 0h0m5 0h0m33 0h0m8 0h0m21 0h0m14 0h0m8 0h0m-110 1h0m3 0h0m6 0h0m2 0h0m4 0h0m4 0h1m9 0h0m43 0h0m5 0h0m33 0h0m-122 1h0m2 0h0m78 0h0m14 0h0m3 0h0m-84 1h0m4 0h0m6 0h0m6 0h0m7 0h0m58 0h0m-72 1h0m3 0h1m6 0h0m5 0h1m38 0h2m19 0h0m7 0h2m20 0h0m-103 1h0m3 0h0m63 0h0m7 0h1m7 0h0m-87 1h0m7 0h0m2 0h2m2 0h1m52 0h0m13 0h0m-91 1h0m4 0h0m4 0h0m6 0h1m7 0h0m6 0h0m5 0h0m18 0h0m27 0h0m25 0h0m-99 1h0m14 0h0m70 0h0m-91 1h1m14 0h0m19 0h0m66 0h0m-124 1h0m25 0h0m15 0h0m17 0h1m53 0h0m10 0h0m-80 1h0m20 0h0m7 0h0m28 0h0m10 0h0m16 0h0m2 0h0m-94 1h0m12 0h0m9 0h0m5 0h0m6 0h0m34 0h0m9 0h0m9 0h0m8 0h0m2 0h0m2 0h0m-75 1h1m4 0h0m7 0h0m28 0h2m28 0h0m2 0h0m-82 1h0m5 0h0m12 0h0m3 0h0m16 0h0m33 0h0m-89 1h0m22 0h0m17 0h1m5 0h0m10 0h0m22 0h0m6 0h0m6 0h0m-74 1h0m12 0h0m6 0h0m8 0h0m7 0h0m3 0h0m3 0h0m8 0h0m21 0h0m7 0h0m3 0h0m15 0h0m-91 1h0m20 0h0m2 0h0m13 0h0m9 0h0m18 0h0m6 0h0m8 0h1m3 0h0m-92 1h0m13 0h0m8 0h0m11 0h0m5 0h0m6 0h0m5 0h0m18 0h1m2 0h0m3 0h0m4 0h0m6 0h0m3 0h0m3 0h0m10 0h0m-101 1h0m14 0h0m6 0h0m6 0h0m8 0h0m7 0h0m4 0h0m2 0h0m5 0h0m23 0h1m2 0h0m8 0h0m6 0h0m9 0h0m-84 1h1m18 0h0m2 0h0m5 0h1m4 0h0m2 0h0m2 0h0m10 0h0m4 0h0m27 0h0m8 0h0m-91 1h0m8 0h1m5 0h0m17 0h0m4 0h0m2 0h0m7 0h0m16 0h0m7 0h0m7 0h0m34 0h0m-89 1h0m4 0h1m4 0h0m21 0h0m27 0h0m2 0h0m-78 1h0m11 0h0m4 0h0m4 0h0m10 0h0m38 0h1m7 0h0m7 0h0m17 0h0m-99 1h0m13 0h0m8 0h0m2 0h0m5 0h0m2 0h0m5 0h0m2 0h0m2 0h0m4 0h0m8 0h0m3 0h0m3 0h1m4 0h0m7 0h0m11 0h0m-85 1h0m17 0h0m4 0h0m7 0h0m3 0h0m5 0h0m3 0h0m2 0h0m7 0h0m7 0h0m12 0h3m11 0h0m-72 1h0m13 0h0m6 0h0m12 0h0m12 0h0m5 0h0m7 0h0m2 0h1m5 0h0m17 0h0m-67 1h0m6 0h0m2 0h0m11 0h0m3 0h0m21 0h0m4 0h1m3 0h0m12 0h0m4 0h0m2 0h0m-107 1h0m36 0h0m18 0h1m5 0h0m7 0h0m11 0h0m8 0h0m31 0h0m-70 1h0m4 0h0m3 0h0m7 0h0m6 0h0m5 0h1m33 0h0m-74 1h0m2 0h0m4 0h0m8 0h1m2 0h0m2 0h0m5 0h1m6 0h0m3 0h0m5 0h0m5 0h0m3 0h0m20 0h0m2 0h0m-95 1h0m64 0h1m8 0h0m2 0h0m22 0h0m-66 1h0m7 0h0m11 0h0m10 0h0m7 0h0m-91 1h0m44 0h0m17 0h0m2 0h0m16 0h0m4 0h0m10 0h0m3 0h0m-51 1h0m6 0h0m40 0h0m19 0h0m-92 1h0m31 0h0m9 0h1m20 0h0m2 0h0m3 0h0m11 0h0m29 0h0m-97 1h0m29 0h0m8 0h0m14 0h0m2 0h0m5 0h1m-43 1h0m22 0h0m15 0h0m-31 1h0m11 0h0m16 0h0m37 0h0m22 0h0m-106 1h0m41 0h0m8 0h0m3 0h0m16 0h0m-88 1h0m98 0h0m-149 1h0m90 0h0m9 0h0m3 0h0m12 0h0m15 0h0m7 0h1m-75 1h0m10 0h0m7 0h0m42 0h0m9 1h0m11 0h0m-39 1h0m14 0h0m3 0h0m4 0h0m7 0h0m11 0h0m12 0h0m-100 1h0m31 0h0m7 0h0m6 0h0m8 0h0m13 0h0m-44 1h0m8 0h0m4 0h0m47 0h0m11 0h1m-59 1h0m7 0h0m2 0h0m13 1h0m18 0h0m12 0h0m2 0h0m-23 1h0m14 0h0m-52 1h0m13 0h0m9 0h0m27 0h0m5 0h0m-84 1h0m6 0h0m19 0h0m23 0h0m7 0h0m3 0h0m11 0h0m13 0h0m-41 1h0m7 0h0m5 0h0m-77 1h0m66 0h0m6 0h0m5 1h0m3 0h0m3 0h0m-16 1h0m10 0h0m-7 1h0m2 0h0m30 0h0m-56 1h0m6 0h0m24 0h0m9 0h0m18 0h0m-60 1h0m47 0h0m15 0h0m-45 1h1m2 0h0m2 0h0m26 0h0m3 0h0m13 0h0m21 0h0m-108 1h0m76 0h0m-54 1h0m8 0h0m37 0h0m16 0h0m5 0h0m23 0h0m-74 1h0m66 0h0m-83 1h0m4 0h0m22 0h0m14 0h0m21 0h0m-80 1h0m71 0h0m2 0h0m11 0h0m-66 1h0m3 0h0m27 0h0m32 0h0m-49 1h0m39 0h0m2 0h0m2 0h0m-69 1h0m22 0h0m26 1h0m17 0h0m13 0h0m-12 1h0m-44 1h0m43 0h0m-37 1h0m22 0h0m15 0h0m-77 1h0m16 0h0m21 0h0m22 0h0m8 0h0m62 0h0m-87 1h0m29 0h0m14 0h0m-54 1h0m6 0h0m29 0h0m1 1h0m6 0h0m27 0h0m-23 1h0m-38 1h0m23 0h0m11 0h0m3 0h0m11 0h0m14 0h0m-66 1h0m30 0h0m14 0h0m-45 1h1m36 0h0m6 0h0m-47 1h0m54 0h0m-35 2h0m25 0h0m15 1h0m-67 1h0m-2 1h0m57 0h0m12 0h0m28 0h0m-76 1h0m-33 1h0m77 1h0m-41 2h0m38 0h0m-57 1h0m-18 1h0m33 1h0m49 0h0m-33 2h0m3 1h0m-46 2h0m36 0h0m-24 1h0m20 0h0m25 0h0m20 0h0m-72 1h0m-31 1h0m52 0h0m12 0h0m2 2h0m-19 3h0m11 0h0m22 0h0m-52 2h0m77 0h0m-82 1h0m21 0h0m-8 1h0m37 1h0m8 0h0m-14 3h0m44 0h0m-48 1h0m9 0h0m35 0h0m-70 1h0m23 0h0m4 0h0m26 0h0m-47 2h0m18 1h0m12 0h0m-5 1h0m-28 1h0m7 0h0m-4 1h0m16 1h0m-4 2h0m20 1h0m-28 1h0m45 2h0m-42 2h0m23 3h0m-28 1h0m41 1h0m-15 4h0m-18 5h0m-4 3h0m34 3h0m-20 4h0m11 3h0m-21 27h0m28 0h0m13 0h0m52 0h0m6 0h0m-146 1h0m38 0h0m4 0h1m9 0h0m7 0h0m36 0h0m15 0h0m7 0h0" stroke="#707070"/>
<path d="M161 26h0m-2 1h0m18 1h0m-20 1h0m11 1h0m11 0h0m-18 1h0m34 0h0m-44 1h0m0 1h0m8 0h0m2 0h0m6 0h1m-25 1h0m24 0h1m2 0h0m4 0h0m26 0h0m-54 1h0m6 0h1m6 0h0m7 0h0m2 0h0m2 0h2m21 0h0m-42 1h0m2 0h0m3 0h0m7 0h0m7 0h0m3 0h0m17 0h0m-55 1h0m5 0h0m4 0h1m6 0h0m3 0h0m3 0h0m2 0h0m2 0h0m2 0h0m2 0h2m3 0h0m11 0h0m-45 1h0m4 0h0m5 0h0m9 0h0m4 0h0m2 0h1m2 0h0m3 0h3m2 0h0m11 0h0m-60 1h0m9 0h0m6 0h0m3 0h1m5 0h0m2 0h1m4 0h4m2 0h0m2 0h2m4 0h1m4 0h0m2 0h0m3 0h0m2 0h0m4 0h3m4 0h0m2 0h0m-62 1h0m2 0h1m2 0h0m4 0h0m2 0h0m4 0h0m2 0h1m3 0h0m2 0h0m3 0h4m4 0h0m4 0h0m2 0h5m2 0h1m4 0h0m12 0h0m3 0h0m-71 1h0m3 0h0m4 0h0m5 0h1m2 0h0m5 0h2m2 0h0m2 0h0m3 0h3m2 0h0m2 0h2m4 0h3m2 0h1m3 0h0m3 0h0m2 0h0m2 0h0m6 0h0m-85 1h0m20 0h0m6 0h1m4 0h0m4 0h2m4 0h1m2 0h0m3 0h13m2 0h3m2 0h3m2 0h1m3 0h3m4 0h0m4 0h0m11 0h0m-62 1h2m2 0h0m2 0h1m2 0h4m3 0h7m3 0h0m2 0h2m2 0h3m2 0h1m2 0h1m2 0h0m2 0h1m3 0h0m2 0h0m-65 1h0m9 0h0m2 0h0m2 0h0m2 0h0m3 0h1m2 0h6m2 0h3m2 0h1m2 0h5m2 0h3m2 0h1m2 0h1m2 0h2m2 0h0m4 0h0m28 0h0m13 0h0m-100 1h0m3 0h0m2 0h0m3 0h2m2 0h0m2 0h0m2 0h1m2 0h5m2 0h0m2 0h2m2 0h3m2 0h10m2 0h4m3 0h0m3 0h0m5 0h0m6 0h0m-68 1h0m2 0h0m2 0h3m2 0h1m4 0h7m2 0h1m2 0h24m2 0h1m6 0h0m-66 1h0m7 0h1m2 0h2m3 0h2m2 0h4m2 0h0m2 0h18m2 0h4m2 0h3m2 0h0m2 0h0m3 0h0m2 0h1m7 0h0m6 0h1m-97 1h0m14 0h0m4 0h0m4 0h0m3 0h0m3 0h1m4 0h3m3 0h2m2 0h22m3 0h8m2 0h1m2 0h0m4 0h0m-80 1h0m15 0h0m3 0h0m4 0h0m2 0h0m3 0h1m2 0h0m2 0h11m2 0h23m2 0h2m2 0h0m3 0h2m3 0h1m9 0h0m-82 1h0m6 0h0m3 0h0m4 0h1m2 0h27m2 0h10m2 0h4m2 0h0m3 0h0m4 0h0m2 0h0m-63 1h0m2 0h0m2 0h3m3 0h0m2 0h0m2 0h4m2 0h20m2 0h6m2 0h4m2 0h2m2 0h0m5 0h0m2 0h0m2 0h0m2 0h0m-77 1h1m8 0h0m3 0h4m2 0h38m3 0h0m2 0h0m8 0h0m-92 1h0m11 0h0m6 0h0m5 0h0m4 0h0m2 0h0m3 0h1m2 0h1m2 0h37m2 0h2m2 0h7m3 0h0m8 0h0m4 0h0m4 0h0m-87 1h1m5 0h1m5 0h3m2 0h46m2 0h0m3 0h3m6 0h0m3 0h2m-84 1h0m2 0h0m10 0h1m2 0h3m3 0h0m2 0h0m2 0h27m2 0h3m4 0h2m2 0h4m2 0h0m3 0h1m-89 1h0m24 0h1m4 0h1m3 0h2m2 0h38m2 0h1m2 0h4m2 0h1m27 0h0m-113 1h0m7 0h0m4 0h0m7 0h0m9 0h2m2 0h2m2 0h42m2 0h2m3 0h0m9 0h0m4 0h0m-80 1h0m7 0h0m2 0h0m3 0h2m3 0h3m2 0h11m2 0h0m2 0h21m2 0h0m2 0h0m2 0h1m2 0h0m2 0h0m8 0h0m10 0h0m-85 1h0m3 0h0m2 0h0m2 0h0m2 0h4m2 0h4m2 0h27m2 0h9m2 0h1m2 0h4m-73 1h0m5 0h0m2 0h3m2 0h1m2 0h0m3 0h4m2 0h3m2 0h24m2 0h12m2 0h1m6 0h0m2 0h0m4 0h0m-99 1h0m12 0h0m10 0h0m6 0h0m2 0h2m5 0h7m2 0h28m2 0h0m2 0h2m3 0h3m5 0h0m3 0h0m2 0h0m-70 1h0m5 0h5m2 0h4m4 0h20m2 0h3m2 0h7m3 0h0m3 0h0m3 0h0m3 0h1m-89 1h0m10 0h0m3 0h0m5 0h2m6 0h1m3 0h1m2 0h0m2 0h0m2 0h30m2 0h2m2 0h3m2 0h1m2 0h0m3 0h0m3 0h0m-70 1h3m5 0h0m5 0h0m3 0h0m3 0h24m2 0h0m4 0h6m2 0h5m2 0h3m8 0h0m4 0h0m-90 1h0m15 0h0m8 0h0m2 0h1m2 0h6m2 0h0m3 0h3m2 0h0m2 0h19m2 0h0m3 0h2m3 0h0m2 0h1m6 0h0m2 0h1m-87 1h0m21 0h0m2 0h0m5 0h0m2 0h1m3 0h0m2 0h5m2 0h10m2 0h6m2 0h0m3 0h0m2 0h1m5 0h1m2 0h0m4 0h0m2 0h0m-77 1h0m12 0h1m6 0h1m3 0h0m2 0h0m2 0h1m2 0h1m2 0h0m3 0h4m2 0h0m2 0h7m2 0h0m2 0h4m3 0h1m2 0h2m2 0h0m8 0h0m-67 1h0m6 0h0m6 0h1m2 0h7m3 0h1m2 0h2m3 0h1m2 0h10m2 0h0m4 0h0m2 0h0m8 0h0m5 0h0m8 0h0m-87 1h0m14 0h0m3 0h2m2 0h1m2 0h0m5 0h1m3 0h1m3 0h8m2 0h4m5 0h0m2 0h0m4 0h0m4 0h0m3 0h0m2 0h1m2 0h0m3 0h0m-76 1h0m3 0h0m2 0h0m4 0h0m7 0h0m6 0h1m3 0h0m2 0h0m5 0h1m4 0h4m2 0h11m8 0h2m-59 1h0m12 0h1m2 0h0m2 0h0m2 0h0m4 0h1m8 0h1m2 0h1m2 0h0m3 0h2m3 0h1m3 0h0m8 0h0m5 0h1m-66 1h0m12 0h0m3 0h0m3 0h2m4 0h0m4 0h2m2 0h1m3 0h0m2 0h6m2 0h1m2 0h0m4 0h1m8 0h1m3 0h0m10 0h0m7 0h0m-64 1h0m12 0h0m3 0h2m4 0h0m2 0h1m2 0h1m2 0h0m5 0h1m3 0h2m18 0h0m-89 1h0m27 0h0m5 0h0m2 0h2m2 0h1m4 0h0m2 0h1m2 0h2m5 0h2m3 0h1m3 0h0m10 0h0m4 0h1m-73 1h0m16 0h0m11 0h0m5 0h0m2 0h0m3 0h0m5 0h1m9 0h0m3 0h1m-41 1h0m3 0h0m6 0h0m5 0h0m6 0h0m2 0h0m3 0h1m15 0h0m7 0h0m5 0h0m-52 1h0m2 0h0m11 0h1m7 0h0m9 0h0m8 0h0m2 0h0m3 0h0m3 0h0m11 0h0m-80 1h0m27 0h0m9 0h1m10 0h0m2 0h0m6 0h0m5 0h0m18 0h0m-87 1h0m16 0h0m8 0h0m6 0h0m4 0h0m3 0h0m5 0h0m2 0h0m4 0h0m2 0h0m-22 1h0m53 0h0m-98 1h0m52 0h0m4 0h0m16 0h0m10 0h0m13 0h1m-61 1h0m3 0h0m5 0h0m6 0h0m11 0h0m8 0h0m15 0h0m12 0h0m-55 1h0m7 0h0m13 0h2m48 0h0m-56 1h0m20 0h1m2 0h0m-29 1h0m7 0h0m6 0h0m26 0h0m8 0h0m3 0h0m-76 1h0m18 0h0m15 0h0m35 0h0m22 0h0m-98 1h0m32 0h0m20 0h0m16 0h0m-15 1h0m-25 1h0m4 0h0m38 0h0m-100 1h0m67 1h0m5 1h0m10 0h0m14 0h0m-11 1h0m6 0h0m7 2h0m-56 1h0m11 1h0m4 0h0m20 0h0m33 0h0m-30 1h0m33 0h0m-92 1h0m6 0h0m45 0h0m1 1h0m13 0h0m13 0h0m5 0h0m15 0h0m-59 1h0m-30 1h0m32 1h0m31 1h0m-76 1h0m36 0h1m30 0h0m11 0h0m-84 1h0m82 0h0m-30 1h0m10 0h0m2 0h0m18 0h0m-16 1h0m10 1h0m-28 1h0m24 0h0m19 0h0m-60 1h0m52 0h0m-43 1h0m27 0h1m2 0h0m5 0h0m18 0h0m40 0h0m-91 1h0m32 2h0m-7 1h0m12 0h0m-31 2h0m17 0h0m-1 2h0m-33 1h0m23 0h0m11 3h0m-33 2h0m-38 1h0m66 0h0m-64 1h0m97 0h0m-68 7h0m22 4h0m53 1h0m29 0h0m-55 1h0m6 1h0m-54 1h0m76 1h0m-29 1h0m-4 5h0m-55 2h0m35 2h0m2 0h0m0 1h0m9 0h0m-60 4h0m35 0h0m-6 1h0m33 0h0m-45 1h0m16 1h0m26 1h0m-12 1h0m7 0h0m-24 1h0m42 4h0m-18 5h0m23 4h0m-80 10h0m19 2h0m20 10h0m-17 36h0m75 0h0m4 0h0m-95 1h0m36 0h0m3 0h0m13 0h0m2 0h0m7 0h0m46 0h0" stroke="#000"/>
</g>
<rect x="716.8" y="1158.7" width="238.5" height="239.0" fill="none" stroke="#444" stroke-width="1.3"/>
<path d="M824.2 1158.7V1397.7M716.8 1290.0H955.3" stroke="#000" stroke-width="1.9" fill="none"/>
<path d="M709.8 1397.7H716.8M709.8 1353.6H716.8M709.8 1309.5H716.8M709.8 1265.4H716.8M709.8 1221.3H716.8M709.8 1177.2H716.8M716.8 1397.7V1404.2M760.9 1397.7V1404.2M805.0 1397.7V1404.2M849.1 1397.7V1404.2M893.2 1397.7V1404.2M937.3 1397.7V1404.2" stroke="#111" stroke-width="2" fill="none"/>
<path d="M713.3 1384.4H716.8M713.3 1376.7H716.8M713.3 1371.1H716.8M713.3 1366.9H716.8M713.3 1363.4H716.8M713.3 1360.4H716.8M713.3 1357.9H716.8M713.3 1355.6H716.8M713.3 1340.3H716.8M713.3 1332.6H716.8M713.3 1327.0H716.8M713.3 1322.8H716.8M713.3 1319.3H716.8M713.3 1316.3H716.8M713.3 1313.8H716.8M713.3 1311.5H716.8M713.3 1296.2H716.8M713.3 1288.5H716.8M713.3 1282.9H716.8M713.3 1278.7H716.8M713.3 1275.2H716.8M713.3 1272.2H716.8M713.3 1269.7H716.8M713.3 1267.4H716.8M713.3 1252.1H716.8M713.3 1244.4H716.8M713.3 1238.8H716.8M713.3 1234.6H716.8M713.3 1231.1H716.8M713.3 1228.1H716.8M713.3 1225.6H716.8M713.3 1223.3H716.8M713.3 1208.0H716.8M713.3 1200.3H716.8M713.3 1194.7H716.8M713.3 1190.5H716.8M713.3 1187.0H716.8M713.3 1184.0H716.8M713.3 1181.5H716.8M713.3 1179.2H716.8M713.3 1163.9H716.8M730.1 1397.7V1401.2M737.8 1397.7V1401.2M743.4 1397.7V1401.2M747.6 1397.7V1401.2M751.1 1397.7V1401.2M754.1 1397.7V1401.2M756.6 1397.7V1401.2M758.9 1397.7V1401.2M774.2 1397.7V1401.2M781.9 1397.7V1401.2M787.5 1397.7V1401.2M791.7 1397.7V1401.2M795.2 1397.7V1401.2M798.2 1397.7V1401.2M800.7 1397.7V1401.2M803.0 1397.7V1401.2M818.3 1397.7V1401.2M826.0 1397.7V1401.2M831.6 1397.7V1401.2M835.8 1397.7V1401.2M839.3 1397.7V1401.2M842.3 1397.7V1401.2M844.8 1397.7V1401.2M847.1 1397.7V1401.2M862.4 1397.7V1401.2M870.1 1397.7V1401.2M875.7 1397.7V1401.2M879.9 1397.7V1401.2M883.4 1397.7V1401.2M886.4 1397.7V1401.2M888.9 1397.7V1401.2M891.2 1397.7V1401.2M906.5 1397.7V1401.2M914.2 1397.7V1401.2M919.8 1397.7V1401.2M924.0 1397.7V1401.2M927.5 1397.7V1401.2M930.5 1397.7V1401.2M933.0 1397.7V1401.2M935.3 1397.7V1401.2M950.6 1397.7V1401.2" stroke="#333" stroke-width="1.1" fill="none"/>
<text x="721.0" y="1183.5" font-family="'Liberation Serif', serif" font-size="16.5" font-weight="bold" text-anchor="start" >2,70</text>
<text x="933.6" y="1183.5" font-family="'Liberation Serif', serif" font-size="16.5" font-weight="bold" text-anchor="end" >93,4</text>
<text x="721.0" y="1382.4" font-family="'Liberation Serif', serif" font-size="16.5" font-weight="bold" text-anchor="start" >1,80</text>
<text x="933.6" y="1382.4" font-family="'Liberation Serif', serif" font-size="16.5" font-weight="bold" text-anchor="end" >2,07</text>
<rect x="113.0" y="1429.4" width="243.0" height="7.1" fill="#000"/>
<rect x="418.4" y="1429.4" width="239.2" height="7.1" fill="#000"/>
<rect x="716.5" y="1429.4" width="239.0" height="7.1" fill="#000"/>
<text x="202.0" y="1476.5" font-family="'Liberation Serif', serif" font-size="29.5" font-weight="normal" text-anchor="start"  textLength="91.3" lengthAdjust="spacingAndGlyphs">NKp80</text>
<text x="488.2" y="1476.5" font-family="'Liberation Serif', serif" font-size="29.5" font-weight="normal" text-anchor="start"  textLength="91.4" lengthAdjust="spacingAndGlyphs">NKp44</text>
<text x="795.6" y="1474.8" font-family="'Liberation Serif', serif" font-size="29.5" font-weight="normal" text-anchor="start"  textLength="91.6" lengthAdjust="spacingAndGlyphs">NKp30</text>
<path d="M1112.8 842.9L1112.8 1095.6" stroke="#000" stroke-width="2.2" fill="none"/>
<path d="M1105.3 1095.6L1491.2 1095.6" stroke="#000" stroke-width="2.2" fill="none"/>
<path d="M1105.3 842.9L1112.8 842.9" stroke="#000" stroke-width="2.2" fill="none"/>
<text x="1103.8" y="849.6" font-family="'Liberation Serif', serif" font-size="19.5" font-weight="bold" text-anchor="end" >150</text>
<path d="M1105.3 927.0L1112.8 927.0" stroke="#000" stroke-width="2.2" fill="none"/>
<text x="1103.8" y="933.7" font-family="'Liberation Serif', serif" font-size="19.5" font-weight="bold" text-anchor="end" >100</text>
<path d="M1105.3 1011.5L1112.8 1011.5" stroke="#000" stroke-width="2.2" fill="none"/>
<text x="1103.8" y="1018.2" font-family="'Liberation Serif', serif" font-size="19.5" font-weight="bold" text-anchor="end" >50</text>
<path d="M1105.3 1095.6L1112.8 1095.6" stroke="#000" stroke-width="2.2" fill="none"/>
<text x="1103.8" y="1102.3" font-family="'Liberation Serif', serif" font-size="19.5" font-weight="bold" text-anchor="end" >0</text>
<path d="M1143.5 1095.6L1143.5 1102.6" stroke="#000" stroke-width="2.2" fill="none"/>
<text transform="translate(1147.7,1117.5) rotate(-45)" font-family="'Liberation Serif', serif" font-size="19.2" font-weight="bold" text-anchor="end" >NKG2A</text>
<path d="M1206.7 1095.6L1206.7 1102.6" stroke="#000" stroke-width="2.2" fill="none"/>
<text transform="translate(1210.9,1117.5) rotate(-45)" font-family="'Liberation Serif', serif" font-size="19.2" font-weight="bold" text-anchor="end" >NKG2C</text>
<path d="M1269.9 1095.6L1269.9 1102.6" stroke="#000" stroke-width="2.2" fill="none"/>
<text transform="translate(1274.1,1117.5) rotate(-45)" font-family="'Liberation Serif', serif" font-size="19.2" font-weight="bold" text-anchor="end" >NKG2D</text>
<path d="M1333.3 1095.6L1333.3 1102.6" stroke="#000" stroke-width="2.2" fill="none"/>
<text transform="translate(1337.5,1117.5) rotate(-45)" font-family="'Liberation Serif', serif" font-size="19.2" font-weight="bold" text-anchor="end" >NKp80</text>
<path d="M1396.2 1095.6L1396.2 1102.6" stroke="#000" stroke-width="2.2" fill="none"/>
<text transform="translate(1400.4,1117.5) rotate(-45)" font-family="'Liberation Serif', serif" font-size="19.2" font-weight="bold" text-anchor="end" >NKp44</text>
<path d="M1459.4 1095.6L1459.4 1102.6" stroke="#000" stroke-width="2.2" fill="none"/>
<text transform="translate(1463.6,1117.5) rotate(-45)" font-family="'Liberation Serif', serif" font-size="19.2" font-weight="bold" text-anchor="end" >NKp30</text>
<text transform="translate(1062.0,1071.4) rotate(-90)" font-family="'Liberation Serif', serif" font-size="22" font-weight="bold" textLength="201.7" lengthAdjust="spacingAndGlyphs">CD56<tspan dy="-8.8" font-size="15.4">+</tspan><tspan dy="8.8"> cells week 3 [%]</tspan></text>
<rect x="1124.1" y="950.4" width="16.2" height="71.8" fill="#000" rx="0.8"/>
<rect x="1149.6" y="959.8" width="12.7" height="65.2" fill="#EC2026" stroke="#000" stroke-width="2.6" rx="1"/>
<rect x="1149.3" y="980.8" width="13.3" height="2.2" fill="#000" />
<rect x="1188.0" y="1093.3" width="14.0" height="2.3" fill="#000" rx="0.8"/>
<rect x="1212.0" y="1094.3" width="14.0" height="1.3" fill="#000" />
<rect x="1250.5" y="942.1" width="16.1" height="10.5" fill="#000" rx="0.8"/>
<rect x="1276.0" y="934.8" width="12.5" height="45.8" fill="#EC2026" stroke="#000" stroke-width="2.6" rx="1"/>
<rect x="1275.7" y="957.9" width="13.1" height="2.2" fill="#000" />
<rect x="1313.7" y="1028.7" width="15.6" height="22.0" fill="#000" rx="0.8"/>
<rect x="1338.7" y="1030.5" width="13.0" height="23.8" fill="#EC2026" stroke="#000" stroke-width="2.6" rx="1"/>
<rect x="1338.4" y="1038.3" width="13.6" height="2.2" fill="#000" />
<rect x="1376.4" y="976.0" width="16.1" height="29.3" fill="#000" rx="0.8"/>
<rect x="1401.9" y="947.7" width="12.7" height="74.6" fill="#EC2026" stroke="#000" stroke-width="2.6" rx="1"/>
<rect x="1401.6" y="996.4" width="13.3" height="2.2" fill="#000" />
<rect x="1439.3" y="947.7" width="16.1" height="20.7" fill="#000" rx="0.8"/>
<rect x="1464.8" y="940.2" width="13.0" height="40.9" fill="#EC2026" stroke="#000" stroke-width="2.6" rx="1"/>
<rect x="1464.5" y="952.8" width="13.6" height="2.2" fill="#000" />
<rect x="1548.6" y="853.3" width="27.1" height="16.1" fill="#EC2026" stroke="#000" stroke-width="2.6" rx="1"/>
<rect x="1547.3" y="887.8" width="29.7" height="18.8" fill="#000" />
<text x="1591.0" y="867.8" font-family="'Liberation Serif', serif" font-size="21" font-weight="normal" text-anchor="start"  textLength="192.4" lengthAdjust="spacingAndGlyphs">MMC treated OP9-DL1</text>
<text x="1591.0" y="903.4" font-family="'Liberation Serif', serif" font-size="21" font-weight="normal" text-anchor="start"  textLength="162.5" lengthAdjust="spacingAndGlyphs">Untreated OP9-DL1</text>
<text x="-0.3" y="1591.3" font-family="'Liberation Sans', sans-serif" font-size="29" font-weight="bold" text-anchor="start" >C</text>
<text x="73.8" y="1587.6" font-family="'Liberation Serif', serif" font-size="35" font-weight="bold" text-anchor="start" fill="#231F20">Killer Cell Immunoglobulin like Receptors</text>
<rect x="68.6" y="1623.9" width="7.2" height="230.7" fill="#000"/>
<text transform="translate(49.3,1800.2) rotate(-90)" font-family="'Liberation Serif', serif" font-size="31.5" font-weight="normal" text-anchor="middle" textLength="72.6" lengthAdjust="spacingAndGlyphs">CD56</text>
<g transform="translate(116.5,1616.5)" fill="none" stroke-linecap="square" stroke-width="1.4">
<path d="M128 16h0m-51 6h0m47 3h0m-21 1h0m17 0h0m15 3h0m85 0h0m-78 2h0m-103 1h0m79 0h0m13 0h0m17 0h0m43 0h0m-83 1h0m19 0h0m10 0h0m-21 1h0m13 0h1m7 0h0m-36 1h0m6 0h0m2 0h2m2 0h1m2 0h1m13 0h0m-89 1h0m63 0h0m19 0h0m3 0h0m4 0h0m5 0h0m4 0h0m-50 1h0m3 0h0m13 0h0m9 0h0m5 0h0m7 0h1m9 0h0m2 0h0m-42 1h1m21 0h0m11 0h0m-85 1h0m42 0h0m19 0h0m22 0h0m4 0h0m11 0h0m6 0h0m-108 1h0m18 0h0m15 0h0m29 0h0m7 0h0m3 0h0m19 0h0m5 0h0m4 0h0m-96 1h0m20 0h0m14 0h0m10 0h1m13 0h0m6 0h1m3 0h0m5 0h0m5 0h0m11 0h0m6 0h0m-94 1h0m35 0h0m5 0h0m8 0h0m5 0h0m7 0h0m6 0h0m4 0h0m2 0h1m20 0h0m4 0h0m-69 1h0m16 0h0m13 0h0m3 0h0m8 0h1m20 0h0m3 0h1m-57 1h0m20 0h0m5 0h0m20 0h0m4 0h0m4 0h0m5 0h0m26 0h0m37 0h0m-151 1h0m11 0h0m48 0h0m2 0h0m2 0h0m10 0h0m2 0h0m14 0h0m3 0h0m35 0h0m-123 1h0m40 0h0m5 0h0m25 0h0m7 0h1m5 0h0m4 0h0m7 0h0m-100 1h0m9 0h0m25 0h0m7 0h0m5 0h0m6 0h0m3 0h0m9 0h1m39 0h0m-123 1h0m23 0h0m6 0h0m19 0h0m12 0h0m3 0h0m5 0h0m19 0h0m4 0h0m25 0h0m-96 1h0m34 0h0m6 0h0m9 0h0m6 0h0m7 0h0m9 0h0m11 0h0m6 0h0m4 0h0m-87 1h0m5 0h1m2 0h0m8 0h0m5 0h0m2 0h0m9 0h0m10 0h0m2 0h0m22 0h0m15 0h0m5 0h0m16 0h0m8 0h0m-113 1h0m39 0h1m3 0h0m44 0h0m5 0h0m11 0h0m-88 1h0m2 0h0m15 0h0m2 0h0m2 0h0m4 0h0m3 0h0m6 0h0m35 0h0m8 0h1m7 0h0m-115 1h0m38 0h0m5 0h0m11 0h0m9 0h0m5 0h0m31 0h0m10 0h0m6 0h0m8 0h0m-131 1h0m9 0h1m49 0h0m4 0h0m3 0h0m40 0h0m15 0h0m5 0h0m4 0h0m-141 1h0m13 0h1m5 0h0m15 0h0m2 0h0m14 0h1m18 0h0m9 0h0m50 0h0m2 0h0m3 0h0m3 0h0m47 0h0m-173 1h0m5 0h0m23 0h0m13 0h0m9 0h0m2 0h0m3 0h2m2 0h1m6 0h0m6 0h0m53 0h0m24 0h0m-139 1h0m19 0h0m7 0h0m13 0h0m7 0h0m7 0h0m50 0h0m4 0h0m9 0h0m3 0h0m33 0h0m-140 1h0m17 0h0m4 0h0m5 0h0m6 0h0m10 0h0m5 0h0m40 0h0m12 0h0m-114 1h0m17 0h0m3 0h0m15 0h0m6 0h0m3 0h0m3 0h0m4 0h1m11 0h0m6 0h0m39 0h0m7 0h0m3 0h0m5 0h0m-124 1h0m12 0h1m4 0h0m22 0h0m8 0h1m3 0h0m5 0h0m3 0h0m36 0h0m2 0h0m16 0h0m4 0h0m2 0h0m-103 1h0m28 0h0m20 0h0m3 0h0m10 0h0m24 0h0m12 0h0m41 0h0m-171 1h0m42 0h0m4 0h0m10 0h0m3 0h0m2 0h0m4 0h0m9 0h0m41 0h0m16 0h0m12 0h1m3 0h0m39 0h0m-156 1h0m20 0h0m2 0h0m2 0h0m2 0h0m17 0h0m9 0h0m38 0h0m4 0h0m-124 1h0m49 0h0m7 0h0m3 0h0m12 0h0m7 0h0m4 0h0m2 0h0m4 0h0m6 0h0m10 0h0m22 0h0m2 0h0m3 0h0m12 0h0m8 0h0m9 0h0m30 0h0m-189 1h0m10 0h0m7 0h0m11 0h0m11 0h0m11 0h0m5 0h0m4 0h1m2 0h1m9 0h0m2 0h0m13 0h0m34 0h1m22 0h0m-108 1h0m33 0h0m6 0h0m4 0h2m2 0h0m4 0h0m19 0h0m70 0h0m-168 1h0m30 0h1m2 0h0m17 0h1m5 0h0m6 0h0m10 0h1m2 0h0m17 0h0m18 0h0m5 0h0m6 0h0m5 0h0m29 0h0m30 0h0m-171 1h0m9 0h0m16 0h1m10 0h1m2 0h0m2 0h0m3 0h0m6 0h0m4 0h0m5 0h1m5 0h0m34 0h0m27 0h0m31 0h0m-172 1h0m27 0h1m4 0h2m12 0h0m7 0h0m2 0h0m13 0h0m3 0h0m19 0h0m-85 1h0m15 0h1m4 0h0m16 0h0m17 0h1m2 0h0m2 0h0m2 0h0m4 0h0m2 0h0m9 0h0m6 0h0m3 0h0m12 0h0m4 0h0m29 0h0m-99 1h0m8 0h0m5 0h0m11 0h0m5 0h1m4 0h0m32 0h0m7 0h0m3 0h0m6 0h0m20 0h0m15 0h0m-131 1h0m5 0h0m7 0h0m2 0h0m25 0h1m9 0h0m7 0h0m5 0h0m6 0h0m11 0h0m4 0h0m10 0h0m2 0h0m2 0h0m3 0h0m-74 1h0m14 0h0m6 0h0m2 0h0m3 0h0m2 0h2m20 0h0m16 0h0m3 0h0m5 0h0m2 0h0m10 0h0m-124 1h0m15 0h0m4 0h0m4 0h0m15 0h0m11 0h0m6 0h0m2 0h1m5 0h1m18 0h0m4 0h0m10 0h1m6 0h0m6 0h1m8 0h0m20 0h0m-142 1h0m9 0h0m12 0h0m32 0h0m14 0h0m9 0h1m2 0h0m4 0h0m15 0h0m3 0h0m12 0h0m3 0h0m6 0h0m-102 1h0m30 0h2m15 0h0m10 0h0m5 0h0m15 0h0m4 0h0m4 0h0m10 0h0m74 0h0m-161 1h0m38 0h0m10 0h0m4 0h0m7 0h0m3 0h0m10 0h0m3 0h0m3 0h0m17 0h0m-60 1h0m9 0h0m2 0h1m4 0h0m7 0h0m2 0h0m2 0h0m2 0h0m2 0h0m8 0h0m5 0h0m3 0h0m3 0h0m42 0h0m-81 1h0m3 0h0m14 0h0m18 0h0m18 0h0m8 0h0m27 0h0m-176 1h0m46 0h0m30 0h0m18 0h1m9 0h0m4 0h0m5 0h2m9 0h0m7 0h0m-108 1h0m50 0h0m5 0h0m3 0h0m16 0h0m5 0h0m5 0h0m7 0h0m2 0h0m6 0h0m-61 1h0m5 0h0m30 0h0m2 0h1m8 0h0m4 0h0m7 0h0m4 0h0m29 0h0m-139 1h0m55 0h0m14 0h0m6 0h0m4 0h0m4 0h0m4 0h1m2 0h0m8 0h0m6 0h0m11 0h0m-57 1h0m24 0h0m25 0h0m11 0h0m13 0h0m-76 1h0m18 0h0m25 0h0m15 0h0m7 0h0m12 0h0m-81 1h0m14 0h0m2 0h0m2 0h0m3 0h0m5 0h0m2 0h0m12 0h1m3 0h0m-67 1h0m24 0h0m10 0h1m7 0h0m2 0h0m7 0h1m12 0h0m16 0h0m-96 1h0m35 0h0m12 0h0m36 0h0m4 0h1m24 0h0m-95 1h0m21 0h0m7 0h0m-3 1h0m32 0h0m4 0h1m8 0h0m-30 1h0m11 0h0m7 0h0m7 0h0m13 0h0m-47 1h0m19 0h0m18 0h0m9 0h1m18 0h0m-37 1h0m2 0h0m5 0h0m2 0h0m6 0h0m10 0h0m7 0h0m-49 1h0m3 0h0m12 0h0m4 0h0m24 0h0m-63 1h0m22 0h0m6 0h0m2 0h0m6 0h0m5 0h0m73 0h0m-126 1h0m27 0h0m6 0h0m76 0h0m-85 1h0m20 0h0m4 0h0m2 0h0m-33 1h0m9 0h0m15 0h1m9 0h0m90 1h0m-99 1h1m-33 1h0m8 0h0m19 0h0m22 0h0m-12 1h0m26 0h0m-36 1h0m11 0h0m6 0h0m8 0h0m-56 1h0m12 0h0m21 0h0m19 0h0m4 0h0m1 1h0m-49 1h0m12 0h0m25 0h0m8 0h0m25 0h0m-50 1h0m37 0h0m-40 1h0m3 0h0m19 0h0m-21 1h0m17 0h0m8 0h0m-33 1h1m2 0h0m14 0h0m31 0h0m-28 1h0m19 0h0m-38 1h0m25 0h0m2 0h0m9 0h0m-48 1h0m45 0h0m-15 1h0m2 0h0m-27 1h0m19 0h0m-8 1h0m18 0h0m8 0h0m7 0h0m9 0h0m-55 1h0m13 0h0m4 0h0m15 0h0m-29 1h0m7 0h0m2 0h0m9 0h0m-20 1h0m54 0h0m-6 1h0m8 0h0m-58 1h0m20 0h0m21 0h0m-15 1h0m-16 1h0m11 0h0m11 0h0m-27 1h0m26 0h0m11 0h0m-3 1h0m-11 1h0m3 0h0m-33 1h0m21 0h0m-5 1h0m11 0h0m6 0h0m19 0h0m-41 1h0m4 0h0m29 0h0m15 0h0m-49 3h0m29 0h0m-8 1h0m4 1h0m-7 1h0m2 0h0m2 2h0m24 0h0m-23 1h0m10 0h0m-37 1h0m39 1h0m-3 4h0m0 3h0m-8 3h0m54 0h0m-58 1h0m6 1h0m-12 1h0m10 1h0m3 0h0m-12 2h0m-23 7h0m20 0h0m25 2h0m-23 1h0m-8 3h0m46 1h0m-40 1h0m28 0h0m-19 4h0m6 1h0m-23 8h0m54 0h0m-30 1h0m4 51h0m26 0h1m-23 1h0m9 0h0" stroke="#bdbdbd"/>
<path d="M106 21h0m7 5h0m-16 3h0m17 0h0m8 0h0m17 0h0m-27 1h0m3 0h0m-11 1h0m11 0h0m2 0h0m2 0h0m-11 1h0m6 0h0m3 0h0m18 0h0m-17 1h0m5 0h0m3 0h0m10 0h0m-76 1h0m58 0h0m4 0h0m3 0h0m-10 1h0m3 0h0m5 0h0m-26 1h0m11 0h0m25 0h0m-63 1h0m27 0h0m10 0h0m4 0h1m4 0h0m8 0h0m8 0h0m2 0h1m15 0h0m-65 1h0m14 0h0m3 0h0m2 0h0m23 0h1m6 0h0m2 0h0m6 0h1m-85 1h0m12 0h0m30 0h0m4 0h0m3 0h0m7 0h0m9 0h0m7 0h0m16 0h0m-75 1h0m7 0h0m18 0h0m10 0h0m4 0h0m4 0h0m2 0h0m4 0h0m5 0h0m7 0h0m-96 1h0m24 0h0m45 0h0m5 0h0m25 0h0m2 0h1m6 0h0m-65 1h0m28 0h0m18 0h0m9 0h0m2 0h0m3 0h0m8 0h0m-120 1h0m36 0h0m4 0h0m29 0h0m29 0h0m3 0h1m3 0h0m3 0h1m4 0h0m10 0h0m-124 1h0m30 0h0m33 0h0m7 0h0m6 0h1m6 0h0m7 0h0m2 0h1m12 0h0m5 0h2m3 0h0m2 0h0m11 0h0m-121 1h0m62 0h0m2 0h0m3 0h0m8 0h0m7 0h0m18 0h0m9 0h0m2 0h1m2 0h0m-87 1h0m8 0h0m15 0h1m12 0h2m3 0h1m6 0h0m22 0h0m7 0h0m2 0h0m9 0h0m2 0h0m-90 1h0m2 0h0m2 0h0m17 0h0m6 0h0m5 0h0m8 0h0m32 0h0m3 0h0m8 0h0m-102 1h0m25 0h0m8 0h0m14 0h0m13 0h1m8 0h0m20 0h0m6 0h0m-92 1h0m16 0h0m2 0h1m15 0h0m10 0h0m5 0h0m14 0h1m28 0h0m21 0h0m9 0h0m-117 1h0m23 0h0m3 0h0m19 0h0m2 0h0m6 0h0m7 0h0m31 0h0m2 0h0m6 0h0m2 0h0m21 0h0m-141 1h0m23 0h0m14 0h0m2 0h0m5 0h0m11 0h0m4 0h0m52 0h0m7 0h0m4 0h0m7 0h0m-111 1h0m7 0h0m11 0h0m16 0h1m8 0h0m3 0h0m5 0h0m8 0h0m39 0h0m48 0h0m-182 1h0m26 0h0m22 0h0m9 0h0m7 0h1m4 0h0m5 0h0m10 0h0m45 0h0m3 0h0m7 0h0m7 0h0m-109 1h0m14 0h0m4 0h0m2 0h0m8 0h0m5 0h0m11 0h0m14 0h0m38 0h0m2 0h1m10 0h0m21 0h0m-123 1h0m6 0h2m8 0h0m2 0h0m3 0h0m7 0h1m16 0h0m6 0h0m29 0h0m3 0h0m8 0h0m5 0h0m3 0h0m3 0h0m42 0h0m-139 1h0m2 0h0m2 0h0m25 0h0m3 0h0m34 0h0m18 0h0m3 0h0m16 0h0m-147 1h0m51 0h0m71 0h0m7 0h0m2 0h0m4 0h0m-93 1h0m3 0h0m8 0h0m2 0h0m14 0h0m13 0h0m2 0h0m35 0h0m5 0h2m7 0h0m41 0h0m-153 1h1m11 0h0m16 0h0m5 0h0m7 0h0m23 0h0m43 0h0m4 0h0m3 0h0m6 0h0m-112 1h0m7 0h0m22 0h0m4 0h0m9 0h0m11 0h0m37 0h0m5 0h0m3 0h0m-110 1h0m15 0h0m11 0h1m6 0h0m10 0h0m4 0h0m13 0h1m2 0h1m7 0h0m4 0h0m35 0h0m6 0h0m5 0h0m2 0h0m27 0h0m12 0h0m-162 1h0m29 0h0m5 0h0m69 0h0m2 0h0m5 0h0m8 0h0m7 0h0m35 0h0m-184 1h0m31 0h0m11 0h0m12 0h0m2 0h1m12 0h2m12 0h0m5 0h0m7 0h1m25 0h0m6 0h0m4 0h0m11 0h0m44 0h0m-154 1h1m7 0h0m4 0h0m2 0h0m17 0h0m17 0h0m9 0h0m4 0h0m4 0h0m33 0h0m8 0h0m16 0h0m-129 1h0m20 0h0m4 0h0m4 0h0m20 0h0m3 0h1m5 0h0m2 0h1m6 0h0m30 0h0m11 0h1m6 0h0m7 0h0m41 0h0m-178 1h0m24 0h0m6 0h0m16 0h0m7 0h0m4 0h0m3 0h0m11 0h0m6 0h0m13 0h0m36 0h0m5 0h0m5 0h0m63 0h0m-175 1h0m6 0h0m2 0h1m10 0h0m2 0h0m8 0h0m14 0h0m2 0h0m5 0h0m4 0h0m4 0h0m2 0h0m18 0h0m36 0h1m5 0h0m36 0h0m-155 1h0m15 0h0m3 0h0m3 0h0m19 0h0m5 0h0m3 0h0m4 0h0m6 0h0m3 0h0m34 0h0m7 0h0m3 0h0m-124 1h0m19 0h0m19 0h0m6 0h0m21 0h1m13 0h0m3 0h0m3 0h0m10 0h0m15 0h0m23 0h0m-66 1h0m6 0h1m22 0h0m4 0h0m4 0h1m4 0h0m3 0h0m7 0h0m11 0h0m-130 1h0m55 0h0m13 0h0m9 0h0m3 0h0m30 0h0m5 0h0m15 0h0m10 0h0m-124 1h0m31 0h0m5 0h0m14 0h1m3 0h0m3 0h0m7 0h0m12 0h1m3 0h0m16 0h0m16 0h0m12 0h0m31 0h0m-135 1h0m12 0h0m11 0h0m7 0h0m12 0h0m3 0h0m5 0h0m5 0h0m3 0h0m5 0h0m17 0h0m27 0h0m32 0h0m24 0h0m-179 1h0m21 0h0m14 0h0m7 0h0m2 0h0m15 0h0m19 0h1m4 0h0m4 0h0m3 0h0m6 0h0m52 0h0m-129 1h1m26 0h0m19 0h0m4 0h0m2 0h0m2 0h0m7 0h0m4 0h0m10 0h1m7 0h0m12 0h0m45 0h0m-128 1h0m2 0h0m17 0h0m3 0h0m3 0h0m6 0h0m3 0h0m10 0h0m60 0h0m12 0h0m-153 1h0m43 0h0m8 0h1m2 0h1m6 0h1m2 0h0m4 0h0m8 0h0m28 0h0m-92 1h0m29 0h0m9 0h0m8 0h0m12 0h0m2 0h0m3 0h0m20 0h0m7 0h0m5 0h0m9 0h0m36 0h0m-140 1h0m32 0h0m5 0h0m4 0h0m3 0h0m9 0h0m3 0h1m3 0h0m5 0h0m3 0h0m4 0h0m10 0h0m12 0h0m3 0h0m-89 1h0m17 0h0m5 0h0m12 0h0m2 0h0m3 0h0m9 0h0m7 0h0m3 0h0m10 0h0m5 0h0m36 0h0m-85 1h0m2 0h0m10 0h0m16 0h0m3 0h0m2 0h0m2 0h0m2 0h0m7 0h0m8 0h0m-80 1h0m28 0h0m7 0h0m11 0h0m2 0h0m3 0h1m5 0h0m-37 1h0m4 0h0m4 0h0m33 0h0m2 0h0m3 0h0m2 0h0m3 0h0m-52 1h0m18 0h0m12 0h0m6 0h0m8 0h0m3 0h0m-48 1h0m16 0h0m22 0h0m3 0h0m9 0h1m-27 1h0m10 0h0m13 0h1m-9 1h0m9 0h0m6 0h0m-47 1h0m14 0h0m9 0h0m28 0h0m-43 1h0m6 0h0m20 0h0m5 0h0m9 0h0m9 0h0m-57 1h0m11 0h0m2 0h0m4 0h0m3 0h0m10 0h0m113 0h0m-112 1h0m4 0h1m10 0h0m12 0h0m-48 1h0m41 0h0m-44 1h0m2 0h0m2 0h0m9 0h0m4 0h0m35 0h0m-55 1h0m16 0h0m8 0h0m27 0h0m-26 1h0m4 0h0m4 0h0m10 0h0m4 0h0m-33 1h0m2 0h0m13 0h0m6 0h0m-39 1h0m15 0h0m6 0h1m6 0h0m27 0h0m-61 1h0m10 0h0m2 0h0m29 0h0m5 0h0m12 0h0m-44 1h0m5 0h0m6 0h0m4 0h0m4 0h0m2 0h0m4 0h0m8 0h0m-3 1h0m6 0h0m-59 1h0m49 0h0m-19 1h0m6 0h0m3 0h0m16 0h0m25 0h0m-55 1h0m16 0h1m4 0h0m4 0h0m20 0h0m-24 1h0m7 0h0m5 0h0m-16 1h0m4 1h0m8 0h0m9 0h0m8 0h0m11 0h0m-69 1h0m6 0h1m5 0h0m4 0h0m14 0h1m2 0h0m9 0h0m2 0h0m2 0h0m14 0h0m-23 1h0m9 0h0m3 0h0m7 0h0m-30 1h0m3 0h0m10 0h0m-29 1h0m1 1h0m14 0h0m16 0h0m4 0h0m7 0h0m-44 1h0m24 0h0m3 0h0m8 0h0m13 0h0m-32 1h0m7 0h0m-20 1h0m18 0h1m2 0h0m3 0h0m12 0h0m7 0h0m-58 1h0m34 0h0m22 0h0m-37 1h0m4 0h0m10 0h0m7 0h0m26 0h0m-54 1h0m5 0h1m8 0h0m3 0h0m8 0h0m9 0h0m5 0h0m-51 1h0m30 0h1m23 0h0m-33 1h0m6 0h0m20 0h0m20 0h0m-59 2h0m2 0h0m4 0h0m4 0h0m25 0h0m-37 1h0m10 0h0m10 0h0m11 1h1m11 0h0m5 0h0m27 0h0m-33 1h0m20 0h0m-30 1h0m15 0h0m-38 1h0m34 1h1m-26 1h0m10 0h0m18 0h0m-23 1h0m10 0h0m18 1h0m-30 4h0m7 0h0m33 1h0m-27 1h0m-2 1h0m5 1h0m7 0h0m-19 2h0m4 0h0m-10 1h0m12 0h0m-20 3h0m13 0h0m-22 1h0m10 2h0m5 0h0m41 0h0m-28 1h0m-17 3h0m7 0h0m12 0h0m14 4h1m-40 1h0m10 1h0m3 0h1m22 0h0m5 0h0m-36 1h0m2 0h0m-29 1h0m54 2h0m1 1h0m-4 3h0m9 1h0m-2 1h0m2 1h0m-82 2h0m68 0h0m1 2h0m3 0h0m5 0h0m-53 1h0m58 2h0m-5 1h0m1 8h0m-20 2h0m2 0h0m28 0h0m107 42h0m-172 8h0m4 0h0m4 0h0m30 0h0m6 0h0m16 0h0m-37 1h0m16 0h0m6 0h0m2 0h0m3 0h0m5 0h1" stroke="#707070"/>
<path d="M187 25h0m-134 1h0m60 2h0m15 1h0m-9 3h0m6 0h0m-69 2h0m61 0h0m21 0h0m-45 1h0m9 0h0m6 0h0m11 0h0m3 0h0m-19 1h0m11 0h0m5 0h1m2 0h0m2 0h0m4 0h0m8 0h0m-45 1h0m8 0h0m5 0h0m9 0h0m4 0h0m3 0h1m-8 1h0m2 0h0m5 0h2m3 0h1m5 0h1m16 0h0m-42 1h0m2 0h1m6 0h7m7 0h0m5 0h1m10 0h0m-38 1h0m6 0h0m4 0h0m2 0h0m3 0h0m2 0h0m2 0h0m2 0h0m5 0h0m5 0h0m-84 1h0m13 0h0m4 0h0m20 0h0m10 0h0m2 0h0m10 0h3m2 0h0m2 0h1m2 0h5m2 0h0m2 0h0m2 0h0m9 0h0m3 0h0m3 0h0m-61 1h0m15 0h0m5 0h0m2 0h0m3 0h1m2 0h0m3 0h5m2 0h4m3 0h0m-94 1h0m16 0h0m32 0h0m5 0h0m8 0h0m3 0h1m3 0h0m3 0h0m5 0h1m2 0h0m3 0h3m2 0h1m4 0h0m2 0h0m6 0h0m46 0h0m-92 1h0m5 0h1m6 0h0m2 0h1m2 0h5m2 0h0m3 0h0m2 0h2m3 0h2m3 0h0m-63 1h0m12 0h0m21 0h1m2 0h0m2 0h0m2 0h0m2 0h0m2 0h0m3 0h7m2 0h0m2 0h4m3 0h2m2 0h0m11 0h0m-61 1h0m11 0h0m4 0h4m2 0h0m2 0h13m2 0h3m2 0h0m3 0h2m4 0h0m3 0h0m-75 1h0m2 0h0m14 0h1m17 0h1m2 0h6m5 0h15m2 0h1m2 0h3m2 0h1m3 0h0m4 0h0m-81 1h1m4 0h0m14 0h0m2 0h0m10 0h1m3 0h1m3 0h2m2 0h5m2 0h2m2 0h7m2 0h3m3 0h3m2 0h0m-99 1h0m48 0h0m3 0h0m2 0h0m2 0h0m3 0h3m2 0h0m3 0h2m2 0h7m2 0h9m2 0h2m2 0h0m2 0h1m3 0h0m4 0h0m2 0h0m-101 1h0m20 0h0m11 0h0m6 0h0m15 0h0m3 0h2m2 0h1m2 0h10m2 0h13m2 0h1m6 0h0m-88 1h0m4 0h1m5 0h0m12 0h0m10 0h0m2 0h0m8 0h40m2 0h0m2 0h1m6 0h0m-89 1h0m11 0h0m5 0h0m20 0h2m2 0h0m2 0h4m2 0h27m2 0h3m2 0h1m4 0h0m11 0h0m-86 1h0m12 0h0m11 0h0m2 0h2m2 0h1m2 0h0m2 0h1m2 0h26m2 0h0m2 0h1m3 0h0m2 0h0m2 0h0m-96 1h0m11 0h0m21 0h0m2 0h0m5 0h0m6 0h0m2 0h1m2 0h5m2 0h26m2 0h4m2 0h2m2 0h0m-141 1h0m73 0h0m10 0h0m6 0h1m2 0h0m3 0h0m3 0h3m2 0h27m2 0h1m2 0h5m11 0h0m-120 1h0m17 0h0m15 0h0m9 0h0m14 0h1m3 0h0m2 0h1m3 0h25m2 0h15m4 0h0m4 0h0m5 0h0m40 0h0m-140 1h0m15 0h0m2 0h1m7 0h0m5 0h0m2 0h0m2 0h0m3 0h0m2 0h2m2 0h1m2 0h32m2 0h2m2 0h0m2 0h1m6 0h0m2 0h0m-97 1h0m11 0h0m18 0h0m4 0h0m4 0h0m3 0h0m4 0h0m2 0h0m2 0h33m3 0h2m5 0h0m2 0h0m8 0h0m-109 1h0m31 0h0m6 0h0m6 0h0m4 0h1m2 0h1m2 0h1m2 0h1m2 0h37m3 0h0m2 0h0m9 0h0m-107 1h1m20 0h0m9 0h0m4 0h0m3 0h0m3 0h0m3 0h0m2 0h3m3 0h28m2 0h0m2 0h2m2 0h3m2 0h1m2 0h1m3 0h1m3 0h0m10 0h0m-126 1h0m39 0h0m8 0h0m12 0h0m4 0h1m3 0h0m2 0h2m2 0h1m2 0h22m2 0h5m3 0h0m2 0h0m6 0h0m40 0h0m-151 1h0m17 0h0m38 0h1m2 0h32m2 0h2m2 0h0m2 0h3m2 0h0m2 0h0m34 0h0m-142 1h0m17 0h0m3 0h0m17 0h0m7 0h0m2 0h0m3 0h0m4 0h0m4 0h1m2 0h0m2 0h0m2 0h1m3 0h23m2 0h4m3 0h0m4 0h3m-119 1h0m22 0h0m34 0h0m9 0h0m2 0h1m2 0h1m3 0h0m4 0h0m3 0h3m2 0h8m2 0h16m3 0h1m8 0h0m-101 1h0m15 0h0m5 0h0m5 0h1m12 0h0m8 0h2m2 0h0m3 0h2m2 0h2m2 0h19m2 0h1m2 0h1m2 0h1m5 0h1m-98 1h0m28 0h0m9 0h0m5 0h0m6 0h0m2 0h0m4 0h0m2 0h1m3 0h1m2 0h14m2 0h7m2 0h1m2 0h1m2 0h1m2 0h0m3 0h2m62 0h0m-172 1h0m31 0h0m9 0h1m7 0h0m3 0h0m4 0h0m10 0h14m2 0h0m2 0h14m2 0h0m2 0h1m2 0h0m2 0h0m2 0h0m2 0h1m4 0h0m5 0h0m-106 1h1m4 0h0m17 0h0m12 0h0m6 0h0m6 0h0m8 0h31m3 0h3m6 0h1m-94 1h0m17 0h0m10 0h0m3 0h1m7 0h0m4 0h0m2 0h0m4 0h1m2 0h1m2 0h4m2 0h2m2 0h11m2 0h0m2 0h4m2 0h2m2 0h0m46 0h0m-174 1h0m31 0h0m14 0h0m8 0h0m10 0h0m7 0h0m2 0h0m6 0h0m4 0h0m2 0h2m3 0h4m2 0h1m2 0h4m2 0h0m2 0h0m2 0h0m2 0h0m4 0h1m2 0h0m4 0h3m5 0h1m5 0h0m-131 1h0m10 0h0m27 0h0m4 0h0m3 0h0m11 0h0m9 0h0m8 0h0m3 0h0m2 0h0m2 0h0m3 0h0m3 0h5m2 0h12m3 0h4m3 0h0m5 0h0m3 0h0m52 0h0m-126 1h0m4 0h0m4 0h0m5 0h0m5 0h0m5 0h0m14 0h0m2 0h4m2 0h1m3 0h1m2 0h1m3 0h2m2 0h2m2 0h2m4 0h0m2 0h0m3 0h0m21 0h0m-112 1h0m2 0h0m24 0h0m24 0h1m4 0h0m3 0h2m3 0h1m2 0h0m2 0h1m2 0h11m3 0h0m5 0h0m42 0h0m29 0h0m-172 1h0m51 0h0m6 0h2m3 0h0m2 0h0m2 0h1m3 0h1m2 0h2m2 0h2m3 0h2m4 0h0m2 0h1m4 0h1m6 0h0m9 0h0m10 0h0m-137 1h0m15 0h0m10 0h0m36 0h0m4 0h0m6 0h0m2 0h1m3 0h0m3 0h0m2 0h0m4 0h0m2 0h0m4 0h0m3 0h2m2 0h0m2 0h0m4 0h1m4 0h0m-38 1h1m2 0h0m2 0h1m3 0h1m3 0h1m2 0h2m4 0h1m2 0h1m3 0h1m2 0h1m8 0h0m6 0h0m-65 1h0m5 0h0m22 0h0m2 0h0m3 0h1m3 0h0m6 0h0m2 0h1m2 0h0m3 0h0m25 0h0m44 0h0m-110 1h0m16 0h0m7 0h0m5 0h0m6 0h2m2 0h1m3 0h0m5 0h0m-105 1h0m52 0h0m5 0h0m7 0h0m9 0h0m4 0h0m3 0h0m2 0h1m2 0h0m4 0h1m9 0h1m77 0h0m-112 1h0m3 0h0m8 0h0m4 0h0m3 0h0m6 0h0m-22 1h0m16 0h0m9 0h0m37 0h0m-98 1h0m19 0h0m4 0h0m11 0h0m18 0h0m3 0h0m3 0h0m2 0h0m70 0h0m-130 1h1m27 0h0m14 0h0m3 0h0m4 0h0m7 0h0m-18 1h0m10 0h0m5 0h0m-86 1h0m82 0h0m3 0h0m-64 1h0m59 0h0m3 0h1m-4 1h0m18 0h0m-24 1h1m7 0h1m4 0h0m2 0h0m-28 1h0m4 0h0m-4 2h0m21 0h0m15 0h0m9 0h0m-27 1h0m23 0h0m-29 1h0m23 1h0m-24 1h0m2 0h0m6 0h0m22 0h0m-62 1h0m51 0h0m-17 1h0m9 1h0m5 0h0m9 0h0m7 0h0m-33 1h0m9 0h0m9 0h0m-17 1h0m-22 1h0m10 0h0m5 0h0m5 1h0m7 0h0m2 0h0m7 0h1m-36 1h0m20 0h0m9 0h0m-15 1h0m2 0h0m9 0h0m19 0h0m-45 1h0m2 0h0m22 0h1m13 1h0m-27 1h0m26 0h0m1 1h0m3 0h0m-27 1h0m8 0h0m9 0h0m18 0h0m-3 1h0m8 1h0m-39 1h1m3 0h0m36 0h0m-3 1h0m-34 1h0m20 0h0m-5 1h0m-27 1h0m20 0h0m3 0h0m3 1h0m-14 1h0m18 0h0m18 0h0m-53 1h0m21 0h0m-12 2h0m21 0h0m8 0h0m-35 1h0m25 0h0m3 0h0m-16 3h0m17 1h0m-28 1h0m57 0h0m-39 1h0m9 1h0m5 1h0m-8 1h0m15 0h0m-25 3h0m14 1h0m12 0h0m-26 5h0m17 0h0m24 0h0m-35 2h0m22 0h0m-12 3h0m-7 1h0m-1 2h0m28 0h0m-121 3h0m115 0h0m-16 1h0m-24 13h0m30 3h0m13 4h0m-8 6h0m-27 1h0m12 8h0m16 4h0m-44 45h0m16 0h0m38 0h0m-28 1h0m3 0h0m4 0h0" stroke="#000"/>
</g>
<rect x="115.6" y="1615.9" width="239.2" height="238.9" fill="none" stroke="#444" stroke-width="1.3"/>
<path d="M257.1 1615.9V1854.8M115.6 1745.6H354.8" stroke="#000" stroke-width="1.9" fill="none"/>
<path d="M108.6 1854.8H115.6M108.6 1810.7H115.6M108.6 1766.6H115.6M108.6 1722.5H115.6M108.6 1678.4H115.6M108.6 1634.3H115.6M115.6 1854.8V1861.3M159.7 1854.8V1861.3M203.8 1854.8V1861.3M247.9 1854.8V1861.3M292.0 1854.8V1861.3M336.1 1854.8V1861.3" stroke="#111" stroke-width="2" fill="none"/>
<path d="M112.1 1841.5H115.6M112.1 1833.8H115.6M112.1 1828.2H115.6M112.1 1824.0H115.6M112.1 1820.5H115.6M112.1 1817.5H115.6M112.1 1815.0H115.6M112.1 1812.7H115.6M112.1 1797.4H115.6M112.1 1789.7H115.6M112.1 1784.1H115.6M112.1 1779.9H115.6M112.1 1776.4H115.6M112.1 1773.4H115.6M112.1 1770.9H115.6M112.1 1768.6H115.6M112.1 1753.3H115.6M112.1 1745.6H115.6M112.1 1740.0H115.6M112.1 1735.8H115.6M112.1 1732.3H115.6M112.1 1729.3H115.6M112.1 1726.8H115.6M112.1 1724.5H115.6M112.1 1709.2H115.6M112.1 1701.5H115.6M112.1 1695.9H115.6M112.1 1691.7H115.6M112.1 1688.2H115.6M112.1 1685.2H115.6M112.1 1682.7H115.6M112.1 1680.4H115.6M112.1 1665.1H115.6M112.1 1657.4H115.6M112.1 1651.8H115.6M112.1 1647.6H115.6M112.1 1644.1H115.6M112.1 1641.1H115.6M112.1 1638.6H115.6M112.1 1636.3H115.6M112.1 1621.0H115.6M128.9 1854.8V1858.3M136.6 1854.8V1858.3M142.2 1854.8V1858.3M146.4 1854.8V1858.3M149.9 1854.8V1858.3M152.9 1854.8V1858.3M155.4 1854.8V1858.3M157.7 1854.8V1858.3M173.0 1854.8V1858.3M180.7 1854.8V1858.3M186.3 1854.8V1858.3M190.5 1854.8V1858.3M194.0 1854.8V1858.3M197.0 1854.8V1858.3M199.5 1854.8V1858.3M201.8 1854.8V1858.3M217.1 1854.8V1858.3M224.8 1854.8V1858.3M230.4 1854.8V1858.3M234.6 1854.8V1858.3M238.1 1854.8V1858.3M241.1 1854.8V1858.3M243.6 1854.8V1858.3M245.9 1854.8V1858.3M261.2 1854.8V1858.3M268.9 1854.8V1858.3M274.5 1854.8V1858.3M278.7 1854.8V1858.3M282.2 1854.8V1858.3M285.2 1854.8V1858.3M287.7 1854.8V1858.3M290.0 1854.8V1858.3M305.3 1854.8V1858.3M313.0 1854.8V1858.3M318.6 1854.8V1858.3M322.8 1854.8V1858.3M326.3 1854.8V1858.3M329.3 1854.8V1858.3M331.8 1854.8V1858.3M334.1 1854.8V1858.3M349.4 1854.8V1858.3" stroke="#333" stroke-width="1.1" fill="none"/>
<text x="119.8" y="1640.7" font-family="'Liberation Serif', serif" font-size="16.5" font-weight="bold" text-anchor="start" >95,3</text>
<text x="333.1" y="1640.7" font-family="'Liberation Serif', serif" font-size="16.5" font-weight="bold" text-anchor="end" >2,57</text>
<text x="119.8" y="1839.5" font-family="'Liberation Serif', serif" font-size="16.5" font-weight="bold" text-anchor="start" >2,05</text>
<text x="329.6" y="1839.5" font-family="'Liberation Serif', serif" font-size="16.5" font-weight="bold" text-anchor="end" >0,038</text>
<g transform="translate(421.5,1616.5)" fill="none" stroke-linecap="square" stroke-width="1.4">
<path d="M35 30h0m70 0h0m14 0h0m-1 2h0m8 0h0m-44 2h0m33 0h0m-79 1h0m83 0h0m-37 1h0m19 0h0m9 0h0m10 0h0m-62 1h0m21 0h0m3 0h0m23 0h1m6 0h0m24 0h0m-23 1h0m2 0h0m18 0h0m-44 1h0m12 0h0m19 0h1m8 0h0m-30 1h0m10 0h0m10 0h0m17 0h0m2 0h0m-83 1h0m35 0h0m8 0h0m3 0h0m5 0h0m21 0h0m-43 1h0m10 0h0m17 0h0m5 0h0m2 0h0m2 0h0m17 0h0m-64 1h0m13 0h0m8 0h0m17 0h1m11 0h1m3 0h0m7 0h0m12 0h0m-71 1h0m22 0h0m15 0h0m3 0h0m6 0h0m-73 1h0m17 0h0m70 0h1m14 0h0m-59 1h0m6 0h0m9 0h0m18 0h0m10 0h0m15 0h0m11 0h0m31 0h0m-150 1h0m13 0h0m6 0h0m13 0h0m16 0h0m23 0h0m2 0h0m2 0h0m7 0h0m4 0h0m10 0h0m2 0h0m2 0h0m3 0h1m6 0h0m-112 1h0m35 0h1m6 0h0m8 0h0m9 0h0m15 0h0m6 0h0m10 0h0m3 0h0m-102 1h0m44 0h0m9 0h0m4 0h0m17 0h0m2 0h0m2 0h0m4 0h0m4 0h0m9 0h0m3 0h0m3 0h0m14 0h0m-116 1h0m28 0h0m7 0h0m28 0h0m8 0h0m27 0h0m4 0h0m6 0h0m14 0h0m-140 1h0m78 0h0m5 0h0m6 0h0m9 0h0m15 0h0m3 0h0m17 0h0m2 0h0m7 0h0m3 0h0m8 0h0m-92 1h0m4 0h0m3 0h0m12 0h1m9 0h0m17 0h0m12 0h0m6 0h0m9 0h0m3 0h0m6 0h0m-142 1h0m55 0h0m3 0h0m21 0h0m18 0h0m15 0h0m6 0h0m3 0h0m14 0h0m2 0h0m6 0h0m5 0h0m-77 1h0m8 0h0m11 0h0m12 0h0m2 0h0m8 0h0m12 0h0m3 0h0m2 0h0m5 0h1m-120 1h0m42 0h0m11 0h0m7 0h1m7 0h0m47 0h0m2 0h0m10 0h0m4 0h0m-85 1h0m12 0h0m8 0h0m2 0h0m5 0h0m35 0h0m5 0h0m33 0h0m-126 1h0m20 0h0m7 0h0m15 0h0m4 0h0m49 0h0m14 0h0m-124 1h0m35 0h0m16 0h1m2 0h0m3 0h0m8 0h0m34 0h0m6 0h0m66 0h0m-182 1h0m25 0h0m30 0h0m9 0h0m10 0h0m5 0h0m24 0h0m10 0h0m13 0h0m13 0h0m12 0h0m-139 1h0m18 0h1m30 0h0m7 0h0m3 0h0m6 0h0m31 0h0m11 0h0m11 0h0m8 0h0m-91 1h0m10 0h0m4 0h0m8 0h0m5 0h1m2 0h0m10 0h0m39 0h0m7 0h0m14 0h0m13 0h0m-148 1h0m23 0h0m21 0h0m7 0h0m7 0h0m16 0h0m9 0h0m17 0h0m6 0h0m15 0h0m4 0h0m14 0h0m-112 1h0m11 0h0m13 0h2m11 0h0m24 0h0m31 0h0m5 0h0m25 0h0m-138 1h0m23 0h0m8 0h0m23 0h0m7 0h0m30 0h0m26 0h0m24 0h0m-153 1h0m10 0h0m5 0h0m15 0h0m16 0h0m17 0h1m10 0h0m34 0h1m3 0h0m3 0h0m4 0h1m45 0h0m-186 1h0m57 0h0m7 0h0m14 0h0m3 0h0m7 0h0m9 0h0m4 0h0m27 0h1m8 0h0m3 0h0m16 0h0m-130 1h0m25 0h0m6 0h0m6 0h0m12 0h0m2 0h2m4 0h0m7 0h0m8 0h0m8 0h0m2 0h0m25 0h0m3 0h0m2 0h0m13 0h0m2 0h0m5 0h0m-93 1h0m6 0h0m3 0h0m12 0h0m3 0h0m13 0h0m19 0h0m2 0h0m12 0h0m3 0h0m11 0h0m2 0h1m10 0h0m20 0h0m-180 1h0m57 0h0m2 0h0m11 0h0m19 0h0m27 0h0m2 0h0m4 0h0m14 0h0m4 0h0m2 0h0m5 0h2m6 0h0m15 0h0m-143 1h0m2 0h0m21 0h0m9 0h1m4 0h0m8 0h0m20 0h1m4 0h2m17 0h0m2 0h0m16 0h0m9 0h1m-138 1h0m44 0h0m2 0h0m9 0h0m15 0h0m3 0h1m4 0h0m7 0h0m2 0h0m2 0h0m16 0h0m2 0h0m8 0h1m12 0h0m3 0h0m3 0h0m2 0h0m17 0h0m9 0h0m-146 1h0m20 0h0m13 0h0m5 0h0m24 0h0m13 0h0m25 0h0m6 0h0m3 0h0m12 0h0m3 0h0m3 0h0m6 0h0m7 0h0m15 0h0m-157 1h0m7 0h0m6 0h0m14 0h0m5 0h1m36 0h0m3 0h0m7 0h0m18 0h0m2 0h0m2 0h0m20 0h0m4 0h0m2 0h0m6 0h0m-165 1h0m73 0h0m3 0h0m4 0h0m2 0h0m3 0h0m4 0h0m10 0h1m3 0h0m6 0h0m16 0h0m12 0h0m8 0h0m11 0h0m6 0h0m5 0h0m10 0h0m-116 1h0m8 0h0m5 0h0m7 0h0m9 0h0m11 0h1m8 0h0m3 0h1m4 0h0m4 0h0m5 0h0m31 0h0m36 0h0m-117 1h0m10 0h0m10 0h1m6 0h0m7 0h0m6 0h1m7 0h0m9 0h0m11 0h0m2 0h1m5 0h0m3 0h0m15 0h0m15 0h0m-131 1h0m2 0h1m21 0h0m22 0h0m11 0h0m2 0h1m3 0h0m3 0h0m33 0h0m10 0h1m-146 1h0m32 0h0m6 0h0m48 0h1m4 0h0m4 0h1m9 0h0m3 0h0m18 0h0m8 0h0m10 0h0m18 0h0m-110 1h0m4 0h0m16 0h0m6 0h0m3 0h0m2 0h0m6 0h0m6 0h0m5 0h0m15 0h0m23 0h0m3 0h0m-70 1h0m5 0h0m7 0h0m17 0h0m2 0h0m7 0h0m28 0h0m7 0h0m-123 1h0m10 0h0m13 0h0m4 0h0m8 0h0m14 0h0m2 0h0m2 0h0m2 0h0m3 0h0m12 0h0m25 0h0m15 0h0m21 0h0m-140 1h0m5 0h0m8 0h0m15 0h0m10 0h0m10 0h0m18 0h0m12 0h0m5 0h0m2 0h0m2 0h0m12 0h0m22 0h0m-91 1h0m30 0h0m14 0h0m3 0h0m9 0h0m3 0h0m2 0h0m9 0h1m9 0h0m8 0h0m12 0h0m7 0h0m-97 1h0m19 0h0m4 0h0m5 0h0m2 0h0m3 0h0m5 0h0m2 0h0m11 0h1m22 0h0m6 0h1m-76 1h0m19 0h0m4 0h0m3 0h0m3 0h0m32 0h0m4 0h0m3 0h1m4 0h0m10 0h0m-137 1h0m15 0h0m45 0h0m3 0h0m3 0h0m11 1h0m10 0h0m2 0h0m2 0h0m11 0h0m19 0h0m52 0h0m-193 1h0m73 0h0m12 0h0m4 0h0m5 0h0m49 0h0m-78 1h0m18 0h0m29 0h1m7 0h0m8 0h0m5 0h0m35 0h0m-86 1h0m5 0h0m6 0h0m13 0h0m60 0h0m-165 1h0m28 0h1m19 0h0m36 0h0m2 0h0m15 0h0m15 0h0m4 0h0m-45 1h0m34 0h0m6 0h0m6 0h0m20 0h0m-71 1h0m2 0h0m30 0h1m4 0h1m4 0h0m18 0h0m28 0h0m-133 1h0m29 0h0m31 0h0m2 0h0m9 0h0m5 0h0m9 0h0m2 0h0m2 0h0m-54 1h0m18 0h0m53 0h0m10 0h0m-103 1h0m5 0h0m43 0h0m8 0h0m5 0h0m21 0h0m36 0h0m-107 1h0m63 0h0m12 1h0m-60 1h0m24 0h0m23 0h0m16 0h0m-51 1h0m14 0h0m7 0h0m6 0h0m5 0h0m5 0h0m7 0h0m4 0h0m14 0h0m-106 1h0m35 0h0m11 0h0m9 0h0m7 0h0m13 0h0m22 0h0m-54 1h0m26 0h0m13 0h0m-26 1h0m7 0h0m2 0h0m2 0h0m6 0h0m-28 1h0m21 0h0m2 0h0m35 0h0m-61 1h0m4 0h0m10 0h1m10 0h0m4 0h0m4 0h0m8 0h0m11 0h0m2 0h0m-70 1h0m43 0h0m5 0h0m7 0h0m2 0h0m2 0h1m-44 1h0m17 0h0m-41 1h0m41 0h0m3 0h1m2 0h0m15 0h2m3 0h0m7 0h0m24 0h0m-106 1h0m20 0h0m3 0h0m8 0h0m19 0h0m11 0h0m8 0h0m4 0h0m7 0h1m-64 1h0m19 0h0m2 0h0m11 0h0m5 0h0m20 0h0m-32 1h0m7 0h0m7 0h0m9 0h0m4 0h0m-32 1h0m18 0h0m7 0h0m2 0h0m8 0h0m7 0h0m19 0h0m-133 1h0m14 0h0m59 0h0m7 0h0m6 0h0m10 0h1m3 0h0m28 0h0m-81 1h0m22 0h0m13 0h0m9 0h0m9 0h0m8 0h0m-22 1h0m9 0h0m12 0h0m-36 1h0m14 0h1m2 0h0m7 1h2m2 0h0m3 0h1m18 0h0m-70 1h0m18 0h0m3 0h0m15 0h0m25 0h1m-26 1h0m31 0h0m16 0h0m-56 1h0m6 0h0m8 0h1m2 0h0m7 0h0m7 0h0m-16 1h0m10 0h0m8 0h0m-54 1h0m17 0h0m2 0h0m2 0h0m3 0h0m2 0h0m13 0h0m3 0h0m5 0h0m3 0h0m-47 1h0m2 0h0m13 0h0m11 0h0m12 0h0m10 0h0m22 0h0m11 0h0m-74 1h0m6 0h0m9 0h0m6 0h0m10 0h0m2 0h0m12 0h0m-56 1h0m28 0h0m6 0h1m2 0h0m9 0h0m10 0h0m-28 1h0m5 0h0m4 0h0m4 0h0m15 0h0m-46 1h0m3 0h0m12 0h0m8 0h0m3 0h1m16 0h0m5 0h0m34 0h0m-67 1h0m8 0h0m15 0h1m10 0h0m8 0h0m14 0h0m-35 1h0m2 0h0m-18 1h0m-21 1h0m8 0h1m12 0h0m4 0h0m2 0h0m-29 1h0m5 0h0m21 0h0m8 0h0m9 0h0m-42 1h0m10 0h1m-11 1h0m51 0h0m-55 1h0m15 0h0m17 0h0m39 1h0m-38 1h0m16 0h0m-24 1h0m91 0h0m-113 1h0m18 0h0m6 0h0m10 1h0m-23 1h0m15 0h0m7 0h0m7 0h0m15 0h0m21 0h0m-100 1h0m23 0h0m2 0h0m23 0h0m11 0h0m1 1h1m-18 1h0m3 0h0m8 0h0m10 0h0m29 0h0m4 0h0m-47 1h0m5 0h0m5 0h0m-26 1h0m28 0h0m2 0h0m-40 1h0m24 0h0m2 0h1m6 0h0m22 1h0m-73 1h0m8 0h0m11 0h0m68 0h0m-95 1h0m14 0h0m22 0h0m15 0h1m17 0h0m2 0h0m11 0h0m-39 1h0m11 0h0m25 0h0m2 0h0m-28 1h0m17 0h0m-35 1h0m6 0h0m-3 1h0m22 1h0m-37 1h0m4 0h0m28 0h0m17 0h0m-47 1h0m24 0h0m54 0h0m-113 1h0m60 0h0m64 0h0m-66 1h0m6 0h0m13 0h0m-20 1h0m13 0h1m25 0h0m-47 1h0m21 0h0m29 0h0m-64 2h0m19 1h0m10 0h0m23 0h0m-56 1h0m-24 1h0m95 0h0m25 0h0m-63 1h0m4 0h0m-29 1h0m5 0h0m35 0h0m-6 1h0m-10 1h0m2 0h0m-13 1h0m8 0h0m8 0h0m-2 1h0m6 0h0m-6 1h0m19 0h0m30 0h0m-136 1h0m70 0h0m11 0h0m18 3h0m-44 1h0m17 0h0m11 0h0m-36 1h0m21 1h0m17 0h0m6 0h0m-3 2h0m-103 2h0m66 0h0m29 0h0m8 0h0m-24 1h0m15 4h0m-8 1h0m104 0h0m-130 1h0m86 0h0m-82 1h0m14 1h0m-28 4h0m31 2h0m23 2h0m16 6h0m-58 29h0m30 0h0m4 0h0m23 0h0m16 0h0m6 0h0m20 0h0m-126 1h0m21 0h0m9 0h0m9 0h0m2 0h0m2 0h0m2 0h0m12 0h1m19 0h0m9 0h1m40 0h0" stroke="#bdbdbd"/>
<path d="M96 30h0m5 0h0m-9 1h0m35 0h0m-81 1h0m67 0h0m-11 1h0m30 1h0m-40 1h0m7 0h0m22 0h0m21 0h0m-94 2h0m68 0h0m-39 1h0m21 0h0m9 0h0m2 1h0m2 0h0m22 0h0m-63 1h0m2 0h0m29 0h0m4 0h0m2 0h0m3 0h0m3 0h0m3 0h2m3 0h0m9 0h0m3 0h0m27 0h0m2 0h0m-115 1h0m6 0h0m31 0h0m7 0h0m17 0h0m2 0h1m5 0h0m14 0h0m17 0h1m-116 1h0m59 0h0m2 0h0m8 0h0m5 0h1m17 0h1m4 0h0m10 0h0m-78 1h0m32 0h0m8 0h0m3 0h0m4 0h0m9 0h0m21 0h0m-36 1h0m6 0h1m2 0h0m3 0h0m4 0h0m2 0h0m10 0h0m11 0h0m-122 1h0m60 0h0m15 0h0m4 0h1m4 0h0m5 0h0m4 0h0m13 0h0m6 0h0m10 0h0m13 0h0m4 0h0m13 0h0m-155 1h0m64 0h0m10 0h0m2 0h0m3 0h0m31 0h0m24 0h0m-105 1h0m16 0h0m15 0h0m9 0h0m9 0h0m5 0h0m2 0h0m3 0h0m4 0h0m18 0h0m3 0h0m11 0h0m-55 1h0m5 0h0m9 0h0m5 0h0m3 0h0m16 0h0m8 0h0m9 0h0m-64 1h0m15 0h0m3 0h0m9 0h0m17 0h0m4 0h0m11 0h0m2 0h0m12 0h0m11 0h0m-133 1h0m46 0h0m3 0h0m2 0h0m2 0h0m10 0h0m7 0h0m2 0h0m3 0h1m6 0h0m23 0h0m4 0h0m3 0h0m7 0h0m4 0h0m-107 1h0m21 0h0m23 0h0m6 0h0m6 0h0m21 0h1m12 0h0m9 0h0m50 0h0m-168 1h0m2 0h0m20 0h0m19 0h0m22 0h0m2 0h0m4 0h0m6 0h0m8 0h0m6 0h0m4 0h0m3 0h0m33 0h0m4 0h0m-77 1h0m3 0h0m3 0h0m14 0h0m11 0h0m21 0h0m6 0h0m10 0h0m13 0h0m12 0h0m-109 1h0m6 0h0m14 0h0m6 0h0m2 0h0m7 0h0m8 0h0m22 0h0m6 0h0m-84 1h0m10 0h0m12 0h0m9 0h0m7 0h0m4 0h0m9 0h0m2 0h0m29 0h0m2 0h0m13 0h0m15 0h0m-142 1h0m66 0h0m44 0h0m8 0h0m3 0h0m7 0h0m9 0h0m9 0h1m-91 1h0m5 0h0m6 0h0m4 0h0m7 0h0m2 0h0m31 0h0m38 0h0m6 0h0m26 0h0m-136 1h0m5 0h0m2 0h0m8 0h0m6 0h0m7 0h1m12 0h0m16 0h0m7 0h0m14 0h0m9 0h0m9 0h1m-128 1h0m7 0h0m15 0h0m8 0h0m6 0h0m10 0h0m6 0h0m9 0h0m39 0h0m3 0h0m3 0h0m8 0h0m2 0h0m18 0h0m4 0h0m4 0h0m-175 1h0m76 0h0m32 0h0m34 0h0m2 0h0m10 0h0m6 0h0m26 0h0m-164 1h0m21 0h0m21 0h0m9 0h1m3 0h0m5 0h1m37 0h0m12 0h0m3 0h0m3 0h1m7 0h0m2 0h0m-101 1h0m9 0h0m3 0h0m6 0h0m15 0h0m3 0h0m7 0h0m58 0h0m9 0h0m4 0h0m11 0h0m17 0h0m-172 1h0m20 0h0m24 0h0m2 0h0m24 0h0m2 0h0m39 0h0m3 0h0m7 0h0m2 0h0m4 0h0m5 0h0m2 0h0m9 0h0m2 0h0m9 0h0m-142 1h0m8 0h0m33 0h0m5 0h0m4 0h1m4 0h0m2 0h1m48 0h0m16 0h0m4 0h1m6 0h1m10 0h0m-117 1h0m23 0h1m7 0h0m8 0h0m8 0h0m32 0h0m5 0h1m25 0h0m-101 1h0m4 0h0m5 0h0m19 0h0m2 0h0m10 0h0m18 0h0m4 0h0m8 0h0m13 0h0m11 0h0m-115 1h1m24 0h0m20 0h2m13 0h0m24 0h0m5 0h0m2 0h1m3 0h0m24 0h1m6 0h0m2 0h0m16 0h0m-140 1h1m23 0h1m3 0h0m3 0h0m2 0h0m19 0h0m10 0h0m15 0h0m14 0h0m2 0h0m7 0h0m14 0h0m5 0h0m-163 1h0m33 0h0m11 0h0m3 0h0m4 0h0m14 0h0m15 0h0m8 0h0m2 0h0m13 0h0m38 0h1m16 0h0m-129 1h0m4 0h0m14 0h0m39 0h0m3 0h1m18 0h1m12 0h0m10 0h0m11 0h0m7 0h0m8 0h0m2 0h0m2 0h0m17 0h0m4 0h0m-119 1h0m4 0h0m4 0h0m3 0h0m2 0h0m9 0h0m10 0h0m44 0h0m4 0h0m9 0h0m2 0h0m2 0h0m9 0h0m6 0h0m-152 1h0m20 0h0m31 0h0m4 0h0m2 0h0m6 0h0m5 0h0m25 0h0m2 0h1m10 0h0m8 0h0m25 0h0m6 0h0m3 0h0m-125 1h0m2 0h0m14 0h0m19 0h0m2 0h0m8 0h0m2 0h0m2 0h0m3 0h1m8 0h0m14 0h0m23 0h0m6 0h0m7 0h0m11 0h0m7 0h0m-115 1h0m22 0h1m12 0h0m5 0h1m2 0h0m4 0h0m3 0h0m4 0h0m8 0h0m3 0h1m3 0h0m10 0h0m4 0h0m13 0h0m28 0h0m-138 1h0m7 0h1m4 0h0m7 0h1m11 0h1m4 0h0m2 0h0m9 0h0m9 0h0m2 0h0m3 0h0m11 0h0m10 0h0m2 0h0m2 0h0m20 0h0m3 0h1m-127 1h0m5 0h0m8 0h0m42 0h0m3 0h1m6 0h0m5 0h0m5 0h1m8 0h0m12 0h0m9 0h0m34 0h0m15 0h0m-130 1h0m15 0h0m25 0h0m9 0h1m4 0h0m2 0h1m2 0h0m7 0h0m6 0h0m2 0h0m4 0h0m8 0h0m28 0h0m-161 1h0m40 0h0m29 0h0m3 0h0m4 0h0m7 0h0m2 0h0m6 0h0m3 0h0m6 0h0m9 0h3m3 0h0m4 0h0m5 0h0m5 0h2m8 0h0m4 0h0m-80 1h0m14 0h0m4 0h0m7 0h0m6 0h0m6 0h0m10 0h0m4 0h0m3 0h1m2 0h0m2 0h0m3 0h0m19 0h0m15 0h0m-127 1h0m43 0h0m15 0h0m9 0h0m5 0h0m18 0h0m6 0h0m3 0h0m2 0h0m12 0h0m-109 1h0m14 0h0m2 0h0m71 0h1m8 0h0m3 0h0m19 0h0m4 0h0m-95 1h0m11 0h0m21 0h0m37 0h0m4 0h1m6 0h0m31 0h0m-128 1h0m21 0h0m25 0h1m7 0h0m8 0h0m24 0h0m3 0h0m25 0h0m-87 1h0m9 0h0m17 0h0m8 0h0m5 0h0m2 0h0m15 0h0m-84 1h0m11 0h0m9 0h0m9 0h0m6 0h0m5 0h0m6 0h0m8 0h0m59 0h1m3 0h0m-119 1h0m30 0h0m10 0h0m5 0h0m4 0h0m2 0h0m3 0h0m7 0h1m12 0h0m24 0h1m-123 1h0m30 0h0m24 0h0m18 0h0m6 0h0m11 0h0m4 0h0m-71 1h0m2 0h0m40 0h0m19 0h0m6 0h0m-34 1h0m5 0h0m13 0h1m13 0h0m37 0h0m9 0h0m-82 1h0m14 0h1m45 0h1m-47 1h0m2 0h0m62 0h0m-106 1h0m34 0h0m2 0h0m30 0h1m3 0h0m3 0h0m17 0h0m-25 1h0m45 0h0m-127 1h1m5 0h0m54 0h0m18 0h0m-68 1h0m31 0h0m9 0h0m18 0h0m2 0h0m4 0h0m3 0h2m5 0h2m18 0h0m-51 1h0m36 0h0m-29 1h0m8 0h0m21 0h0m5 0h0m-36 1h0m32 0h0m18 0h0m13 0h0m-84 1h0m19 0h0m6 0h0m13 0h0m12 0h0m2 0h0m-38 1h0m9 0h0m9 0h0m11 0h0m21 0h0m-39 1h0m7 0h0m5 0h0m16 0h1m24 0h0m-40 1h0m2 0h0m13 0h0m-57 1h0m28 0h0m10 0h1m12 0h0m16 0h0m-40 1h0m7 0h1m10 0h0m13 0h0m-101 1h0m53 0h0m37 0h0m23 0h0m-44 1h0m6 0h0m8 0h0m2 0h0m20 0h0m3 0h0m4 0h0m-52 1h0m4 0h0m3 0h0m24 0h0m7 0h0m6 0h0m2 0h0m3 0h0m-80 1h0m48 0h0m3 0h0m2 0h0m7 0h0m20 0h0m-46 1h0m9 0h0m36 0h0m-55 1h0m5 0h0m13 0h0m2 0h2m9 0h0m7 0h2m-64 1h0m39 0h0m5 0h1m8 0h0m3 0h0m2 0h0m10 0h0m4 0h0m3 0h0m-66 1h0m18 0h0m6 0h0m7 0h0m3 0h0m8 0h0m14 0h0m-34 1h0m32 0h0m31 0h0m-61 1h0m19 0h0m23 0h0m19 0h0m-71 1h0m11 0h0m2 0h0m5 0h0m3 0h0m6 0h0m9 0h0m28 0h0m-69 1h0m23 0h0m14 0h0m3 0h0m15 0h0m-32 1h0m11 0h0m-54 1h0m22 0h0m28 0h0m25 0h0m2 0h0m4 0h0m17 0h1m-61 1h0m7 0h0m6 0h0m-27 1h0m19 0h0m28 0h0m-52 1h0m13 0h0m5 0h0m13 0h0m8 0h0m-32 1h0m14 0h0m7 0h0m17 0h0m9 0h0m-40 1h0m11 0h0m6 0h0m5 0h1m5 0h0m5 0h0m13 0h0m20 0h0m-67 1h0m12 0h0m2 0h0m4 0h0m6 0h0m12 0h0m17 0h0m15 0h0m-60 1h0m4 0h0m3 0h0m-16 1h0m8 0h0m22 0h0m29 0h0m-53 1h0m12 0h0m15 0h0m-12 1h1m4 0h1m10 0h0m2 0h0m9 0h0m-42 1h0m3 0h0m3 0h0m9 0h0m16 0h0m27 0h0m-70 1h0m14 0h0m2 0h0m26 0h0m-35 1h0m13 0h1m9 0h0m15 0h0m-36 1h0m32 0h0m3 0h0m5 0h0m-59 1h0m31 0h0m3 0h0m3 0h0m16 0h0m11 0h0m-46 1h0m8 0h0m21 0h0m4 0h0m-40 1h0m8 0h0m7 0h0m3 0h0m10 0h0m13 0h0m-35 1h0m6 0h0m10 0h1m17 0h0m3 0h0m-40 1h0m26 0h0m3 0h1m6 0h0m4 0h0m4 0h0m-71 1h0m21 0h0m20 0h0m6 0h0m25 0h0m13 0h0m-70 1h0m9 0h0m13 0h0m42 0h0m2 0h0m-62 1h1m3 0h0m23 0h0m12 0h0m2 0h0m5 0h0m-29 1h0m20 0h0m20 0h0m-67 1h0m19 0h2m38 0h0m-70 1h0m66 0h0m8 0h0m-36 1h0m35 0h0m-43 1h0m7 0h0m21 0h0m16 0h0m-60 1h0m3 0h0m15 0h0m27 0h0m11 0h0m28 0h0m-102 1h0m13 0h0m37 0h0m19 0h0m4 0h0m2 0h0m11 0h0m14 0h0m-61 1h0m5 0h0m24 0h0m-40 1h0m20 0h0m5 0h0m8 0h0m7 0h0m14 0h0m-40 1h0m6 0h0m7 0h0m-38 1h0m19 0h0m3 0h0m7 0h0m5 0h0m20 0h0m14 0h0m-55 1h0m12 0h0m21 0h0m4 0h0m11 0h0m-6 1h1m39 0h0m-150 1h0m109 0h0m8 0h0m-34 1h0m21 0h0m10 0h0m-7 1h0m48 0h0m14 0h0m-107 1h0m4 0h0m12 0h0m5 0h0m2 0h0m13 0h0m37 0h0m-61 1h0m3 0h0m3 0h0m5 0h0m13 0h0m13 0h0m-47 1h0m42 1h0m7 0h1m5 0h0m-29 1h0m23 0h0m15 0h0m-30 1h0m16 0h0m-34 2h0m17 0h0m9 0h0m-63 1h0m26 0h0m27 2h0m12 0h0m6 1h0m-50 2h0m86 0h0m-98 1h0m23 1h0m23 0h0m8 0h0m-63 1h0m46 0h0m22 0h0m-3 1h0m2 1h0m-12 1h0m15 1h0m-51 1h0m18 0h0m2 1h0m-2 1h0m-4 4h0m2 0h0m46 0h0m-62 4h0m40 0h0m-4 1h1m-10 2h0m28 1h0m-21 1h0m-17 1h0m53 0h0m-8 16h0m-68 1h0m53 4h0m-51 21h0m49 0h1m9 0h0m-37 1h0m24 0h0m10 0h0m3 0h0m8 0h0m50 0h0" stroke="#707070"/>
<path d="M115 35h0m0 1h0m8 0h0m-30 1h0m29 0h0m-2 1h0m-21 1h0m6 0h0m13 0h0m4 0h0m5 0h0m-62 1h0m46 0h0m3 0h0m9 0h0m6 0h0m29 0h0m-62 1h0m19 0h0m3 0h0m7 0h0m8 0h1m12 0h0m-41 1h0m5 0h0m3 0h0m4 0h0m4 0h1m8 0h1m-28 1h0m2 0h0m5 0h0m5 0h0m5 0h1m4 0h1m4 0h0m6 0h0m3 0h1m-101 1h0m27 0h0m23 0h0m11 0h0m3 0h0m2 0h2m12 0h0m3 0h2m2 0h0m7 0h0m-56 1h0m15 0h0m8 0h0m2 0h0m4 0h0m5 0h0m3 0h1m2 0h1m3 0h0m3 0h0m2 0h0m2 0h1m3 0h0m2 0h0m3 0h0m-77 1h0m17 0h0m8 0h0m8 0h0m6 0h0m5 0h0m3 0h0m2 0h5m2 0h1m2 0h0m3 0h0m3 0h0m2 0h2m2 0h0m5 0h0m19 0h0m-59 1h0m2 0h0m2 0h0m2 0h1m2 0h0m2 0h0m4 0h0m2 0h0m4 0h5m2 0h1m3 0h0m2 0h3m5 0h0m-123 1h0m80 0h0m2 0h0m3 0h3m3 0h0m2 0h4m2 0h4m2 0h2m2 0h4m-107 1h0m64 0h0m7 0h0m4 0h0m3 0h0m2 0h1m3 0h0m2 0h0m2 0h2m2 0h2m2 0h2m3 0h1m3 0h0m6 0h0m12 0h0m2 0h0m6 0h0m10 0h0m-76 1h1m2 0h0m4 0h0m2 0h0m3 0h0m6 0h4m2 0h14m4 0h2m3 0h0m11 0h1m3 0h0m-99 1h0m26 0h0m7 0h0m15 0h1m3 0h0m3 0h4m2 0h9m3 0h1m2 0h1m2 0h0m2 0h2m4 0h0m4 0h0m-79 1h0m24 0h0m10 0h3m2 0h0m2 0h2m2 0h0m2 0h4m2 0h2m3 0h0m2 0h4m2 0h2m2 0h4m2 0h0m3 0h1m-119 1h0m53 0h0m3 0h0m3 0h0m8 0h0m4 0h2m2 0h2m2 0h5m2 0h0m2 0h0m2 0h11m2 0h4m8 0h0m4 0h2m-103 1h0m37 0h0m9 0h0m8 0h4m2 0h1m2 0h3m2 0h5m2 0h0m2 0h6m2 0h3m2 0h4m8 0h2m5 0h0m11 0h0m-94 1h0m25 0h1m5 0h4m2 0h0m2 0h27m2 0h0m2 0h3m2 0h0m9 0h0m5 0h0m10 0h0m10 0h0m-135 1h0m37 0h0m12 0h0m2 0h0m3 0h0m2 0h2m3 0h2m2 0h23m4 0h2m2 0h0m7 0h0m3 0h0m6 0h0m2 0h0m-122 1h0m36 0h0m13 0h0m9 0h1m4 0h3m2 0h0m2 0h28m3 0h5m6 0h0m5 0h0m6 0h0m5 0h0m6 0h0m-98 1h0m17 0h0m8 0h0m3 0h0m2 0h8m2 0h13m3 0h5m4 0h3m2 0h0m12 0h0m25 0h0m-122 1h0m30 0h1m5 0h1m2 0h0m2 0h0m3 0h2m2 0h22m2 0h4m2 0h2m3 0h1m6 0h0m33 0h0m6 0h0m2 0h0m-126 1h0m8 0h0m8 0h0m2 0h0m7 0h0m3 0h0m4 0h0m4 0h2m3 0h10m2 0h17m2 0h6m2 0h1m2 0h0m2 0h0m7 0h0m3 0h0m4 0h0m3 0h0m3 0h0m-99 1h1m7 0h0m11 0h0m11 0h0m3 0h0m2 0h8m2 0h12m2 0h0m2 0h6m4 0h0m4 0h0m18 0h0m5 0h0m11 0h0m-104 1h0m18 0h0m6 0h6m2 0h1m2 0h2m2 0h7m2 0h9m2 0h4m2 0h0m2 0h0m2 0h0m2 0h0m3 0h2m2 0h1m5 0h0m4 0h0m5 0h0m4 0h0m5 0h0m2 0h0m16 0h0m-135 1h0m19 0h0m8 0h0m11 0h0m2 0h2m2 0h22m2 0h7m2 0h1m2 0h1m2 0h1m5 0h1m4 0h1m5 0h0m2 0h0m20 0h0m2 0h0m-140 1h0m9 0h0m12 0h0m26 0h0m5 0h0m4 0h3m2 0h5m2 0h28m2 0h0m2 0h2m4 0h0m2 0h0m9 0h1m7 0h0m9 0h0m-87 1h0m2 0h0m3 0h0m2 0h2m4 0h0m2 0h4m3 0h23m2 0h4m2 0h1m6 0h1m15 0h1m2 0h0m-108 1h0m23 0h0m2 0h0m4 0h0m2 0h0m3 0h1m2 0h1m4 0h0m2 0h4m2 0h0m3 0h2m2 0h11m2 0h2m2 0h4m4 0h0m7 0h0m15 0h0m40 0h0m-119 1h0m14 0h5m2 0h3m2 0h1m2 0h6m2 0h0m2 0h3m2 0h4m2 0h0m2 0h1m2 0h0m4 0h0m2 0h0m16 0h1m8 0h0m-109 1h0m31 0h0m2 0h0m2 0h0m2 0h1m2 0h1m2 0h0m2 0h8m3 0h12m2 0h3m4 0h0m5 0h0m4 0h1m10 0h0m22 0h0m-104 1h0m6 0h0m5 0h0m5 0h1m2 0h1m4 0h4m2 0h5m2 0h7m3 0h4m2 0h0m2 0h0m2 0h0m2 0h0m2 0h0m2 0h1m4 0h0m5 0h0m4 0h0m7 0h0m2 0h0m7 0h0m-79 1h0m2 0h0m4 0h0m5 0h6m3 0h2m4 0h0m4 0h6m2 0h1m2 0h0m5 0h0m5 0h0m5 0h0m2 0h1m7 0h0m51 0h0m-173 1h0m48 0h0m11 0h0m4 0h2m2 0h0m2 0h0m2 0h1m2 0h0m2 0h0m2 0h1m2 0h11m2 0h0m2 0h1m4 0h0m4 0h1m2 0h0m2 0h0m7 0h0m3 0h0m3 0h0m28 0h0m-151 1h0m50 0h0m10 0h0m3 0h0m2 0h0m3 0h0m2 0h8m3 0h4m3 0h0m3 0h1m3 0h2m2 0h0m2 0h0m5 0h0m5 0h0m5 0h0m4 0h0m16 0h0m-114 1h0m37 0h0m8 0h0m6 0h0m2 0h0m4 0h1m4 0h2m2 0h3m3 0h3m5 0h0m2 0h1m3 0h0m4 0h0m4 0h0m4 0h0m4 0h0m2 0h0m5 0h0m6 0h0m3 0h0m-147 1h0m74 0h0m13 0h0m4 0h0m2 0h3m2 0h1m6 0h0m4 0h0m2 0h0m7 0h0m2 0h0m7 0h0m16 0h0m6 0h0m-101 1h0m9 0h0m15 0h0m4 0h1m4 0h0m2 0h1m4 0h1m4 0h1m3 0h1m3 0h0m2 0h0m2 0h0m4 0h0m8 0h0m3 0h0m31 0h0m-91 1h0m8 0h0m8 0h0m2 0h0m6 0h3m5 0h1m3 0h0m2 0h0m2 0h0m5 0h0m4 0h1m3 0h0m3 0h1m3 0h1m-131 1h0m65 0h0m12 0h0m3 0h0m12 0h0m11 0h1m14 0h0m18 0h0m21 0h0m-92 1h0m2 0h0m11 0h0m12 0h1m4 0h1m2 0h2m8 0h0m2 0h0m7 0h0m2 0h0m8 0h0m26 0h0m-165 1h0m32 0h0m21 0h0m9 0h0m16 0h0m10 0h0m3 0h0m7 0h0m4 0h0m6 0h0m2 0h1m6 0h0m15 0h0m-52 1h0m7 0h0m8 0h0m2 0h0m2 0h0m3 0h0m15 0h0m13 0h0m-44 1h0m10 0h0m7 0h0m3 0h0m6 0h0m2 0h0m2 0h0m2 0h0m9 0h0m36 0h0m-100 1h0m10 0h0m3 0h0m12 0h0m2 0h0m31 0h0m7 0h0m6 0h0m-41 1h1m15 0h0m9 0h0m5 0h0m5 0h0m34 0h0m-91 1h0m6 0h0m15 0h0m17 0h0m8 0h0m-36 1h0m3 0h0m27 0h0m8 0h0m-46 1h0m28 0h1m14 0h0m20 0h0m13 0h0m-76 1h0m29 0h0m3 0h1m16 0h0m-58 1h0m40 1h0m6 0h0m38 0h0m-83 1h0m43 0h0m50 0h0m-80 1h0m16 0h0m21 0h0m6 0h0m25 0h0m-57 1h1m7 0h0m6 0h0m-54 1h0m58 0h0m19 0h0m-30 1h0m10 0h0m18 0h0m-85 1h0m53 0h1m20 0h0m-35 2h0m2 0h0m20 0h1m38 0h0m-121 1h0m74 0h0m8 0h0m15 0h0m-43 1h0m9 0h0m2 0h0m9 0h0m2 0h0m11 0h0m17 0h1m44 0h0m-82 1h0m4 0h0m12 0h0m2 0h0m36 0h0m-68 1h0m16 0h0m3 0h1m7 0h1m18 0h0m-8 1h0m3 0h0m-31 1h0m25 0h0m2 0h0m15 0h0m-17 1h0m17 0h0m-48 1h0m22 0h0m21 0h0m7 0h0m-31 1h0m7 0h0m36 0h0m-34 1h0m3 0h0m17 0h0m13 0h0m-110 1h0m65 0h0m4 0h0m9 0h0m9 0h0m-21 1h0m10 0h0m2 0h0m4 0h0m-19 1h0m11 0h0m1 1h0m6 0h0m5 0h0m4 0h0m-24 1h0m5 0h0m5 0h0m8 0h0m17 0h0m-43 1h0m7 0h0m10 0h0m3 0h0m26 0h0m-43 1h0m5 0h0m5 0h0m4 0h0m4 0h0m8 0h0m17 0h0m-40 1h0m12 0h1m2 0h1m4 0h0m3 0h0m4 0h0m2 0h0m-40 1h0m20 0h0m5 0h0m9 0h1m3 0h2m-31 1h0m9 0h0m2 0h0m19 0h0m-21 1h0m2 0h1m3 0h0m5 0h0m5 0h0m15 0h0m-45 1h0m14 0h0m4 0h0m12 0h0m6 0h1m8 0h0m-36 1h0m8 0h0m12 0h0m3 0h0m-26 1h0m25 0h0m-7 1h0m12 0h0m-11 1h0m8 0h0m-35 1h0m4 0h0m25 0h0m4 0h0m-25 1h0m12 0h0m3 0h0m57 0h0m-50 1h0m6 0h0m5 0h0m-29 1h0m24 0h0m-46 1h0m50 0h0m-26 1h0m3 0h0m5 0h0m6 0h0m-34 1h0m19 0h0m2 0h0m11 0h0m12 0h0m2 0h0m-24 1h0m8 0h0m8 0h2m2 0h0m-36 1h0m11 0h0m4 0h0m14 0h0m16 0h0m-33 1h0m20 0h0m-11 1h0m-7 1h0m5 0h0m4 0h0m7 0h1m14 0h0m9 0h0m9 0h0m-41 1h0m61 0h0m-102 1h0m37 0h0m11 0h0m15 1h0m-22 1h0m-12 1h1m2 0h0m8 0h0m-25 1h0m14 0h0m12 0h0m18 0h0m-27 1h0m6 0h0m5 0h0m4 0h0m3 0h0m4 1h0m-37 1h0m27 0h0m33 0h0m-8 1h0m-40 1h0m2 0h0m42 1h0m-49 1h0m10 0h0m4 0h0m8 0h0m21 0h0m-65 1h0m29 0h0m15 1h0m-12 1h0m2 0h0m-23 2h0m82 0h0m-67 1h0m19 0h0m9 0h0m-9 2h0m18 0h0m-21 1h0m-3 1h0m29 0h0m-34 1h0m8 0h0m17 1h0m-68 1h0m50 0h0m-48 2h0m56 0h0m-58 1h0m34 1h0m18 2h0m-47 1h1m33 0h0m2 0h0m2 0h0m-12 2h0m63 0h0m-52 1h0m27 0h0m-17 1h0m32 2h0m-70 1h0m36 1h0m-31 2h0m30 3h0m-14 6h0m34 1h0m-41 4h0m-1 4h0m-4 5h0m0 3h0m-30 32h0m11 0h0m20 0h0m7 0h1m13 0h0m2 0h1m3 0h0m6 0h0m30 0h0m15 0h0m-127 1h0m20 0h0m21 0h0m28 0h0m10 0h0m8 0h0m13 0h0" stroke="#000"/>
</g>
<rect x="420.6" y="1615.9" width="239.2" height="238.9" fill="none" stroke="#444" stroke-width="1.3"/>
<path d="M558.6 1615.9V1854.8M420.6 1745.6H659.8" stroke="#000" stroke-width="1.9" fill="none"/>
<path d="M413.6 1854.8H420.6M413.6 1810.7H420.6M413.6 1766.6H420.6M413.6 1722.5H420.6M413.6 1678.4H420.6M413.6 1634.3H420.6M420.6 1854.8V1861.3M464.7 1854.8V1861.3M508.8 1854.8V1861.3M552.9 1854.8V1861.3M597.0 1854.8V1861.3M641.1 1854.8V1861.3" stroke="#111" stroke-width="2" fill="none"/>
<path d="M417.1 1841.5H420.6M417.1 1833.8H420.6M417.1 1828.2H420.6M417.1 1824.0H420.6M417.1 1820.5H420.6M417.1 1817.5H420.6M417.1 1815.0H420.6M417.1 1812.7H420.6M417.1 1797.4H420.6M417.1 1789.7H420.6M417.1 1784.1H420.6M417.1 1779.9H420.6M417.1 1776.4H420.6M417.1 1773.4H420.6M417.1 1770.9H420.6M417.1 1768.6H420.6M417.1 1753.3H420.6M417.1 1745.6H420.6M417.1 1740.0H420.6M417.1 1735.8H420.6M417.1 1732.3H420.6M417.1 1729.3H420.6M417.1 1726.8H420.6M417.1 1724.5H420.6M417.1 1709.2H420.6M417.1 1701.5H420.6M417.1 1695.9H420.6M417.1 1691.7H420.6M417.1 1688.2H420.6M417.1 1685.2H420.6M417.1 1682.7H420.6M417.1 1680.4H420.6M417.1 1665.1H420.6M417.1 1657.4H420.6M417.1 1651.8H420.6M417.1 1647.6H420.6M417.1 1644.1H420.6M417.1 1641.1H420.6M417.1 1638.6H420.6M417.1 1636.3H420.6M417.1 1621.0H420.6M433.9 1854.8V1858.3M441.6 1854.8V1858.3M447.2 1854.8V1858.3M451.4 1854.8V1858.3M454.9 1854.8V1858.3M457.9 1854.8V1858.3M460.4 1854.8V1858.3M462.7 1854.8V1858.3M478.0 1854.8V1858.3M485.7 1854.8V1858.3M491.3 1854.8V1858.3M495.5 1854.8V1858.3M499.0 1854.8V1858.3M502.0 1854.8V1858.3M504.5 1854.8V1858.3M506.8 1854.8V1858.3M522.1 1854.8V1858.3M529.8 1854.8V1858.3M535.4 1854.8V1858.3M539.6 1854.8V1858.3M543.1 1854.8V1858.3M546.1 1854.8V1858.3M548.6 1854.8V1858.3M550.9 1854.8V1858.3M566.2 1854.8V1858.3M573.9 1854.8V1858.3M579.5 1854.8V1858.3M583.7 1854.8V1858.3M587.2 1854.8V1858.3M590.2 1854.8V1858.3M592.7 1854.8V1858.3M595.0 1854.8V1858.3M610.3 1854.8V1858.3M618.0 1854.8V1858.3M623.6 1854.8V1858.3M627.8 1854.8V1858.3M631.3 1854.8V1858.3M634.3 1854.8V1858.3M636.8 1854.8V1858.3M639.1 1854.8V1858.3M654.4 1854.8V1858.3" stroke="#333" stroke-width="1.1" fill="none"/>
<text x="424.8" y="1640.7" font-family="'Liberation Serif', serif" font-size="16.5" font-weight="bold" text-anchor="start" >87,1</text>
<text x="638.1" y="1640.7" font-family="'Liberation Serif', serif" font-size="16.5" font-weight="bold" text-anchor="end" >4,31</text>
<text x="424.8" y="1839.5" font-family="'Liberation Serif', serif" font-size="16.5" font-weight="bold" text-anchor="start" >8,59</text>
<text x="634.6" y="1839.5" font-family="'Liberation Serif', serif" font-size="16.5" font-weight="bold" text-anchor="end" >0,039</text>
<rect x="117.8" y="1876.3" width="235.0" height="7.4" fill="#000"/>
<rect x="422.0" y="1876.3" width="234.6" height="7.4" fill="#000"/>
<text x="149.7" y="1923.4" font-family="'Liberation Serif', serif" font-size="29.5" font-weight="normal" text-anchor="start"  textLength="181.6" lengthAdjust="spacingAndGlyphs">Kir2DL2/DL3</text>
<text x="483.2" y="1923.4" font-family="'Liberation Serif', serif" font-size="29.5" font-weight="normal" text-anchor="start"  textLength="109.2" lengthAdjust="spacingAndGlyphs">Kir3DL1</text>
<path d="M1115.0 1626.9L1115.0 1880.5" stroke="#000" stroke-width="2.2" fill="none"/>
<path d="M1108.0 1880.5L1493.9 1880.5" stroke="#000" stroke-width="2.2" fill="none"/>
<path d="M1108.0 1626.9L1115.0 1626.9" stroke="#000" stroke-width="2.2" fill="none"/>
<text x="1106.0" y="1633.7" font-family="'Liberation Sans', sans-serif" font-size="19" font-weight="bold" text-anchor="end" >10</text>
<path d="M1108.0 1678.0L1115.0 1678.0" stroke="#000" stroke-width="2.2" fill="none"/>
<text x="1106.0" y="1684.8" font-family="'Liberation Sans', sans-serif" font-size="19" font-weight="bold" text-anchor="end" >8</text>
<path d="M1108.0 1728.5L1115.0 1728.5" stroke="#000" stroke-width="2.2" fill="none"/>
<text x="1106.0" y="1735.3" font-family="'Liberation Sans', sans-serif" font-size="19" font-weight="bold" text-anchor="end" >6</text>
<path d="M1108.0 1779.1L1115.0 1779.1" stroke="#000" stroke-width="2.2" fill="none"/>
<text x="1106.0" y="1785.9" font-family="'Liberation Sans', sans-serif" font-size="19" font-weight="bold" text-anchor="end" >4</text>
<path d="M1108.0 1829.9L1115.0 1829.9" stroke="#000" stroke-width="2.2" fill="none"/>
<text x="1106.0" y="1836.7" font-family="'Liberation Sans', sans-serif" font-size="19" font-weight="bold" text-anchor="end" >2</text>
<path d="M1108.0 1880.5L1115.0 1880.5" stroke="#000" stroke-width="2.2" fill="none"/>
<text x="1106.0" y="1887.3" font-family="'Liberation Sans', sans-serif" font-size="19" font-weight="bold" text-anchor="end" >0</text>
<path d="M1209.6 1880.5L1209.6 1887.7" stroke="#000" stroke-width="2.2" fill="none"/>
<path d="M1398.9 1880.5L1398.9 1887.7" stroke="#000" stroke-width="2.2" fill="none"/>
<text x="1150.4" y="1906.6" font-family="'Liberation Serif', serif" font-size="19" font-weight="bold" text-anchor="start"  textLength="117" lengthAdjust="spacingAndGlyphs">Kir2DL2/DL3</text>
<text x="1397.8" y="1906.6" font-family="'Liberation Serif', serif" font-size="19" font-weight="bold" text-anchor="middle" >Kir3DL1</text>
<text transform="translate(1068.5,1852.8) rotate(-90)" font-family="'Liberation Serif', serif" font-size="22" font-weight="bold" textLength="201.8" lengthAdjust="spacingAndGlyphs">CD56<tspan dy="-8.8" font-size="15.4">+</tspan><tspan dy="8.8"> cells week 3 [%]</tspan></text>
<rect x="1151.0" y="1804.9" width="45.7" height="31.0" fill="#EE3224" stroke="#000" stroke-width="2.6" rx="1"/>
<rect x="1150.7" y="1822.1" width="46.3" height="2.2" fill="#000" />
<rect x="1220.1" y="1799.0" width="49.2" height="67.8" fill="#000" rx="0.8"/>
<rect x="1340.5" y="1633.0" width="45.8" height="188.4" fill="#EE3224" stroke="#000" stroke-width="2.6" rx="1"/>
<rect x="1340.2" y="1740.1" width="46.4" height="2.2" fill="#000" />
<rect x="1409.2" y="1745.2" width="49.7" height="73.2" fill="#000" rx="0.8"/>
<rect x="1518.5" y="1636.4" width="29.4" height="17.5" fill="#EE3224" stroke="#000" stroke-width="2.6" rx="1"/>
<rect x="1517.2" y="1664.3" width="32.0" height="20.3" fill="#000" />
<text x="1562.3" y="1652.3" font-family="'Liberation Serif', serif" font-size="21" font-weight="normal" text-anchor="start"  textLength="162.5" lengthAdjust="spacingAndGlyphs">Untreated OP9-DL1</text>
<text x="1562.3" y="1681.0" font-family="'Liberation Serif', serif" font-size="21" font-weight="normal" text-anchor="start"  textLength="192.4" lengthAdjust="spacingAndGlyphs">MMC treated OP9-DL1</text>
</svg>
</body></html>
